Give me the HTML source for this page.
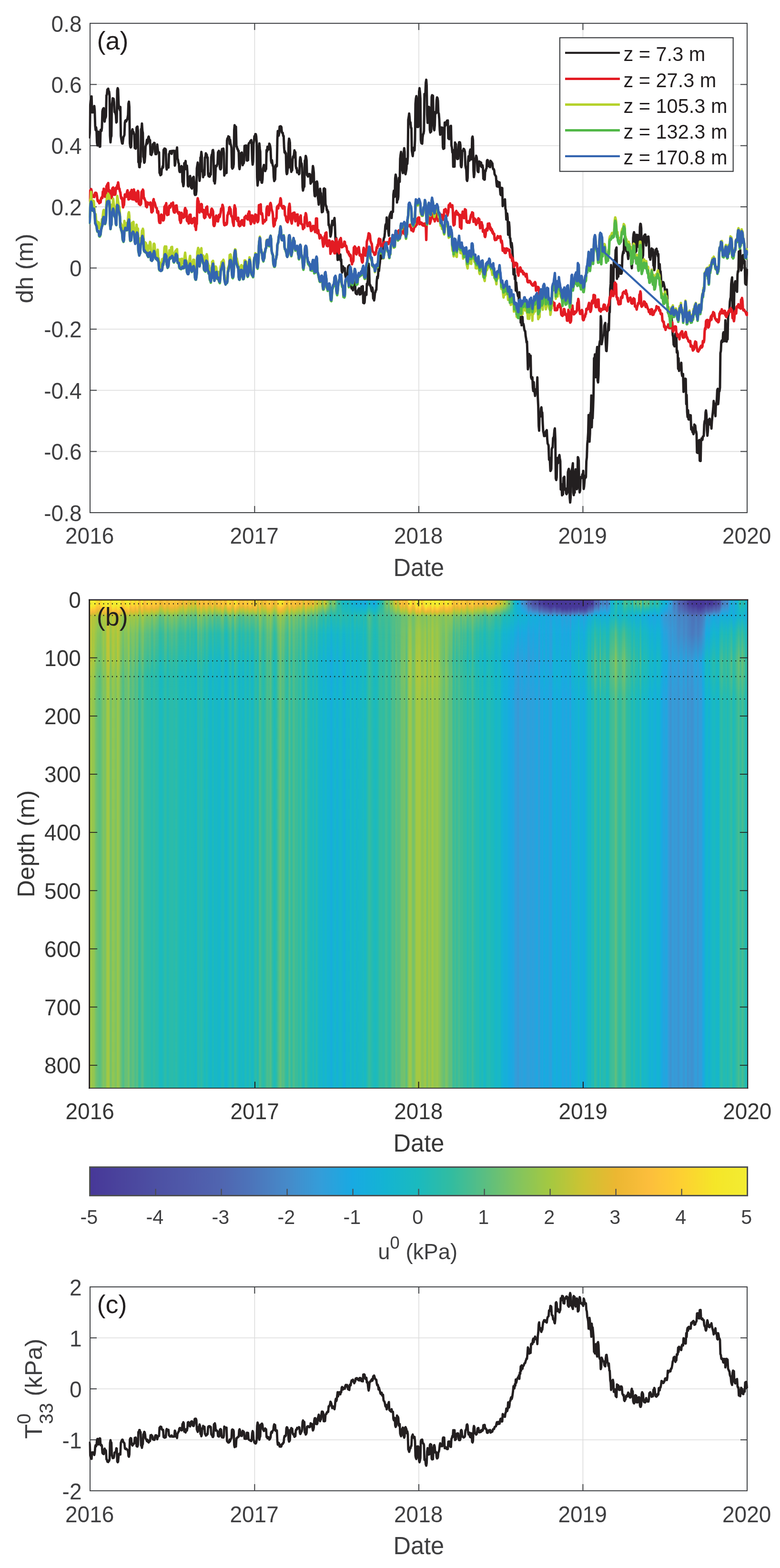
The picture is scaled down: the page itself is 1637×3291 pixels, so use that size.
<!DOCTYPE html><html><head><meta charset="utf-8"><title>Figure</title><style>
html,body{margin:0;padding:0;background:#fff}
#fig{position:relative;width:1637px;height:3291px;overflow:hidden;background:#fff;font-family:"Liberation Sans",sans-serif}
.hm{position:absolute;left:187.6px;top:1259.0px;width:1381.6px;height:1024.9px}
svg{position:absolute;left:0;top:0}
text{font-family:"Liberation Sans",sans-serif}
#h0{background:linear-gradient(90deg,#f3ea2f 0.07%,#f2ec32 0.14%,#f2ec32 0.22%,#f2ec32 0.29%,#f2ec32 0.36%,#f2ec32 0.43%,#f2ec32 0.51%,#f2ec32 0.58%,#f2ec32 0.65%,#f2ec32 0.72%,#f2ec31 0.80%,#f5e629 0.87%,#f6e429 0.94%,#f5e529 1.01%,#f9db2d 1.09%,#fdcf32 1.16%,#fbd430 1.23%,#f8de2c 1.30%,#f8dd2c 1.38%,#fcd131 1.45%,#fdcc34 1.52%,#fdcc34 1.59%,#f7e02b 1.66%,#f6e329 1.74%,#f7e22a 1.81%,#f5e628 1.88%,#f2ec32 1.95%,#f2ec32 2.03%,#f2ec32 2.10%,#f2ec32 2.17%,#f3e92d 2.24%,#f4e92d 2.32%,#f3ea2e 2.39%,#f3ea2f 2.46%,#f2ec32 2.53%,#f2ec32 2.61%,#f2ec32 2.68%,#f2ec32 2.75%,#f2ec32 2.82%,#f2ec32 2.90%,#f2ec32 2.97%,#f2ec32 3.04%,#f9db2d 3.11%,#fcd231 3.18%,#fad92e 3.26%,#f6e329 3.33%,#f2ec32 3.40%,#f2ec32 3.47%,#f2ec32 3.55%,#f2ec32 3.62%,#f2ec32 3.69%,#f2ec32 3.76%,#f2ec32 3.84%,#f2ec31 3.91%,#f3eb30 3.98%,#f4e92c 4.05%,#f4e82c 4.13%,#f2ec32 4.20%,#f2ec32 4.27%,#f2ec32 4.34%,#f2ec32 4.42%,#f2ec32 4.49%,#f2ec32 4.56%,#f2ec32 4.63%,#f3eb30 4.70%,#fad92e 4.78%,#fbd530 4.85%,#fdd132 4.92%,#fdd032 4.99%,#fcd331 5.07%,#fad82e 5.14%,#f9da2e 5.21%,#f9db2d 5.28%,#f4e72a 5.36%,#f4e92c 5.43%,#f4e92d 5.50%,#f4e82c 5.57%,#f4e92d 5.65%,#f3e92d 5.72%,#f3ea2f 5.79%,#f2ec32 5.86%,#f2ec32 5.94%,#f2ec32 6.01%,#f4e82c 6.08%,#fdce33 6.15%,#fdcc34 6.22%,#fdcc34 6.30%,#fbd72f 6.37%,#f7e02b 6.44%,#f6e329 6.51%,#f8df2b 6.59%,#f7e02b 6.66%,#f8de2c 6.73%,#f9dc2d 6.80%,#fdcb35 6.88%,#fdcd34 6.95%,#fdcb35 7.02%,#fcd430 7.09%,#f5e628 7.17%,#f5e629 7.24%,#f5e528 7.31%,#fdce33 7.38%,#f9bd3a 7.46%,#f6bb38 7.53%,#f3ba37 7.60%,#f7bc39 7.67%,#f9bd3a 7.74%,#f9db2d 7.82%,#f6e429 7.89%,#f4e72a 7.96%,#f6e22a 8.03%,#f8dd2c 8.11%,#fcc03b 8.18%,#fcbe3c 8.25%,#f8bc3a 8.32%,#fabd3b 8.40%,#fcc538 8.47%,#fdcd34 8.54%,#fdcf33 8.61%,#fcd331 8.69%,#fcd231 8.76%,#fcd231 8.83%,#fbd72f 8.90%,#fad92e 8.98%,#fbd72f 9.05%,#fcd331 9.12%,#fbd430 9.19%,#fcc439 9.26%,#fcc439 9.34%,#fcc339 9.41%,#fcc538 9.48%,#fdc737 9.55%,#fdce33 9.63%,#fdce33 9.70%,#fdd032 9.77%,#fdd032 9.84%,#fdcc34 9.92%,#fcc538 9.99%,#fcc439 10.06%,#fcc439 10.13%,#fcc638 10.21%,#fdcd34 10.28%,#fdcb35 10.35%,#fcc638 10.42%,#fcc638 10.50%,#fcc538 10.57%,#edb833 10.64%,#ecb732 10.71%,#eab732 10.78%,#ecb732 10.86%,#edb833 10.93%,#f1ba36 11.00%,#f2ba36 11.07%,#f3ba37 11.15%,#fcbf3c 11.22%,#fdc837 11.29%,#fdc936 11.36%,#fcc737 11.44%,#fdc936 11.51%,#fdc936 11.58%,#f6bc38 11.65%,#f1b935 11.73%,#f3ba37 11.80%,#f4bb37 11.87%,#f5bb38 11.94%,#f5bb38 12.02%,#fcc439 12.09%,#fcc538 12.16%,#fcc737 12.23%,#fcc737 12.30%,#fcc638 12.38%,#fcc439 12.45%,#fcc638 12.52%,#fdc737 12.59%,#fcc737 12.67%,#fdc737 12.74%,#fdc737 12.81%,#fcc637 12.88%,#f6bb38 12.96%,#f6bc39 13.03%,#fcc638 13.10%,#fdc837 13.17%,#fdc837 13.25%,#fdc836 13.32%,#fcbe3c 13.39%,#fabd3b 13.46%,#f7bc39 13.54%,#f3ba37 13.61%,#eeb834 13.68%,#eeb834 13.75%,#eeb834 13.82%,#f2ba36 13.90%,#f4bb37 13.97%,#f3ba37 14.04%,#e1bb32 14.11%,#dbbe32 14.19%,#d4c032 14.26%,#dabe32 14.33%,#f7bc39 14.40%,#f4bb37 14.48%,#f8bc3a 14.55%,#f7bc39 14.62%,#f2ba36 14.69%,#f4bb37 14.77%,#f1ba36 14.84%,#e2ba32 14.91%,#d5c032 14.98%,#d5c032 15.06%,#debc32 15.13%,#e5b932 15.20%,#e8b832 15.27%,#e1bb32 15.34%,#d3c032 15.42%,#d2c132 15.49%,#d0c232 15.56%,#d5c032 15.63%,#e5b932 15.71%,#e6b932 15.78%,#e4ba32 15.85%,#d5c032 15.92%,#c2c436 16.00%,#c1c537 16.07%,#c1c537 16.14%,#c6c435 16.21%,#e5b932 16.29%,#f4bb37 16.36%,#f7bc39 16.43%,#f5bb38 16.50%,#ecb733 16.57%,#eab732 16.65%,#dfbc32 16.72%,#e6b932 16.79%,#fcc03b 16.86%,#fcc13a 16.94%,#fcc538 17.01%,#fbbe3b 17.08%,#eeb834 17.15%,#ecb833 17.23%,#e8b832 17.30%,#edb833 17.37%,#edb833 17.44%,#f6bb38 17.52%,#fcc03b 17.59%,#fcc339 17.66%,#fcc339 17.73%,#fcc339 17.81%,#fcc03b 17.88%,#fcc03b 17.95%,#ebb732 18.02%,#e8b832 18.09%,#e8b832 18.17%,#e7b932 18.24%,#e9b832 18.31%,#ecb732 18.38%,#f1ba36 18.46%,#fcc13a 18.53%,#fcc339 18.60%,#fcc638 18.67%,#fdc836 18.75%,#fcc637 18.82%,#edb833 18.89%,#dfbc32 18.96%,#dbbe32 19.04%,#e1bb32 19.11%,#f3ba37 19.18%,#f4bb38 19.25%,#f4bb37 19.33%,#f6bb38 19.40%,#f9bd3a 19.47%,#fcc638 19.54%,#fcc737 19.61%,#fcc637 19.69%,#fcbe3c 19.76%,#f2ba36 19.83%,#f1b935 19.90%,#f1ba36 19.98%,#fcbf3b 20.05%,#fdc836 20.12%,#fdc836 20.19%,#fdc836 20.27%,#fdca36 20.34%,#fcc538 20.41%,#eab732 20.48%,#ecb732 20.56%,#ecb833 20.63%,#eeb834 20.70%,#eeb834 20.77%,#f6bb38 20.85%,#fbd530 20.92%,#fbd62f 20.99%,#fad82f 21.06%,#fad92e 21.13%,#fad82e 21.21%,#fcd331 21.28%,#fcd331 21.35%,#fdd132 21.42%,#fdce33 21.50%,#fdcb35 21.57%,#f5bb38 21.64%,#f1ba36 21.71%,#f2ba36 21.79%,#f3ba37 21.86%,#fbbe3c 21.93%,#f6e429 22.00%,#f5e729 22.08%,#f5e629 22.15%,#f5e629 22.22%,#f9db2d 22.29%,#fdcc34 22.37%,#fdcb35 22.44%,#fdc936 22.51%,#fdc837 22.58%,#fdc737 22.65%,#f7bc39 22.73%,#f1ba36 22.80%,#f4bb37 22.87%,#fcc339 22.94%,#fcc339 23.02%,#fcc538 23.09%,#fcc439 23.16%,#f8bc3a 23.23%,#f6bb38 23.31%,#f8bd3a 23.38%,#f8bc3a 23.45%,#fcc23a 23.52%,#fdcd34 23.60%,#fdcd34 23.67%,#fdcc34 23.74%,#fdcd34 23.81%,#fcc13a 23.89%,#fabd3b 23.96%,#fbbe3b 24.03%,#fbbd3b 24.10%,#fdce33 24.17%,#fdd032 24.25%,#fdd132 24.32%,#fdd131 24.39%,#fcd331 24.46%,#fcd231 24.54%,#fcd331 24.61%,#fdc936 24.68%,#f9bd3a 24.75%,#f7bc39 24.83%,#fcc638 24.90%,#fdd132 24.97%,#fad72f 25.04%,#fad82f 25.12%,#f9db2d 25.19%,#f8dd2c 25.26%,#f9da2d 25.33%,#fdd131 25.41%,#e7b932 25.48%,#d6bf32 25.55%,#ddbc32 25.62%,#ebb732 25.69%,#fdcc34 25.77%,#fdce33 25.84%,#fdc836 25.91%,#f8bc3a 25.98%,#e0bb32 26.06%,#debc32 26.13%,#dbbd32 26.20%,#dfbc32 26.27%,#edb833 26.35%,#f2ba36 26.42%,#f5bb38 26.49%,#f5bb38 26.56%,#f4bb37 26.64%,#efb934 26.71%,#f0b935 26.78%,#f3ba36 26.85%,#fdc837 26.93%,#fdc737 27.00%,#fdcb35 27.07%,#fdc936 27.14%,#fdc936 27.21%,#fdcc34 27.29%,#fdcf32 27.36%,#fdce33 27.43%,#fdca35 27.50%,#fcc03b 27.58%,#f8bc3a 27.65%,#fabd3b 27.72%,#f7bc39 27.79%,#f5bb38 27.87%,#f3ba37 27.94%,#e6b932 28.01%,#debc32 28.08%,#e0bb32 28.16%,#e6b932 28.23%,#f5bb38 28.30%,#f5bb38 28.37%,#f4bb37 28.45%,#fcc339 28.52%,#f9db2d 28.59%,#f7e02b 28.66%,#f8dd2c 28.73%,#f8dd2c 28.81%,#f5e529 28.88%,#f6e329 28.95%,#f5e628 29.02%,#f5e729 29.10%,#f5e628 29.17%,#f7df2b 29.24%,#f8de2b 29.31%,#f8de2c 29.39%,#f9da2d 29.46%,#fbd62f 29.53%,#fdc936 29.60%,#fcc638 29.68%,#fcc638 29.75%,#fcc439 29.82%,#f8bc39 29.89%,#ecb833 29.97%,#ecb733 30.04%,#efb935 30.11%,#f2ba36 30.18%,#fdcb35 30.25%,#fbd62f 30.33%,#fbd530 30.40%,#fdd132 30.47%,#f2ba36 30.54%,#f2ba36 30.62%,#eeb834 30.69%,#f2ba36 30.76%,#f3ba37 30.83%,#fcbf3c 30.91%,#fcc03b 30.98%,#fcc13a 31.05%,#fcc638 31.12%,#fcc638 31.20%,#fcc538 31.27%,#f9bd3a 31.34%,#f2ba36 31.41%,#f2ba36 31.49%,#eeb834 31.56%,#efb934 31.63%,#eeb834 31.70%,#edb833 31.77%,#ebb732 31.85%,#eeb834 31.92%,#fbbd3b 31.99%,#fcbf3b 32.06%,#fabd3b 32.14%,#f7bc39 32.21%,#f5bb38 32.28%,#e6b932 32.35%,#cfc232 32.43%,#cec332 32.50%,#d3c132 32.57%,#d4c032 32.64%,#f4bb37 32.72%,#fabd3b 32.79%,#fcc13a 32.86%,#fcc03b 32.93%,#fabd3b 33.01%,#eab832 33.08%,#ebb732 33.15%,#e7b932 33.22%,#e8b832 33.29%,#e9b832 33.37%,#ebb732 33.44%,#ebb732 33.51%,#e1bb32 33.58%,#dabe32 33.66%,#dcbd32 33.73%,#ddbd32 33.80%,#eab732 33.87%,#f3ba37 33.95%,#f2ba36 34.02%,#edb833 34.09%,#cdc332 34.16%,#bec538 34.24%,#bdc538 34.31%,#c5c435 34.38%,#dcbd32 34.45%,#dbbd32 34.53%,#dcbd32 34.60%,#d0c232 34.67%,#b8c63a 34.74%,#adc73e 34.81%,#acc73e 34.89%,#bfc537 34.96%,#cec332 35.03%,#c8c434 35.10%,#c5c435 35.18%,#aac73f 35.25%,#98c64d 35.32%,#99c74c 35.39%,#97c64d 35.47%,#a1c844 35.54%,#cfc232 35.61%,#cfc232 35.68%,#ccc333 35.76%,#c5c435 35.83%,#a8c840 35.90%,#a4c842 35.97%,#9fc746 36.05%,#9bc74a 36.12%,#97c64d 36.19%,#96c64e 36.26%,#82c45f 36.33%,#79c367 36.41%,#73c26c 36.48%,#6dc171 36.55%,#5cbe81 36.62%,#5dbf7f 36.70%,#67c076 36.77%,#77c268 36.84%,#81c460 36.91%,#7ac366 36.99%,#7fc362 37.06%,#7dc363 37.13%,#86c45c 37.20%,#82c45f 37.28%,#67c077 37.35%,#4fbd8a 37.42%,#52be88 37.49%,#51be88 37.57%,#3cbc99 37.64%,#29bbab 37.71%,#36bc9d 37.78%,#2fbca3 37.85%,#28bbad 37.93%,#2dbca6 38.00%,#28bbad 38.07%,#2dbca6 38.14%,#26bbb0 38.22%,#23bbb4 38.29%,#19b9c2 38.36%,#19b8c3 38.43%,#1bbabf 38.51%,#1bbabf 38.58%,#1ab9c1 38.65%,#1bbabf 38.72%,#1bbabe 38.80%,#19b8c5 38.87%,#17b7ca 38.94%,#18b7c7 39.01%,#18b8c5 39.09%,#17b6ca 39.16%,#18b7c6 39.23%,#1cbabd 39.30%,#1dbabb 39.37%,#1dbabb 39.45%,#1bbabf 39.52%,#17b6ca 39.59%,#17b7c8 39.66%,#16b5cd 39.74%,#15b2d5 39.81%,#15b1d7 39.88%,#15b1d7 39.95%,#16b0d8 40.03%,#15b2d5 40.10%,#14b3d4 40.17%,#15b4d0 40.24%,#14b3d3 40.32%,#15b3d4 40.39%,#16aedc 40.46%,#17addc 40.53%,#16afdb 40.61%,#17addd 40.68%,#16afda 40.75%,#16afda 40.82%,#16b0d9 40.89%,#16afd9 40.97%,#16afda 41.04%,#17addd 41.11%,#17addd 41.18%,#16aedc 41.26%,#15b1d7 41.33%,#15b2d6 41.40%,#15b2d6 41.47%,#15b2d5 41.55%,#1da8e0 41.62%,#1ea7e0 41.69%,#20a7e0 41.76%,#1ca8e1 41.84%,#17addd 41.91%,#16aedb 41.98%,#17addd 42.05%,#16afda 42.13%,#14b3d3 42.20%,#14b4d1 42.27%,#18b7c7 42.34%,#1ebaba 42.41%,#1bbabd 42.49%,#16b6cc 42.56%,#14b3d4 42.63%,#15b3d4 42.70%,#15b2d6 42.78%,#16b0d8 42.85%,#16afda 42.92%,#15b1d6 42.99%,#16b0d9 43.07%,#18aae1 43.14%,#18abe1 43.21%,#19a9e2 43.28%,#17acdf 43.36%,#16aedb 43.43%,#16afda 43.50%,#16b0d9 43.57%,#14b3d4 43.65%,#16b6cb 43.72%,#17b6cb 43.79%,#17b7c9 43.86%,#1bbabe 43.93%,#1ab9c1 44.01%,#1dbabb 44.08%,#22bbb4 44.15%,#2bbba9 44.22%,#2dbca7 44.30%,#29bbac 44.37%,#2bbba9 44.44%,#34bc9e 44.51%,#34bc9f 44.59%,#3cbc99 44.66%,#54be87 44.73%,#58be84 44.80%,#5fbf7d 44.88%,#6fc170 44.95%,#79c367 45.02%,#72c26d 45.09%,#85c45d 45.17%,#82c45f 45.24%,#7ec362 45.31%,#72c26d 45.38%,#64c079 45.45%,#60bf7d 45.53%,#8dc556 45.60%,#90c653 45.67%,#93c650 45.74%,#95c64e 45.82%,#92c651 45.89%,#8fc554 45.96%,#97c64d 46.03%,#97c64d 46.11%,#afc73d 46.18%,#c8c434 46.25%,#c0c537 46.32%,#bcc538 46.40%,#debc32 46.47%,#eab732 46.54%,#e6b932 46.61%,#dabe32 46.69%,#adc73e 46.76%,#b8c63a 46.83%,#b6c63b 46.90%,#c8c434 46.97%,#e3ba32 47.05%,#dfbc32 47.12%,#edb833 47.19%,#fcc03b 47.26%,#fcc438 47.34%,#fcc439 47.41%,#f7bc39 47.48%,#f0b935 47.55%,#edb833 47.63%,#f3ba37 47.70%,#fcc439 47.77%,#fdca35 47.84%,#fcc637 47.92%,#ecb833 47.99%,#ecb732 48.06%,#efb834 48.13%,#f3ba37 48.20%,#fabd3b 48.28%,#f9bd3a 48.35%,#fcd231 48.42%,#f3e92e 48.49%,#f3eb30 48.57%,#f3eb30 48.64%,#f4e82c 48.71%,#f4e82b 48.78%,#f5e629 48.86%,#f5e628 48.93%,#fdcb35 49.00%,#fcc438 49.07%,#fcc13a 49.15%,#fdc837 49.22%,#fdcb35 49.29%,#fdcb35 49.36%,#fdca35 49.44%,#f6e22a 49.51%,#f2ec32 49.58%,#f2ec32 49.65%,#f2ec32 49.72%,#f2ec31 49.80%,#f5e729 49.87%,#f5e629 49.94%,#f5e729 50.01%,#f2ec32 50.09%,#f2ec32 50.16%,#f2ec32 50.23%,#f2ec32 50.30%,#fbd72f 50.38%,#fdd032 50.45%,#fdd132 50.52%,#fdd132 50.59%,#fad92e 50.67%,#f8dd2c 50.74%,#f8df2b 50.81%,#f3ea2f 50.88%,#f2ec32 50.96%,#f2ec32 51.03%,#f2ec32 51.10%,#f2ec32 51.17%,#f2ec32 51.24%,#f2ec32 51.32%,#f4e92c 51.39%,#f4e92d 51.46%,#f2ec32 51.53%,#f2ec32 51.61%,#f2ec32 51.68%,#f6e32a 51.75%,#f7df2b 51.82%,#f7e12a 51.90%,#f4e82b 51.97%,#f2ec32 52.04%,#f2ec32 52.11%,#f2ec32 52.19%,#f2ec32 52.26%,#f5e629 52.33%,#f6e329 52.40%,#f5e628 52.48%,#f3eb30 52.55%,#f2ec31 52.62%,#f2ec31 52.69%,#f2ec32 52.76%,#f2ec32 52.84%,#f2ec32 52.91%,#f2ec32 52.98%,#f2ec32 53.05%,#f3eb30 53.13%,#f4e82c 53.20%,#f7e12a 53.27%,#f8dd2c 53.34%,#f6e22a 53.42%,#f5e528 53.49%,#f6e429 53.56%,#f6e529 53.63%,#fbd430 53.71%,#fdca35 53.78%,#fdcb35 53.85%,#fdca35 53.92%,#f5e729 54.00%,#f5e729 54.07%,#f4e82b 54.14%,#f4e82b 54.21%,#f4e72a 54.28%,#f4e92c 54.36%,#f4e82b 54.43%,#f5e729 54.50%,#fad82e 54.57%,#fad92e 54.65%,#fbd62f 54.72%,#f8de2c 54.79%,#f5e629 54.86%,#f5e729 54.94%,#fbd62f 55.01%,#fdcc34 55.08%,#fcc737 55.15%,#fdc837 55.23%,#f5bb38 55.30%,#f7bc39 55.37%,#f5bb38 55.44%,#f6bb38 55.52%,#fdd132 55.59%,#fdcf32 55.66%,#fdcb35 55.73%,#fcc03b 55.80%,#fcbf3b 55.88%,#fcbe3c 55.95%,#fcbf3c 56.02%,#fcc637 56.09%,#fdd032 56.17%,#fcd131 56.24%,#fdd131 56.31%,#fdce33 56.38%,#f8bc3a 56.46%,#f3ba37 56.53%,#f5bb38 56.60%,#fdc737 56.67%,#fcc737 56.75%,#fdc837 56.82%,#fdc936 56.89%,#fdc936 56.96%,#fdc837 57.04%,#fcc03b 57.11%,#f4bb37 57.18%,#f1ba36 57.25%,#e9b832 57.32%,#dfbc32 57.40%,#e2bb32 57.47%,#f4bb37 57.54%,#fcc03b 57.61%,#fcbf3c 57.69%,#fabd3b 57.76%,#fcc638 57.83%,#fdc936 57.90%,#fcc538 57.98%,#fcbe3c 58.05%,#fcc438 58.12%,#fad82e 58.19%,#fad82e 58.27%,#fdc737 58.34%,#ecb733 58.41%,#e9b832 58.48%,#f4bb37 58.56%,#fcbe3c 58.63%,#fcbf3c 58.70%,#fcc13a 58.77%,#fcc03b 58.84%,#fbbe3b 58.92%,#f0b935 58.99%,#eeb834 59.06%,#eeb834 59.13%,#f8bc3a 59.21%,#f9bd3a 59.28%,#f8bc3a 59.35%,#f8bc39 59.42%,#f5bb38 59.50%,#f6bc39 59.57%,#f3ba37 59.64%,#f4bb37 59.71%,#f4bb37 59.79%,#ebb732 59.86%,#e4ba32 59.93%,#e2bb32 60.00%,#e1bb32 60.08%,#edb833 60.15%,#efb834 60.22%,#f1b935 60.29%,#f2ba36 60.36%,#fabd3b 60.44%,#fbbd3b 60.51%,#fabd3b 60.58%,#f6bc38 60.65%,#f4bb37 60.73%,#f5bb38 60.80%,#f4bb37 60.87%,#f6bc38 60.94%,#f8bd3a 61.02%,#f8bc3a 61.09%,#f7bc39 61.16%,#f7bc39 61.23%,#f3ba37 61.31%,#f1b935 61.38%,#f1b935 61.45%,#f0b935 61.52%,#ecb732 61.60%,#eab732 61.67%,#e8b832 61.74%,#e6b932 61.81%,#dabe32 61.88%,#d7bf32 61.96%,#dbbe32 62.03%,#d7bf32 62.10%,#dbbe32 62.17%,#d5c032 62.25%,#d8bf32 62.32%,#d3c032 62.39%,#c6c435 62.46%,#c1c537 62.54%,#c1c537 62.61%,#cfc232 62.68%,#d1c232 62.75%,#a5c841 62.83%,#a7c840 62.90%,#acc73e 62.97%,#b3c63c 63.04%,#b1c73d 63.12%,#afc73d 63.19%,#9dc748 63.26%,#93c650 63.33%,#88c55a 63.40%,#8fc554 63.48%,#8ec555 63.55%,#70c16e 63.62%,#65c078 63.69%,#79c367 63.77%,#76c26a 63.84%,#5cbe80 63.91%,#56be85 63.98%,#47bd90 64.06%,#3ebd97 64.13%,#49bd8f 64.20%,#3ebd97 64.27%,#2dbca6 64.35%,#20bab8 64.42%,#19b8c5 64.49%,#1ab9c1 64.56%,#19b8c5 64.64%,#17b6ca 64.71%,#14b4d2 64.78%,#15b2d4 64.85%,#15b3d4 64.92%,#16afd9 65.00%,#16aedc 65.07%,#17acdf 65.14%,#17addd 65.21%,#1ba9e1 65.29%,#16aedb 65.36%,#27a3dd 65.43%,#25a4de 65.50%,#3b95d2 65.58%,#359cd8 65.65%,#3f91cf 65.72%,#3a96d3 65.79%,#3a96d3 65.87%,#3f91cf 65.94%,#4091ce 66.01%,#438dcc 66.08%,#468ac9 66.16%,#4689c8 66.23%,#4884c5 66.30%,#4980c2 66.37%,#4a7bbf 66.44%,#4a7bbf 66.52%,#4e6cb5 66.59%,#4f5fad 66.66%,#5061ae 66.73%,#5065b0 66.81%,#4f6bb4 66.88%,#5065b0 66.95%,#5065b0 67.02%,#5063af 67.10%,#4f59aa 67.17%,#4f59a9 67.24%,#4f59a9 67.31%,#4e56a7 67.39%,#4d52a4 67.46%,#4e55a7 67.53%,#4d52a5 67.60%,#4d50a3 67.68%,#4c4ea2 67.75%,#4d50a3 67.82%,#4d52a4 67.89%,#4d52a4 67.96%,#4e54a6 68.04%,#4e57a8 68.11%,#4c4ba0 68.18%,#49419c 68.25%,#473898 68.33%,#473898 68.40%,#493f9b 68.47%,#483d9a 68.54%,#49419c 68.62%,#4a449d 68.69%,#49429c 68.76%,#49419c 68.83%,#473999 68.91%,#473898 68.98%,#473898 69.05%,#473898 69.12%,#473898 69.20%,#473898 69.27%,#473898 69.34%,#473898 69.41%,#473898 69.48%,#473898 69.56%,#473898 69.63%,#473898 69.70%,#473898 69.77%,#473898 69.85%,#473898 69.92%,#473898 69.99%,#473898 70.06%,#473898 70.14%,#473898 70.21%,#473898 70.28%,#473898 70.35%,#473898 70.43%,#473898 70.50%,#473898 70.57%,#473898 70.64%,#473898 70.72%,#473898 70.79%,#473898 70.86%,#473898 70.93%,#473898 71.00%,#473898 71.08%,#473898 71.15%,#473898 71.22%,#473898 71.29%,#473898 71.37%,#473898 71.44%,#473898 71.51%,#473898 71.58%,#473898 71.66%,#473898 71.73%,#473898 71.80%,#473898 71.87%,#473898 71.95%,#473898 72.02%,#473898 72.09%,#473898 72.16%,#473898 72.24%,#473898 72.31%,#473898 72.38%,#473898 72.45%,#473898 72.52%,#473898 72.60%,#473898 72.67%,#473898 72.74%,#473898 72.81%,#473898 72.89%,#473898 72.96%,#473898 73.03%,#473898 73.10%,#473898 73.18%,#473898 73.25%,#473898 73.32%,#473898 73.39%,#473898 73.47%,#473898 73.54%,#473898 73.61%,#473898 73.68%,#473898 73.76%,#473898 73.83%,#473898 73.90%,#473898 73.97%,#473898 74.04%,#473898 74.12%,#473898 74.19%,#473898 74.26%,#473898 74.33%,#473898 74.41%,#473898 74.48%,#473898 74.55%,#473898 74.62%,#473898 74.70%,#473898 74.77%,#473898 74.84%,#473898 74.91%,#473898 74.99%,#473898 75.06%,#473898 75.13%,#473898 75.20%,#473898 75.28%,#473898 75.35%,#473898 75.42%,#473898 75.49%,#473898 75.56%,#473898 75.64%,#473898 75.71%,#473898 75.78%,#473898 75.85%,#483a99 75.93%,#473898 76.00%,#473898 76.07%,#483b99 76.14%,#49409b 76.22%,#4c4aa0 76.29%,#473a99 76.36%,#493e9b 76.43%,#483c9a 76.51%,#4a459e 76.58%,#4d51a3 76.65%,#4f68b2 76.72%,#5065b0 76.80%,#4f68b2 76.87%,#4f5cab 76.94%,#4f5fad 77.01%,#4e6cb5 77.08%,#4d72b8 77.16%,#5063af 77.23%,#4e57a8 77.30%,#4f5aaa 77.37%,#4f6bb4 77.45%,#4c77bc 77.52%,#4a7bbf 77.59%,#4b7abe 77.66%,#3899d5 77.74%,#3b96d3 77.81%,#4b78bc 77.88%,#4a7cbf 77.95%,#4980c2 78.03%,#4883c4 78.10%,#4884c5 78.17%,#4788c7 78.24%,#4090ce 78.31%,#3e92d0 78.39%,#4787c7 78.46%,#4c75ba 78.53%,#4d70b7 78.60%,#4c76bb 78.68%,#4883c4 78.75%,#4689c8 78.82%,#4091cf 78.89%,#458bca 78.97%,#329eda 79.04%,#2f9fdb 79.11%,#15b1d7 79.18%,#15b5cf 79.26%,#1ebaba 79.33%,#19b8c5 79.40%,#14b3d3 79.47%,#15b0d8 79.55%,#15b2d6 79.62%,#19b8c3 79.69%,#23bbb3 79.76%,#24bbb2 79.83%,#20bab8 79.91%,#2ebca5 79.98%,#3abc9a 80.05%,#3ebd97 80.12%,#17b7c8 80.20%,#17b7c9 80.27%,#18b7c8 80.34%,#17b7c8 80.41%,#1cbabd 80.49%,#1ebaba 80.56%,#1bbabe 80.63%,#1bbabe 80.70%,#19b8c4 80.78%,#19b8c4 80.85%,#19b8c4 80.92%,#22bbb5 80.99%,#2ebca5 81.07%,#32bca0 81.14%,#32bca1 81.21%,#4abd8e 81.28%,#56be85 81.35%,#4bbd8d 81.43%,#4dbd8c 81.50%,#3cbc99 81.57%,#35bc9e 81.64%,#36bc9d 81.72%,#38bc9c 81.79%,#2dbca7 81.86%,#2abbaa 81.93%,#2ebca5 82.01%,#32bca0 82.08%,#3ebd97 82.15%,#40bd95 82.22%,#3ebd97 82.30%,#29bbac 82.37%,#1cbabc 82.44%,#23bbb4 82.51%,#24bbb2 82.59%,#4fbd8a 82.66%,#61bf7c 82.73%,#65c078 82.80%,#5fbf7e 82.87%,#37bc9c 82.95%,#32bca0 83.02%,#34bc9e 83.09%,#41bd95 83.16%,#5ebf7e 83.24%,#5dbe7f 83.31%,#5dbe80 83.38%,#4dbd8c 83.45%,#3fbd96 83.53%,#41bd94 83.60%,#64c079 83.67%,#79c367 83.74%,#7bc365 83.82%,#71c16e 83.89%,#30bca2 83.96%,#27bbae 84.03%,#2bbbaa 84.11%,#30bca3 84.18%,#55be86 84.25%,#5cbe81 84.32%,#5bbe81 84.39%,#5fbf7d 84.47%,#58be83 84.54%,#48bd8f 84.61%,#4abd8e 84.68%,#53be88 84.76%,#58be84 84.83%,#57be84 84.90%,#59be83 84.97%,#4fbd8b 85.05%,#2ebca5 85.12%,#30bca3 85.19%,#27bbae 85.26%,#2cbca7 85.34%,#30bca3 85.41%,#3bbc99 85.48%,#33bc9f 85.55%,#32bca0 85.63%,#2fbca4 85.70%,#1ebaba 85.77%,#1bbabd 85.84%,#1bbabf 85.91%,#27bbae 85.99%,#34bc9e 86.06%,#36bc9d 86.13%,#39bc9b 86.20%,#31bca1 86.28%,#34bc9f 86.35%,#2dbca6 86.42%,#2fbca4 86.49%,#1ab9c0 86.57%,#1ebaba 86.64%,#1fbab9 86.71%,#19b9c3 86.78%,#19b8c5 86.86%,#15b5ce 86.93%,#15b2d5 87.00%,#14b4d2 87.07%,#14b3d3 87.15%,#14b4d2 87.22%,#14b4d1 87.29%,#14b3d3 87.36%,#15b2d5 87.43%,#16afda 87.51%,#16afd9 87.58%,#17aedc 87.65%,#16aedb 87.72%,#16b0d8 87.80%,#17abe0 87.87%,#2ea0db 87.94%,#27a3dd 88.01%,#2da0db 88.09%,#2ea0db 88.16%,#319fda 88.23%,#2f9fdb 88.30%,#329eda 88.38%,#379ad7 88.45%,#3998d5 88.52%,#3f91cf 88.59%,#4787c7 88.67%,#4882c3 88.74%,#4b79bd 88.81%,#4c77bc 88.88%,#4c75bb 88.95%,#4980c2 89.03%,#4785c6 89.10%,#4a7dc0 89.17%,#4a7ec0 89.24%,#4e6fb7 89.32%,#4d70b7 89.39%,#4f69b2 89.46%,#5063af 89.53%,#5063af 89.61%,#4f5fad 89.68%,#5060ad 89.75%,#5062ae 89.82%,#5062af 89.90%,#5064af 89.97%,#4f5eac 90.04%,#4f5bab 90.11%,#4f5baa 90.19%,#4f5cab 90.26%,#4d50a3 90.33%,#4d52a4 90.40%,#4d51a4 90.47%,#4e54a6 90.55%,#4f59a9 90.62%,#4e54a5 90.69%,#4b4aa0 90.76%,#4b489f 90.84%,#493f9b 90.91%,#49409b 90.98%,#493e9b 91.05%,#483b99 91.13%,#483c9a 91.20%,#493e9b 91.27%,#493e9b 91.34%,#493e9b 91.42%,#473898 91.49%,#473898 91.56%,#473898 91.63%,#473898 91.71%,#473898 91.78%,#473898 91.85%,#473898 91.92%,#473898 91.99%,#473898 92.07%,#473898 92.14%,#473898 92.21%,#473898 92.28%,#473898 92.36%,#473898 92.43%,#473898 92.50%,#473898 92.57%,#473898 92.65%,#473898 92.72%,#473898 92.79%,#473898 92.86%,#473898 92.94%,#473898 93.01%,#473898 93.08%,#473898 93.15%,#473898 93.23%,#473898 93.30%,#473898 93.37%,#473898 93.44%,#473998 93.51%,#473a99 93.59%,#493f9b 93.66%,#49429c 93.73%,#493f9b 93.80%,#473898 93.88%,#473898 93.95%,#473898 94.02%,#473998 94.09%,#483b99 94.17%,#483b99 94.24%,#483b99 94.31%,#473898 94.38%,#473898 94.46%,#473898 94.53%,#473898 94.60%,#483b99 94.67%,#493f9b 94.75%,#4a439c 94.82%,#4b489f 94.89%,#4b479e 94.96%,#4b479e 95.03%,#49419c 95.11%,#483e9a 95.18%,#4b479f 95.25%,#4b479e 95.32%,#4c4ba1 95.40%,#4d52a4 95.47%,#4d50a3 95.54%,#4b489f 95.61%,#4c4da1 95.69%,#4d51a4 95.76%,#4d52a4 95.83%,#4f5fad 95.90%,#4e6fb7 95.98%,#4c77bb 96.05%,#4a7cbf 96.12%,#4a7cbf 96.19%,#4a7bbf 96.27%,#4884c5 96.34%,#4787c7 96.41%,#4a7dc0 96.48%,#4883c4 96.55%,#4a7ec1 96.63%,#3c95d2 96.70%,#448ccb 96.77%,#4788c8 96.84%,#4a7ec1 96.92%,#4882c3 96.99%,#458bca 97.06%,#369bd8 97.13%,#319eda 97.21%,#2ea0db 97.28%,#22a5df 97.35%,#19aae2 97.42%,#18abe1 97.50%,#15b2d5 97.57%,#15b5ce 97.64%,#17b6ca 97.71%,#27a3dd 97.79%,#309fda 97.86%,#2ea0db 97.93%,#25a4de 98.00%,#14b3d4 98.07%,#15b4d0 98.15%,#14b4d1 98.22%,#15b1d7 98.29%,#16afd9 98.36%,#16afda 98.44%,#15b5d0 98.51%,#19b8c4 98.58%,#19b9c3 98.65%,#2cbca7 98.73%,#31bca2 98.80%,#32bca0 98.87%,#38bc9c 98.94%,#20bab7 99.02%,#1ab9c1 99.09%,#1abac0 99.16%,#1ebaba 99.23%,#2cbba8 99.31%,#2ebca6 99.38%,#2abbab 99.45%,#22bbb5 99.52%,#24bbb3 99.59%,#19b8c4 99.67%,#14b4d2 99.74%,#14b4d2 99.81%,#14b4d3 99.88%,#18b7c7 99.96%);}
#h1{background:linear-gradient(90deg,#f8de2b 0.07%,#f3e92d 0.22%,#f5e628 0.36%,#f6e329 0.51%,#f5e528 0.65%,#f7e22a 0.80%,#fdcf32 0.94%,#fdc936 1.09%,#fcc439 1.23%,#fdca36 1.38%,#fbbe3c 1.52%,#fdca35 1.66%,#fdcd34 1.81%,#f6e32a 1.95%,#f5e629 2.10%,#f9db2d 2.24%,#f9db2d 2.39%,#f4e82b 2.53%,#f2ec32 2.68%,#f2ec32 2.82%,#f2ec32 2.97%,#fdca36 3.11%,#fdc837 3.26%,#f4e82b 3.40%,#f3ea2f 3.55%,#f3e92d 3.69%,#f6e329 3.84%,#f7e12a 3.98%,#fad92e 4.13%,#f2ec32 4.27%,#f4e82c 4.42%,#f5e729 4.56%,#f8de2c 4.70%,#fcc439 4.85%,#fcc03b 4.99%,#fcc438 5.14%,#fdc836 5.28%,#fad82f 5.43%,#fbd62f 5.57%,#f9da2d 5.72%,#f6e22a 5.86%,#f4e82b 6.01%,#fcbf3b 6.15%,#fbbe3c 6.30%,#fdcc34 6.44%,#fdca35 6.59%,#fdcb35 6.73%,#fbbe3b 6.88%,#fabd3b 7.02%,#fdcf32 7.17%,#fdd032 7.31%,#eeb834 7.46%,#e4ba32 7.60%,#edb833 7.74%,#fdce33 7.89%,#fdcd34 8.03%,#f4bb37 8.18%,#ecb833 8.32%,#f5bb38 8.47%,#fcbe3c 8.61%,#fcc03b 8.76%,#fcc339 8.90%,#fcc339 9.05%,#fcc23a 9.19%,#f2ba36 9.34%,#f2ba36 9.48%,#fabd3b 9.63%,#fcbf3b 9.77%,#f9bd3a 9.92%,#f3ba37 10.06%,#f3ba37 10.21%,#f7bc39 10.35%,#f2ba36 10.50%,#d5c032 10.64%,#d2c132 10.78%,#d7bf32 10.93%,#e0bc32 11.07%,#ecb733 11.22%,#f6bb38 11.36%,#f7bc39 11.51%,#eab832 11.65%,#e1bb32 11.80%,#e2ba32 11.94%,#f2ba36 12.09%,#f4bb37 12.23%,#f4bb37 12.38%,#f4bb38 12.52%,#f5bb38 12.67%,#f4bb37 12.81%,#e5b932 12.96%,#f4bb37 13.10%,#f6bb38 13.25%,#edb833 13.39%,#e7b932 13.54%,#d9be32 13.68%,#d8bf32 13.82%,#e1bb32 13.97%,#cdc332 14.11%,#bfc537 14.26%,#e6b932 14.40%,#eab732 14.55%,#e0bc32 14.69%,#dcbd32 14.84%,#bdc538 14.98%,#c8c434 15.13%,#d3c132 15.27%,#bbc539 15.42%,#b7c63a 15.56%,#cfc232 15.71%,#cec232 15.85%,#acc73f 16.00%,#a8c840 16.14%,#cdc332 16.29%,#ebb732 16.43%,#dcbd32 16.57%,#cdc332 16.72%,#efb935 16.86%,#f4bb37 17.01%,#dbbd32 17.15%,#d4c032 17.30%,#d7bf32 17.44%,#edb833 17.59%,#f1b936 17.73%,#efb934 17.88%,#d5c032 18.02%,#d2c132 18.17%,#d1c132 18.31%,#dcbd32 18.46%,#f0b935 18.60%,#f4bb38 18.75%,#d4c032 18.89%,#c0c537 19.04%,#e0bc32 19.18%,#dfbc32 19.33%,#e5b932 19.47%,#f1ba36 19.61%,#ebb732 19.76%,#dcbd32 19.90%,#eeb834 20.05%,#f5bb38 20.19%,#f6bc39 20.34%,#d0c232 20.48%,#d3c132 20.63%,#d5c032 20.77%,#fabd3b 20.92%,#fcc03b 21.06%,#fcc23a 21.21%,#fcbf3b 21.35%,#f9bd3a 21.50%,#e2bb32 21.64%,#dbbd32 21.79%,#e9b832 21.93%,#fdce33 22.08%,#fdcc34 22.22%,#f7bc39 22.37%,#f4bb37 22.51%,#f1ba36 22.65%,#d9be32 22.80%,#eeb834 22.94%,#f0b935 23.09%,#e5b932 23.23%,#e4ba32 23.38%,#eeb834 23.52%,#f7bc39 23.67%,#f7bc39 23.81%,#e8b832 23.96%,#eab832 24.10%,#fabd3b 24.25%,#fabd3b 24.39%,#f9bd3a 24.54%,#f3ba37 24.68%,#e4ba32 24.83%,#f9bd3a 24.97%,#fcc03b 25.12%,#fcc538 25.26%,#fbbd3b 25.41%,#bec538 25.55%,#d5c032 25.69%,#fbbe3c 25.84%,#ecb732 25.98%,#ccc332 26.13%,#ccc332 26.27%,#debc32 26.42%,#e2ba32 26.56%,#dbbe32 26.71%,#e1bb32 26.85%,#f6bc38 27.00%,#f6bc39 27.14%,#f8bc3a 27.29%,#fbbe3b 27.43%,#f1ba36 27.58%,#ecb733 27.72%,#e4ba32 27.87%,#cec332 28.01%,#c9c434 28.16%,#e2bb32 28.30%,#e2ba32 28.45%,#fcc638 28.59%,#fdc737 28.73%,#fdcd34 28.88%,#fdd032 29.02%,#fdce33 29.17%,#fdc836 29.31%,#fcc638 29.46%,#f7bc39 29.60%,#f3ba37 29.75%,#e7b832 29.89%,#d5c032 30.04%,#dfbc32 30.18%,#fcc339 30.33%,#fcbf3b 30.47%,#debc32 30.62%,#debc32 30.76%,#efb834 30.91%,#f1b935 31.05%,#f3ba37 31.20%,#e9b832 31.34%,#e0bb32 31.49%,#ddbd32 31.63%,#d7bf32 31.77%,#d9be32 31.92%,#eeb834 32.06%,#e4ba32 32.21%,#cfc232 32.35%,#b4c63b 32.50%,#bbc539 32.64%,#ecb732 32.79%,#efb934 32.93%,#d3c132 33.08%,#cfc232 33.22%,#d1c132 33.37%,#d2c132 33.51%,#c0c537 33.66%,#c2c436 33.80%,#ddbd32 33.95%,#d6c032 34.09%,#a5c841 34.24%,#acc73e 34.38%,#c6c434 34.53%,#b4c63b 34.67%,#98c74c 34.81%,#a2c844 34.96%,#a9c73f 35.10%,#94c650 35.25%,#86c45b 35.39%,#89c559 35.54%,#adc73e 35.68%,#a8c840 35.83%,#90c653 35.97%,#84c45d 36.12%,#80c461 36.26%,#69c075 36.41%,#5ebf7e 36.55%,#4cbd8c 36.70%,#63bf7a 36.84%,#68c076 36.99%,#6ac074 37.13%,#6dc171 37.28%,#46bd91 37.42%,#48bd90 37.57%,#28bbad 37.71%,#2dbca7 37.85%,#2dbca6 38.00%,#2ebca5 38.14%,#25bbb1 38.29%,#1ab9c0 38.43%,#1cbabc 38.58%,#1cbabd 38.72%,#1ab9c1 38.87%,#19b9c3 39.01%,#18b8c6 39.16%,#1ebaba 39.30%,#1ebabb 39.45%,#18b8c6 39.59%,#17b7c9 39.74%,#14b3d3 39.88%,#15b3d4 40.03%,#15b5ce 40.17%,#16b6cc 40.32%,#15b3d4 40.46%,#15b2d5 40.61%,#15b3d4 40.75%,#14b4d2 40.89%,#14b3d4 41.04%,#15b1d6 41.18%,#14b4d2 41.33%,#14b4d1 41.47%,#16aedc 41.62%,#17addd 41.76%,#15b1d7 41.91%,#15b2d6 42.05%,#17b6ca 42.20%,#1bbabf 42.34%,#24bbb3 42.49%,#17b7c9 42.63%,#16b6cd 42.78%,#14b4d1 42.92%,#14b4d2 43.07%,#16b0d9 43.21%,#15b0d8 43.36%,#14b3d3 43.50%,#16b6cc 43.65%,#19b8c4 43.79%,#21bbb6 43.93%,#24bbb3 44.08%,#2fbca4 44.22%,#2cbba8 44.37%,#36bc9d 44.51%,#3cbd98 44.66%,#53be87 44.80%,#67c077 44.95%,#69c074 45.09%,#76c269 45.24%,#68c076 45.38%,#5abe82 45.53%,#83c45e 45.67%,#88c55a 45.82%,#83c45e 45.96%,#8bc558 46.11%,#afc73d 46.25%,#a6c841 46.40%,#d3c132 46.54%,#c2c436 46.69%,#a3c842 46.83%,#b2c63c 46.97%,#c8c434 47.12%,#edb833 47.26%,#f1ba36 47.41%,#ddbd32 47.55%,#e2bb32 47.70%,#f5bb38 47.84%,#d8bf32 47.99%,#dbbd32 48.13%,#ebb732 48.28%,#fcbf3c 48.42%,#f9da2d 48.57%,#fcd430 48.71%,#fdce33 48.86%,#f7bc39 49.00%,#efb934 49.15%,#f7bc39 49.29%,#f7bc39 49.44%,#f5e729 49.58%,#f4e82c 49.72%,#fdcf32 49.87%,#fdd032 50.01%,#f2eb31 50.16%,#f4e82c 50.30%,#fcbe3c 50.45%,#fcbe3c 50.59%,#fcc737 50.74%,#fad82e 50.88%,#f3e92e 51.03%,#f2ec32 51.17%,#f6e329 51.32%,#fbd530 51.46%,#f5e528 51.61%,#fdca35 51.75%,#fdca36 51.90%,#f3e92d 52.04%,#f3e92d 52.19%,#fdcf33 52.33%,#fdcd33 52.48%,#f8de2c 52.62%,#f4e72a 52.76%,#f4e92c 52.91%,#f8dd2c 53.05%,#fcd331 53.20%,#fdc837 53.34%,#fdcd34 53.49%,#fdcb35 53.63%,#f7bc39 53.78%,#f8bc3a 53.92%,#fdd032 54.07%,#fcd430 54.21%,#fcd430 54.36%,#fdcf32 54.50%,#fcc538 54.65%,#fdc936 54.79%,#fdcf32 54.94%,#fabd3b 55.08%,#f5bb38 55.23%,#e4ba32 55.37%,#e5b932 55.52%,#fbbe3b 55.66%,#eeb834 55.80%,#eeb834 55.95%,#f4bb37 56.09%,#fcbe3c 56.24%,#f8bc39 56.38%,#debc32 56.53%,#f4bb37 56.67%,#f4bb37 56.82%,#f5bb38 56.96%,#efb935 57.11%,#dfbc32 57.25%,#c8c434 57.40%,#dfbc32 57.54%,#ecb833 57.69%,#f2ba36 57.83%,#f2ba36 57.98%,#f2ba36 58.12%,#fcc23a 58.27%,#d6c032 58.41%,#e1bb32 58.56%,#ebb732 58.70%,#ecb833 58.84%,#dabe32 58.99%,#d8bf32 59.13%,#e6b932 59.28%,#e2ba32 59.42%,#e1bb32 59.57%,#dfbc32 59.71%,#d0c232 59.86%,#c6c435 60.00%,#d1c132 60.15%,#d9be32 60.29%,#e5b932 60.44%,#e7b932 60.58%,#dfbc32 60.73%,#debc32 60.87%,#e4ba32 61.02%,#e2bb32 61.16%,#dcbd32 61.31%,#d7bf32 61.45%,#cec332 61.60%,#c9c333 61.74%,#bac539 61.88%,#bcc538 62.03%,#bcc538 62.17%,#bac539 62.32%,#a8c840 62.46%,#a1c845 62.61%,#adc73e 62.75%,#8cc557 62.90%,#94c64f 63.04%,#90c653 63.19%,#7bc365 63.33%,#77c268 63.48%,#5dbe80 63.62%,#64c079 63.77%,#4abd8e 63.91%,#39bc9b 64.06%,#3abc9a 64.20%,#29bbac 64.35%,#18b8c6 64.49%,#18b8c6 64.64%,#14b4d1 64.78%,#14b3d3 64.92%,#16afda 65.07%,#16aedc 65.21%,#16b0d9 65.36%,#1ca8e1 65.50%,#2aa1dc 65.65%,#319eda 65.79%,#369bd7 65.94%,#3998d4 66.08%,#3d94d1 66.23%,#438dcb 66.37%,#4689c8 66.52%,#4e6db5 66.66%,#4d73b9 66.81%,#4d74ba 66.95%,#4d72b9 67.10%,#5065b0 67.24%,#5062ae 67.39%,#5061ae 67.53%,#4f5dac 67.68%,#4f5dac 67.82%,#4f5fac 67.96%,#5063af 68.11%,#4d52a4 68.25%,#4c4ba1 68.40%,#4d50a3 68.54%,#4e55a6 68.69%,#4d52a4 68.83%,#4b479f 68.98%,#4a449d 69.12%,#4a449d 69.27%,#4a459e 69.41%,#4a459e 69.56%,#493f9b 69.70%,#473898 69.85%,#473898 69.99%,#473898 70.14%,#483a99 70.28%,#483d9a 70.43%,#4a429c 70.57%,#4b489f 70.72%,#473898 70.86%,#473898 71.00%,#473898 71.15%,#473898 71.29%,#473898 71.44%,#473898 71.58%,#473898 71.73%,#473898 71.87%,#473898 72.02%,#473898 72.16%,#473898 72.31%,#473898 72.45%,#473898 72.60%,#473898 72.74%,#473898 72.89%,#473898 73.03%,#473898 73.18%,#473898 73.32%,#473898 73.47%,#473898 73.61%,#473898 73.76%,#473898 73.90%,#473898 74.04%,#473898 74.19%,#473898 74.33%,#473898 74.48%,#473898 74.62%,#473898 74.77%,#473898 74.91%,#473898 75.06%,#473898 75.20%,#473898 75.35%,#473898 75.49%,#473998 75.64%,#4a449d 75.78%,#4d4fa2 75.93%,#4a449d 76.07%,#4d52a4 76.22%,#4d4fa2 76.36%,#4d50a3 76.51%,#4f5fad 76.65%,#4b78bd 76.80%,#4f6bb4 76.94%,#4a7cbf 77.08%,#4d73b9 77.23%,#4f67b2 77.37%,#4786c6 77.52%,#468ac9 77.66%,#349dd9 77.81%,#4689c8 77.95%,#418fcd 78.10%,#3d93d1 78.24%,#369bd8 78.39%,#4883c4 78.53%,#4884c5 78.68%,#3e93d0 78.82%,#3b95d2 78.97%,#22a5df 79.11%,#16b5cd 79.26%,#19b8c4 79.40%,#15b2d5 79.55%,#19b8c3 79.69%,#23bbb3 79.83%,#2cbca7 79.98%,#32bca0 80.12%,#17b7c9 80.27%,#17b6ca 80.41%,#1ababf 80.56%,#1ab9c1 80.70%,#19b8c5 80.85%,#1fbab9 80.99%,#2dbca7 81.14%,#3dbd98 81.28%,#3cbc99 81.43%,#30bca2 81.57%,#2dbca7 81.72%,#25bbb1 81.86%,#27bbaf 82.01%,#2fbca4 82.15%,#2fbca4 82.30%,#1ab9c2 82.44%,#1dbabc 82.59%,#49bd8e 82.73%,#46bd91 82.87%,#27bbae 83.02%,#2dbca6 83.16%,#42bd94 83.31%,#34bc9f 83.45%,#30bca2 83.60%,#5fbf7d 83.74%,#51be89 83.89%,#1ebabb 84.03%,#25bbb1 84.18%,#42bd94 84.32%,#43bd93 84.47%,#31bca1 84.61%,#37bc9c 84.76%,#3abc9a 84.90%,#32bca1 85.05%,#22bbb4 85.19%,#20bab8 85.34%,#29bbac 85.48%,#23bbb3 85.63%,#19b8c4 85.77%,#18b7c8 85.91%,#25bbb1 86.06%,#28bbac 86.20%,#26bbb0 86.35%,#23bbb4 86.49%,#19b8c4 86.64%,#17b6cb 86.78%,#15b3d4 86.93%,#15b0d8 87.07%,#16b0d9 87.22%,#16afda 87.36%,#17abe0 87.51%,#18aae1 87.65%,#17acde 87.80%,#329eda 87.94%,#319eda 88.09%,#349dd9 88.23%,#359cd8 88.38%,#3a97d4 88.52%,#4689c9 88.67%,#4a7dc0 88.81%,#4b7bbe 88.95%,#4788c7 89.10%,#4980c2 89.24%,#4c74ba 89.39%,#4f68b2 89.53%,#5064af 89.68%,#4f68b2 89.82%,#4f6ab3 89.97%,#5061ae 90.11%,#5061ae 90.26%,#4f59a9 90.40%,#4f5bab 90.55%,#4f5baa 90.69%,#4d52a4 90.84%,#4c4ba1 90.98%,#4b479f 91.13%,#4b4aa0 91.27%,#4b49a0 91.42%,#49429c 91.56%,#493e9b 91.71%,#483e9a 91.85%,#4a439d 91.99%,#4a429c 92.14%,#493f9b 92.28%,#473898 92.43%,#473898 92.57%,#473a99 92.72%,#473898 92.86%,#483a99 93.01%,#483b99 93.15%,#483e9a 93.30%,#4a429c 93.44%,#4b4aa0 93.59%,#4d51a4 93.73%,#4b469e 93.88%,#4a449d 94.02%,#4c4ba0 94.17%,#4c4ca1 94.31%,#4c4aa0 94.46%,#4b4aa0 94.60%,#4d51a3 94.75%,#4e57a8 94.89%,#4e56a7 95.03%,#4d4fa3 95.18%,#4e55a7 95.32%,#4f5dac 95.47%,#4e56a7 95.61%,#4f5eac 95.76%,#4e6db5 95.90%,#4785c6 96.05%,#4689c9 96.19%,#418fcd 96.34%,#4689c8 96.48%,#458bca 96.63%,#3b96d3 96.77%,#468ac9 96.92%,#3d94d1 97.06%,#28a2dd 97.21%,#1ca8e1 97.35%,#17adde 97.50%,#15b5cf 97.64%,#23a5df 97.79%,#29a2dd 97.93%,#15b2d5 98.07%,#14b3d3 98.22%,#16b0d8 98.36%,#15b5d0 98.51%,#19b8c4 98.65%,#28bbad 98.80%,#2bbba9 98.94%,#19b9c3 99.09%,#1cbabd 99.23%,#25bbb1 99.38%,#1bbabe 99.52%,#17b7c9 99.67%,#14b3d4 99.81%,#16b6cb 99.96%);-webkit-mask-image:linear-gradient(180deg,transparent 9.2px,#000 14.3px);mask-image:linear-gradient(180deg,transparent 9.2px,#000 14.3px);}
#h2{background:linear-gradient(90deg,#fdc936 0.07%,#fad82e 0.22%,#fdcd34 0.36%,#fdcb35 0.51%,#fdcd33 0.65%,#fdca35 0.80%,#fcbf3c 0.94%,#f7bc39 1.09%,#f2ba36 1.23%,#f6bc39 1.38%,#edb833 1.52%,#f6bc39 1.66%,#f9bd3a 1.81%,#fdc936 1.95%,#fdce33 2.10%,#fcc638 2.24%,#fcc538 2.39%,#fcd331 2.53%,#f6e22a 2.68%,#f5e528 2.82%,#f7e02b 2.97%,#f9bd3a 3.11%,#f6bc39 3.26%,#fdd132 3.40%,#f9da2e 3.55%,#fbd62f 3.69%,#fdcc34 3.84%,#fdca35 3.98%,#fcc637 4.13%,#f6e429 4.27%,#fbd62f 4.42%,#fdd032 4.56%,#fdc737 4.70%,#f3ba37 4.85%,#efb934 4.99%,#f1ba36 5.14%,#f6bb38 5.28%,#fcc339 5.43%,#fcc13a 5.57%,#fcc538 5.72%,#fdca35 5.86%,#fdd032 6.01%,#efb934 6.15%,#eeb834 6.30%,#f9bd3a 6.44%,#f7bc39 6.59%,#f9bd3a 6.73%,#eeb834 6.88%,#ebb732 7.02%,#fbbd3b 7.17%,#fcbe3c 7.31%,#dbbd32 7.46%,#d0c232 7.60%,#d9be32 7.74%,#f9bd3b 7.89%,#f9bd3a 8.03%,#e7b832 8.18%,#d9be32 8.32%,#e4ba32 8.47%,#ebb732 8.61%,#ecb833 8.76%,#efb934 8.90%,#efb934 9.05%,#eeb834 9.19%,#ddbd32 9.34%,#dbbd32 9.48%,#e6b932 9.63%,#edb833 9.77%,#e9b832 9.92%,#debc32 10.06%,#debc32 10.21%,#e2bb32 10.35%,#dabe32 10.50%,#b7c63a 10.64%,#b5c63b 10.78%,#bbc539 10.93%,#c5c435 11.07%,#cfc232 11.22%,#e1bb32 11.36%,#e4ba32 11.51%,#d5c032 11.65%,#c8c434 11.80%,#c7c434 11.94%,#ddbc32 12.09%,#dfbc32 12.23%,#e1bb32 12.38%,#e1bb32 12.52%,#e2bb32 12.67%,#ddbc32 12.81%,#cdc332 12.96%,#e1bb32 13.10%,#e3ba32 13.25%,#d4c032 13.39%,#cdc332 13.54%,#bdc538 13.68%,#bbc539 13.82%,#c6c435 13.97%,#b3c63c 14.11%,#a7c840 14.26%,#cbc333 14.40%,#d2c132 14.55%,#c7c434 14.69%,#bec538 14.84%,#a3c843 14.98%,#adc73e 15.13%,#b9c539 15.27%,#a2c844 15.42%,#9ec747 15.56%,#b3c63c 15.71%,#b2c63c 15.85%,#97c64d 16.00%,#92c652 16.14%,#adc73e 16.29%,#d7bf32 16.43%,#c9c333 16.57%,#b4c63b 16.72%,#dabe32 16.86%,#e1bb32 17.01%,#c3c436 17.15%,#bcc538 17.30%,#bac539 17.44%,#d1c132 17.59%,#dabe32 17.73%,#d9be32 17.88%,#bbc539 18.02%,#b6c63b 18.17%,#b3c63c 18.31%,#bfc537 18.46%,#d7bf32 18.60%,#ddbc32 18.75%,#b3c63c 18.89%,#a2c844 19.04%,#c3c436 19.18%,#c1c436 19.33%,#c5c435 19.47%,#d5c032 19.61%,#cdc332 19.76%,#c1c537 19.90%,#d5c032 20.05%,#e0bc32 20.19%,#e1bb32 20.34%,#afc73d 20.48%,#b1c73d 20.63%,#b2c63c 20.77%,#dfbc32 20.92%,#e8b832 21.06%,#ebb732 21.21%,#eab732 21.35%,#e3ba32 21.50%,#c5c435 21.64%,#bbc539 21.79%,#cac333 21.93%,#f6bc39 22.08%,#f4bb37 22.22%,#debc32 22.37%,#d9be32 22.51%,#d4c032 22.65%,#b6c63b 22.80%,#d0c232 22.94%,#d4c032 23.09%,#c6c435 23.23%,#c2c436 23.38%,#d0c232 23.52%,#dfbc32 23.67%,#dfbc32 23.81%,#cac333 23.96%,#ccc332 24.10%,#e5b932 24.25%,#e2bb32 24.39%,#debc32 24.54%,#d9be32 24.68%,#c6c435 24.83%,#e0bb32 24.97%,#e7b832 25.12%,#eeb834 25.26%,#e4ba32 25.41%,#a3c843 25.55%,#bac539 25.69%,#ecb732 25.84%,#d7bf32 25.98%,#b5c63b 26.13%,#b3c63c 26.27%,#c1c537 26.42%,#c7c434 26.56%,#c0c537 26.71%,#c8c434 26.85%,#e4ba32 27.00%,#e4ba32 27.14%,#e4ba32 27.29%,#ecb732 27.43%,#dfbc32 27.58%,#d4c032 27.72%,#cbc333 27.87%,#aec73e 28.01%,#abc73f 28.16%,#c6c435 28.30%,#c9c333 28.45%,#f1b935 28.59%,#f2ba36 28.73%,#f7bc39 28.88%,#fbbe3b 29.02%,#f7bc39 29.17%,#f3ba36 29.31%,#f1ba36 29.46%,#e6b932 29.60%,#dcbd32 29.75%,#cec332 29.89%,#b9c539 30.04%,#c4c436 30.18%,#efb935 30.33%,#edb833 30.47%,#c3c436 30.62%,#c2c436 30.76%,#d8bf32 30.91%,#dbbd32 31.05%,#ddbd32 31.20%,#cfc232 31.34%,#c9c434 31.49%,#c5c435 31.63%,#bbc539 31.77%,#bdc538 31.92%,#d6bf32 32.06%,#c8c434 32.21%,#b1c73d 32.35%,#9bc74a 32.50%,#a0c745 32.64%,#d2c132 32.79%,#d8bf32 32.93%,#b6c63b 33.08%,#b0c73d 33.22%,#b3c63c 33.37%,#b4c63c 33.51%,#a1c844 33.66%,#a3c843 33.80%,#bec538 33.95%,#b6c63b 34.09%,#90c653 34.24%,#95c64f 34.38%,#adc73e 34.53%,#98c64c 34.67%,#84c45d 34.81%,#89c559 34.96%,#8ec555 35.10%,#7ec362 35.25%,#72c26d 35.39%,#6ec171 35.54%,#8dc556 35.68%,#8fc554 35.83%,#7cc364 35.97%,#6bc173 36.12%,#67c077 36.26%,#59be83 36.41%,#50bd8a 36.55%,#3bbc99 36.70%,#4fbd8a 36.84%,#56be85 36.99%,#57be84 37.13%,#58be83 37.28%,#3ebd97 37.42%,#3ebd97 37.57%,#26bbb0 37.71%,#2abbaa 37.85%,#2ebca6 38.00%,#2fbca4 38.14%,#27bbae 38.29%,#1cbabd 38.43%,#1ebaba 38.58%,#1ebaba 38.72%,#1cbabd 38.87%,#1bbabe 39.01%,#1ab9c1 39.16%,#20bab8 39.30%,#1ebaba 39.45%,#1ab9c1 39.59%,#19b8c4 39.74%,#15b5ce 39.88%,#15b5cf 40.03%,#18b7c7 40.17%,#19b8c4 40.32%,#16b6cc 40.46%,#15b5cf 40.61%,#16b5cd 40.75%,#17b6ca 40.89%,#16b6cc 41.04%,#15b5cf 41.18%,#16b6cb 41.33%,#16b6cb 41.47%,#14b4d2 41.62%,#15b3d4 41.76%,#15b5d0 41.91%,#16b5cd 42.05%,#1ab9c1 42.20%,#24bbb3 42.34%,#2cbba8 42.49%,#1cbabc 42.63%,#1ab9c2 42.78%,#18b8c6 42.92%,#17b7c9 43.07%,#15b5d0 43.21%,#15b5d0 43.36%,#16b6cb 43.50%,#19b8c4 43.65%,#1bbabe 43.79%,#28bbae 43.93%,#2abbaa 44.08%,#33bc9f 44.22%,#2fbca4 44.37%,#38bc9c 44.51%,#3cbd98 44.66%,#4ebd8b 44.80%,#5fbf7e 44.95%,#61bf7c 45.09%,#6ac074 45.24%,#5fbf7e 45.38%,#53be87 45.53%,#74c26b 45.67%,#7ac366 45.82%,#75c26a 45.96%,#7dc363 46.11%,#99c74c 46.25%,#92c651 46.40%,#b5c63b 46.54%,#a7c840 46.69%,#92c652 46.83%,#9dc748 46.97%,#acc73e 47.12%,#d1c132 47.26%,#d8be32 47.41%,#c4c435 47.55%,#cac333 47.70%,#debc32 47.84%,#bec538 47.99%,#c2c436 48.13%,#d2c132 48.28%,#ebb732 48.42%,#fcc13b 48.57%,#fbbd3b 48.71%,#f6bc39 48.86%,#e2bb32 49.00%,#d7bf32 49.15%,#e0bb32 49.29%,#e2ba32 49.44%,#fdca36 49.58%,#fdce33 49.72%,#f9bd3a 49.87%,#fabd3b 50.01%,#fbd530 50.16%,#fdcd33 50.30%,#ebb732 50.45%,#ebb732 50.59%,#f1ba36 50.74%,#fcbf3c 50.88%,#fdd032 51.03%,#fbd62f 51.17%,#fcc538 51.32%,#fcbe3c 51.46%,#fdc936 51.61%,#f4bb37 51.75%,#f4bb37 51.90%,#fcd131 52.04%,#fdd131 52.19%,#f8bc3a 52.33%,#f7bc39 52.48%,#fcc438 52.62%,#fdcd34 52.76%,#fdcf32 52.91%,#fcc339 53.05%,#fabd3b 53.20%,#f3ba37 53.34%,#f6bc38 53.49%,#f5bb38 53.63%,#e5b932 53.78%,#e7b932 53.92%,#f9bd3a 54.07%,#fcbe3c 54.21%,#fbbe3b 54.36%,#f8bc3a 54.50%,#f1ba36 54.65%,#f4bb37 54.79%,#f8bd3a 54.94%,#eab732 55.08%,#e1bb32 55.23%,#c7c434 55.37%,#cbc333 55.52%,#e8b832 55.66%,#d6c032 55.80%,#d6bf32 55.95%,#ddbc32 56.09%,#eab832 56.24%,#debc32 56.38%,#c0c537 56.53%,#ddbc32 56.67%,#dbbd32 56.82%,#ddbd32 56.96%,#d8be32 57.11%,#c6c435 57.25%,#abc73f 57.40%,#c1c436 57.54%,#d0c232 57.69%,#d7bf32 57.83%,#d8bf32 57.98%,#dbbd32 58.12%,#edb833 58.27%,#b9c539 58.41%,#c5c435 58.56%,#cec332 58.70%,#cec332 58.84%,#bbc539 58.99%,#bbc539 59.13%,#c7c434 59.28%,#c0c537 59.42%,#c1c537 59.57%,#c0c537 59.71%,#acc73e 59.86%,#a3c843 60.00%,#aac73f 60.15%,#b6c63b 60.29%,#c2c436 60.44%,#c7c434 60.58%,#c0c537 60.73%,#bdc538 60.87%,#c2c436 61.02%,#bfc537 61.16%,#b9c63a 61.31%,#b3c63c 61.45%,#a5c841 61.60%,#a2c844 61.74%,#97c64d 61.88%,#9bc74a 62.03%,#9bc74a 62.17%,#9ac74a 62.32%,#8ec555 62.46%,#84c45d 62.61%,#8cc557 62.75%,#6ec171 62.90%,#76c26a 63.04%,#71c16e 63.19%,#61bf7c 63.33%,#5ebf7e 63.48%,#49bd8f 63.62%,#4fbd8a 63.77%,#39bc9b 63.91%,#2dbca6 64.06%,#2ebca5 64.20%,#24bbb3 64.35%,#18b7c7 64.49%,#18b7c8 64.64%,#15b5d0 64.78%,#14b4d2 64.92%,#16b0d9 65.07%,#16aedb 65.21%,#15b1d7 65.36%,#17acdf 65.50%,#20a6df 65.65%,#25a4de 65.79%,#29a2dd 65.94%,#2da0db 66.08%,#319eda 66.23%,#3799d6 66.37%,#3b96d3 66.52%,#4a7ec1 66.66%,#4884c5 66.81%,#4785c6 66.95%,#4884c5 67.10%,#4c78bc 67.24%,#4d73b9 67.39%,#4d73b9 67.53%,#4e6fb7 67.68%,#4e6fb7 67.82%,#4d70b7 67.96%,#4c76bb 68.11%,#5061ae 68.25%,#4f5cab 68.40%,#5060ad 68.54%,#5065b0 68.69%,#5061ae 68.83%,#4f5aaa 68.98%,#4f59a9 69.12%,#4f58a8 69.27%,#4f58a8 69.41%,#4f58a9 69.56%,#4e54a6 69.70%,#4d50a3 69.85%,#4c4ba1 69.99%,#4b469e 70.14%,#4d51a3 70.28%,#4e54a6 70.43%,#4e56a7 70.57%,#4f5aaa 70.72%,#4d4ea2 70.86%,#4a449d 71.00%,#4c4ca1 71.15%,#4c4da2 71.29%,#4d50a3 71.44%,#4c4ca1 71.58%,#493f9b 71.73%,#483a99 71.87%,#483d9a 72.02%,#4a449d 72.16%,#483d9a 72.31%,#483c9a 72.45%,#483b99 72.60%,#4a449d 72.74%,#4b489f 72.89%,#473898 73.03%,#483b99 73.18%,#4b49a0 73.32%,#4c4ba1 73.47%,#483c9a 73.61%,#483e9a 73.76%,#4b499f 73.90%,#49409c 74.04%,#4a459d 74.19%,#4d52a4 74.33%,#49419c 74.48%,#49409b 74.62%,#4a459d 74.77%,#4b469e 74.91%,#4a459e 75.06%,#493e9b 75.20%,#4a459d 75.35%,#4b469e 75.49%,#4d51a4 75.64%,#4f59a9 75.78%,#5061ae 75.93%,#4f59a9 76.07%,#5062ae 76.22%,#5061ae 76.36%,#5062ae 76.51%,#4c75ba 76.65%,#428ecd 76.80%,#4981c2 76.94%,#438ecc 77.08%,#4788c7 77.23%,#4a7dc0 77.37%,#3c94d1 77.52%,#3898d5 77.66%,#2aa1dc 77.81%,#3b96d3 77.95%,#369bd7 78.10%,#319eda 78.24%,#29a2dd 78.39%,#4091cf 78.53%,#3f92cf 78.68%,#349dd9 78.82%,#309fda 78.97%,#18abe0 79.11%,#16b6cc 79.26%,#19b8c4 79.40%,#14b4d1 79.55%,#19b8c4 79.69%,#22bbb5 79.83%,#2bbbaa 79.98%,#2bbba9 80.12%,#17b7c9 80.27%,#16b6cb 80.41%,#19b8c4 80.56%,#19b8c4 80.70%,#18b8c6 80.85%,#1cbabd 80.99%,#27bbae 81.14%,#31bca2 81.28%,#2fbca4 81.43%,#29bbac 81.57%,#25bbb0 81.72%,#1ebaba 81.86%,#1fbab8 82.01%,#25bbb0 82.15%,#25bbb1 82.30%,#18b7c7 82.44%,#19b9c3 82.59%,#32bca0 82.73%,#2fbca4 82.87%,#1dbabc 83.02%,#20bab7 83.16%,#2cbba8 83.31%,#25bbb1 83.45%,#25bbb0 83.60%,#46bd91 83.74%,#32bca0 83.89%,#19b8c4 84.03%,#1bbabe 84.18%,#2cbba8 84.32%,#2cbba8 84.47%,#23bbb4 84.61%,#26bbb0 84.76%,#26bbb0 84.90%,#21bab7 85.05%,#19b8c3 85.19%,#19b8c5 85.34%,#1bbabe 85.48%,#19b8c4 85.63%,#16b5cd 85.77%,#14b4d1 85.91%,#1ab9c2 86.06%,#1bbabe 86.20%,#1ab9c0 86.35%,#1ab9c2 86.49%,#16b6cc 86.64%,#14b4d2 86.78%,#16afda 86.93%,#17addd 87.07%,#17acdf 87.22%,#18abe1 87.36%,#1da8e0 87.51%,#20a6df 87.65%,#1ca8e1 87.80%,#359cd8 87.94%,#359cd8 88.09%,#379ad7 88.23%,#3899d6 88.38%,#3a97d4 88.52%,#448cca 88.67%,#4882c3 88.81%,#4980c2 88.95%,#468ac9 89.10%,#4883c4 89.24%,#4b78bd 89.39%,#4e6fb6 89.53%,#4f6ab3 89.68%,#4e6fb7 89.82%,#4d70b7 89.97%,#4f69b3 90.11%,#4f67b2 90.26%,#5060ad 90.40%,#5062af 90.55%,#5062af 90.69%,#4f5aaa 90.84%,#4e56a7 90.98%,#4e53a5 91.13%,#4e54a6 91.27%,#4e53a5 91.42%,#4d4ea2 91.56%,#4c4ba1 91.71%,#4c4ba1 91.85%,#4d4fa3 91.99%,#4d50a3 92.14%,#4c4ca1 92.28%,#4a439c 92.43%,#4b469e 92.57%,#4b489f 92.72%,#49409b 92.86%,#4b49a0 93.01%,#4c4aa0 93.15%,#4c4ea2 93.30%,#4d51a4 93.44%,#4f58a8 93.59%,#4f5eac 93.73%,#4e57a8 93.88%,#4e55a7 94.02%,#4f59a9 94.17%,#4f5cab 94.31%,#4f5baa 94.46%,#4f5baa 94.60%,#5060ad 94.75%,#5065b0 94.89%,#5065b0 95.03%,#4f5eac 95.18%,#5063af 95.32%,#4f6bb4 95.47%,#5063af 95.61%,#4e6eb6 95.76%,#497fc1 95.90%,#3d93d1 96.05%,#3b96d3 96.19%,#379ad6 96.34%,#3b95d2 96.48%,#3a97d4 96.63%,#329eda 96.77%,#3c95d2 96.92%,#349dd9 97.06%,#20a6df 97.21%,#18abe1 97.35%,#16aedb 97.50%,#14b4d1 97.64%,#1fa7e0 97.79%,#24a5de 97.93%,#15b1d7 98.07%,#15b3d4 98.22%,#15b1d7 98.36%,#15b5d0 98.51%,#18b8c6 98.65%,#20bab8 98.80%,#20bab7 98.94%,#19b8c5 99.09%,#1ab9c0 99.23%,#1cbabd 99.38%,#19b8c4 99.52%,#16b5cd 99.67%,#15b2d6 99.81%,#15b5d0 99.96%);-webkit-mask-image:linear-gradient(180deg,transparent 14.3px,#000 19.4px);mask-image:linear-gradient(180deg,transparent 14.3px,#000 19.4px);}
#h3{background:linear-gradient(90deg,#f4bb37 0.07%,#fcc23a 0.22%,#f7bc39 0.36%,#f5bb38 0.51%,#f8bc39 0.65%,#f4bb37 0.80%,#edb833 0.94%,#e7b932 1.09%,#ddbd32 1.23%,#e2bb32 1.38%,#d7bf32 1.52%,#e0bb32 1.66%,#e6b932 1.81%,#f2ba36 1.95%,#f8bc39 2.10%,#f1ba36 2.24%,#f0b935 2.39%,#fbbe3c 2.53%,#fdc836 2.68%,#fdca35 2.82%,#fcc538 2.97%,#eab732 3.11%,#e5b932 3.26%,#f9bd3a 3.40%,#fcc23a 3.55%,#fcbf3b 3.69%,#f6bb38 3.84%,#f6bb38 3.98%,#f4bb37 4.13%,#fdc936 4.27%,#fcc03b 4.42%,#fabd3b 4.56%,#f1ba36 4.70%,#dfbc32 4.85%,#d8bf32 4.99%,#d8be32 5.14%,#e2bb32 5.28%,#eeb834 5.43%,#ecb833 5.57%,#f0b935 5.72%,#f3ba37 5.86%,#f7bc39 6.01%,#d9be32 6.15%,#d9be32 6.30%,#e7b932 6.44%,#e2ba32 6.59%,#e9b832 6.73%,#d9be32 6.88%,#d2c132 7.02%,#e8b832 7.17%,#ebb732 7.31%,#c5c435 7.46%,#b5c63b 7.60%,#c1c537 7.74%,#e6b932 7.89%,#e6b932 8.03%,#d5c032 8.18%,#c2c436 8.32%,#cbc333 8.47%,#cec332 8.61%,#d0c232 8.76%,#d3c132 8.90%,#d3c132 9.05%,#d3c132 9.19%,#bfc537 9.34%,#bac539 9.48%,#c6c435 9.63%,#d3c132 9.77%,#cdc332 9.92%,#c0c537 10.06%,#bfc537 10.21%,#c1c537 10.35%,#b6c63b 10.50%,#98c74c 10.64%,#97c64d 10.78%,#9ec747 10.93%,#a4c842 11.07%,#a9c840 11.22%,#c1c537 11.36%,#c7c434 11.51%,#bbc539 11.65%,#a7c840 11.80%,#a6c841 11.94%,#bfc537 12.09%,#c0c537 12.23%,#c4c436 12.38%,#c5c435 12.52%,#c5c435 12.67%,#bcc539 12.81%,#acc73e 12.96%,#c3c436 13.10%,#c5c435 13.25%,#b2c63c 13.39%,#abc73f 13.54%,#9ec747 13.68%,#9bc749 13.82%,#a4c842 13.97%,#9ac74a 14.11%,#92c652 14.26%,#a8c840 14.40%,#b4c63b 14.55%,#a8c840 14.69%,#9dc748 14.84%,#8cc557 14.98%,#94c650 15.13%,#9fc747 15.27%,#8bc557 15.42%,#88c55a 15.56%,#98c64d 15.71%,#97c64d 15.85%,#83c45e 16.00%,#7bc365 16.14%,#90c653 16.29%,#bfc537 16.43%,#b2c63c 16.57%,#9cc748 16.72%,#bdc538 16.86%,#c5c435 17.01%,#a7c840 17.15%,#a3c843 17.30%,#9cc749 17.44%,#abc73f 17.59%,#bbc539 17.73%,#bac539 17.88%,#9ec747 18.02%,#9ac74b 18.17%,#95c64f 18.31%,#9ec747 18.46%,#b4c63b 18.60%,#bbc539 18.75%,#93c651 18.89%,#87c55b 19.04%,#a1c844 19.18%,#9ec747 19.33%,#9ec747 19.47%,#acc73f 19.61%,#a5c841 19.76%,#a0c745 19.90%,#b4c63b 20.05%,#bfc537 20.19%,#c0c537 20.34%,#8fc654 20.48%,#90c653 20.63%,#90c653 20.77%,#b1c73d 20.92%,#c1c436 21.06%,#c6c434 21.21%,#c9c434 21.35%,#bfc537 21.50%,#a2c844 21.64%,#97c64d 21.79%,#a2c844 21.93%,#dabe32 22.08%,#d4c032 22.22%,#b7c63a 22.37%,#b1c63c 22.51%,#a9c840 22.65%,#92c651 22.80%,#a4c841 22.94%,#abc73f 23.09%,#9fc746 23.23%,#9ac74a 23.38%,#a7c840 23.52%,#b8c63a 23.67%,#b8c63a 23.81%,#a3c843 23.96%,#a6c841 24.10%,#c0c537 24.25%,#bac539 24.39%,#b2c63c 24.54%,#b1c73d 24.68%,#a1c845 24.83%,#b6c63b 24.97%,#bfc537 25.12%,#cac333 25.26%,#bec538 25.41%,#8cc557 25.55%,#9ec747 25.69%,#d0c232 25.84%,#bec537 25.98%,#9ec747 26.13%,#9bc749 26.27%,#9fc746 26.42%,#a4c842 26.56%,#a2c844 26.71%,#a8c840 26.85%,#c9c333 27.00%,#c7c434 27.14%,#c4c436 27.29%,#d1c232 27.43%,#c7c434 27.58%,#b5c63b 27.72%,#abc73f 27.87%,#90c653 28.01%,#8fc653 28.16%,#a3c843 28.30%,#a9c73f 28.45%,#d5c032 28.59%,#d8bf32 28.73%,#dfbc32 28.88%,#e8b832 29.02%,#debc32 29.17%,#d7bf32 29.31%,#d7bf32 29.46%,#cac333 29.60%,#bac539 29.75%,#abc73f 29.89%,#9cc749 30.04%,#a3c843 30.18%,#d5c032 30.33%,#d1c132 30.47%,#a3c843 30.62%,#a1c844 30.76%,#bac539 30.91%,#bec538 31.05%,#bcc538 31.20%,#acc73e 31.34%,#aac73f 31.49%,#a8c840 31.63%,#9cc749 31.77%,#9fc746 31.92%,#b6c63b 32.06%,#a4c842 32.21%,#94c64f 32.35%,#83c45e 32.50%,#88c55a 32.64%,#b2c63c 32.79%,#b8c63a 32.93%,#98c74c 33.08%,#93c650 33.22%,#95c64f 33.37%,#95c64e 33.51%,#86c45c 33.66%,#87c55b 33.80%,#9bc74a 33.95%,#96c64e 34.09%,#79c367 34.24%,#7ec362 34.38%,#96c64e 34.53%,#7dc363 34.67%,#6dc171 34.81%,#6cc172 34.96%,#71c16e 35.10%,#66c077 35.25%,#5dbe7f 35.39%,#52be88 35.54%,#6bc173 35.68%,#74c26b 35.83%,#66c078 35.97%,#51be89 36.12%,#4ebd8b 36.26%,#49bd8f 36.41%,#41bd95 36.55%,#2ebca6 36.70%,#3abc9a 36.84%,#44bd93 36.99%,#45bd92 37.13%,#44bd93 37.28%,#36bc9d 37.42%,#35bc9e 37.57%,#24bbb2 37.71%,#28bbad 37.85%,#2ebca5 38.00%,#30bca3 38.14%,#2abbab 38.29%,#1fbab8 38.43%,#20bab7 38.58%,#20bab7 38.72%,#20bab8 38.87%,#20bab8 39.01%,#1cbabd 39.16%,#22bbb5 39.30%,#1ebaba 39.45%,#1cbabd 39.59%,#1ab9c0 39.74%,#17b7ca 39.88%,#17b6ca 40.03%,#1ab9c1 40.17%,#1dbabc 40.32%,#19b9c2 40.46%,#18b7c8 40.61%,#18b8c6 40.75%,#1ab9c1 40.89%,#19b8c4 41.04%,#18b7c7 41.18%,#19b8c5 41.33%,#18b8c6 41.47%,#18b7c7 41.62%,#17b7c9 41.76%,#17b7c8 41.91%,#19b8c4 42.05%,#22bbb5 42.20%,#2dbca7 42.34%,#36bc9d 42.49%,#29bbab 42.63%,#22bbb5 42.78%,#1ebaba 42.92%,#1ab9c0 43.07%,#18b8c6 43.21%,#18b7c7 43.36%,#19b8c3 43.50%,#1dbabb 43.65%,#22bbb5 43.79%,#2ebca5 43.93%,#31bca2 44.08%,#3abc9a 44.22%,#32bca0 44.37%,#39bc9b 44.51%,#3dbd98 44.66%,#49bd8f 44.80%,#57be84 44.95%,#58be83 45.09%,#5ebf7e 45.24%,#55be86 45.38%,#4dbd8c 45.53%,#65c078 45.67%,#6bc173 45.82%,#67c077 45.96%,#6fc170 46.11%,#83c45e 46.25%,#7fc362 46.40%,#98c74c 46.54%,#8ec555 46.69%,#7fc461 46.83%,#8ac558 46.97%,#92c651 47.12%,#abc73f 47.26%,#b5c63b 47.41%,#a6c841 47.55%,#abc73f 47.70%,#bac539 47.84%,#a2c844 47.99%,#a4c842 48.13%,#b0c73d 48.28%,#ccc332 48.42%,#e6b932 48.57%,#e2bb32 48.71%,#dbbd32 48.86%,#c1c537 49.00%,#b5c63b 49.15%,#bec538 49.29%,#c2c436 49.44%,#eeb834 49.58%,#f1b935 49.72%,#e2ba32 49.87%,#e4ba32 50.01%,#f5bb38 50.16%,#f1b935 50.30%,#cec332 50.45%,#cdc332 50.59%,#d5c032 50.74%,#e3ba32 50.88%,#f3ba37 51.03%,#f2ba36 51.17%,#e9b832 51.32%,#e5b932 51.46%,#efb934 51.61%,#d8bf32 51.75%,#d9be32 51.90%,#f5bb38 52.04%,#f5bb38 52.19%,#e0bb32 52.33%,#dcbd32 52.48%,#ecb733 52.62%,#f2ba36 52.76%,#f3ba37 52.91%,#e9b832 53.05%,#e1bb32 53.20%,#d8be32 53.34%,#dcbd32 53.49%,#d8be32 53.63%,#c7c434 53.78%,#cbc333 53.92%,#e2bb32 54.07%,#e6b932 54.21%,#e2bb32 54.36%,#debc32 54.50%,#d7bf32 54.65%,#dcbd32 54.79%,#e0bb32 54.94%,#cfc232 55.08%,#c1c436 55.23%,#a2c844 55.37%,#a9c73f 55.52%,#c8c434 55.66%,#b4c63b 55.80%,#b7c63a 55.95%,#bdc538 56.09%,#c9c434 56.24%,#b5c63b 56.38%,#9dc748 56.53%,#bcc539 56.67%,#b7c63a 56.82%,#b8c63a 56.96%,#b9c539 57.11%,#a8c840 57.25%,#91c653 57.40%,#9ec747 57.54%,#abc73f 57.69%,#b0c73d 57.83%,#b3c63c 57.98%,#bac539 58.12%,#cdc332 58.27%,#9bc749 58.41%,#a3c843 58.56%,#a6c841 58.70%,#a5c841 58.84%,#9ac74b 58.99%,#9dc748 59.13%,#a0c745 59.28%,#99c74c 59.42%,#9bc74a 59.57%,#9cc749 59.71%,#8bc557 59.86%,#84c45d 60.00%,#86c45c 60.15%,#92c651 60.29%,#99c74b 60.44%,#a0c745 60.58%,#9cc748 60.73%,#99c74b 60.87%,#9ac74a 61.02%,#98c64c 61.16%,#93c650 61.31%,#8ec555 61.45%,#82c45f 61.60%,#7ec362 61.74%,#76c26a 61.88%,#7bc365 62.03%,#7cc365 62.17%,#7dc364 62.32%,#72c26d 62.46%,#64c079 62.61%,#68c075 62.75%,#4fbd8a 62.90%,#55be86 63.04%,#4fbd8a 63.19%,#47bd90 63.33%,#45bd91 63.48%,#35bc9e 63.62%,#3abc9a 63.77%,#2cbba8 63.91%,#25bbb1 64.06%,#25bbb1 64.20%,#1fbab9 64.35%,#17b7c8 64.49%,#17b7c9 64.64%,#15b5cf 64.78%,#14b4d1 64.92%,#15b0d8 65.07%,#16afda 65.21%,#15b2d5 65.36%,#16afda 65.50%,#18abe1 65.65%,#18aae2 65.79%,#1ba9e1 65.94%,#1da8e0 66.08%,#21a6df 66.23%,#27a3dd 66.37%,#2ca1db 66.52%,#4091cf 66.66%,#3b95d2 66.81%,#3a97d4 66.95%,#3a96d3 67.10%,#438dcc 67.24%,#468ac9 67.39%,#4689c8 67.53%,#4788c8 67.68%,#4688c8 67.82%,#4787c7 67.96%,#448dcb 68.11%,#4b79bd 68.25%,#4d71b8 68.40%,#4b78bd 68.54%,#497fc1 68.69%,#4c77bc 68.83%,#4d71b8 68.98%,#4d71b8 69.12%,#4e6eb6 69.27%,#4e6cb5 69.41%,#4e6eb6 69.56%,#4f69b3 69.70%,#5065b0 69.85%,#5060ad 69.99%,#4f5dac 70.14%,#5064b0 70.28%,#4f6ab3 70.43%,#4e6db5 70.57%,#4d71b8 70.72%,#5063af 70.86%,#4f5cab 71.00%,#5062ae 71.15%,#5063af 71.29%,#5065b0 71.44%,#5062ae 71.58%,#4f59a9 71.73%,#4e56a7 71.87%,#4f58a8 72.02%,#4f5dab 72.16%,#4f58a9 72.31%,#4e57a8 72.45%,#4e56a7 72.60%,#4f5bab 72.74%,#4f5eac 72.89%,#4e53a5 73.03%,#4e56a7 73.18%,#5061ae 73.32%,#5062ae 73.47%,#4f58a9 73.61%,#4f59a9 73.76%,#5060ad 73.90%,#4f5bab 74.04%,#4f5fad 74.19%,#4f6bb4 74.33%,#4f5bab 74.48%,#4f5aaa 74.62%,#4f5eac 74.77%,#4f5fac 74.91%,#4f5cab 75.06%,#4f58a9 75.20%,#4f5dac 75.35%,#4f5eac 75.49%,#4f68b2 75.64%,#4d71b8 75.78%,#4a7dc0 75.93%,#4d71b8 76.07%,#4a7bbf 76.22%,#4a7ec0 76.36%,#497ec1 76.51%,#3f91cf 76.65%,#2ba1dc 76.80%,#3997d4 76.94%,#329eda 77.08%,#359cd8 77.23%,#3d94d1 77.37%,#2ca1db 77.52%,#25a4de 77.66%,#20a6df 77.81%,#2ca1dc 77.95%,#26a4de 78.10%,#20a6df 78.24%,#1ba9e1 78.39%,#329eda 78.53%,#319eda 78.68%,#25a4de 78.82%,#20a6df 78.97%,#16b0d9 79.11%,#17b6ca 79.26%,#19b8c3 79.40%,#16b6cd 79.55%,#19b8c4 79.69%,#21bbb6 79.83%,#29bbac 79.98%,#24bbb3 80.12%,#17b7c9 80.27%,#16b6cc 80.41%,#18b7c8 80.56%,#18b7c7 80.70%,#18b7c7 80.85%,#1ab9c0 80.99%,#22bbb5 81.14%,#29bbac 81.28%,#26bbaf 81.43%,#22bbb5 81.57%,#1ebaba 81.72%,#1ab9c2 81.86%,#1ab9c0 82.01%,#1cbabd 82.15%,#1bbabe 82.30%,#16b6cd 82.44%,#17b7c9 82.59%,#25bbb1 82.73%,#21bab7 82.87%,#18b8c6 83.02%,#19b8c5 83.16%,#1cbabd 83.31%,#1ab9c2 83.45%,#1bbabe 83.60%,#2fbca4 83.74%,#20bab8 83.89%,#16b6cd 84.03%,#18b7c8 84.18%,#1dbabc 84.32%,#1cbabd 84.47%,#19b8c3 84.61%,#19b9c2 84.76%,#19b8c3 84.90%,#18b7c8 85.05%,#15b5cf 85.19%,#15b5d0 85.34%,#17b6ca 85.48%,#15b5d0 85.63%,#15b2d6 85.77%,#15b0d8 85.91%,#15b5cf 86.06%,#17b6ca 86.20%,#16b6cb 86.35%,#16b6cd 86.49%,#15b3d4 86.64%,#16b0d8 86.78%,#17acdf 86.93%,#18aae2 87.07%,#1ea7e0 87.22%,#22a5df 87.36%,#26a3dd 87.51%,#29a2dd 87.65%,#27a3dd 87.80%,#379ad6 87.94%,#379ad6 88.09%,#3997d4 88.23%,#3a97d4 88.38%,#3b96d3 88.52%,#428ecc 88.67%,#4786c6 88.81%,#4786c6 88.95%,#438dcb 89.10%,#4786c6 89.24%,#4a7dc0 89.39%,#4c75bb 89.53%,#4d72b8 89.68%,#4c77bb 89.82%,#4c78bc 89.97%,#4d73b9 90.11%,#4e70b7 90.26%,#4f69b2 90.40%,#4e6db5 90.55%,#4e6db5 90.69%,#5064af 90.84%,#5060ad 90.98%,#4f5dac 91.13%,#4f5eac 91.27%,#4f5cab 91.42%,#4f59a9 91.56%,#4e57a8 91.71%,#4e57a8 91.85%,#4f5aaa 91.99%,#4f5bab 92.14%,#4f59a9 92.28%,#4d52a4 92.43%,#4e54a6 92.57%,#4e56a7 92.72%,#4d51a4 92.86%,#4e57a8 93.01%,#4f58a9 93.15%,#4f5bab 93.30%,#4f5eac 93.44%,#5067b1 93.59%,#4e6fb7 93.73%,#4f69b3 93.88%,#5066b1 94.02%,#4f69b3 94.17%,#4e6fb7 94.31%,#4e6fb7 94.46%,#4d70b7 94.60%,#4c77bb 94.75%,#4a7dc0 94.89%,#4a7cc0 95.03%,#4d74b9 95.18%,#4b78bd 95.32%,#497fc1 95.47%,#4b78bc 95.61%,#4786c6 95.76%,#3d93d1 95.90%,#2ea0db 96.05%,#2ca1dc 96.19%,#29a2dc 96.34%,#2ea0db 96.48%,#2ca1dc 96.63%,#24a4de 96.77%,#309fda 96.92%,#28a3dd 97.06%,#18aae2 97.21%,#17addd 97.35%,#16b0d8 97.50%,#14b4d2 97.64%,#1aa9e1 97.79%,#1ea7e0 97.93%,#16b0d9 98.07%,#15b2d5 98.22%,#15b1d6 98.36%,#15b5d0 98.51%,#18b7c8 98.65%,#1ab9c1 98.80%,#19b9c3 98.94%,#18b8c6 99.09%,#1ab9c2 99.23%,#19b8c5 99.38%,#17b7c9 99.52%,#14b4d2 99.67%,#15b1d8 99.81%,#14b3d4 99.96%);-webkit-mask-image:linear-gradient(180deg,transparent 19.4px,#000 24.6px);mask-image:linear-gradient(180deg,transparent 19.4px,#000 24.6px);}
#h4{background:linear-gradient(90deg,#dbbd32 0.07%,#ecb733 0.22%,#ddbd32 0.36%,#dabe32 0.51%,#e0bc32 0.65%,#dabe32 0.80%,#d3c132 0.94%,#ccc332 1.09%,#bfc537 1.23%,#c2c436 1.38%,#b9c63a 1.52%,#bdc538 1.66%,#c7c434 1.81%,#d3c132 1.95%,#debc32 2.10%,#d6bf32 2.24%,#d2c132 2.39%,#e5b932 2.53%,#f1b935 2.68%,#f2ba36 2.82%,#edb833 2.97%,#d1c132 3.11%,#cbc333 3.26%,#e0bc32 3.40%,#ebb732 3.55%,#e6b932 3.69%,#ddbd32 3.84%,#debc32 3.98%,#debc32 4.13%,#f0b935 4.27%,#eab732 4.42%,#e3ba32 4.56%,#d4c032 4.70%,#c3c436 4.85%,#b8c63a 4.99%,#b4c63b 5.14%,#c3c436 5.28%,#cfc232 5.43%,#ccc333 5.57%,#d3c032 5.72%,#d7bf32 5.86%,#d9be32 6.01%,#bcc538 6.15%,#bdc538 6.30%,#c9c333 6.44%,#c2c436 6.59%,#cec332 6.73%,#bec538 6.88%,#b3c63c 7.02%,#c7c434 7.17%,#cdc332 7.31%,#aac73f 7.46%,#9bc74a 7.60%,#a4c842 7.74%,#c5c435 7.89%,#c7c434 8.03%,#bec538 8.18%,#a7c840 8.32%,#aac73f 8.47%,#a8c840 8.61%,#a8c840 8.76%,#abc73f 8.90%,#acc73e 9.05%,#adc73e 9.19%,#9dc748 9.34%,#96c64e 9.48%,#9dc748 9.63%,#b0c73d 9.77%,#a8c840 9.92%,#9ec747 10.06%,#9bc749 10.21%,#9ac74a 10.35%,#91c652 10.50%,#7bc366 10.64%,#7bc365 10.78%,#83c45e 10.93%,#88c55a 11.07%,#86c45c 11.22%,#9cc749 11.36%,#a3c842 11.51%,#a0c745 11.65%,#8ac558 11.80%,#88c55a 11.94%,#9dc748 12.09%,#9bc749 12.23%,#a1c845 12.38%,#a2c843 12.52%,#a2c844 12.67%,#96c64e 12.81%,#8ec554 12.96%,#a0c745 13.10%,#a1c844 13.25%,#91c652 13.39%,#8dc556 13.54%,#82c45f 13.68%,#7ec362 13.82%,#87c55b 13.97%,#83c45e 14.11%,#7cc364 14.26%,#8ac559 14.40%,#97c64d 14.55%,#8dc555 14.69%,#7dc363 14.84%,#73c26c 14.98%,#7bc365 15.13%,#86c55b 15.27%,#73c26c 15.42%,#6fc170 15.56%,#7ec363 15.71%,#7ec363 15.85%,#6dc172 16.00%,#62bf7b 16.14%,#72c26d 16.29%,#a3c843 16.43%,#9dc748 16.57%,#87c55b 16.72%,#9dc748 16.86%,#a3c843 17.01%,#8dc555 17.15%,#8cc557 17.30%,#80c461 17.44%,#88c55a 17.59%,#98c74c 17.73%,#9ac74b 17.88%,#84c45d 18.02%,#80c461 18.17%,#78c367 18.31%,#80c461 18.46%,#90c653 18.60%,#95c64f 18.75%,#72c26d 18.89%,#69c075 19.04%,#83c45e 19.18%,#7ec363 19.33%,#7ac366 19.47%,#84c45d 19.61%,#81c460 19.76%,#84c45d 19.90%,#92c651 20.05%,#9ac74a 20.19%,#9ac74b 20.34%,#6fc170 20.48%,#6ec170 20.63%,#6dc172 20.77%,#81c45f 20.92%,#93c650 21.06%,#99c74c 21.21%,#9ec747 21.35%,#97c64d 21.50%,#83c45e 21.64%,#75c26b 21.79%,#7ec363 21.93%,#adc73e 22.08%,#a4c842 22.22%,#8ec554 22.37%,#89c559 22.51%,#80c460 22.65%,#6ec171 22.80%,#7dc363 22.94%,#85c45d 23.09%,#7cc364 23.23%,#74c26b 23.38%,#81c460 23.52%,#8fc554 23.67%,#8ec554 23.81%,#80c460 23.96%,#84c45e 24.10%,#96c64e 24.25%,#8ec554 24.39%,#84c45d 24.54%,#89c559 24.68%,#7fc461 24.83%,#89c559 24.97%,#90c653 25.12%,#9bc74a 25.26%,#93c650 25.41%,#72c26d 25.55%,#84c45d 25.69%,#acc73e 25.84%,#a2c843 25.98%,#8ac558 26.13%,#86c45c 26.27%,#80c461 26.42%,#86c45c 26.56%,#87c55b 26.71%,#8cc556 26.85%,#a6c840 27.00%,#a3c843 27.14%,#9dc748 27.29%,#adc73e 27.43%,#a8c840 27.58%,#97c64d 27.72%,#8ec555 27.87%,#72c26d 28.01%,#73c26c 28.16%,#84c45d 28.30%,#8dc556 28.45%,#acc73e 28.59%,#b1c73d 28.73%,#b8c63a 28.88%,#c7c434 29.02%,#b6c63a 29.17%,#afc73d 29.31%,#b1c63c 29.46%,#a6c841 29.60%,#96c64e 29.75%,#8cc556 29.89%,#80c460 30.04%,#86c45b 30.18%,#afc73d 30.33%,#acc73e 30.47%,#86c45b 30.62%,#84c45d 30.76%,#9ac74a 30.91%,#9dc748 31.05%,#98c64d 31.20%,#8cc556 31.34%,#8fc554 31.49%,#8fc554 31.63%,#7fc461 31.77%,#83c45e 31.92%,#95c64f 32.06%,#84c45e 32.21%,#78c367 32.35%,#69c075 32.50%,#6ec171 32.64%,#92c651 32.79%,#97c64d 32.93%,#7dc364 33.08%,#76c26a 33.22%,#77c268 33.37%,#78c268 33.51%,#68c076 33.66%,#68c076 33.80%,#7ac366 33.95%,#77c269 34.09%,#60bf7c 34.24%,#65c078 34.38%,#7fc461 34.53%,#5fbf7e 34.67%,#57be85 34.81%,#4fbd8a 34.96%,#53be88 35.10%,#4ebd8b 35.25%,#48bd90 35.39%,#36bc9d 35.54%,#48bd90 35.68%,#58be84 35.83%,#4fbd8a 35.97%,#37bc9c 36.12%,#35bc9e 36.26%,#39bc9b 36.41%,#32bca0 36.55%,#24bbb3 36.70%,#2bbba9 36.84%,#32bca0 36.99%,#32bca0 37.13%,#30bca2 37.28%,#2fbca4 37.42%,#2ebca5 37.57%,#23bbb4 37.71%,#25bbb1 37.85%,#2ebca5 38.00%,#31bca2 38.14%,#2cbba8 38.29%,#23bbb4 38.43%,#22bbb5 38.58%,#23bbb4 38.72%,#24bbb3 38.87%,#25bbb1 39.01%,#21bbb6 39.16%,#23bbb3 39.30%,#1ebaba 39.45%,#21bab7 39.59%,#1ebaba 39.74%,#19b8c5 39.88%,#19b8c5 40.03%,#20bab8 40.17%,#26bbb0 40.32%,#21bab7 40.46%,#1ab9c1 40.61%,#1bbabe 40.75%,#21bbb6 40.89%,#1dbabc 41.04%,#1bbabf 41.18%,#1bbabf 41.33%,#1ab9c0 41.47%,#1fbab9 41.62%,#1bbabe 41.76%,#1ab9c0 41.91%,#1fbab9 42.05%,#2dbca7 42.20%,#39bc9b 42.34%,#44bd92 42.49%,#3abc9a 42.63%,#2ebca5 42.78%,#2bbba9 42.92%,#22bbb5 43.07%,#1ebaba 43.21%,#1cbabd 43.36%,#1fbab9 43.50%,#26bbb0 43.65%,#29bbab 43.79%,#36bc9d 43.93%,#3bbc99 44.08%,#41bd95 44.22%,#36bc9d 44.37%,#3bbc9a 44.51%,#3dbd98 44.66%,#44bd92 44.80%,#4fbd8a 44.95%,#50bd8a 45.09%,#52be88 45.24%,#4cbd8d 45.38%,#46bd91 45.53%,#56be85 45.67%,#5cbe81 45.82%,#59be83 45.96%,#60bf7d 46.11%,#6bc173 46.25%,#68c075 46.40%,#7cc364 46.54%,#74c26b 46.69%,#6bc173 46.83%,#76c26a 46.97%,#78c367 47.12%,#87c55a 47.26%,#90c653 47.41%,#8bc557 47.55%,#8fc554 47.70%,#92c651 47.84%,#88c55a 47.99%,#8ac558 48.13%,#90c653 48.28%,#a3c843 48.42%,#b9c63a 48.57%,#b7c63a 48.71%,#b0c73d 48.86%,#9ac74a 49.00%,#92c651 49.15%,#97c64d 49.29%,#9cc749 49.44%,#c0c537 49.58%,#c5c435 49.72%,#bdc538 49.87%,#bfc537 50.01%,#cdc332 50.16%,#c6c435 50.30%,#a7c840 50.45%,#a5c841 50.59%,#abc73f 50.74%,#b6c63b 50.88%,#c9c434 51.03%,#bbc539 51.17%,#b7c63a 51.32%,#bdc538 51.46%,#c8c434 51.61%,#adc73e 51.75%,#b1c63c 51.90%,#d1c132 52.04%,#d1c232 52.19%,#b8c63a 52.33%,#b3c63c 52.48%,#c4c435 52.62%,#ccc332 52.76%,#cec332 52.91%,#bcc538 53.05%,#b7c63a 53.20%,#b1c63c 53.34%,#b2c63c 53.49%,#adc73e 53.63%,#a2c843 53.78%,#a7c840 53.92%,#bbc539 54.07%,#c0c537 54.21%,#b8c63a 54.36%,#b4c63b 54.50%,#b2c63c 54.65%,#b6c63b 54.79%,#b8c63a 54.94%,#acc73e 55.08%,#9dc748 55.23%,#81c460 55.37%,#8bc557 55.52%,#a0c745 55.66%,#93c651 55.80%,#97c64d 55.95%,#98c74c 56.09%,#9fc746 56.24%,#8ac558 56.38%,#7dc363 56.53%,#96c64d 56.67%,#90c653 56.82%,#91c652 56.96%,#98c74c 57.11%,#8dc556 57.25%,#75c26a 57.40%,#7dc363 57.54%,#89c559 57.69%,#89c559 57.83%,#8ec555 57.98%,#97c64d 58.12%,#a1c745 58.27%,#80c461 58.41%,#85c45d 58.56%,#82c45f 58.70%,#80c461 58.84%,#7ac366 58.99%,#81c460 59.13%,#7dc363 59.28%,#73c26c 59.42%,#77c269 59.57%,#7ac366 59.71%,#68c076 59.86%,#61bf7c 60.00%,#5ebf7e 60.15%,#6ec170 60.29%,#71c26d 60.44%,#7cc364 60.58%,#7bc365 60.73%,#77c269 60.87%,#74c26b 61.02%,#71c26e 61.16%,#6ec171 61.31%,#68c076 61.45%,#5abe82 61.60%,#56be85 61.74%,#51be89 61.88%,#58be84 62.03%,#59be83 62.17%,#5cbe81 62.32%,#54be86 62.46%,#44bd93 62.61%,#44bd93 62.75%,#31bca2 62.90%,#34bc9f 63.04%,#2fbca4 63.19%,#2fbca4 63.33%,#2fbca4 63.48%,#28bbad 63.62%,#2bbbaa 63.77%,#22bbb5 63.91%,#1dbabc 64.06%,#1dbabc 64.20%,#1bbabf 64.35%,#17b7c9 64.49%,#17b6cb 64.64%,#15b5ce 64.78%,#15b5d0 64.92%,#15b1d6 65.07%,#16b0d9 65.21%,#14b4d3 65.36%,#15b2d5 65.50%,#16afdb 65.65%,#16aedb 65.79%,#16aedb 65.94%,#16aedc 66.08%,#17adde 66.23%,#18abe0 66.37%,#1aa9e2 66.52%,#2ba1dc 66.66%,#27a3dd 66.81%,#24a5de 66.95%,#24a5de 67.10%,#2ca1dc 67.24%,#309fda 67.39%,#319eda 67.53%,#2ea0db 67.68%,#2ea0db 67.82%,#329eda 67.96%,#2ca1db 68.11%,#3b96d3 68.25%,#428fcd 68.40%,#3a97d4 68.54%,#369bd8 68.69%,#3d94d1 68.83%,#3e93d0 68.98%,#3d94d1 69.12%,#4190ce 69.27%,#448cca 69.41%,#428ecc 69.56%,#448ccb 69.70%,#4689c8 69.85%,#4981c3 69.99%,#4a7dc0 70.14%,#4787c7 70.28%,#428ecd 70.43%,#418fcd 70.57%,#3e92d0 70.72%,#4785c6 70.86%,#4980c2 71.00%,#4884c5 71.15%,#4786c6 71.29%,#458bca 71.44%,#4786c6 71.58%,#4b79bd 71.73%,#4c75ba 71.87%,#4b78bc 72.02%,#4980c2 72.16%,#4b79bd 72.31%,#4c76bb 72.45%,#4c75ba 72.60%,#4b7bbe 72.74%,#4980c2 72.89%,#4e6fb7 73.03%,#4d73b9 73.18%,#4787c7 73.32%,#4786c7 73.47%,#4b7bbe 73.61%,#4a7dc0 73.76%,#4884c5 73.90%,#4980c2 74.04%,#4786c7 74.19%,#3c94d2 74.33%,#4981c2 74.48%,#4a7ec0 74.62%,#4882c3 74.77%,#4883c4 74.91%,#4a7cbf 75.06%,#4b79bd 75.20%,#4980c2 75.35%,#4883c4 75.49%,#428ecd 75.64%,#3b95d3 75.78%,#329eda 75.93%,#3c95d2 76.07%,#3799d6 76.22%,#309fda 76.36%,#319eda 76.51%,#1ea7e0 76.65%,#16aedb 76.80%,#1ca8e1 76.94%,#19aae2 77.08%,#19aae2 77.23%,#20a6df 77.37%,#18aae2 77.52%,#17addd 77.66%,#18abe1 77.81%,#1aa9e1 77.95%,#17abe0 78.10%,#17addd 78.24%,#16aedc 78.39%,#1ea7e0 78.53%,#1ea7e0 78.68%,#18abe1 78.82%,#17acde 78.97%,#14b4d2 79.11%,#17b7c9 79.26%,#19b9c3 79.40%,#17b7c9 79.55%,#19b8c5 79.69%,#20bab8 79.83%,#27bbae 79.98%,#1dbabc 80.12%,#17b7c9 80.27%,#16b5ce 80.41%,#16b6cc 80.56%,#17b6ca 80.70%,#18b7c8 80.85%,#19b9c3 80.99%,#1cbabc 81.14%,#21bbb6 81.28%,#1dbabb 81.43%,#1bbabf 81.57%,#1ab9c2 81.72%,#17b7c9 81.86%,#18b7c7 82.01%,#18b8c6 82.15%,#18b7c7 82.30%,#14b4d2 82.44%,#15b5cf 82.59%,#1ab9c1 82.73%,#18b8c6 82.87%,#15b5cf 83.02%,#15b4d0 83.16%,#17b6cb 83.31%,#15b5ce 83.45%,#18b7c8 83.60%,#20bab8 83.74%,#17b6ca 83.89%,#15b2d4 84.03%,#14b4d1 84.18%,#17b7c9 84.32%,#16b6cc 84.47%,#15b5cf 84.61%,#15b5d0 84.76%,#14b4d2 84.90%,#15b2d5 85.05%,#16afd9 85.19%,#16b0d9 85.34%,#15b2d5 85.48%,#16aedb 85.63%,#17addd 85.77%,#17acdf 85.91%,#16afda 86.06%,#15b2d5 86.20%,#15b2d6 86.35%,#15b1d7 86.49%,#16aedb 86.64%,#17acde 86.78%,#1ca8e1 86.93%,#22a6df 87.07%,#29a2dd 87.22%,#2ea0db 87.36%,#309fda 87.51%,#329eda 87.65%,#329eda 87.80%,#3997d4 87.94%,#3a97d4 88.09%,#3c95d2 88.23%,#3d94d1 88.38%,#3b95d3 88.52%,#4090ce 88.67%,#468ac9 88.81%,#458bca 88.95%,#418fcd 89.10%,#4788c8 89.24%,#4982c3 89.39%,#4a7dc0 89.53%,#4b7abe 89.68%,#497fc1 89.82%,#4980c2 89.97%,#497ec1 90.11%,#4b78bc 90.26%,#4c74ba 90.40%,#4b79bd 90.55%,#4b79bd 90.69%,#4d71b8 90.84%,#4e6db5 90.98%,#4f6ab3 91.13%,#4f6ab3 91.27%,#5067b1 91.42%,#5064b0 91.56%,#5062ae 91.71%,#5063af 91.85%,#5065b0 91.99%,#4f69b2 92.14%,#5065b0 92.28%,#5060ad 92.43%,#5061ae 92.57%,#5063af 92.72%,#5061ae 92.86%,#5065b0 93.01%,#5066b1 93.15%,#4e6db5 93.30%,#4e6fb7 93.44%,#4a7ec1 93.59%,#4787c7 93.73%,#4786c6 93.88%,#4882c3 94.02%,#4982c3 94.17%,#458bca 94.31%,#448dcb 94.46%,#428ecc 94.60%,#3d94d1 94.75%,#3998d5 94.89%,#3a97d4 95.03%,#4090ce 95.18%,#3f92d0 95.32%,#3c95d2 95.47%,#3f91cf 95.61%,#349dd9 95.76%,#26a3dd 95.90%,#1aa9e1 96.05%,#19aae2 96.19%,#1aa9e1 96.34%,#1ca8e1 96.48%,#1aa9e1 96.63%,#18abe1 96.77%,#20a6df 96.92%,#1aa9e1 97.06%,#17addd 97.21%,#16afda 97.35%,#15b2d6 97.50%,#14b3d3 97.64%,#18abe1 97.79%,#19aae2 97.93%,#16afdb 98.07%,#15b1d7 98.22%,#15b2d5 98.36%,#15b4d0 98.51%,#17b7ca 98.65%,#17b7c9 98.80%,#16b6cc 98.94%,#18b7c8 99.09%,#19b8c5 99.23%,#16b6cd 99.38%,#15b5cf 99.52%,#15b2d6 99.67%,#16afd9 99.81%,#15b1d7 99.96%);-webkit-mask-image:linear-gradient(180deg,transparent 24.6px,#000 29.7px);mask-image:linear-gradient(180deg,transparent 24.6px,#000 29.7px);}
#h5{background:linear-gradient(90deg,#b6c63b 0.07%,#c0c537 0.14%,#c9c434 0.22%,#c4c435 0.29%,#b4c63c 0.36%,#b9c63a 0.43%,#b2c63c 0.51%,#b9c63a 0.58%,#b9c539 0.65%,#b2c63c 0.72%,#b1c73d 0.80%,#adc73e 0.87%,#afc73d 0.94%,#acc73e 1.01%,#a9c840 1.09%,#a1c845 1.16%,#9dc748 1.23%,#9cc748 1.30%,#9dc748 1.38%,#9ac74b 1.45%,#99c74b 1.52%,#98c74c 1.59%,#97c64d 1.66%,#a0c746 1.74%,#a1c745 1.81%,#a7c840 1.88%,#a5c841 1.95%,#b3c63c 2.03%,#b5c63b 2.10%,#bac539 2.17%,#afc73d 2.24%,#a8c840 2.32%,#a7c840 2.39%,#adc73e 2.46%,#bec538 2.53%,#cbc333 2.61%,#cfc232 2.68%,#ccc333 2.75%,#d1c132 2.82%,#c4c435 2.90%,#c5c435 2.97%,#c5c435 3.04%,#b1c73d 3.11%,#a5c841 3.18%,#a8c840 3.26%,#abc73f 3.33%,#b5c63b 3.40%,#c0c537 3.47%,#c5c435 3.55%,#c7c434 3.62%,#bec538 3.69%,#b8c63a 3.76%,#b5c63b 3.84%,#b2c63c 3.91%,#b9c63a 3.98%,#b5c63b 4.05%,#bdc538 4.13%,#cec332 4.20%,#cdc332 4.27%,#cfc232 4.34%,#c6c434 4.42%,#c0c537 4.49%,#bdc538 4.56%,#b2c63c 4.63%,#aac73f 4.70%,#a3c842 4.78%,#a1c844 4.85%,#9ec747 4.92%,#97c64d 4.99%,#8dc555 5.07%,#90c653 5.14%,#90c653 5.21%,#9ec747 5.28%,#a5c841 5.36%,#a5c841 5.43%,#a2c843 5.50%,#a0c745 5.57%,#a9c73f 5.65%,#aac73f 5.72%,#abc73f 5.79%,#abc73f 5.86%,#a9c840 5.94%,#aac73f 6.01%,#a0c745 6.08%,#9cc749 6.15%,#a0c745 6.22%,#9ec747 6.30%,#a5c841 6.37%,#a3c843 6.44%,#9cc749 6.51%,#9cc749 6.59%,#a1c745 6.66%,#aac73f 6.73%,#a6c841 6.80%,#a0c745 6.88%,#96c64e 6.95%,#94c650 7.02%,#99c74c 7.09%,#9ec747 7.17%,#a3c842 7.24%,#a6c841 7.31%,#a3c843 7.38%,#92c651 7.46%,#86c45b 7.53%,#83c45e 7.60%,#85c45c 7.67%,#8bc557 7.74%,#8dc555 7.82%,#9dc748 7.89%,#a6c841 7.96%,#a0c745 8.03%,#abc73f 8.11%,#a5c841 8.18%,#92c652 8.25%,#8fc654 8.32%,#91c652 8.40%,#8dc556 8.47%,#87c55b 8.54%,#86c45c 8.61%,#84c45d 8.69%,#85c45c 8.76%,#84c45d 8.83%,#86c45c 8.90%,#87c55b 8.98%,#87c55b 9.05%,#89c559 9.12%,#89c559 9.19%,#8cc557 9.26%,#7dc364 9.34%,#76c269 9.41%,#73c26c 9.48%,#72c26d 9.55%,#78c268 9.63%,#8bc558 9.70%,#8ec555 9.77%,#8bc558 9.84%,#88c55a 9.92%,#82c45f 9.99%,#7ec362 10.06%,#7bc365 10.13%,#7ac366 10.21%,#73c26c 10.28%,#75c26a 10.35%,#72c26d 10.42%,#6bc173 10.50%,#5ebf7f 10.57%,#5abe82 10.64%,#57be84 10.71%,#5bbe81 10.78%,#65c079 10.86%,#64c079 10.93%,#64c079 11.00%,#68c076 11.07%,#62bf7b 11.15%,#5fbf7d 11.22%,#64bf7a 11.29%,#79c367 11.36%,#82c45f 11.44%,#84c45e 11.51%,#80c461 11.58%,#87c55a 11.65%,#6fc170 11.73%,#6bc173 11.80%,#65c078 11.87%,#67c077 11.94%,#6cc173 12.02%,#7dc363 12.09%,#7fc461 12.16%,#79c367 12.23%,#7ac366 12.30%,#82c45f 12.38%,#84c45e 12.45%,#83c45e 12.52%,#82c45f 12.59%,#83c45e 12.67%,#76c26a 12.74%,#72c26d 12.81%,#70c16f 12.88%,#6fc16f 12.96%,#7cc364 13.03%,#81c460 13.10%,#80c460 13.17%,#82c45f 13.25%,#7ac366 13.32%,#70c16f 13.39%,#6bc173 13.46%,#6cc172 13.54%,#6dc172 13.61%,#63bf7b 13.68%,#5ebf7f 13.75%,#5ebf7f 13.82%,#5abe82 13.90%,#66c078 13.97%,#6bc173 14.04%,#69c075 14.11%,#65c078 14.19%,#64bf7a 14.26%,#69c074 14.33%,#68c076 14.40%,#76c269 14.48%,#7ac366 14.55%,#74c26b 14.62%,#70c16f 14.69%,#69c075 14.77%,#5bbe82 14.84%,#59be83 14.91%,#59be83 14.98%,#56be85 15.06%,#60bf7d 15.13%,#6ac074 15.20%,#6bc173 15.27%,#68c076 15.34%,#59be83 15.42%,#5bbe81 15.49%,#55be86 15.56%,#5bbe81 15.63%,#61bf7c 15.71%,#62bf7b 15.78%,#61bf7c 15.85%,#62bf7b 15.92%,#56be85 16.00%,#4dbd8c 16.07%,#49bd8f 16.14%,#4cbd8d 16.21%,#52be88 16.29%,#75c26a 16.36%,#8bc557 16.43%,#8bc557 16.50%,#88c55a 16.57%,#72c26d 16.65%,#6fc170 16.72%,#73c26c 16.79%,#80c461 16.86%,#84c45d 16.94%,#85c45d 17.01%,#7cc364 17.08%,#72c26d 17.15%,#71c26d 17.23%,#73c26c 17.30%,#6bc173 17.37%,#60bf7c 17.44%,#61bf7c 17.52%,#61bf7c 17.59%,#6fc170 17.66%,#77c268 17.73%,#7ac366 17.81%,#7bc365 17.88%,#69c075 17.95%,#67c077 18.02%,#64c079 18.09%,#62bf7b 18.17%,#5bbe81 18.24%,#59be83 18.31%,#59be83 18.38%,#5ebf7f 18.46%,#65c078 18.53%,#6bc173 18.60%,#71c16e 18.67%,#6fc16f 18.75%,#5fbf7e 18.82%,#4ebd8b 18.89%,#4bbd8d 18.96%,#4abd8e 19.04%,#53be87 19.11%,#60bf7d 19.18%,#62bf7b 19.25%,#5abe82 19.33%,#53be87 19.40%,#52be88 19.47%,#53be88 19.54%,#58be83 19.61%,#58be83 19.69%,#59be83 19.76%,#5bbe81 19.83%,#63bf7a 19.90%,#6cc173 19.98%,#71c16e 20.05%,#70c16f 20.12%,#77c269 20.19%,#77c268 20.27%,#75c26a 20.34%,#5ebf7e 20.41%,#4cbd8c 20.48%,#4bbd8e 20.56%,#4bbd8d 20.63%,#4abd8e 20.70%,#47bd90 20.77%,#47bd90 20.85%,#4dbd8c 20.92%,#5bbe81 20.99%,#65c078 21.06%,#67c077 21.13%,#6dc172 21.21%,#77c268 21.28%,#77c269 21.35%,#77c268 21.42%,#6fc170 21.50%,#67c076 21.57%,#5fbf7d 21.64%,#56be85 21.71%,#4fbd8a 21.79%,#51be89 21.86%,#55be86 21.93%,#7bc365 22.00%,#81c460 22.08%,#7fc462 22.15%,#76c26a 22.22%,#66c078 22.29%,#64bf7a 22.37%,#61bf7c 22.44%,#5ebf7f 22.51%,#5fbf7e 22.58%,#53be87 22.65%,#4dbd8b 22.73%,#47bd90 22.80%,#4ebd8b 22.87%,#51be89 22.94%,#59be82 23.02%,#5abe82 23.09%,#5bbe81 23.16%,#55be86 23.23%,#4dbd8c 23.31%,#4bbd8d 23.38%,#4bbd8d 23.45%,#56be85 23.52%,#65c078 23.60%,#64c079 23.67%,#65c078 23.74%,#64bf7a 23.81%,#5dbe7f 23.89%,#59be83 23.96%,#56be85 24.03%,#5dbe7f 24.10%,#5fbf7d 24.17%,#6dc172 24.25%,#70c16e 24.32%,#61bf7c 24.39%,#5ebf7e 24.46%,#52be88 24.54%,#56be85 24.61%,#5dbf7f 24.68%,#5cbe80 24.75%,#5abe82 24.83%,#56be85 24.90%,#5abe82 24.97%,#5ebf7f 25.04%,#61bf7c 25.12%,#6dc172 25.19%,#6ec171 25.26%,#6ec170 25.33%,#68c076 25.41%,#5cbe81 25.48%,#57be84 25.55%,#5cbe80 25.62%,#67c077 25.69%,#88c55a 25.77%,#8ac558 25.84%,#8cc556 25.91%,#8ac558 25.98%,#7ec362 26.06%,#73c26c 26.13%,#73c26c 26.20%,#6dc171 26.27%,#60bf7d 26.35%,#5dbe7f 26.42%,#61bf7c 26.49%,#63bf7a 26.56%,#66c078 26.64%,#69c075 26.71%,#6cc172 26.78%,#6ec171 26.85%,#85c45c 26.93%,#88c55a 27.00%,#89c559 27.07%,#83c45e 27.14%,#78c368 27.21%,#78c367 27.29%,#82c45f 27.36%,#8cc556 27.43%,#90c653 27.50%,#8dc555 27.58%,#82c45f 27.65%,#79c367 27.72%,#75c26a 27.79%,#6fc16f 27.87%,#5bbe81 27.94%,#52be88 28.01%,#55be86 28.08%,#55be86 28.16%,#5fbf7e 28.23%,#61bf7c 28.30%,#65c078 28.37%,#6ec171 28.45%,#7fc462 28.52%,#85c45c 28.59%,#85c45c 28.66%,#8ac558 28.73%,#8fc554 28.81%,#8fc554 28.88%,#97c64d 28.95%,#9ec747 29.02%,#9cc749 29.10%,#8cc556 29.17%,#89c559 29.24%,#87c55b 29.31%,#86c55b 29.39%,#8bc557 29.46%,#8cc557 29.53%,#87c55b 29.60%,#7dc364 29.68%,#72c26d 29.75%,#70c16f 29.82%,#6bc173 29.89%,#65c078 29.97%,#62bf7b 30.04%,#61bf7c 30.11%,#66c078 30.18%,#7fc461 30.25%,#8bc557 30.33%,#90c653 30.40%,#8ac558 30.47%,#6cc172 30.54%,#66c077 30.62%,#62bf7b 30.69%,#63bf7a 30.76%,#6ec170 30.83%,#7cc364 30.91%,#7ec362 30.98%,#7fc462 31.05%,#7ec362 31.12%,#74c26b 31.20%,#6ac074 31.27%,#6ac074 31.34%,#6bc173 31.41%,#73c26d 31.49%,#73c26c 31.56%,#74c26b 31.63%,#5fbf7e 31.70%,#5fbf7d 31.77%,#5dbe7f 31.85%,#64bf79 31.92%,#73c26c 31.99%,#74c26b 32.06%,#6ec171 32.14%,#60bf7d 32.21%,#5dbf7f 32.28%,#5abe82 32.35%,#51be89 32.43%,#4ebd8b 32.50%,#51be89 32.57%,#52be88 32.64%,#69c075 32.72%,#72c26d 32.79%,#78c268 32.86%,#77c269 32.93%,#6ec170 33.01%,#5ebf7f 33.08%,#58be83 33.15%,#56be85 33.22%,#56be85 33.29%,#57be84 33.37%,#54be86 33.44%,#57be84 33.51%,#51be89 33.58%,#49bd8f 33.66%,#48bd90 33.73%,#48bd90 33.80%,#4dbd8c 33.87%,#55be86 33.95%,#56be85 34.02%,#55be86 34.09%,#4dbd8c 34.16%,#48bd90 34.24%,#42bd94 34.31%,#4cbd8d 34.38%,#64c079 34.45%,#66c078 34.53%,#5abe82 34.60%,#41bd95 34.67%,#43bd94 34.74%,#40bd96 34.81%,#39bc9b 34.89%,#32bca0 34.96%,#31bca1 35.03%,#34bc9f 35.10%,#34bc9f 35.18%,#36bc9d 35.25%,#34bc9e 35.32%,#33bc9f 35.39%,#28bbad 35.47%,#24bbb2 35.54%,#27bbaf 35.61%,#2abbaa 35.68%,#36bc9d 35.76%,#3bbc99 35.83%,#3dbd98 35.90%,#39bc9b 35.97%,#2fbca4 36.05%,#26bbb0 36.12%,#25bbb1 36.19%,#25bbb1 36.26%,#2abbab 36.33%,#2dbca7 36.41%,#2dbca7 36.48%,#29bbab 36.55%,#1bbabe 36.62%,#1bbabf 36.70%,#1bbabf 36.77%,#20bab8 36.84%,#29bbac 36.91%,#28bbad 36.99%,#2abbaa 37.06%,#27bbae 37.13%,#23bbb4 37.20%,#24bbb2 37.28%,#25bbb1 37.35%,#2abbaa 37.42%,#2dbca7 37.49%,#29bbac 37.57%,#26bbaf 37.64%,#21bbb6 37.71%,#21bab7 37.78%,#23bbb4 37.85%,#22bbb4 37.93%,#2fbca4 38.00%,#33bc9f 38.07%,#31bca1 38.14%,#32bca0 38.22%,#2ebca5 38.29%,#27bbaf 38.36%,#26bbb0 38.43%,#25bbb0 38.51%,#24bbb3 38.58%,#23bbb3 38.65%,#25bbb1 38.72%,#26bbb0 38.80%,#28bbad 38.87%,#29bbac 38.94%,#2abbaa 39.01%,#28bbad 39.09%,#26bbb0 39.16%,#25bbb1 39.23%,#25bbb1 39.30%,#22bbb5 39.37%,#1ebaba 39.45%,#21bbb6 39.52%,#26bbb0 39.59%,#27bbaf 39.66%,#24bbb3 39.74%,#1ebabb 39.81%,#1ab9c0 39.88%,#1ab9c1 39.95%,#1ab9c0 40.03%,#1bbabf 40.10%,#27bbae 40.17%,#2bbba9 40.24%,#2ebca5 40.32%,#2ebca6 40.39%,#2bbba9 40.46%,#23bbb4 40.53%,#20bab7 40.61%,#23bbb4 40.68%,#24bbb3 40.75%,#29bbac 40.82%,#2bbbaa 40.89%,#2abbab 40.97%,#26bbb0 41.04%,#24bbb3 41.11%,#24bbb3 41.18%,#25bbb2 41.26%,#22bbb5 41.33%,#1ebaba 41.40%,#1fbab8 41.47%,#21bab7 41.55%,#2cbba8 41.62%,#2dbca7 41.69%,#28bbad 41.76%,#26bbaf 41.84%,#22bbb5 41.91%,#23bbb4 41.98%,#29bbab 42.05%,#2fbca4 42.13%,#3bbc99 42.20%,#41bd95 42.27%,#49bd8f 42.34%,#50bd8a 42.41%,#53be87 42.49%,#54be86 42.56%,#51be88 42.63%,#44bd92 42.70%,#3fbd96 42.78%,#3bbc99 42.85%,#3bbc99 42.92%,#2dbca6 42.99%,#2cbca7 43.07%,#2bbbaa 43.14%,#2abbaa 43.21%,#29bbac 43.28%,#27bbaf 43.36%,#26bbaf 43.43%,#28bbad 43.50%,#2bbba9 43.57%,#2fbca4 43.65%,#2fbca3 43.72%,#31bca2 43.79%,#33bc9f 43.86%,#42bd94 43.93%,#47bd90 44.01%,#47bd90 44.08%,#45bd92 44.15%,#48bd90 44.22%,#3ebd97 44.30%,#3cbc99 44.37%,#3bbc99 44.44%,#3cbd98 44.51%,#3ebd97 44.59%,#3dbd98 44.66%,#3cbc99 44.73%,#3fbd96 44.80%,#44bd93 44.88%,#47bd90 44.95%,#47bd90 45.02%,#47bd90 45.09%,#46bd91 45.17%,#46bd91 45.24%,#43bd93 45.31%,#42bd94 45.38%,#3fbd96 45.45%,#3fbd96 45.53%,#40bd95 45.60%,#48bd90 45.67%,#48bd8f 45.74%,#4cbd8c 45.82%,#4bbd8d 45.89%,#4bbd8d 45.96%,#51be89 46.03%,#51be88 46.11%,#52be88 46.18%,#53be87 46.25%,#54be86 46.32%,#52be88 46.40%,#58be83 46.47%,#5dbf7f 46.54%,#60bf7d 46.61%,#58be83 46.69%,#59be82 46.76%,#57be84 46.83%,#60bf7d 46.90%,#60bf7c 46.97%,#61bf7c 47.05%,#5cbe80 47.12%,#5bbe81 47.19%,#60bf7c 47.26%,#67c076 47.34%,#6bc173 47.41%,#6cc172 47.48%,#6ec170 47.55%,#6ec171 47.63%,#72c26d 47.70%,#6bc173 47.77%,#6bc173 47.84%,#70c16f 47.92%,#6cc172 47.99%,#68c076 48.06%,#6dc172 48.13%,#6ec171 48.20%,#6fc16f 48.28%,#79c367 48.35%,#7ec362 48.42%,#83c45e 48.49%,#88c55a 48.57%,#89c559 48.64%,#89c559 48.71%,#86c55b 48.78%,#85c45d 48.86%,#7dc363 48.93%,#75c26a 49.00%,#70c16f 49.07%,#6fc16f 49.15%,#6dc171 49.22%,#70c16f 49.29%,#78c268 49.36%,#78c367 49.44%,#7fc362 49.51%,#88c55a 49.58%,#8bc557 49.65%,#8bc557 49.72%,#90c653 49.80%,#92c651 49.87%,#94c64f 49.94%,#95c64f 50.01%,#97c64d 50.09%,#8fc554 50.16%,#8cc556 50.23%,#8cc556 50.30%,#84c45d 50.38%,#84c45d 50.45%,#84c45e 50.52%,#81c460 50.59%,#81c460 50.67%,#83c45e 50.74%,#87c55b 50.81%,#86c45c 50.88%,#89c559 50.96%,#8ec555 51.03%,#8bc557 51.10%,#75c26a 51.17%,#77c269 51.24%,#81c460 51.32%,#85c45c 51.39%,#8fc654 51.46%,#95c64f 51.53%,#94c650 51.61%,#90c653 51.68%,#84c45e 51.75%,#85c45c 51.82%,#89c559 51.90%,#91c652 51.97%,#99c74b 52.04%,#9bc749 52.11%,#99c74b 52.19%,#93c651 52.26%,#8ec555 52.33%,#8bc557 52.40%,#88c55a 52.48%,#8cc556 52.55%,#93c650 52.62%,#95c64f 52.69%,#96c64e 52.76%,#95c64f 52.84%,#95c64e 52.91%,#8dc556 52.98%,#8ac558 53.05%,#88c55a 53.13%,#89c559 53.20%,#89c559 53.27%,#8ac558 53.34%,#87c55b 53.42%,#88c55a 53.49%,#85c45c 53.56%,#82c45f 53.63%,#80c461 53.71%,#81c460 53.78%,#81c460 53.85%,#87c55b 53.92%,#88c55a 54.00%,#91c653 54.07%,#95c64f 54.14%,#93c650 54.21%,#8dc555 54.28%,#8ac558 54.36%,#86c55b 54.43%,#88c55a 54.50%,#88c55a 54.57%,#8dc556 54.65%,#8ec555 54.72%,#8fc654 54.79%,#8fc554 54.86%,#8dc556 54.94%,#8dc555 55.01%,#8cc557 55.08%,#85c45d 55.15%,#7ac366 55.23%,#67c077 55.30%,#5cbe81 55.37%,#67c077 55.44%,#6bc173 55.52%,#77c268 55.59%,#7cc365 55.66%,#75c26b 55.73%,#71c16e 55.80%,#71c16e 55.88%,#78c268 55.95%,#76c269 56.02%,#75c26b 56.09%,#78c268 56.17%,#79c367 56.24%,#66c078 56.31%,#5dbe7f 56.38%,#61bf7c 56.46%,#5abe82 56.53%,#77c268 56.60%,#72c26d 56.67%,#75c26a 56.75%,#69c075 56.82%,#6ec170 56.89%,#6ac074 56.96%,#71c16e 57.04%,#78c368 57.11%,#76c26a 57.18%,#70c16f 57.25%,#60bf7c 57.32%,#58be83 57.40%,#56be85 57.47%,#59be83 57.54%,#61bf7b 57.61%,#63bf7a 57.69%,#62bf7b 57.76%,#60bf7d 57.83%,#60bf7c 57.90%,#67c076 57.98%,#68c076 58.05%,#74c26b 58.12%,#78c367 58.19%,#78c268 58.27%,#6ec171 58.34%,#61bf7c 58.41%,#63bf7a 58.48%,#63bf7a 58.56%,#65c079 58.63%,#5abe82 58.70%,#56be85 58.77%,#56be85 58.84%,#5ebf7f 58.92%,#57be85 58.99%,#5dbe7f 59.06%,#61bf7c 59.13%,#5dbe80 59.21%,#56be85 59.28%,#4bbd8d 59.35%,#4abd8e 59.42%,#4bbd8d 59.50%,#50bd8a 59.57%,#56be85 59.64%,#55be86 59.71%,#4cbd8d 59.79%,#43bd93 59.86%,#42bd94 59.93%,#3ebd97 60.00%,#35bc9e 60.08%,#36bc9d 60.15%,#3abc9a 60.22%,#48bd8f 60.29%,#4dbd8c 60.36%,#47bd91 60.44%,#49bd8f 60.51%,#54be87 60.58%,#55be86 60.65%,#56be85 60.73%,#55be86 60.80%,#51be89 60.87%,#4ebd8b 60.94%,#4bbd8d 61.02%,#49bd8f 61.09%,#48bd8f 61.16%,#41bd95 61.23%,#46bd91 61.31%,#42bd94 61.38%,#40bd95 61.45%,#3dbd98 61.52%,#32bca1 61.60%,#30bca2 61.67%,#30bca3 61.74%,#30bca3 61.81%,#2fbca4 61.88%,#35bc9e 61.96%,#35bc9e 62.03%,#35bc9d 62.10%,#36bc9d 62.17%,#38bc9b 62.25%,#3abc9a 62.32%,#39bc9b 62.39%,#37bc9c 62.46%,#30bca3 62.54%,#2abbab 62.61%,#2abbaa 62.68%,#27bbae 62.75%,#20bab7 62.83%,#1fbab9 62.90%,#1ebaba 62.97%,#20bab7 63.04%,#1dbabb 63.12%,#1cbabd 63.19%,#1ebabb 63.26%,#20bab8 63.33%,#21bbb6 63.40%,#20bab7 63.48%,#20bab8 63.55%,#1dbabc 63.62%,#1cbabd 63.69%,#1fbab9 63.77%,#1dbabb 63.84%,#1ab9c1 63.91%,#19b9c3 63.98%,#19b8c4 64.06%,#19b8c3 64.13%,#19b8c4 64.20%,#18b7c8 64.27%,#19b8c3 64.35%,#19b8c5 64.42%,#17b6ca 64.49%,#15b5cf 64.56%,#16b6cc 64.64%,#16b5cd 64.71%,#16b5ce 64.78%,#16b6cc 64.85%,#15b5cf 64.92%,#15b5cf 65.00%,#15b2d5 65.07%,#15b1d7 65.14%,#16b0d8 65.21%,#14b4d2 65.29%,#15b5d0 65.36%,#14b3d3 65.43%,#15b5cf 65.50%,#14b4d2 65.58%,#15b2d5 65.65%,#14b4d2 65.72%,#14b3d4 65.79%,#14b3d4 65.87%,#14b3d3 65.94%,#14b4d3 66.01%,#14b3d3 66.08%,#14b4d3 66.16%,#15b2d5 66.23%,#15b1d6 66.30%,#15b2d6 66.37%,#14b4d3 66.44%,#16b0d8 66.52%,#16aedb 66.59%,#17adde 66.66%,#17addd 66.73%,#17addd 66.81%,#17addc 66.88%,#16afda 66.95%,#16afd9 67.02%,#16afda 67.10%,#16afdb 67.17%,#16aedc 67.24%,#17adde 67.31%,#17addd 67.39%,#17addd 67.46%,#17adde 67.53%,#16b0d9 67.60%,#16afda 67.68%,#16aedb 67.75%,#16afd9 67.82%,#17adde 67.89%,#17addd 67.96%,#17addd 68.04%,#16aedb 68.11%,#17acdf 68.18%,#18abe0 68.25%,#18abe1 68.33%,#1ea7e0 68.40%,#18aae2 68.47%,#17acde 68.54%,#17addd 68.62%,#16aedc 68.69%,#17acdf 68.76%,#19a9e2 68.83%,#1da8e0 68.91%,#17acdf 68.98%,#17addc 69.05%,#17addc 69.12%,#17adde 69.20%,#18abe1 69.27%,#19aae2 69.34%,#1fa7e0 69.41%,#1fa7e0 69.48%,#1aa9e1 69.56%,#18abe1 69.63%,#19a9e2 69.70%,#19a9e2 69.77%,#1aa9e1 69.85%,#22a6df 69.92%,#25a4de 69.99%,#29a2dd 70.06%,#27a3dd 70.14%,#21a6df 70.21%,#20a6df 70.28%,#19aae2 70.35%,#17ace0 70.43%,#18abe0 70.50%,#18abe1 70.57%,#17acdf 70.64%,#18abe0 70.72%,#1ba9e1 70.79%,#20a6df 70.86%,#23a5df 70.93%,#20a6e0 71.00%,#1ea7e0 71.08%,#1fa7e0 71.15%,#1ba8e1 71.22%,#1ca8e1 71.29%,#18aae2 71.37%,#18abe1 71.44%,#1ba8e1 71.51%,#1ca8e1 71.58%,#20a6e0 71.66%,#29a2dd 71.73%,#2aa2dc 71.80%,#2ba1dc 71.87%,#2ca1dc 71.95%,#29a2dd 72.02%,#22a5df 72.09%,#1fa7e0 72.16%,#22a6df 72.24%,#27a3dd 72.31%,#2ba1dc 72.38%,#2ba1dc 72.45%,#2da0db 72.52%,#2ca0db 72.60%,#2ca1dc 72.67%,#2aa1dc 72.74%,#23a5df 72.81%,#23a5de 72.89%,#28a3dd 72.96%,#359cd8 73.03%,#369ad7 73.10%,#309fda 73.18%,#23a5df 73.25%,#18abe1 73.32%,#17abe0 73.39%,#1aa9e1 73.47%,#1fa7e0 73.54%,#21a6df 73.61%,#1ea7e0 73.68%,#1ea7e0 73.76%,#1aa9e1 73.83%,#1ba9e1 73.90%,#19a9e2 73.97%,#1ba9e1 74.04%,#1aa9e1 74.12%,#17acdf 74.19%,#16b0d9 74.26%,#15b1d6 74.33%,#16afdb 74.41%,#1aa9e1 74.48%,#1ea7e0 74.55%,#20a6e0 74.62%,#1ea7e0 74.70%,#1ca8e1 74.77%,#19aae2 74.84%,#1ba9e1 74.91%,#23a5df 74.99%,#29a2dd 75.06%,#2ba1dc 75.13%,#28a3dd 75.20%,#22a6df 75.28%,#20a6e0 75.35%,#1ca8e1 75.42%,#1ba8e1 75.49%,#17acdf 75.56%,#17adde 75.64%,#17addd 75.71%,#16afda 75.78%,#15b1d7 75.85%,#15b2d5 75.93%,#16b0d8 76.00%,#16aedb 76.07%,#17addd 76.14%,#17addc 76.22%,#16b0d8 76.29%,#14b3d4 76.36%,#14b4d2 76.43%,#15b2d5 76.51%,#15b1d6 76.58%,#16b5cd 76.65%,#17b7c8 76.72%,#18b7c7 76.80%,#17b7c9 76.87%,#14b4d1 76.94%,#14b3d4 77.01%,#15b2d4 77.08%,#14b3d4 77.16%,#14b4d2 77.23%,#14b3d3 77.30%,#14b3d4 77.37%,#15b1d7 77.45%,#15b2d6 77.52%,#14b4d3 77.59%,#14b4d1 77.66%,#16aedc 77.74%,#16aedb 77.81%,#16b0d9 77.88%,#16b0d8 77.95%,#16b0d9 78.03%,#15b1d6 78.10%,#14b3d4 78.17%,#14b3d3 78.24%,#14b4d3 78.31%,#15b3d4 78.39%,#15b1d7 78.46%,#16afda 78.53%,#16afda 78.60%,#16afda 78.68%,#16afd9 78.75%,#16b0d8 78.82%,#15b2d5 78.89%,#15b2d5 78.97%,#16b6cd 79.04%,#17b7c9 79.11%,#17b7c9 79.18%,#18b7c7 79.26%,#19b8c3 79.33%,#1ab9c2 79.40%,#19b9c3 79.47%,#19b8c5 79.55%,#18b8c6 79.62%,#19b8c5 79.69%,#19b8c3 79.76%,#1fbab9 79.83%,#26bbaf 79.91%,#25bbb1 79.98%,#24bbb3 80.05%,#19b9c2 80.12%,#18b7c7 80.20%,#17b7c8 80.27%,#17b7c9 80.34%,#15b5cf 80.41%,#15b5d0 80.49%,#15b5d0 80.56%,#15b5cf 80.63%,#16b5cd 80.70%,#16b5cd 80.78%,#17b7c9 80.85%,#18b8c6 80.92%,#19b8c5 80.99%,#19b8c3 81.07%,#1ab9c1 81.14%,#1bbabf 81.21%,#1bbabf 81.28%,#1bbabf 81.35%,#19b8c3 81.43%,#18b8c6 81.50%,#19b8c5 81.57%,#18b7c6 81.64%,#17b7c8 81.72%,#16b6cc 81.79%,#15b5cf 81.86%,#15b5cf 81.93%,#16b6cd 82.01%,#16b5cd 82.08%,#15b5ce 82.15%,#15b5cf 82.22%,#15b5cf 82.30%,#15b2d5 82.37%,#15b1d6 82.44%,#15b1d6 82.51%,#15b3d4 82.59%,#15b5cf 82.66%,#16b6cd 82.73%,#16b6cd 82.80%,#14b4d2 82.87%,#15b1d7 82.95%,#15b1d7 83.02%,#15b0d8 83.09%,#16afda 83.16%,#16b0d8 83.24%,#15b1d7 83.31%,#15b1d7 83.38%,#16b0d9 83.45%,#16b0d9 83.53%,#14b4d1 83.60%,#17b6ca 83.67%,#18b7c7 83.74%,#17b6ca 83.82%,#16b0d8 83.89%,#17addd 83.96%,#16aedb 84.03%,#16aedb 84.11%,#16b0d9 84.18%,#15b1d7 84.25%,#15b2d6 84.32%,#15b1d7 84.39%,#16b0d8 84.47%,#16afdb 84.54%,#16afd9 84.61%,#16b0d9 84.68%,#16aedb 84.76%,#17addd 84.83%,#17addd 84.90%,#17acdf 84.97%,#18aae1 85.05%,#18aae2 85.12%,#19a9e2 85.19%,#1ca8e1 85.26%,#18aae2 85.34%,#18abe0 85.41%,#17acdf 85.48%,#18abe0 85.55%,#1da7e0 85.63%,#1fa7e0 85.70%,#1ca8e1 85.77%,#1ea7e0 85.84%,#1fa7e0 85.91%,#1da8e0 85.99%,#1ba9e1 86.06%,#18aae2 86.13%,#17acdf 86.20%,#17acdf 86.28%,#17acdf 86.35%,#17acde 86.42%,#17acdf 86.49%,#17ace0 86.57%,#18aae2 86.64%,#1ba9e1 86.71%,#1ca8e1 86.78%,#23a5de 86.86%,#25a4de 86.93%,#28a3dd 87.00%,#2ba1dc 87.07%,#319fda 87.15%,#349dd9 87.22%,#359cd8 87.29%,#3899d6 87.36%,#3799d6 87.43%,#379ad6 87.51%,#3a97d4 87.58%,#3998d5 87.65%,#3898d5 87.72%,#3a97d4 87.80%,#3a97d4 87.87%,#3c95d2 87.94%,#3b95d2 88.01%,#3c94d2 88.09%,#3f92cf 88.16%,#3e92d0 88.23%,#4190ce 88.30%,#3f91cf 88.38%,#3b95d3 88.45%,#3c95d2 88.52%,#3a96d3 88.59%,#3e93d0 88.67%,#428fcd 88.74%,#428ecc 88.81%,#428ecd 88.88%,#4091cf 88.95%,#3f92d0 89.03%,#3f92d0 89.10%,#3f91cf 89.17%,#458bca 89.24%,#4689c8 89.32%,#4786c6 89.39%,#4787c7 89.46%,#4885c5 89.53%,#4884c5 89.61%,#4883c4 89.68%,#4785c6 89.75%,#4788c7 89.82%,#4689c8 89.90%,#4788c7 89.97%,#468ac9 90.04%,#468ac9 90.11%,#4884c5 90.19%,#4982c3 90.26%,#4882c3 90.33%,#4982c3 90.40%,#4883c4 90.47%,#4786c6 90.55%,#4788c8 90.62%,#4787c7 90.69%,#4883c4 90.76%,#4981c3 90.84%,#4980c2 90.91%,#497ec1 90.98%,#4a7dc0 91.05%,#4a7cbf 91.13%,#4a7bbf 91.20%,#4a7bbf 91.27%,#4a7cbf 91.34%,#4c76bb 91.42%,#4c77bc 91.49%,#4c75ba 91.56%,#4c76bb 91.63%,#4d73b9 91.71%,#4d72b8 91.78%,#4c75ba 91.85%,#4d73b9 91.92%,#4c77bb 91.99%,#4a7bbf 92.07%,#4a7dc0 92.14%,#4a7dc0 92.21%,#4b79bd 92.28%,#4c76bb 92.36%,#4d73b9 92.43%,#4d73b9 92.50%,#4d73b9 92.57%,#4c75bb 92.65%,#4c76bb 92.72%,#4c77bc 92.79%,#4b79bd 92.86%,#4b7bbe 92.94%,#4a7bbf 93.01%,#4a7bbf 93.08%,#4a7dc0 93.15%,#4981c3 93.23%,#4785c6 93.30%,#4786c6 93.37%,#4787c7 93.44%,#4090ce 93.51%,#3998d5 93.59%,#3899d5 93.66%,#319eda 93.73%,#2ca1dc 93.80%,#2ba1dc 93.88%,#29a2dc 93.95%,#319fda 94.02%,#359cd8 94.09%,#369bd8 94.17%,#309fda 94.24%,#26a4de 94.31%,#27a3dd 94.38%,#21a6df 94.46%,#20a6df 94.53%,#1ea7e0 94.60%,#1aa9e1 94.67%,#18aae2 94.75%,#18abe1 94.82%,#18abe1 94.89%,#17abe0 94.96%,#18abe1 95.03%,#1ca8e1 95.11%,#1fa7e0 95.18%,#20a6df 95.25%,#20a6df 95.32%,#21a6df 95.40%,#22a6df 95.47%,#21a6df 95.54%,#23a5df 95.61%,#1ea7e0 95.69%,#17acde 95.76%,#16aedb 95.83%,#16afda 95.90%,#16b0d8 95.98%,#15b1d8 96.05%,#15b1d6 96.12%,#15b0d8 96.19%,#16afda 96.27%,#16afda 96.34%,#16aedc 96.41%,#16afda 96.48%,#16b0d9 96.55%,#16b0d9 96.63%,#16afda 96.70%,#16afd9 96.77%,#17acde 96.84%,#17addd 96.92%,#17addd 96.99%,#16aedc 97.06%,#16b0d8 97.13%,#15b1d8 97.21%,#16b0d8 97.28%,#15b1d7 97.35%,#15b2d5 97.42%,#14b3d3 97.50%,#14b3d3 97.57%,#14b3d4 97.64%,#15b0d8 97.71%,#17acdf 97.79%,#17acde 97.86%,#17ace0 97.93%,#17acdf 98.00%,#17aedc 98.07%,#16b0d8 98.15%,#15b0d8 98.22%,#15b2d6 98.29%,#15b3d4 98.36%,#14b4d1 98.44%,#14b4d1 98.51%,#15b5ce 98.58%,#16b6cb 98.65%,#16b5cd 98.73%,#15b5d0 98.80%,#14b3d3 98.87%,#15b3d4 98.94%,#15b2d4 99.02%,#17b7ca 99.09%,#18b7c8 99.16%,#18b7c7 99.23%,#17b6cb 99.31%,#14b3d4 99.38%,#14b3d4 99.45%,#15b2d5 99.52%,#15b1d6 99.59%,#16afd9 99.67%,#16aedb 99.74%,#16aedb 99.81%,#16aedc 99.88%,#16aedb 99.96%);-webkit-mask-image:linear-gradient(180deg,transparent 29.7px,#000 34.8px);mask-image:linear-gradient(180deg,transparent 29.7px,#000 34.8px);}
#h6{background:linear-gradient(90deg,#a9c73f 0.07%,#c5c435 0.22%,#a9c840 0.36%,#a5c841 0.51%,#b3c63c 0.65%,#9ec747 0.80%,#9ac74a 0.94%,#90c653 1.09%,#87c55b 1.23%,#88c55a 1.38%,#83c45e 1.52%,#7dc363 1.66%,#88c55a 1.81%,#8fc654 1.95%,#a3c843 2.10%,#97c64d 2.24%,#91c652 2.39%,#abc73f 2.53%,#c4c435 2.68%,#c7c434 2.82%,#c1c537 2.97%,#98c74c 3.11%,#93c650 3.26%,#abc73f 3.40%,#b5c63b 3.55%,#b1c73d 3.69%,#a6c841 3.84%,#a0c745 3.98%,#a8c840 4.13%,#c0c537 4.27%,#b2c63c 4.42%,#a9c73f 4.56%,#8fc554 4.70%,#89c559 4.85%,#7cc364 4.99%,#73c26c 5.14%,#89c559 5.28%,#8cc557 5.43%,#83c45e 5.57%,#8ac558 5.72%,#97c64d 5.86%,#9bc749 6.01%,#78c268 6.15%,#74c26c 6.30%,#89c559 6.44%,#7fc461 6.59%,#87c55b 6.73%,#77c269 6.88%,#70c16f 7.02%,#86c45c 7.17%,#83c45e 7.31%,#65c078 7.46%,#53be87 7.60%,#69c075 7.74%,#75c26b 7.89%,#7dc364 8.03%,#80c460 8.18%,#5fbf7d 8.32%,#61bf7c 8.47%,#5dbf7f 8.61%,#59be83 8.76%,#58be83 8.90%,#5dbe80 9.05%,#64c079 9.19%,#4abd8e 9.34%,#48bd8f 9.48%,#47bd90 9.63%,#63bf7a 9.77%,#5abe82 9.92%,#50bd8a 10.06%,#4bbd8e 10.21%,#4ebd8b 10.35%,#3fbd96 10.50%,#31bca2 10.64%,#31bca1 10.78%,#31bca1 10.93%,#3cbc99 11.07%,#35bc9d 11.22%,#4fbd8a 11.36%,#59be83 11.51%,#5cbe81 11.65%,#3ebd97 11.80%,#32bca0 11.94%,#4dbd8b 12.09%,#47bd90 12.23%,#51be88 12.38%,#55be86 12.52%,#4fbd8a 12.67%,#44bd93 12.81%,#41bd95 12.96%,#53be87 13.10%,#55be86 13.25%,#41bd95 13.39%,#3bbc99 13.54%,#31bca1 13.68%,#38bc9c 13.82%,#33bc9f 13.97%,#39bc9b 14.11%,#37bc9c 14.26%,#3cbd98 14.40%,#4cbd8d 14.55%,#3dbd98 14.69%,#2fbca4 14.84%,#2cbba8 14.98%,#32bca0 15.13%,#42bd94 15.27%,#2fbca4 15.42%,#2cbba8 15.56%,#34bc9f 15.71%,#34bc9f 15.85%,#2abbab 16.00%,#24bbb2 16.14%,#2abbab 16.29%,#57be84 16.43%,#58be84 16.57%,#3fbd96 16.72%,#4dbd8c 16.86%,#56be85 17.01%,#44bd92 17.15%,#45bd92 17.30%,#31bca1 17.44%,#31bca1 17.59%,#44bd92 17.73%,#48bd8f 17.88%,#35bc9e 18.02%,#30bca3 18.17%,#27bbaf 18.31%,#26bbb0 18.46%,#2fbca3 18.60%,#3cbc99 18.75%,#28bbad 18.89%,#21bbb6 19.04%,#2fbca4 19.18%,#2abbaa 19.33%,#25bbb1 19.47%,#27bbaf 19.61%,#26bbb0 19.76%,#2dbca6 19.90%,#39bc9b 20.05%,#3dbd98 20.19%,#40bd96 20.34%,#24bbb2 20.48%,#1fbab8 20.63%,#1ebaba 20.77%,#1ebaba 20.92%,#2fbca4 21.06%,#34bc9e 21.21%,#47bd90 21.35%,#42bd94 21.50%,#2dbca6 21.64%,#23bbb3 21.79%,#2dbca7 21.93%,#52be88 22.08%,#4ebd8b 22.22%,#39bc9b 22.37%,#33bc9f 22.51%,#29bbab 22.65%,#20bab8 22.80%,#2bbba9 22.94%,#2fbca4 23.09%,#28bbad 23.23%,#23bbb4 23.38%,#2cbba8 23.52%,#38bc9c 23.67%,#36bc9d 23.81%,#28bbad 23.96%,#27bbae 24.10%,#38bc9b 24.25%,#3abc9a 24.39%,#29bbac 24.54%,#2abbab 24.68%,#26bbb0 24.83%,#2fbca3 24.97%,#3bbc99 25.12%,#47bd90 25.26%,#3dbd98 25.41%,#2dbca7 25.55%,#3dbd98 25.69%,#69c075 25.84%,#64c079 25.98%,#4ebd8b 26.13%,#43bd93 26.27%,#36bc9d 26.42%,#3ebd97 26.56%,#4abd8e 26.71%,#51be89 26.85%,#66c077 27.00%,#62bf7b 27.14%,#59be83 27.29%,#6cc172 27.43%,#6dc172 27.58%,#4ebd8b 27.72%,#46bd91 27.87%,#2dbca6 28.01%,#2ebca5 28.16%,#38bc9b 28.30%,#44bd93 28.45%,#60bf7d 28.59%,#69c074 28.73%,#72c26d 28.88%,#85c45c 29.02%,#6ec171 29.17%,#66c077 29.31%,#6dc172 29.46%,#64bf7a 29.60%,#4fbd8a 29.75%,#4abd8e 29.89%,#3ebd97 30.04%,#42bd94 30.18%,#6ec171 30.33%,#6cc172 30.47%,#44bd92 30.62%,#43bd93 30.76%,#5fbf7e 30.91%,#63bf7a 31.05%,#58be84 31.20%,#4cbd8c 31.34%,#51be89 31.49%,#51be88 31.63%,#3ebd97 31.77%,#42bd94 31.92%,#56be85 32.06%,#40bd95 32.21%,#36bc9d 32.35%,#2abbaa 32.50%,#2fbca3 32.64%,#53be87 32.79%,#56be85 32.93%,#3cbc99 33.08%,#31bca1 33.22%,#30bca2 33.37%,#2ebca5 33.51%,#28bbae 33.66%,#28bbad 33.80%,#32bca0 33.95%,#32bca0 34.09%,#25bbb1 34.24%,#29bbab 34.38%,#3ebd97 34.53%,#23bbb3 34.67%,#20bab8 34.81%,#1ab9c0 34.96%,#1ab9c0 35.10%,#1dbabb 35.25%,#1cbabd 35.39%,#16b6cc 35.54%,#18b8c6 35.68%,#21bbb6 35.83%,#1dbabc 35.97%,#17b6ca 36.12%,#16b6cc 36.26%,#18b8c6 36.41%,#17b7c9 36.55%,#15b1d7 36.70%,#14b4d2 36.84%,#17b7c9 36.99%,#18b7c8 37.13%,#19b8c3 37.28%,#1ab9c0 37.42%,#16b6cc 37.57%,#15b5cf 37.71%,#18b7c8 37.85%,#1ab9c1 38.00%,#1cbabc 38.14%,#1bbabf 38.29%,#17b7c9 38.43%,#15b5ce 38.58%,#14b4d1 38.72%,#18b7c8 38.87%,#1ab9c2 39.01%,#19b8c3 39.16%,#19b9c2 39.30%,#16b6cc 39.45%,#1ebabb 39.59%,#1cbabd 39.74%,#17b6ca 39.88%,#16b6cb 40.03%,#1ab9c1 40.17%,#20bab7 40.32%,#1cbabd 40.46%,#17b7c8 40.61%,#18b8c6 40.75%,#1bbabe 40.89%,#1ab9c0 41.04%,#1ab9c1 41.18%,#1ab9c1 41.33%,#1bbabe 41.47%,#23bbb4 41.62%,#1ab9c1 41.76%,#19b8c4 41.91%,#21bbb6 42.05%,#2abbaa 42.20%,#38bc9c 42.34%,#43bd93 42.49%,#43bd93 42.63%,#30bca2 42.78%,#2fbca4 42.92%,#24bbb2 43.07%,#22bbb4 43.21%,#1ebaba 43.36%,#1fbab9 43.50%,#25bbb1 43.65%,#24bbb2 43.79%,#34bc9f 43.93%,#3bbc99 44.08%,#3abc9a 44.22%,#3abc9a 44.37%,#34bc9f 44.51%,#31bca1 44.66%,#34bc9e 44.80%,#42bd94 44.95%,#47bd90 45.09%,#41bd95 45.24%,#39bc9b 45.38%,#32bca0 45.53%,#38bc9c 45.67%,#45bd92 45.82%,#4bbd8d 45.96%,#56be85 46.11%,#48bd8f 46.25%,#48bd8f 46.40%,#62bf7b 46.54%,#5cbe80 46.69%,#56be85 46.83%,#58be84 46.97%,#5abe82 47.12%,#63bf7a 47.26%,#74c26b 47.41%,#72c26d 47.55%,#76c26a 47.70%,#76c26a 47.84%,#74c26b 47.99%,#5fbf7e 48.13%,#6bc173 48.28%,#86c45c 48.42%,#9ac74a 48.57%,#9bc749 48.71%,#97c64d 48.86%,#7dc364 49.00%,#77c269 49.15%,#75c26a 49.29%,#7cc364 49.44%,#9bc749 49.58%,#9fc747 49.72%,#9fc746 49.87%,#a4c842 50.01%,#a2c844 50.16%,#9bc749 50.30%,#8ec555 50.45%,#8ac558 50.59%,#8ec555 50.74%,#95c64f 50.88%,#a2c844 51.03%,#8ac558 51.17%,#7dc363 51.32%,#94c650 51.46%,#9fc746 51.61%,#8cc556 51.75%,#8ec555 51.90%,#a8c840 52.04%,#a4c842 52.19%,#93c650 52.33%,#8cc557 52.48%,#9ac74a 52.62%,#9ac74b 52.76%,#9dc748 52.91%,#90c653 53.05%,#8ec555 53.20%,#82c45f 53.34%,#7fc462 53.49%,#76c26a 53.63%,#75c26a 53.78%,#70c16f 53.92%,#88c55a 54.07%,#8cc556 54.21%,#7fc462 54.36%,#7ac366 54.50%,#6ec170 54.65%,#70c16f 54.79%,#72c26d 54.94%,#70c16e 55.08%,#50bd8a 55.23%,#3cbc99 55.37%,#58be83 55.52%,#5bbe82 55.66%,#43bd93 55.80%,#54be87 55.95%,#53be87 56.09%,#5cbe80 56.24%,#42bd94 56.38%,#41bd95 56.53%,#4fbd8a 56.67%,#3ebd97 56.82%,#43bd93 56.96%,#4abd8e 57.11%,#47bd90 57.25%,#2ebca5 57.40%,#2fbca4 57.54%,#40bd96 57.69%,#38bc9c 57.83%,#3abc9a 57.98%,#53be87 58.12%,#56be85 58.27%,#3bbc99 58.41%,#39bc9b 58.56%,#30bca2 58.70%,#2cbca7 58.84%,#2dbca6 58.99%,#33bc9f 59.13%,#27bbae 59.28%,#26bbaf 59.42%,#28bbad 59.57%,#2ebca5 59.71%,#22bbb4 59.86%,#1dbabb 60.00%,#1dbabb 60.15%,#28bbae 60.29%,#26bbaf 60.44%,#2cbba8 60.58%,#2fbca4 60.73%,#2cbca7 60.87%,#29bbab 61.02%,#26bbaf 61.16%,#28bbad 61.31%,#24bbb2 61.45%,#1bbabf 61.60%,#1ab9c1 61.74%,#19b9c3 61.88%,#1cbabd 62.03%,#1ebabb 62.17%,#23bbb4 62.32%,#1dbabc 62.46%,#17b7c8 62.61%,#17b6cb 62.75%,#14b4d2 62.90%,#15b5d0 63.04%,#14b4d3 63.19%,#15b5ce 63.33%,#15b5d0 63.48%,#15b3d4 63.62%,#14b4d1 63.77%,#15b1d7 63.91%,#16aedb 64.06%,#16b0d9 64.20%,#15b2d6 64.35%,#16aedb 64.49%,#17ace0 64.64%,#18abe1 64.78%,#1ba8e1 64.92%,#22a5df 65.07%,#24a4de 65.21%,#17abe0 65.36%,#17acdf 65.50%,#1ea7e0 65.65%,#1ca8e1 65.79%,#18abe0 65.94%,#18abe1 66.08%,#18aae2 66.23%,#19aae2 66.37%,#20a6df 66.52%,#2ba1dc 66.66%,#27a3dd 66.81%,#20a6e0 66.95%,#1aa9e1 67.10%,#1fa7e0 67.24%,#23a5de 67.39%,#24a4de 67.53%,#18aae2 67.68%,#18aae2 67.82%,#19aae2 67.96%,#17acdf 68.11%,#2aa2dc 68.25%,#2ea0db 68.40%,#18aae2 68.54%,#17addd 68.69%,#21a6df 68.83%,#17acdf 68.98%,#16aedc 69.12%,#1ca8e1 69.27%,#25a4de 69.41%,#18aae2 69.56%,#18abe1 69.70%,#1fa7e0 69.85%,#28a3dd 69.99%,#2da0db 70.14%,#25a4de 70.28%,#16afda 70.43%,#16b0d9 70.57%,#15b1d7 70.72%,#17abe0 70.86%,#17acdf 71.00%,#18abe0 71.15%,#17acde 71.29%,#16afda 71.44%,#17adde 71.58%,#1da8e0 71.73%,#21a6df 71.87%,#1ca8e1 72.02%,#17acdf 72.16%,#1ba9e1 72.31%,#20a6df 72.45%,#19a9e2 72.60%,#17abe0 72.74%,#18abe0 72.89%,#29a2dd 73.03%,#1da7e0 73.18%,#15b3d4 73.32%,#16afda 73.47%,#16aedc 73.61%,#16b0d9 73.76%,#15b2d6 73.90%,#15b1d7 74.04%,#15b1d7 74.19%,#18b7c6 74.33%,#15b1d7 74.48%,#16afda 74.62%,#15b0d8 74.77%,#15b1d8 74.91%,#17acde 75.06%,#17acdf 75.20%,#15b1d7 75.35%,#15b2d5 75.49%,#16b6cb 75.64%,#19b8c4 75.78%,#1cbabd 75.93%,#17b7c9 76.07%,#18b8c5 76.22%,#20bab7 76.36%,#1cbabd 76.51%,#23bbb4 76.65%,#34bc9f 76.80%,#2cbba8 76.94%,#22bbb4 77.08%,#21bbb6 77.23%,#1bbabf 77.37%,#25bbb1 77.52%,#32bca0 77.66%,#19b8c5 77.81%,#1dbabb 77.95%,#22bbb4 78.10%,#25bbb0 78.24%,#25bbb1 78.39%,#1ab9c2 78.53%,#1ab9c0 78.68%,#1ab9c1 78.82%,#1fbab9 78.97%,#32bca0 79.11%,#36bc9d 79.26%,#3cbd98 79.40%,#3cbc99 79.55%,#3abc9a 79.69%,#51be89 79.83%,#5fbf7e 79.98%,#46bd91 80.12%,#3abc9a 80.27%,#2dbca6 80.41%,#2bbba9 80.56%,#2fbca3 80.70%,#33bc9f 80.85%,#41bd95 80.99%,#45bd92 81.14%,#4ebd8b 81.28%,#3bbc99 81.43%,#30bca3 81.57%,#2ebca6 81.72%,#27bbae 81.86%,#2cbba8 82.01%,#28bbad 82.15%,#24bbb2 82.30%,#1ab9c0 82.44%,#1ebaba 82.59%,#2abbaa 82.73%,#1fbab9 82.87%,#1bbabf 83.02%,#19b9c3 83.16%,#1bbabe 83.31%,#18b7c8 83.45%,#1fbab9 83.60%,#2fbca4 83.74%,#19b8c4 83.89%,#16b6cb 84.03%,#18b8c5 84.18%,#1ab9c1 84.32%,#18b8c5 84.47%,#18b8c6 84.61%,#17b6ca 84.76%,#16b6cb 84.90%,#14b4d2 85.05%,#15b2d6 85.19%,#14b3d4 85.34%,#16b5ce 85.48%,#15b1d6 85.63%,#15b2d5 85.77%,#16aedc 85.91%,#16b0d8 86.06%,#14b4d2 86.20%,#15b4d1 86.35%,#14b4d2 86.49%,#15b3d4 86.64%,#16b0d9 86.78%,#18abe0 86.93%,#1ba8e1 87.07%,#25a4de 87.22%,#2aa2dc 87.36%,#23a5de 87.51%,#27a3dd 87.65%,#2ba1dc 87.80%,#349dd9 87.94%,#369bd8 88.09%,#3a97d4 88.23%,#3d93d1 88.38%,#369bd7 88.52%,#379ad7 88.67%,#3c94d2 88.81%,#3a96d3 88.95%,#3997d4 89.10%,#3f91cf 89.24%,#448ccb 89.39%,#468ac9 89.53%,#458bca 89.68%,#428fcd 89.82%,#428ecd 89.97%,#418fcd 90.11%,#4786c6 90.26%,#4786c7 90.40%,#448cca 90.55%,#438dcb 90.69%,#4884c5 90.84%,#4883c4 90.98%,#4981c3 91.13%,#4981c2 91.27%,#4a7bbf 91.42%,#4b7abe 91.56%,#4b79bd 91.71%,#4a7dc0 91.85%,#497fc1 91.99%,#4785c6 92.14%,#4982c3 92.28%,#4a7bbf 92.43%,#4a7ec0 92.57%,#4882c3 92.72%,#4884c5 92.86%,#4787c7 93.01%,#438ecc 93.15%,#3c94d2 93.30%,#3899d5 93.44%,#1fa7e0 93.59%,#18abe1 93.73%,#17addd 93.88%,#18abe0 94.02%,#1ca8e1 94.17%,#15b1d7 94.31%,#15b2d5 94.46%,#14b4d2 94.60%,#16b6cd 94.75%,#17b6cb 94.89%,#17b6cb 95.03%,#14b4d2 95.18%,#14b4d2 95.32%,#15b2d5 95.47%,#14b3d3 95.61%,#1ab9c0 95.76%,#1ebaba 95.90%,#24bbb2 96.05%,#23bbb4 96.19%,#1bbabf 96.34%,#1bbabe 96.48%,#1dbabb 96.63%,#22bbb5 96.77%,#1ab9c2 96.92%,#1ab9c0 97.06%,#22bbb5 97.21%,#23bbb3 97.35%,#2cbca7 97.50%,#2bbba9 97.64%,#1ab9c1 97.79%,#1ab9c2 97.93%,#1cbabc 98.07%,#21bbb6 98.22%,#2bbba9 98.36%,#2fbca4 98.51%,#3dbd98 98.65%,#2fbca4 98.80%,#27bbaf 98.94%,#36bc9d 99.09%,#3dbd98 99.23%,#2abbab 99.38%,#28bbac 99.52%,#1cbabc 99.67%,#1ab9c0 99.81%,#1dbabb 99.96%);-webkit-mask-image:linear-gradient(180deg,transparent 34.8px,#000 70.3px);mask-image:linear-gradient(180deg,transparent 34.8px,#000 70.3px);}
#h7{background:linear-gradient(90deg,#a2c844 0.07%,#b6c63b 0.14%,#c3c436 0.22%,#b4c63b 0.29%,#a2c843 0.36%,#afc73d 0.43%,#9ec747 0.51%,#b1c63c 0.58%,#afc73d 0.65%,#a0c746 0.72%,#92c651 0.80%,#86c45c 0.87%,#8ec555 0.94%,#84c45d 1.01%,#80c461 1.09%,#77c269 1.16%,#78c368 1.23%,#77c269 1.30%,#7ac366 1.38%,#77c269 1.45%,#74c26b 1.52%,#72c26d 1.59%,#6cc172 1.66%,#79c367 1.74%,#76c269 1.81%,#86c45c 1.88%,#82c45f 1.95%,#90c653 2.03%,#99c74b 2.10%,#96c64d 2.17%,#89c559 2.24%,#84c45d 2.32%,#83c45e 2.39%,#8ac558 2.46%,#a0c745 2.53%,#b5c63b 2.61%,#bdc538 2.68%,#b3c63c 2.75%,#bfc537 2.82%,#b6c63a 2.90%,#bec537 2.97%,#b7c63a 3.04%,#8ac558 3.11%,#80c461 3.18%,#86c55b 3.26%,#94c64f 3.33%,#a5c841 3.40%,#a0c745 3.47%,#abc73f 3.55%,#b2c63c 3.62%,#a9c840 3.69%,#a4c842 3.76%,#9dc748 3.84%,#97c64d 3.91%,#93c651 3.98%,#87c55a 4.05%,#9cc749 4.13%,#bbc539 4.20%,#b7c63a 4.27%,#afc73d 4.34%,#a6c841 4.42%,#a3c843 4.49%,#9ec747 4.56%,#8cc556 4.63%,#7ec363 4.70%,#7cc364 4.78%,#79c366 4.85%,#71c16e 4.92%,#69c075 4.99%,#5dbe7f 5.07%,#61bf7c 5.14%,#61bf7c 5.21%,#7bc366 5.28%,#77c268 5.36%,#7bc365 5.43%,#74c26b 5.50%,#6fc16f 5.57%,#7dc364 5.65%,#75c26a 5.72%,#75c26a 5.79%,#8bc558 5.86%,#94c650 5.94%,#93c650 6.01%,#7ac366 6.08%,#5fbf7e 6.15%,#5abe82 6.22%,#56be85 6.30%,#64c079 6.37%,#78c368 6.44%,#6ec170 6.51%,#6bc173 6.59%,#7ec363 6.66%,#6ec170 6.73%,#70c16e 6.80%,#5abe82 6.88%,#54be87 6.95%,#58be84 7.02%,#66c078 7.09%,#75c26a 7.17%,#6ac074 7.24%,#6ac074 7.31%,#5fbf7d 7.38%,#47bd90 7.46%,#3ebd97 7.53%,#35bc9d 7.60%,#40bd96 7.67%,#52be88 7.74%,#54be86 7.82%,#59be83 7.89%,#68c075 7.96%,#64c079 8.03%,#6ec170 8.11%,#66c077 8.18%,#48bd90 8.25%,#40bd95 8.32%,#4cbd8d 8.40%,#44bd92 8.47%,#3ebd97 8.54%,#44bd92 8.61%,#41bd95 8.69%,#3dbd98 8.76%,#35bc9e 8.83%,#3cbc99 8.90%,#3dbd98 8.98%,#42bd94 9.05%,#46bd91 9.12%,#4cbd8c 9.19%,#49bd8e 9.26%,#2ebca5 9.34%,#35bc9e 9.41%,#2fbca4 9.48%,#29bbac 9.55%,#2dbca7 9.63%,#3abc9a 9.70%,#48bd90 9.77%,#47bd90 9.84%,#3ebd97 9.92%,#34bc9f 9.99%,#33bca0 10.06%,#2fbca4 10.13%,#2fbca4 10.21%,#2dbca6 10.28%,#36bc9d 10.35%,#2bbba9 10.42%,#2abbab 10.50%,#25bbb1 10.57%,#22bbb5 10.64%,#1bbabf 10.71%,#22bbb5 10.78%,#20bab7 10.86%,#1fbab9 10.93%,#22bbb5 11.00%,#28bbad 11.07%,#26bbaf 11.15%,#25bbb1 11.22%,#29bbac 11.29%,#36bc9d 11.36%,#40bd95 11.44%,#3ebd97 11.51%,#37bc9c 11.58%,#40bd96 11.65%,#2bbba9 11.73%,#29bbac 11.80%,#1dbabb 11.87%,#1fbab9 11.94%,#25bbb1 12.02%,#30bca2 12.09%,#33bc9f 12.16%,#2cbba8 12.23%,#2cbba8 12.30%,#33bc9f 12.38%,#36bc9d 12.45%,#38bc9b 12.52%,#32bca0 12.59%,#30bca3 12.67%,#29bbac 12.74%,#2cbba8 12.81%,#2bbba9 12.88%,#2abbaa 12.96%,#34bc9e 13.03%,#36bc9d 13.10%,#34bc9e 13.17%,#39bc9b 13.25%,#36bc9d 13.32%,#29bbab 13.39%,#25bbb1 13.46%,#26bbb0 13.54%,#25bbb1 13.61%,#1fbab9 13.68%,#23bbb4 13.75%,#28bbae 13.82%,#21bbb6 13.90%,#20bab7 13.97%,#27bbae 14.04%,#25bbb1 14.11%,#22bbb5 14.19%,#25bbb1 14.26%,#27bbae 14.33%,#28bbad 14.40%,#2dbca6 14.48%,#30bca3 14.55%,#2abbab 14.62%,#26bbaf 14.69%,#24bbb3 14.77%,#1ebaba 14.84%,#1bbabe 14.91%,#1bbabe 14.98%,#1bbabe 15.06%,#21bbb6 15.13%,#28bbad 15.20%,#2cbba8 15.27%,#23bbb3 15.34%,#1fbab9 15.42%,#24bbb3 15.49%,#1bbabd 15.56%,#24bbb3 15.63%,#23bbb4 15.71%,#26bbb0 15.78%,#22bbb4 15.85%,#23bbb4 15.92%,#1ab9c1 16.00%,#19b9c3 16.07%,#19b8c4 16.14%,#19b9c2 16.21%,#1ab9c0 16.29%,#2abbab 16.36%,#36bc9d 16.43%,#3cbd98 16.50%,#38bc9b 16.57%,#28bbad 16.65%,#28bbac 16.72%,#29bbab 16.79%,#2fbca4 16.86%,#39bc9a 16.94%,#39bc9b 17.01%,#2ebca5 17.08%,#2cbba8 17.15%,#2cbba8 17.23%,#2cbba8 17.30%,#25bbb1 17.37%,#20bab8 17.44%,#20bab8 17.52%,#20bab7 17.59%,#29bbac 17.66%,#2abbaa 17.73%,#2ebca5 17.81%,#2cbca7 17.88%,#21bab7 17.95%,#21bbb6 18.02%,#1dbabb 18.09%,#1dbabb 18.17%,#19b8c4 18.24%,#18b8c6 18.31%,#17b7ca 18.38%,#17b7c9 18.46%,#18b7c8 18.53%,#1abac0 18.60%,#24bbb2 18.67%,#25bbb1 18.75%,#23bbb4 18.82%,#1ab9c1 18.89%,#18b8c6 18.96%,#17b6ca 19.04%,#19b8c5 19.11%,#1cbabc 19.18%,#1cbabd 19.25%,#1ab9c2 19.33%,#19b8c5 19.40%,#18b8c6 19.47%,#18b8c6 19.54%,#18b8c6 19.61%,#17b6ca 19.69%,#18b7c7 19.76%,#18b7c6 19.83%,#1ab9c0 19.90%,#1ebaba 19.98%,#22bbb5 20.05%,#22bbb5 20.12%,#24bbb3 20.19%,#25bbb1 20.27%,#27bbaf 20.34%,#25bbb1 20.41%,#18b8c6 20.48%,#18b7c8 20.56%,#16b6cc 20.63%,#16b6cb 20.70%,#16b5cd 20.77%,#15b5cf 20.85%,#15b5cf 20.92%,#18b7c8 20.99%,#1bbabe 21.06%,#1dbabc 21.13%,#1fbab9 21.21%,#29bbac 21.28%,#2dbca7 21.35%,#2ebca5 21.42%,#2bbba9 21.50%,#26bbaf 21.57%,#1bbabf 21.64%,#17b7c8 21.71%,#17b7c8 21.79%,#1ab9c1 21.86%,#1dbabc 21.93%,#32bca0 22.00%,#35bc9e 22.08%,#39bc9a 22.15%,#35bc9e 22.22%,#2bbbaa 22.29%,#26bbaf 22.37%,#27bbaf 22.44%,#23bbb4 22.51%,#20bab8 22.58%,#1ab9c0 22.65%,#18b8c5 22.73%,#17b6cb 22.80%,#19b8c3 22.87%,#1cbabd 22.94%,#1ebabb 23.02%,#1fbab9 23.09%,#1dbabb 23.16%,#19b9c3 23.23%,#18b7c6 23.31%,#18b7c7 23.38%,#18b7c7 23.45%,#1bbabe 23.52%,#26bbb0 23.60%,#25bbb0 23.67%,#25bbb1 23.74%,#24bbb2 23.81%,#1ababf 23.89%,#19b8c4 23.96%,#18b8c6 24.03%,#18b7c7 24.10%,#19b8c3 24.17%,#23bbb4 24.25%,#2abbaa 24.32%,#28bbad 24.39%,#22bbb4 24.46%,#1ab9c1 24.54%,#1ab9c2 24.61%,#19b8c3 24.68%,#19b8c4 24.75%,#18b7c7 24.83%,#18b8c6 24.90%,#1fbab8 24.97%,#29bbac 25.04%,#2abbaa 25.12%,#2fbca4 25.19%,#30bca3 25.26%,#2fbca4 25.33%,#29bbac 25.41%,#1fbab9 25.48%,#1cbabd 25.55%,#23bbb4 25.62%,#29bbab 25.69%,#48bd8f 25.77%,#53be87 25.84%,#59be83 25.91%,#4cbd8c 25.98%,#3cbc99 26.06%,#37bc9d 26.13%,#32bca0 26.20%,#2dbca7 26.27%,#28bbad 26.35%,#26bbb0 26.42%,#28bbad 26.49%,#2bbba9 26.56%,#33bca0 26.64%,#37bc9d 26.71%,#3cbd98 26.78%,#3ebd97 26.85%,#51be89 26.93%,#51be89 27.00%,#52be88 27.07%,#4ebd8b 27.14%,#45bd92 27.21%,#45bd92 27.29%,#4cbd8c 27.36%,#57be84 27.43%,#5bbe81 27.50%,#57be84 27.58%,#40bd95 27.65%,#34bc9f 27.72%,#30bca2 27.79%,#2ebca5 27.87%,#24bbb2 27.94%,#1fbab9 28.01%,#1fbab9 28.08%,#1fbab9 28.16%,#21bab7 28.23%,#27bbaf 28.30%,#29bbac 28.37%,#2dbca7 28.45%,#36bc9d 28.52%,#48bd90 28.59%,#4bbd8d 28.66%,#55be86 28.73%,#5cbe80 28.81%,#5ebf7e 28.88%,#6bc173 28.95%,#74c26b 29.02%,#6ec170 29.10%,#5abe82 29.17%,#51be88 29.24%,#51be89 29.31%,#53be87 29.39%,#59be83 29.46%,#5bbe81 29.53%,#4dbd8b 29.60%,#3cbd98 29.68%,#39bc9b 29.75%,#38bc9c 29.82%,#35bc9e 29.89%,#2fbca4 29.97%,#2cbba8 30.04%,#2cbba8 30.11%,#2ebca5 30.18%,#49bd8e 30.25%,#5bbe81 30.33%,#5dbe80 30.40%,#59be83 30.47%,#35bc9d 30.54%,#30bca2 30.62%,#2ebca6 30.69%,#31bca2 30.76%,#3bbc9a 30.83%,#4cbd8c 30.91%,#52be88 30.98%,#52be88 31.05%,#50bd8a 31.12%,#46bd91 31.20%,#3abc9a 31.27%,#3abc9a 31.34%,#3bbc99 31.41%,#3bbc99 31.49%,#40bd95 31.56%,#3cbc99 31.63%,#31bca1 31.70%,#2dbca7 31.77%,#29bbac 31.85%,#2fbca4 31.92%,#44bd92 31.99%,#44bd93 32.06%,#3abc9a 32.14%,#2fbca4 32.21%,#2cbba8 32.28%,#28bbad 32.35%,#20bab7 32.43%,#1bbabe 32.50%,#1cbabc 32.57%,#22bbb5 32.64%,#32bca0 32.72%,#40bd96 32.79%,#40bd95 32.86%,#41bd95 32.93%,#3cbc99 33.01%,#2bbba9 33.08%,#29bbac 33.15%,#23bbb3 33.22%,#22bbb5 33.29%,#22bbb5 33.37%,#1ebaba 33.44%,#1fbab9 33.51%,#1cbabc 33.58%,#1ab9c0 33.66%,#1bbabf 33.73%,#1bbabf 33.80%,#20bab8 33.87%,#25bbb0 33.95%,#25bbb1 34.02%,#25bbb1 34.09%,#1ab9c2 34.16%,#19b9c3 34.24%,#19b8c4 34.31%,#1bbabe 34.38%,#28bbad 34.45%,#2abbaa 34.53%,#23bbb3 34.60%,#19b8c4 34.67%,#18b8c5 34.74%,#18b7c8 34.81%,#16b6cb 34.89%,#15b5ce 34.96%,#15b5d0 35.03%,#15b5cf 35.10%,#16b6cc 35.18%,#17b7c9 35.25%,#17b7c9 35.32%,#17b7ca 35.39%,#15b1d6 35.47%,#16b0d8 35.54%,#15b1d6 35.61%,#14b3d3 35.68%,#17b7ca 35.76%,#19b8c5 35.83%,#18b8c6 35.90%,#17b6ca 35.97%,#14b4d2 36.05%,#15b1d7 36.12%,#16b0d8 36.19%,#16b0d9 36.26%,#15b1d6 36.33%,#14b3d3 36.41%,#14b4d3 36.48%,#15b1d6 36.55%,#17acdf 36.62%,#1ba9e1 36.70%,#1ba9e1 36.77%,#17adde 36.84%,#15b0d8 36.91%,#15b2d6 36.99%,#15b3d4 37.06%,#14b3d4 37.13%,#15b5d0 37.20%,#16b6cb 37.28%,#17b6ca 37.35%,#17b6ca 37.42%,#15b3d4 37.49%,#16afdb 37.57%,#17addd 37.64%,#16afda 37.71%,#15b2d6 37.78%,#14b4d2 37.85%,#15b5ce 37.93%,#16b5cd 38.00%,#18b7c7 38.07%,#17b7c8 38.14%,#16b6cb 38.22%,#17b6cb 38.29%,#14b4d3 38.36%,#15b2d5 38.43%,#15b2d6 38.51%,#16afda 38.58%,#17acde 38.65%,#17acdf 38.72%,#17acde 38.80%,#15b3d4 38.87%,#15b5cf 38.94%,#16b5cd 39.01%,#15b5ce 39.09%,#16b6cc 39.16%,#17b6ca 39.23%,#17b6cb 39.30%,#14b4d2 39.37%,#15b2d5 39.45%,#15b5cf 39.52%,#1ab9c0 39.59%,#1bbabe 39.66%,#1ab9c1 39.74%,#17b7c8 39.81%,#15b5d0 39.88%,#14b4d2 39.95%,#14b4d2 40.03%,#15b5d0 40.10%,#17b7c9 40.17%,#18b8c5 40.24%,#1ab9c1 40.32%,#1ab9c1 40.39%,#18b8c6 40.46%,#16b6cc 40.53%,#14b4d2 40.61%,#15b5cf 40.68%,#15b5d0 40.75%,#17b6ca 40.82%,#18b7c7 40.89%,#18b7c7 40.97%,#18b7c8 41.04%,#18b8c6 41.11%,#18b7c7 41.18%,#18b8c6 41.26%,#18b8c6 41.33%,#18b7c6 41.40%,#1ab9c0 41.47%,#1bbabf 41.55%,#1dbabb 41.62%,#1ab9c2 41.69%,#17b6ca 41.76%,#16b6cc 41.84%,#16b6cb 41.91%,#17b7c8 41.98%,#1cbabd 42.05%,#1fbab9 42.13%,#22bbb5 42.20%,#28bbae 42.27%,#2fbca4 42.34%,#32bca0 42.41%,#39bc9b 42.49%,#3dbd98 42.56%,#3abc9a 42.63%,#2dbca6 42.70%,#2abbaa 42.78%,#27bbae 42.85%,#2abbab 42.92%,#1ebaba 42.99%,#1fbab8 43.07%,#1dbabc 43.14%,#1dbabb 43.21%,#1cbabd 43.28%,#1ab9c0 43.36%,#1ab9c2 43.43%,#1ab9c0 43.50%,#1cbabc 43.57%,#1fbab9 43.65%,#1ebaba 43.72%,#1cbabc 43.79%,#22bbb4 43.86%,#2ebca5 43.93%,#30bca3 44.01%,#34bc9f 44.08%,#39bc9a 44.15%,#32bca0 44.22%,#32bca0 44.30%,#39bc9b 44.37%,#32bca0 44.44%,#30bca3 44.51%,#2fbca3 44.59%,#2dbca6 44.66%,#2bbba9 44.73%,#2fbca4 44.80%,#35bc9e 44.88%,#3fbd96 44.95%,#41bd95 45.02%,#46bd91 45.09%,#42bd94 45.17%,#3dbd98 45.24%,#35bc9e 45.31%,#33bc9f 45.38%,#31bca1 45.45%,#2dbca6 45.53%,#2abbaa 45.60%,#30bca3 45.67%,#32bca1 45.74%,#41bd95 45.82%,#45bd92 45.89%,#4bbd8d 45.96%,#56be85 46.03%,#59be83 46.11%,#4dbd8b 46.18%,#41bd94 46.25%,#46bd91 46.32%,#42bd94 46.40%,#57be84 46.47%,#64c079 46.54%,#67c076 46.61%,#5fbf7e 46.69%,#59be83 46.76%,#55be86 46.83%,#51be88 46.90%,#52be88 46.97%,#55be85 47.05%,#58be84 47.12%,#56be85 47.19%,#65c078 47.26%,#77c268 47.34%,#79c367 47.41%,#71c16e 47.48%,#74c26b 47.55%,#77c269 47.63%,#78c367 47.70%,#78c368 47.77%,#7dc364 47.84%,#7bc365 47.92%,#79c367 47.99%,#5ebf7e 48.06%,#56be85 48.13%,#5ebf7e 48.20%,#68c075 48.28%,#82c45f 48.35%,#8bc557 48.42%,#98c74c 48.49%,#a6c841 48.57%,#a7c840 48.64%,#a7c840 48.71%,#a5c841 48.78%,#a3c843 48.86%,#9ac74b 48.93%,#82c45f 49.00%,#79c366 49.07%,#7bc365 49.15%,#77c268 49.22%,#78c367 49.29%,#85c45d 49.36%,#7ec362 49.44%,#8fc654 49.51%,#a8c840 49.58%,#acc73e 49.65%,#abc73f 49.72%,#adc73e 49.80%,#a7c840 49.87%,#abc73f 49.94%,#afc73d 50.01%,#b0c73d 50.09%,#afc73d 50.16%,#abc73f 50.23%,#a5c841 50.30%,#93c650 50.38%,#94c650 50.45%,#8ec555 50.52%,#8fc654 50.59%,#8fc654 50.67%,#95c64f 50.74%,#9dc747 50.81%,#9fc746 50.88%,#a7c840 50.96%,#afc73d 51.03%,#a7c840 51.10%,#96c64e 51.17%,#84c45e 51.24%,#7bc365 51.32%,#83c45e 51.39%,#96c64e 51.46%,#a5c841 51.53%,#a6c841 51.61%,#a0c745 51.68%,#91c652 51.75%,#8fc554 51.82%,#91c652 51.90%,#9fc746 51.97%,#b3c63c 52.04%,#b4c63c 52.11%,#acc73e 52.19%,#9fc746 52.26%,#96c64e 52.33%,#90c653 52.40%,#8ec555 52.48%,#9bc749 52.55%,#9fc746 52.62%,#98c74c 52.69%,#9cc748 52.76%,#a3c843 52.84%,#a2c843 52.91%,#a0c745 52.98%,#94c64f 53.05%,#8cc556 53.13%,#91c653 53.20%,#86c45b 53.27%,#7cc364 53.34%,#77c268 53.42%,#79c367 53.49%,#73c26c 53.56%,#6ec171 53.63%,#6fc16f 53.71%,#6dc171 53.78%,#65c078 53.85%,#61bf7c 53.92%,#65c078 54.00%,#82c45f 54.07%,#85c45d 54.14%,#88c55a 54.21%,#7ac366 54.28%,#77c269 54.36%,#74c26b 54.43%,#71c16e 54.50%,#5ebf7e 54.57%,#5abe82 54.65%,#5cbe80 54.72%,#5bbe81 54.79%,#61bf7c 54.86%,#60bf7d 54.94%,#60bf7c 55.01%,#5ebf7e 55.08%,#41bd95 55.15%,#35bc9d 55.23%,#34bc9e 55.30%,#2cbba8 55.37%,#46bd91 55.44%,#4dbd8c 55.52%,#46bd91 55.59%,#46bd91 55.66%,#30bca3 55.73%,#2cbba8 55.80%,#31bca2 55.88%,#3ebd97 55.95%,#3bbc99 56.02%,#3ebd97 56.09%,#46bd91 56.17%,#4abd8e 56.24%,#3ebd97 56.31%,#32bca0 56.38%,#3cbd98 56.46%,#31bca1 56.53%,#48bd90 56.60%,#3abc9a 56.67%,#31bca1 56.75%,#2abbab 56.82%,#30bca2 56.89%,#2ebca6 56.96%,#2ebca5 57.04%,#30bca3 57.11%,#2dbca7 57.18%,#2fbca3 57.25%,#28bbad 57.32%,#1ebaba 57.40%,#1bbabe 57.47%,#1fbab8 57.54%,#2bbba9 57.61%,#2dbca6 57.69%,#30bca3 57.76%,#27bbaf 57.83%,#21bbb6 57.90%,#26bbb0 57.98%,#24bbb2 58.05%,#3fbd96 58.12%,#3ebd97 58.19%,#40bd95 58.27%,#31bca1 58.34%,#29bbab 58.41%,#28bbad 58.48%,#27bbaf 58.56%,#2bbba9 58.63%,#21bab7 58.70%,#20bab7 58.77%,#1cbabc 58.84%,#24bbb2 58.92%,#1dbabb 58.99%,#1fbab8 59.06%,#22bbb5 59.13%,#1dbabb 59.21%,#19b8c4 59.28%,#18b8c5 59.35%,#1ab9c2 59.42%,#1ab9c2 59.50%,#1ab9c1 59.57%,#1ebabb 59.64%,#20bab8 59.71%,#1bbabe 59.79%,#18b8c5 59.86%,#18b7c8 59.93%,#17b6cb 60.00%,#15b5ce 60.08%,#17b7c9 60.15%,#17b7c8 60.22%,#1abac0 60.29%,#1dbabb 60.36%,#1ab9c1 60.44%,#1bbabf 60.51%,#1bbabd 60.58%,#20bab7 60.65%,#20bab7 60.73%,#1ebabb 60.80%,#1ebabb 60.87%,#1ebaba 60.94%,#1bbabe 61.02%,#1ababf 61.09%,#1ab9c2 61.16%,#18b8c6 61.23%,#1bbabe 61.31%,#1ab9c0 61.38%,#1ab9c2 61.45%,#18b7c6 61.52%,#16b6cb 61.60%,#16b6cb 61.67%,#16b5ce 61.74%,#15b5cf 61.81%,#14b4d1 61.88%,#18b7c8 61.96%,#17b6cb 62.03%,#17b6ca 62.10%,#18b7c8 62.17%,#19b8c5 62.25%,#1ab9c2 62.32%,#18b8c6 62.39%,#17b7c9 62.46%,#16b5ce 62.54%,#15b2d6 62.61%,#15b1d7 62.68%,#15b0d8 62.75%,#16b0d9 62.83%,#17addd 62.90%,#18abe0 62.97%,#16aedc 63.04%,#16aedb 63.12%,#17addd 63.19%,#16afda 63.26%,#16b0d9 63.33%,#16aedb 63.40%,#16aedb 63.48%,#17addd 63.55%,#18abe1 63.62%,#18abe1 63.69%,#17aedc 63.77%,#17abe0 63.84%,#1aa9e1 63.91%,#18aae2 63.98%,#22a5df 64.06%,#1ba8e1 64.13%,#1ca8e1 64.20%,#20a6e0 64.27%,#17abe0 64.35%,#17abe0 64.42%,#1ea7e0 64.49%,#2ca1db 64.56%,#27a3dd 64.64%,#29a2dc 64.71%,#2aa1dc 64.78%,#27a3dd 64.85%,#329eda 64.92%,#309fda 65.00%,#359cd8 65.07%,#369bd8 65.14%,#359bd8 65.21%,#25a4de 65.29%,#24a4de 65.36%,#349dd9 65.43%,#25a4de 65.50%,#2ba1dc 65.58%,#309fda 65.65%,#24a4de 65.72%,#2ea0db 65.79%,#2da0db 65.87%,#23a5de 65.94%,#21a6df 66.01%,#24a4de 66.08%,#20a6e0 66.16%,#27a3dd 66.23%,#2ba1dc 66.30%,#27a3dd 66.37%,#1ea7e0 66.44%,#2f9fda 66.52%,#319eda 66.59%,#3998d5 66.66%,#369bd7 66.73%,#369bd7 66.81%,#379ad6 66.88%,#2da0db 66.95%,#26a3dd 67.02%,#25a4de 67.10%,#27a3dd 67.17%,#2aa2dc 67.24%,#319eda 67.31%,#2f9fdb 67.39%,#2ea0db 67.46%,#309fda 67.53%,#1ea7e0 67.60%,#20a7e0 67.68%,#2da0db 67.75%,#22a5df 67.82%,#1ea7e0 67.89%,#1fa7e0 67.96%,#1da8e0 68.04%,#18aae2 68.11%,#2f9fda 68.18%,#369bd7 68.25%,#319eda 68.33%,#379ad6 68.40%,#2aa2dc 68.47%,#1ba9e1 68.54%,#19aae2 68.62%,#17adde 68.69%,#1fa7e0 68.76%,#26a3dd 68.83%,#2aa1dc 68.91%,#17acde 68.98%,#15b1d7 69.05%,#16aedb 69.12%,#17acde 69.20%,#20a6e0 69.27%,#26a4de 69.34%,#29a2dc 69.41%,#24a5de 69.48%,#18aae1 69.56%,#16afda 69.63%,#18abe0 69.70%,#1ca8e1 69.77%,#22a5df 69.85%,#29a2dd 69.92%,#29a2dc 69.99%,#329eda 70.06%,#319fda 70.14%,#25a4de 70.21%,#29a2dd 70.28%,#17abe0 70.35%,#15b2d6 70.43%,#15b1d6 70.50%,#14b3d4 70.57%,#14b4d2 70.64%,#15b4d0 70.72%,#14b3d3 70.79%,#16aedc 70.86%,#17acde 70.93%,#16afda 71.00%,#16b0d8 71.08%,#17addc 71.15%,#16afda 71.22%,#16afda 71.29%,#15b2d4 71.37%,#15b2d5 71.44%,#16aedc 71.51%,#16afd9 71.58%,#17acdf 71.66%,#18abe1 71.73%,#18abe0 71.80%,#1aa9e1 71.87%,#18aae2 71.95%,#17abe0 72.02%,#16afdb 72.09%,#16aedb 72.16%,#16aedc 72.24%,#17acdf 72.31%,#1da8e1 72.38%,#19a9e2 72.45%,#1da8e0 72.52%,#16aedc 72.60%,#16afda 72.67%,#16b0d8 72.74%,#17acde 72.81%,#16aedb 72.89%,#18aae1 72.96%,#21a6df 73.03%,#25a4de 73.10%,#17acde 73.18%,#14b4d1 73.25%,#16b6cb 73.32%,#16b6cc 73.39%,#14b3d4 73.47%,#15b2d6 73.54%,#15b2d5 73.61%,#14b4d1 73.68%,#14b4d1 73.76%,#17b6ca 73.83%,#16b6cc 73.90%,#17b7c9 73.97%,#15b5ce 74.04%,#14b4d2 74.12%,#14b4d1 74.19%,#1ebaba 74.26%,#1ebabb 74.33%,#1ab9c1 74.41%,#15b5cf 74.48%,#14b4d2 74.55%,#14b4d2 74.62%,#14b3d3 74.70%,#15b5cf 74.77%,#16b6cc 74.84%,#15b5d0 74.91%,#14b4d1 74.99%,#15b2d6 75.06%,#16b0d8 75.13%,#15b1d7 75.20%,#14b4d1 75.28%,#16b6cc 75.35%,#17b6ca 75.42%,#17b6cb 75.49%,#19b9c2 75.56%,#1bbabe 75.64%,#1dbabb 75.71%,#25bbb1 75.78%,#2dbca7 75.85%,#2ebca5 75.93%,#23bbb3 76.00%,#1ebaba 76.07%,#20bab7 76.14%,#25bbb1 76.22%,#32bca0 76.29%,#35bc9e 76.36%,#37bc9c 76.43%,#2dbca6 76.51%,#24bbb2 76.58%,#33bc9f 76.65%,#51be89 76.72%,#59be83 76.80%,#5bbe81 76.87%,#52be88 76.94%,#42bd94 77.01%,#3cbc99 77.08%,#3abc9a 77.16%,#35bc9e 77.23%,#2cbba8 77.30%,#29bbab 77.37%,#2dbca6 77.45%,#46bd91 77.52%,#5cbe80 77.59%,#63bf7a 77.66%,#29bbac 77.74%,#25bbb2 77.81%,#31bca1 77.88%,#32bca0 77.95%,#2fbca4 78.03%,#3ebd97 78.10%,#3fbd96 78.17%,#42bd94 78.24%,#47bd90 78.31%,#43bd93 78.39%,#35bc9e 78.46%,#29bbac 78.53%,#2abbab 78.60%,#2cbca7 78.68%,#2abbaa 78.75%,#29bbac 78.82%,#32bca0 78.89%,#33bca0 78.97%,#4fbd8a 79.04%,#59be83 79.11%,#5cbe80 79.18%,#5cbe80 79.26%,#5ebf7f 79.33%,#61bf7c 79.40%,#64bf7a 79.47%,#63bf7a 79.55%,#61bf7c 79.62%,#61bf7c 79.69%,#66c077 79.76%,#79c367 79.83%,#88c55a 79.91%,#88c55a 79.98%,#83c45e 80.05%,#71c26e 80.12%,#63bf7a 80.20%,#65c078 80.27%,#5abe82 80.34%,#53be88 80.41%,#50bd8a 80.49%,#4fbd8a 80.56%,#53be87 80.63%,#56be85 80.70%,#53be87 80.78%,#5abe82 80.85%,#68c076 80.92%,#6dc172 80.99%,#6cc173 81.07%,#6ec171 81.14%,#77c268 81.21%,#79c367 81.28%,#77c269 81.35%,#60bf7c 81.43%,#5abe82 81.50%,#4ebd8b 81.57%,#53be87 81.64%,#4bbd8d 81.72%,#49bd8f 81.79%,#41bd95 81.86%,#48bd8f 81.93%,#4bbd8d 82.01%,#46bd91 82.08%,#43bd93 82.15%,#3dbd98 82.22%,#39bc9b 82.30%,#2bbbaa 82.37%,#29bbab 82.44%,#29bbab 82.51%,#30bca3 82.59%,#40bd95 82.66%,#47bd90 82.73%,#47bd90 82.80%,#2fbca3 82.87%,#2dbca6 82.95%,#2dbca7 83.02%,#2bbba9 83.09%,#28bbad 83.16%,#2ebca5 83.24%,#2dbca6 83.31%,#27bbae 83.38%,#1ebabb 83.45%,#20bab8 83.53%,#2fbca4 83.60%,#46bd91 83.67%,#4dbd8c 83.74%,#3ebd97 83.82%,#24bbb3 83.89%,#1ab9c2 83.96%,#1abac0 84.03%,#1cbabd 84.11%,#21bbb6 84.18%,#27bbae 84.25%,#27bbae 84.32%,#24bbb2 84.39%,#21bbb6 84.47%,#1fbab9 84.54%,#22bbb5 84.61%,#22bbb5 84.68%,#1cbabd 84.76%,#1bbabf 84.83%,#1bbabe 84.90%,#1ab9c2 84.97%,#18b8c5 85.05%,#17b6cb 85.12%,#16b6cc 85.19%,#17b7c9 85.26%,#17b7c9 85.34%,#18b8c6 85.41%,#1ab9c0 85.48%,#19b8c3 85.55%,#16b6cb 85.63%,#15b5cf 85.70%,#17b7c9 85.77%,#15b5d0 85.84%,#15b2d5 85.91%,#14b3d3 85.99%,#15b5d0 86.06%,#17b6ca 86.13%,#18b7c6 86.20%,#18b7c7 86.28%,#19b8c4 86.35%,#1ab9c1 86.42%,#18b7c6 86.49%,#18b8c6 86.57%,#18b7c8 86.64%,#15b5cf 86.71%,#15b5cf 86.78%,#15b2d6 86.86%,#16b0d8 86.93%,#17adde 87.00%,#17addd 87.07%,#17adde 87.15%,#18aae2 87.22%,#1ca8e1 87.29%,#1ba9e1 87.36%,#18abe1 87.43%,#17aedc 87.51%,#17acde 87.58%,#17acdf 87.65%,#17acdf 87.72%,#18aae2 87.80%,#1aa9e1 87.87%,#27a3dd 87.94%,#2ea0db 88.01%,#2aa2dc 88.09%,#319fda 88.16%,#349dd9 88.23%,#3b96d3 88.30%,#3b96d3 88.38%,#2ea0db 88.45%,#28a2dd 88.52%,#2aa2dc 88.59%,#26a4de 88.67%,#27a3dd 88.74%,#2f9fda 88.81%,#329eda 88.88%,#2da0db 88.95%,#2da0db 89.03%,#2aa2dc 89.10%,#29a2dc 89.17%,#2da0db 89.24%,#309fda 89.32%,#369bd7 89.39%,#359cd8 89.46%,#3899d5 89.53%,#359cd8 89.61%,#2aa2dc 89.68%,#26a4de 89.75%,#28a3dd 89.82%,#24a4de 89.90%,#26a3dd 89.97%,#2ba1dc 90.04%,#2ca1dc 90.11%,#319eda 90.19%,#3898d5 90.26%,#369bd7 90.33%,#359cd8 90.40%,#369bd8 90.47%,#28a2dd 90.55%,#1ba9e1 90.62%,#22a6df 90.69%,#2ea0db 90.76%,#3b96d3 90.84%,#3a96d3 90.91%,#3899d6 90.98%,#369bd7 91.05%,#309fda 91.13%,#309fda 91.20%,#339dd9 91.27%,#379ad6 91.34%,#3898d5 91.42%,#3899d6 91.49%,#3a97d4 91.56%,#359cd8 91.63%,#359bd8 91.71%,#369bd8 91.78%,#2aa2dc 91.85%,#329eda 91.92%,#27a3dd 91.99%,#22a5df 92.07%,#24a5de 92.14%,#22a6df 92.21%,#2ca1dc 92.28%,#339dd9 92.36%,#369bd7 92.43%,#369bd8 92.50%,#2ba1dc 92.57%,#23a5de 92.65%,#24a5de 92.72%,#22a5df 92.79%,#2aa1dc 92.86%,#28a3dd 92.94%,#28a3dd 93.01%,#1ba8e1 93.08%,#17acde 93.15%,#17aedc 93.23%,#17addd 93.30%,#15b1d7 93.37%,#15b1d7 93.44%,#15b5cf 93.51%,#19b8c4 93.59%,#19b8c4 93.66%,#19b8c3 93.73%,#1ab9c0 93.80%,#1ab9c0 93.88%,#1bbabf 93.95%,#18b8c6 94.02%,#18b7c8 94.09%,#15b5cf 94.17%,#17b7c8 94.24%,#1ebaba 94.31%,#1ab9c1 94.38%,#1ebaba 94.46%,#1fbab9 94.53%,#24bbb2 94.60%,#27bbaf 94.67%,#28bbad 94.75%,#26bbaf 94.82%,#29bbab 94.89%,#2abbaa 94.96%,#29bbac 95.03%,#23bbb4 95.11%,#1dbabc 95.18%,#1cbabd 95.25%,#1cbabc 95.32%,#1cbabc 95.40%,#19b9c2 95.47%,#1bbabf 95.54%,#1bbabf 95.61%,#21bbb6 95.69%,#38bc9c 95.76%,#3fbd97 95.83%,#3fbd96 95.90%,#46bd91 95.98%,#4cbd8d 96.05%,#4bbd8d 96.12%,#48bd90 96.19%,#34bc9e 96.27%,#30bca2 96.34%,#31bca2 96.41%,#33bc9f 96.48%,#39bc9b 96.55%,#37bc9c 96.63%,#41bd95 96.70%,#45bd92 96.77%,#30bca3 96.84%,#2dbca6 96.92%,#2bbba9 96.99%,#2fbca4 97.06%,#3dbd98 97.13%,#40bd96 97.21%,#38bc9c 97.28%,#42bd94 97.35%,#50bd8a 97.42%,#56be85 97.50%,#56be85 97.57%,#54be87 97.64%,#39bc9b 97.71%,#30bca3 97.79%,#2ebca5 97.86%,#2ebca5 97.93%,#37bc9c 98.00%,#38bc9c 98.07%,#3dbd97 98.15%,#3ebd97 98.22%,#51be89 98.29%,#54be87 98.36%,#54be86 98.44%,#59be83 98.51%,#65c078 98.58%,#6ec171 98.65%,#6dc171 98.73%,#58be83 98.80%,#47bd90 98.87%,#48bd90 98.94%,#49bd8f 99.02%,#60bf7d 99.09%,#6cc172 99.16%,#68c076 99.23%,#67c076 99.31%,#4fbd8a 99.38%,#55be86 99.45%,#4dbd8c 99.52%,#45bd92 99.59%,#32bca0 99.67%,#2dbca7 99.74%,#2ebca5 99.81%,#31bca1 99.88%,#37bc9c 99.96%);-webkit-mask-image:linear-gradient(180deg,transparent 70.3px,#000 128.1px);mask-image:linear-gradient(180deg,transparent 70.3px,#000 128.1px);}
#h8{background:linear-gradient(90deg,#95c64f 0.07%,#aec73d 0.22%,#9ec747 0.36%,#9ac74b 0.51%,#9ec747 0.65%,#8ec554 0.80%,#7ac366 0.94%,#71c16e 1.09%,#68c076 1.23%,#66c078 1.38%,#5bbe81 1.52%,#5fbf7e 1.66%,#6fc16f 1.81%,#79c367 1.95%,#89c559 2.10%,#84c45d 2.24%,#7cc364 2.39%,#94c64f 2.53%,#adc73e 2.68%,#adc73e 2.82%,#aec73e 2.97%,#7bc365 3.11%,#77c269 3.26%,#92c651 3.40%,#9ac74a 3.55%,#96c64e 3.69%,#8dc556 3.84%,#7ec362 3.98%,#94c64f 4.13%,#a3c843 4.27%,#98c74c 4.42%,#91c652 4.56%,#71c26e 4.70%,#69c075 4.85%,#59be82 4.99%,#4ebd8b 5.14%,#64c079 5.28%,#70c16f 5.43%,#6ac074 5.57%,#6bc173 5.72%,#7ec362 5.86%,#82c45f 6.01%,#55be86 6.15%,#50be89 6.30%,#62bf7b 6.44%,#66c078 6.59%,#61bf7c 6.73%,#4ebd8b 6.88%,#4bbd8d 7.02%,#60bf7d 7.17%,#5cbe80 7.31%,#32bca0 7.46%,#2fbca4 7.60%,#3fbd96 7.74%,#4abd8e 7.89%,#5bbe81 8.03%,#51be89 8.18%,#34bc9e 8.32%,#32bca0 8.47%,#31bca1 8.61%,#2ebca5 8.76%,#2bbba8 8.90%,#30bca3 9.05%,#31bca1 9.19%,#26bbaf 9.34%,#26bbb0 9.48%,#29bbab 9.63%,#32bca0 9.77%,#2ebca5 9.92%,#29bbac 10.06%,#29bbac 10.21%,#28bbad 10.35%,#23bbb3 10.50%,#1ab9c1 10.64%,#1ab9c1 10.78%,#1ab9c1 10.93%,#1cbabd 11.07%,#20bab7 11.22%,#28bbad 11.36%,#2ebca5 11.51%,#2cbba8 11.65%,#1ebab9 11.80%,#1cbabc 11.94%,#27bbae 12.09%,#29bbab 12.23%,#2abbab 12.38%,#2cbba8 12.52%,#2bbba9 12.67%,#23bbb3 12.81%,#25bbb0 12.96%,#2fbca4 13.10%,#2ebca5 13.25%,#22bbb4 13.39%,#22bbb5 13.54%,#1bbabe 13.68%,#1bbabf 13.82%,#1bbabf 13.97%,#1dbabb 14.11%,#1bbabe 14.26%,#1cbabd 14.40%,#25bbb1 14.55%,#22bbb5 14.69%,#19b8c4 14.84%,#18b8c6 14.98%,#1bbabd 15.13%,#20bab7 15.27%,#1bbabf 15.42%,#19b8c3 15.56%,#1bbabe 15.71%,#1cbabc 15.85%,#18b8c5 16.00%,#16b5cd 16.14%,#18b7c7 16.29%,#2abbaa 16.43%,#2bbba9 16.57%,#1dbabb 16.72%,#2cbba8 16.86%,#2dbca6 17.01%,#27bbaf 17.15%,#21bbb6 17.30%,#1ab9c1 17.44%,#19b9c2 17.59%,#24bbb3 17.73%,#23bbb4 17.88%,#1ab9c2 18.02%,#19b8c4 18.17%,#15b5ce 18.31%,#15b5cf 18.46%,#19b8c5 18.60%,#1fbab8 18.75%,#18b8c5 18.89%,#16b6cd 19.04%,#19b8c5 19.18%,#19b8c4 19.33%,#16b6cc 19.47%,#16b6cc 19.61%,#14b4d1 19.76%,#18b7c8 19.90%,#1bbabf 20.05%,#1fbab9 20.19%,#1fbab9 20.34%,#17b6cb 20.48%,#14b4d2 20.63%,#14b4d1 20.77%,#14b4d1 20.92%,#19b8c3 21.06%,#1bbabe 21.21%,#26bbb0 21.35%,#26bbb0 21.50%,#19b8c5 21.64%,#16b6cb 21.79%,#1ab9c1 21.93%,#31bca1 22.08%,#2dbca6 22.22%,#20bab7 22.37%,#1dbabc 22.51%,#18b8c6 22.65%,#16b5cd 22.80%,#19b8c4 22.94%,#1ab9c2 23.09%,#17b7c9 23.23%,#16b6cc 23.38%,#19b8c3 23.52%,#22bbb5 23.67%,#1ebaba 23.81%,#18b7c7 23.96%,#17b7c8 24.10%,#21bab7 24.25%,#24bbb2 24.39%,#19b8c4 24.54%,#18b7c7 24.68%,#17b7c9 24.83%,#1dbabc 24.97%,#29bbac 25.12%,#2ebca5 25.26%,#29bbab 25.41%,#1bbabf 25.55%,#27bbaf 25.69%,#51be89 25.84%,#48bd90 25.98%,#34bc9e 26.13%,#2cbba8 26.27%,#25bbb1 26.42%,#29bbac 26.56%,#33bc9f 26.71%,#3ebd97 26.85%,#4ebd8b 27.00%,#4bbd8d 27.14%,#42bd94 27.29%,#55be86 27.43%,#56be85 27.58%,#32bca0 27.72%,#2ebca6 27.87%,#1fbab9 28.01%,#1dbabc 28.16%,#27bbae 28.30%,#2dbca6 28.45%,#46bd91 28.59%,#53be87 28.73%,#5fbf7e 28.88%,#72c26d 29.02%,#57be84 29.17%,#53be88 29.31%,#5abe82 29.46%,#50bd8a 29.60%,#39bc9b 29.75%,#32bca0 29.89%,#2cbba8 30.04%,#2ebca5 30.18%,#5abe82 30.33%,#56be85 30.47%,#30bca2 30.62%,#30bca2 30.76%,#4cbd8c 30.91%,#52be88 31.05%,#43bd93 31.20%,#38bc9b 31.34%,#3bbc99 31.49%,#3cbc99 31.63%,#2dbca7 31.77%,#2ebca5 31.92%,#42bd94 32.06%,#2ebca6 32.21%,#28bbad 32.35%,#1abac0 32.50%,#22bbb5 32.64%,#3cbc99 32.79%,#3fbd97 32.93%,#2abbab 33.08%,#21bbb6 33.22%,#21bbb6 33.37%,#1dbabb 33.51%,#1ab9c1 33.66%,#1ab9c1 33.80%,#25bbb1 33.95%,#24bbb2 34.09%,#19b8c4 34.24%,#1bbabf 34.38%,#29bbac 34.53%,#19b8c3 34.67%,#17b7c9 34.81%,#15b5ce 34.96%,#15b5cf 35.10%,#17b6ca 35.25%,#17b6cb 35.39%,#16b0d8 35.54%,#14b3d4 35.68%,#18b8c5 35.83%,#17b6cb 35.97%,#15b1d7 36.12%,#16b0d9 36.26%,#14b3d4 36.41%,#15b2d5 36.55%,#1aa9e1 36.70%,#17acdf 36.84%,#15b1d7 36.99%,#15b2d4 37.13%,#16b6cc 37.28%,#17b6ca 37.42%,#16aedb 37.57%,#16aedb 37.71%,#14b4d1 37.85%,#16b5ce 38.00%,#17b7c9 38.14%,#17b6ca 38.29%,#15b2d6 38.43%,#16aedb 38.58%,#17abe0 38.72%,#15b2d4 38.87%,#15b5cf 39.01%,#16b6cc 39.16%,#16b6cb 39.30%,#15b2d5 39.45%,#1ab9c0 39.59%,#1ab9c1 39.74%,#14b4d1 39.88%,#14b4d2 40.03%,#17b7c9 40.17%,#1ab9c0 40.32%,#18b8c6 40.46%,#14b3d3 40.61%,#14b4d1 40.75%,#18b7c7 40.89%,#17b7c9 41.04%,#18b7c7 41.18%,#18b7c6 41.33%,#1ab9c1 41.47%,#1cbabc 41.62%,#17b6ca 41.76%,#16b6cc 41.91%,#1cbabd 42.05%,#21bbb6 42.20%,#2ebca5 42.34%,#3abc9a 42.49%,#37bc9c 42.63%,#29bbab 42.78%,#28bbae 42.92%,#20bab8 43.07%,#1cbabc 43.21%,#1ab9c0 43.36%,#1abac0 43.50%,#1ebab9 43.65%,#1dbabb 43.79%,#2cbca7 43.93%,#35bc9e 44.08%,#34bc9f 44.22%,#38bc9b 44.37%,#32bca0 44.51%,#2dbca7 44.66%,#30bca2 44.80%,#40bd96 44.95%,#47bd90 45.09%,#3cbd98 45.24%,#34bc9e 45.38%,#2dbca6 45.53%,#30bca2 45.67%,#40bd96 45.82%,#4abd8e 45.96%,#57be84 46.11%,#42bd94 46.25%,#42bd94 46.40%,#66c077 46.54%,#60bf7d 46.69%,#56be85 46.83%,#56be85 46.97%,#5bbe81 47.12%,#66c078 47.26%,#79c367 47.41%,#73c26c 47.55%,#79c367 47.70%,#7ec363 47.84%,#77c269 47.99%,#57be84 48.13%,#6ac074 48.28%,#8cc557 48.42%,#a7c840 48.57%,#a8c840 48.71%,#a1c844 48.86%,#86c45c 49.00%,#7ac366 49.15%,#7bc365 49.29%,#80c461 49.44%,#a9c73f 49.58%,#acc73e 49.72%,#abc73f 49.87%,#afc73d 50.01%,#afc73d 50.16%,#a9c73f 50.30%,#95c64f 50.45%,#93c650 50.59%,#98c64c 50.74%,#a1c845 50.88%,#b0c73d 51.03%,#96c64d 51.17%,#7bc365 51.32%,#97c64d 51.46%,#a9c73f 51.61%,#92c651 51.75%,#92c651 51.90%,#b1c73d 52.04%,#afc73d 52.19%,#9ac74b 52.33%,#94c650 52.48%,#a2c843 52.62%,#a0c746 52.76%,#a3c843 52.91%,#91c652 53.05%,#92c651 53.20%,#84c45d 53.34%,#80c461 53.49%,#75c26a 53.63%,#6ec170 53.78%,#63bf7a 53.92%,#81c460 54.07%,#8ac558 54.21%,#7dc364 54.36%,#75c26b 54.50%,#5ebf7f 54.65%,#5fbf7e 54.79%,#6ac074 54.94%,#63bf7a 55.08%,#3fbd96 55.23%,#2fbca4 55.37%,#4bbd8d 55.52%,#4abd8e 55.66%,#33bc9f 55.80%,#3fbd96 55.95%,#48bd8f 56.09%,#4bbd8d 56.24%,#39bc9a 56.38%,#38bc9b 56.53%,#38bc9b 56.67%,#33bc9f 56.82%,#2cbca7 56.96%,#34bc9e 57.11%,#37bc9c 57.25%,#23bbb4 57.40%,#25bbb1 57.54%,#31bca1 57.69%,#2abbab 57.83%,#2dbca7 57.98%,#41bd95 58.12%,#40bd95 58.27%,#2dbca6 58.41%,#2abbab 58.56%,#25bbb1 58.70%,#20bab7 58.84%,#20bab7 58.99%,#29bbac 59.13%,#1bbabf 59.28%,#1dbabc 59.42%,#1dbabb 59.57%,#24bbb2 59.71%,#19b9c2 59.86%,#17b6ca 60.00%,#19b8c5 60.15%,#1cbabd 60.29%,#1fbab9 60.44%,#23bbb4 60.58%,#22bbb4 60.73%,#23bbb4 60.87%,#1cbabc 61.02%,#1bbabe 61.16%,#1bbabd 61.31%,#19b8c4 61.45%,#17b6ca 61.60%,#16b6cc 61.74%,#16b6cd 61.88%,#18b8c6 62.03%,#18b8c5 62.17%,#1bbabe 62.32%,#18b7c8 62.46%,#15b3d4 62.61%,#14b4d2 62.75%,#15b0d8 62.90%,#15b1d7 63.04%,#16b0d9 63.19%,#15b1d6 63.33%,#15b2d6 63.48%,#17addd 63.62%,#16aedc 63.77%,#1aa9e1 63.91%,#1ba9e1 64.06%,#17acdf 64.20%,#1aa9e1 64.35%,#18abe1 64.49%,#2ba1dc 64.64%,#2aa2dc 64.78%,#2ea0db 64.92%,#329eda 65.07%,#3899d6 65.21%,#2aa1dc 65.36%,#1fa7e0 65.50%,#2f9fdb 65.65%,#25a4de 65.79%,#26a3dd 65.94%,#19a9e2 66.08%,#21a6df 66.23%,#26a4de 66.37%,#26a3dd 66.52%,#2ea0db 66.66%,#2da0db 66.81%,#21a6df 66.95%,#23a5df 67.10%,#22a5df 67.24%,#2da0db 67.39%,#23a5df 67.53%,#1ea7e0 67.68%,#18aae1 67.82%,#18abe1 67.96%,#1aa9e1 68.11%,#329eda 68.25%,#2ca1dc 68.40%,#18abe0 68.54%,#17addd 68.69%,#19a9e2 68.83%,#16aedb 68.98%,#15b1d8 69.12%,#17acdf 69.27%,#1da7e0 69.41%,#17aedc 69.56%,#17adde 69.70%,#21a6df 69.85%,#20a6df 69.99%,#24a4de 70.14%,#20a6df 70.28%,#15b1d7 70.43%,#15b0d8 70.57%,#15b5d0 70.72%,#15b0d8 70.86%,#17aedc 71.00%,#15b2d6 71.15%,#15b1d7 71.29%,#14b3d4 71.44%,#16b0d9 71.58%,#17acdf 71.73%,#1ba9e1 71.87%,#18aae2 72.02%,#17addc 72.16%,#18abe1 72.31%,#19aae2 72.45%,#17acdf 72.60%,#15b1d7 72.74%,#17acde 72.89%,#26a3dd 73.03%,#19a9e2 73.18%,#16b6cd 73.32%,#15b1d7 73.47%,#15b2d5 73.61%,#15b5d0 73.76%,#15b5d0 73.90%,#14b4d3 74.04%,#14b3d3 74.19%,#1ab9c1 74.33%,#14b4d2 74.48%,#15b2d5 74.62%,#14b3d4 74.77%,#14b4d2 74.91%,#16afd9 75.06%,#16b0d8 75.20%,#15b5cf 75.35%,#16b6cd 75.49%,#1ab9c1 75.64%,#22bbb5 75.78%,#2abbaa 75.93%,#1ab9c0 76.07%,#21bab7 76.22%,#30bca2 76.36%,#2abbab 76.51%,#32bca0 76.65%,#55be86 76.80%,#4cbd8c 76.94%,#38bc9c 77.08%,#2ebca5 77.23%,#24bbb3 77.37%,#3bbc99 77.52%,#5dbe80 77.66%,#21bbb6 77.81%,#2fbca3 77.95%,#38bc9c 78.10%,#3cbc99 78.24%,#3dbd98 78.39%,#26bbb0 78.53%,#29bbac 78.68%,#26bbb0 78.82%,#30bca3 78.97%,#51be89 79.11%,#52be88 79.26%,#59be83 79.40%,#5bbe81 79.55%,#59be82 79.69%,#71c26e 79.83%,#81c460 79.98%,#69c075 80.12%,#5cbe80 80.27%,#4cbd8c 80.41%,#48bd90 80.56%,#4fbd8a 80.70%,#53be87 80.85%,#66c077 80.99%,#67c077 81.14%,#73c26c 81.28%,#5abe82 81.43%,#46bd91 81.57%,#42bd94 81.72%,#39bc9b 81.86%,#44bd92 82.01%,#3cbd98 82.15%,#31bca1 82.30%,#26bbb0 82.44%,#2bbba9 82.59%,#42bd94 82.73%,#2bbba9 82.87%,#29bbac 83.02%,#23bbb4 83.16%,#29bbac 83.31%,#1ab9c0 83.45%,#2bbbaa 83.60%,#44bd92 83.74%,#20bab8 83.89%,#19b8c3 84.03%,#1bbabd 84.18%,#22bbb4 84.32%,#1cbabd 84.47%,#1ebaba 84.61%,#1ab9c0 84.76%,#19b9c3 84.90%,#17b6ca 85.05%,#14b4d1 85.19%,#16b6cc 85.34%,#1ab9c2 85.48%,#15b5cf 85.63%,#16b6cc 85.77%,#16b0d8 85.91%,#14b3d4 86.06%,#17b6cb 86.20%,#18b7c7 86.35%,#17b6cb 86.49%,#16b6cb 86.64%,#14b3d4 86.78%,#16aedc 86.93%,#17acdf 87.07%,#1ba8e1 87.22%,#21a6df 87.36%,#17acdf 87.51%,#18abe1 87.65%,#1ea7e0 87.80%,#2da0db 87.94%,#309fda 88.09%,#3899d5 88.23%,#3e93d1 88.38%,#2ca1db 88.52%,#2ba1dc 88.67%,#349cd9 88.81%,#329eda 88.95%,#2ea0db 89.10%,#319eda 89.24%,#3a97d4 89.39%,#3c95d2 89.53%,#2ea0db 89.68%,#2ea0db 89.82%,#2ba1dc 89.97%,#309fda 90.11%,#3b96d3 90.26%,#379ad7 90.40%,#2aa2dc 90.55%,#26a3dd 90.69%,#3f91cf 90.84%,#3b96d3 90.98%,#349dd9 91.13%,#369bd8 91.27%,#3c94d2 91.42%,#3c94d1 91.56%,#3a97d4 91.71%,#309fda 91.85%,#2ba1dc 91.99%,#29a2dd 92.14%,#309fda 92.28%,#3998d5 92.43%,#309fda 92.57%,#28a3dd 92.72%,#309fda 92.86%,#2ca1dc 93.01%,#18aae2 93.15%,#17acdf 93.30%,#16b0d9 93.44%,#18b8c5 93.59%,#18b8c6 93.73%,#19b9c2 93.88%,#17b7c9 94.02%,#14b4d2 94.17%,#1ab9c0 94.31%,#1ab9c0 94.46%,#21bab7 94.60%,#24bbb3 94.75%,#25bbb2 94.89%,#26bbaf 95.03%,#1bbabe 95.18%,#1ab9c0 95.32%,#19b8c5 95.47%,#19b9c3 95.61%,#32bca0 95.76%,#39bc9b 95.90%,#47bd90 96.05%,#40bd96 96.19%,#2ebca5 96.34%,#2dbca7 96.48%,#30bca3 96.63%,#3ebd97 96.77%,#2bbba9 96.92%,#2bbba9 97.06%,#3abc9a 97.21%,#3fbd96 97.35%,#4ebd8b 97.50%,#4abd8e 97.64%,#2cbba8 97.79%,#2abbaa 97.93%,#32bca0 98.07%,#3abc9a 98.22%,#50be89 98.36%,#52be88 98.51%,#66c077 98.65%,#52be88 98.80%,#41bd95 98.94%,#57be84 99.09%,#63bf7a 99.23%,#4bbd8e 99.38%,#4abd8e 99.52%,#2ebca5 99.67%,#2bbba9 99.81%,#30bca3 99.96%);-webkit-mask-image:linear-gradient(180deg,transparent 128.1px,#000 161.0px);mask-image:linear-gradient(180deg,transparent 128.1px,#000 161.0px);}
#h9{background:linear-gradient(90deg,#94c650 0.07%,#9bc749 0.14%,#a2c844 0.22%,#9fc746 0.29%,#99c74b 0.36%,#94c650 0.43%,#93c650 0.51%,#94c64f 0.58%,#93c650 0.65%,#8fc554 0.72%,#85c45d 0.80%,#7cc364 0.87%,#74c26b 0.94%,#70c16e 1.01%,#6bc173 1.09%,#67c077 1.16%,#64c079 1.23%,#63bf7a 1.30%,#60bf7d 1.38%,#5cbe80 1.45%,#59be83 1.52%,#59be83 1.59%,#5ebf7f 1.66%,#64bf79 1.74%,#6ac074 1.81%,#6fc170 1.88%,#76c269 1.95%,#7dc363 2.03%,#83c45f 2.10%,#82c45f 2.17%,#7dc363 2.24%,#79c367 2.32%,#78c368 2.39%,#81c460 2.46%,#8dc556 2.53%,#9ac74b 2.61%,#a1c845 2.68%,#a3c843 2.75%,#a4c842 2.82%,#a4c842 2.90%,#a2c843 2.97%,#93c651 3.04%,#80c461 3.11%,#70c16f 3.18%,#71c16e 3.26%,#7dc364 3.33%,#87c55b 3.40%,#8fc554 3.47%,#92c651 3.55%,#92c651 3.62%,#8ec554 3.69%,#8ac558 3.76%,#86c45c 3.84%,#81c460 3.91%,#7ac366 3.98%,#7ec362 4.05%,#8ac558 4.13%,#97c64d 4.20%,#9bc749 4.27%,#97c64d 4.34%,#93c650 4.42%,#8ec555 4.49%,#88c55a 4.56%,#7dc363 4.63%,#72c26d 4.70%,#69c075 4.78%,#65c078 4.85%,#5fbf7e 4.92%,#57be84 4.99%,#50be89 5.07%,#4dbd8b 5.14%,#53be87 5.21%,#5cbe80 5.28%,#66c077 5.36%,#69c075 5.43%,#69c075 5.50%,#68c076 5.57%,#67c077 5.65%,#68c075 5.72%,#6ec170 5.79%,#75c26a 5.86%,#7bc365 5.94%,#76c26a 6.01%,#68c076 6.08%,#58be83 6.15%,#4fbd8a 6.22%,#51be89 6.30%,#57be85 6.37%,#5cbe80 6.44%,#60bf7d 6.51%,#61bf7c 6.59%,#60bf7d 6.66%,#5ebf7f 6.73%,#56be85 6.80%,#4fbd8a 6.88%,#49bd8f 6.95%,#4abd8e 7.02%,#51be89 7.09%,#58be83 7.17%,#5cbe80 7.24%,#54be86 7.31%,#45bd91 7.38%,#37bc9c 7.46%,#30bca2 7.53%,#30bca3 7.60%,#34bc9f 7.67%,#3cbc99 7.74%,#44bd93 7.82%,#4bbd8e 7.89%,#51be89 7.96%,#55be86 8.03%,#53be87 8.11%,#49bd8f 8.18%,#3ebd97 8.25%,#36bc9d 8.32%,#34bc9f 8.40%,#33bc9f 8.47%,#32bca0 8.54%,#31bca1 8.61%,#30bca2 8.69%,#2fbca4 8.76%,#2dbca6 8.83%,#2dbca7 8.90%,#2ebca6 8.98%,#2fbca4 9.05%,#31bca2 9.12%,#30bca2 9.19%,#2dbca6 9.26%,#2abbaa 9.34%,#27bbae 9.41%,#27bbae 9.48%,#28bbad 9.55%,#2bbba9 9.63%,#2fbca4 9.70%,#32bca0 9.77%,#31bca1 9.84%,#2fbca4 9.92%,#2cbba8 9.99%,#2abbaa 10.06%,#29bbab 10.13%,#29bbac 10.21%,#29bbac 10.28%,#28bbad 10.35%,#27bbaf 10.42%,#22bbb5 10.50%,#1ebaba 10.57%,#1bbabf 10.64%,#1bbabf 10.71%,#1bbabf 10.78%,#1bbabf 10.86%,#1bbabf 10.93%,#1bbabe 11.00%,#1ebabb 11.07%,#20bab7 11.15%,#22bbb4 11.22%,#25bbb1 11.29%,#29bbac 11.36%,#2cbca7 11.44%,#2ebca5 11.51%,#2ebca6 11.58%,#29bbab 11.65%,#25bbb1 11.73%,#20bab8 11.80%,#1ebaba 11.87%,#1fbab9 11.94%,#22bbb5 12.02%,#26bbb0 12.09%,#29bbab 12.16%,#2abbab 12.23%,#2abbaa 12.30%,#2abbaa 12.38%,#2bbba9 12.45%,#2cbba8 12.52%,#2cbba8 12.59%,#2abbaa 12.67%,#28bbad 12.74%,#26bbb0 12.81%,#26bbb0 12.88%,#27bbae 12.96%,#2abbaa 13.03%,#2ebca6 13.10%,#2fbca4 13.17%,#2ebca5 13.25%,#2abbaa 13.32%,#26bbaf 13.39%,#23bbb3 13.46%,#22bbb5 13.54%,#20bab7 13.61%,#1ebaba 13.68%,#1cbabc 13.75%,#1cbabd 13.82%,#1cbabd 13.90%,#1dbabc 13.97%,#1ebaba 14.04%,#1ebaba 14.11%,#1ebabb 14.19%,#1dbabb 14.26%,#1dbabb 14.33%,#20bab7 14.40%,#23bbb3 14.48%,#26bbaf 14.55%,#25bbb1 14.62%,#22bbb4 14.69%,#1dbabb 14.77%,#1ab9c0 14.84%,#19b9c3 14.91%,#19b8c3 14.98%,#1ab9c1 15.06%,#1cbabd 15.13%,#20bab8 15.20%,#20bab7 15.27%,#1fbab9 15.34%,#1cbabc 15.42%,#1bbabf 15.49%,#1ab9c0 15.56%,#1bbabf 15.63%,#1cbabc 15.71%,#1ebaba 15.78%,#1dbabb 15.85%,#1bbabf 15.92%,#19b8c3 16.00%,#18b7c7 16.07%,#17b7c9 16.14%,#18b7c8 16.21%,#1ab9c1 16.29%,#20bab7 16.36%,#29bbac 16.43%,#2cbba8 16.50%,#29bbac 16.57%,#24bbb2 16.65%,#22bbb5 16.72%,#25bbb1 16.79%,#2abbaa 16.86%,#2dbca6 16.94%,#2dbca7 17.01%,#2bbbaa 17.08%,#28bbae 17.15%,#25bbb1 17.23%,#22bbb5 17.30%,#1ebaba 17.37%,#1bbabe 17.44%,#1ab9c0 17.52%,#1bbabe 17.59%,#1fbab9 17.66%,#23bbb3 17.73%,#24bbb2 17.81%,#21bbb6 17.88%,#1dbabb 17.95%,#1ab9c0 18.02%,#1ab9c2 18.09%,#19b8c4 18.17%,#18b8c6 18.24%,#17b7ca 18.31%,#16b6cc 18.38%,#16b6cb 18.46%,#17b7c8 18.53%,#19b9c2 18.60%,#1cbabc 18.67%,#20bab8 18.75%,#1dbabc 18.82%,#19b9c2 18.89%,#18b7c8 18.96%,#17b7c8 19.04%,#18b8c6 19.11%,#19b9c3 19.18%,#1ab9c2 19.25%,#19b8c4 19.33%,#18b7c6 19.40%,#17b7c9 19.47%,#17b7c9 19.54%,#17b6ca 19.61%,#16b6cc 19.69%,#16b6cd 19.76%,#17b6ca 19.83%,#18b8c6 19.90%,#1ab9c1 19.98%,#1bbabe 20.05%,#1ebaba 20.12%,#20bab7 20.19%,#21bbb6 20.27%,#21bab7 20.34%,#1bbabf 20.41%,#18b8c5 20.48%,#16b6cc 20.56%,#15b5ce 20.63%,#15b5cf 20.70%,#15b5ce 20.77%,#15b5ce 20.85%,#16b6cc 20.92%,#18b7c8 20.99%,#19b9c3 21.06%,#1bbabf 21.13%,#1ebaba 21.21%,#22bbb5 21.28%,#26bbb0 21.35%,#27bbae 21.42%,#26bbb0 21.50%,#20bab8 21.57%,#1ab9c1 21.64%,#18b8c6 21.71%,#18b7c8 21.79%,#19b8c5 21.86%,#1dbabb 21.93%,#28bbad 22.00%,#31bca2 22.08%,#31bca1 22.15%,#2dbca7 22.22%,#27bbaf 22.29%,#22bbb5 22.37%,#20bab7 22.44%,#1fbab9 22.51%,#1bbabe 22.58%,#19b9c3 22.65%,#18b7c8 22.73%,#17b7c9 22.80%,#18b7c7 22.87%,#19b8c3 22.94%,#1ab9c0 23.02%,#1ab9c0 23.09%,#19b9c2 23.16%,#19b8c5 23.23%,#18b7c8 23.31%,#17b7c8 23.38%,#18b7c6 23.45%,#1ab9c1 23.52%,#1ebaba 23.60%,#22bbb5 23.67%,#22bbb5 23.74%,#1fbab9 23.81%,#1bbabf 23.89%,#19b8c4 23.96%,#18b8c6 24.03%,#19b8c5 24.10%,#1ab9c0 24.17%,#20bab7 24.25%,#25bbb1 24.32%,#24bbb2 24.39%,#1fbab9 24.46%,#1bbabf 24.54%,#19b8c3 24.61%,#19b8c4 24.68%,#18b8c5 24.75%,#18b8c5 24.83%,#1ab9c2 24.90%,#1ebaba 24.97%,#25bbb0 25.04%,#2abbaa 25.12%,#2cbca7 25.19%,#2ebca5 25.26%,#2dbca6 25.33%,#28bbad 25.41%,#21bbb6 25.48%,#1ebaba 25.55%,#22bbb5 25.62%,#2cbba8 25.69%,#3bbc99 25.77%,#4cbd8d 25.84%,#4dbd8c 25.91%,#45bd92 25.98%,#3bbc99 26.06%,#34bc9e 26.13%,#30bca2 26.20%,#2dbca7 26.27%,#29bbac 26.35%,#28bbae 26.42%,#28bbad 26.49%,#2cbba8 26.56%,#2fbca4 26.64%,#35bc9e 26.71%,#39bc9b 26.78%,#41bd95 26.85%,#46bd91 26.93%,#4cbd8c 27.00%,#4cbd8d 27.07%,#48bd8f 27.14%,#44bd92 27.21%,#44bd93 27.29%,#49bd8f 27.36%,#50be89 27.43%,#54be86 27.50%,#4ebd8b 27.58%,#42bd94 27.65%,#35bc9e 27.72%,#30bca3 27.79%,#2bbba9 27.87%,#26bbb0 27.94%,#21bbb6 28.01%,#1fbab8 28.08%,#1fbab8 28.16%,#23bbb4 28.23%,#27bbaf 28.30%,#2bbba9 28.37%,#2fbca4 28.45%,#37bc9c 28.52%,#41bd95 28.59%,#4abd8e 28.66%,#50be89 28.73%,#57be84 28.81%,#5ebf7f 28.88%,#64c079 28.95%,#69c075 29.02%,#63bf7a 29.10%,#59be82 29.17%,#51be88 29.24%,#50bd8a 29.31%,#52be88 29.39%,#55be86 29.46%,#54be86 29.53%,#4cbd8d 29.60%,#41bd95 29.68%,#39bc9b 29.75%,#36bc9d 29.82%,#32bca0 29.89%,#2fbca3 29.97%,#2ebca6 30.04%,#2dbca6 30.11%,#35bc9e 30.18%,#44bd93 30.25%,#52be88 30.33%,#56be85 30.40%,#4bbd8e 30.47%,#3dbd97 30.54%,#31bca2 30.62%,#2fbca3 30.69%,#31bca1 30.76%,#3cbc99 30.83%,#47bd90 30.91%,#4ebd8b 30.98%,#4ebd8b 31.05%,#49bd8e 31.12%,#42bd94 31.20%,#3bbc99 31.27%,#38bc9b 31.34%,#39bc9b 31.41%,#3cbc99 31.49%,#3cbd98 31.56%,#38bc9b 31.63%,#32bca0 31.70%,#2dbca7 31.77%,#2cbca7 31.85%,#30bca2 31.92%,#3abc9a 31.99%,#3ebd97 32.06%,#37bc9c 32.14%,#30bca3 32.21%,#2bbba8 32.28%,#27bbae 32.35%,#22bbb5 32.43%,#1ebaba 32.50%,#1fbab9 32.57%,#26bbb0 32.64%,#2ebca5 32.72%,#39bc9b 32.79%,#3ebd97 32.86%,#3dbd98 32.93%,#34bc9e 33.01%,#2ebca6 33.08%,#27bbae 33.15%,#24bbb2 33.22%,#22bbb4 33.29%,#22bbb5 33.37%,#21bab7 33.44%,#1fbab9 33.51%,#1cbabc 33.58%,#1bbabe 33.66%,#1bbabf 33.73%,#1cbabd 33.80%,#20bab8 33.87%,#24bbb3 33.95%,#26bbb0 34.02%,#20bab7 34.09%,#1cbabd 34.16%,#1ab9c2 34.24%,#1ab9c0 34.31%,#1fbab9 34.38%,#25bbb1 34.45%,#28bbae 34.53%,#22bbb5 34.60%,#1bbabf 34.67%,#19b8c4 34.74%,#18b8c6 34.81%,#17b7c9 34.89%,#17b6cb 34.96%,#16b6cc 35.03%,#16b6cb 35.10%,#17b7ca 35.18%,#17b7c8 35.25%,#18b7c8 35.32%,#16b6cb 35.39%,#15b5d0 35.47%,#15b3d4 35.54%,#14b3d4 35.61%,#15b5cf 35.68%,#17b7c9 35.76%,#18b8c5 35.83%,#18b8c5 35.90%,#17b7c9 35.97%,#15b5ce 36.05%,#14b3d3 36.12%,#15b2d5 36.19%,#15b2d5 36.26%,#14b3d3 36.33%,#14b4d1 36.41%,#14b4d1 36.48%,#15b2d5 36.55%,#16afda 36.62%,#17acde 36.70%,#17acde 36.77%,#16afda 36.84%,#15b1d6 36.91%,#14b3d4 36.99%,#14b4d3 37.06%,#15b4d0 37.13%,#16b5cd 37.20%,#17b6ca 37.28%,#17b7c8 37.35%,#16b6cb 37.42%,#14b4d1 37.49%,#15b1d6 37.57%,#16b0d9 37.64%,#15b1d7 37.71%,#14b3d3 37.78%,#15b5cf 37.85%,#16b6cc 37.93%,#17b6ca 38.00%,#18b7c8 38.07%,#18b7c7 38.14%,#18b7c7 38.22%,#17b6ca 38.29%,#15b5ce 38.36%,#14b4d2 38.43%,#15b2d5 38.51%,#15b1d7 38.58%,#16afda 38.65%,#16aedc 38.72%,#16b0d8 38.80%,#14b3d3 38.87%,#16b5cd 38.94%,#16b6cb 39.01%,#17b6cb 39.09%,#17b7ca 39.16%,#17b7c8 39.23%,#17b6cb 39.30%,#15b5ce 39.37%,#15b5cf 39.45%,#17b7c9 39.52%,#1ab9c2 39.59%,#1bbabe 39.66%,#1ab9c1 39.74%,#18b8c6 39.81%,#16b6cc 39.88%,#15b5cf 39.95%,#15b5cf 40.03%,#16b6cc 40.10%,#18b7c7 40.17%,#19b9c2 40.24%,#1ab9c0 40.32%,#1ab9c1 40.39%,#19b8c5 40.46%,#17b6ca 40.53%,#16b5cd 40.61%,#15b5ce 40.68%,#16b6cc 40.75%,#17b7c9 40.82%,#18b8c6 40.89%,#18b8c5 40.97%,#18b8c5 41.04%,#18b8c5 41.11%,#19b8c4 41.18%,#19b8c4 41.26%,#19b8c4 41.33%,#19b9c2 41.40%,#1ab9c0 41.47%,#1cbabd 41.55%,#1cbabd 41.62%,#1ab9c1 41.69%,#18b8c5 41.76%,#17b7c8 41.84%,#18b7c8 41.91%,#19b8c3 41.98%,#1bbabe 42.05%,#20bab7 42.13%,#24bbb3 42.20%,#28bbad 42.27%,#2ebca6 42.34%,#33bc9f 42.41%,#38bc9c 42.49%,#39bc9a 42.56%,#33bc9f 42.63%,#2ebca5 42.70%,#2abbab 42.78%,#29bbac 42.85%,#25bbb1 42.92%,#23bbb3 42.99%,#20bab7 43.07%,#20bab8 43.14%,#1ebaba 43.21%,#1dbabc 43.28%,#1bbabe 43.36%,#1bbabe 43.43%,#1bbabe 43.50%,#1ebabb 43.57%,#1fbab9 43.65%,#1fbab8 43.72%,#21bbb6 43.79%,#25bbb1 43.86%,#2bbba9 43.93%,#30bca2 44.01%,#34bc9f 44.08%,#35bc9d 44.15%,#34bc9e 44.22%,#34bc9e 44.30%,#35bc9e 44.37%,#35bc9d 44.44%,#32bca0 44.51%,#30bca3 44.59%,#2ebca5 44.66%,#2ebca5 44.73%,#30bca2 44.80%,#37bc9c 44.88%,#3dbd98 44.95%,#42bd94 45.02%,#42bd94 45.09%,#41bd95 45.17%,#3bbc99 45.24%,#37bc9c 45.31%,#34bc9e 45.38%,#31bca1 45.45%,#2ebca5 45.53%,#2ebca5 45.60%,#2fbca4 45.67%,#35bc9e 45.74%,#3cbc99 45.82%,#43bd93 45.89%,#4abd8e 45.96%,#50bd8a 46.03%,#51be89 46.11%,#4bbd8d 46.18%,#46bd91 46.25%,#42bd94 46.32%,#49bd8f 46.40%,#53be87 46.47%,#5ebf7f 46.54%,#60bf7c 46.61%,#5cbe80 46.69%,#57be84 46.76%,#53be88 46.83%,#52be88 46.90%,#52be88 46.97%,#55be86 47.05%,#55be85 47.12%,#5abe82 47.19%,#63bf7a 47.26%,#6dc171 47.34%,#71c16e 47.41%,#70c16f 47.48%,#6fc170 47.55%,#71c16e 47.63%,#72c26d 47.70%,#74c26b 47.77%,#75c26a 47.84%,#75c26a 47.92%,#6bc173 47.99%,#60bf7d 48.06%,#59be83 48.13%,#5dbe80 48.20%,#6ac074 48.28%,#78c367 48.35%,#87c55a 48.42%,#92c651 48.49%,#9bc749 48.57%,#a0c746 48.64%,#9ec747 48.71%,#9cc749 48.78%,#98c74c 48.86%,#8fc654 48.93%,#84c45e 49.00%,#79c367 49.07%,#73c26c 49.15%,#74c26c 49.22%,#77c269 49.29%,#7ac366 49.36%,#82c45f 49.44%,#8dc556 49.51%,#9bc74a 49.58%,#a3c843 49.65%,#a4c842 49.72%,#a3c843 49.80%,#a3c843 49.87%,#a3c843 49.94%,#a5c841 50.01%,#a6c841 50.09%,#a5c841 50.16%,#a3c843 50.23%,#9cc749 50.30%,#95c64f 50.38%,#8dc555 50.45%,#8cc556 50.52%,#8ac558 50.59%,#8dc556 50.67%,#90c653 50.74%,#96c64e 50.81%,#9bc74a 50.88%,#9fc746 50.96%,#a1c844 51.03%,#9cc749 51.10%,#8fc554 51.17%,#81c45f 51.24%,#7cc364 51.32%,#82c45f 51.39%,#8fc654 51.46%,#9ac74b 51.53%,#9dc748 51.61%,#97c64d 51.68%,#8fc654 51.75%,#8bc557 51.82%,#8fc654 51.90%,#99c74c 51.97%,#a2c843 52.04%,#a6c840 52.11%,#a2c843 52.19%,#9bc74a 52.26%,#94c650 52.33%,#90c653 52.40%,#91c653 52.48%,#94c64f 52.55%,#97c64d 52.62%,#98c74c 52.69%,#98c74c 52.76%,#9ac74b 52.84%,#9ac74b 52.91%,#94c64f 52.98%,#8fc554 53.05%,#8bc557 53.13%,#8ac558 53.20%,#86c45c 53.27%,#80c461 53.34%,#7bc365 53.42%,#78c268 53.49%,#75c26a 53.56%,#71c16e 53.63%,#6dc171 53.71%,#6ac074 53.78%,#65c079 53.85%,#65c079 53.92%,#6cc172 54.00%,#76c26a 54.07%,#7fc462 54.14%,#7ec363 54.21%,#7cc364 54.28%,#76c269 54.36%,#74c26c 54.43%,#6cc172 54.50%,#63bf7a 54.57%,#5ebf7f 54.65%,#5cbe80 54.72%,#5fbf7d 54.79%,#61bf7b 54.86%,#64bf7a 54.94%,#62bf7b 55.01%,#58be83 55.08%,#4cbd8c 55.15%,#40bd96 55.23%,#37bc9c 55.30%,#3abc9a 55.37%,#3fbd96 55.44%,#47bd90 55.52%,#48bd90 55.59%,#42bd94 55.66%,#3cbc99 55.73%,#36bc9d 55.80%,#38bc9b 55.88%,#3dbd98 55.95%,#42bd94 56.02%,#48bd8f 56.09%,#4bbd8d 56.17%,#47bd90 56.24%,#3fbd96 56.31%,#3bbc9a 56.38%,#39bc9a 56.46%,#3dbd97 56.53%,#3cbd98 56.60%,#3cbd98 56.67%,#36bc9d 56.75%,#33bc9f 56.82%,#30bca3 56.89%,#30bca3 56.96%,#31bca2 57.04%,#33bc9f 57.11%,#35bc9e 57.18%,#32bca0 57.25%,#2dbca6 57.32%,#27bbae 57.40%,#24bbb2 57.47%,#28bbae 57.54%,#2dbca7 57.61%,#30bca3 57.69%,#2fbca4 57.76%,#2cbba8 57.83%,#2bbba9 57.90%,#2bbba9 57.98%,#31bca1 58.05%,#39bc9b 58.12%,#41bd94 58.19%,#3dbd98 58.27%,#34bc9e 58.34%,#2ebca5 58.41%,#2cbba8 58.48%,#2bbba9 58.56%,#29bbab 58.63%,#27bbae 58.70%,#24bbb2 58.77%,#24bbb2 58.84%,#23bbb3 58.92%,#25bbb1 58.99%,#26bbaf 59.06%,#26bbaf 59.13%,#23bbb4 59.21%,#1dbabb 59.28%,#1cbabc 59.35%,#1dbabc 59.42%,#1ebaba 59.50%,#20bab7 59.57%,#23bbb3 59.64%,#24bbb2 59.71%,#20bab7 59.79%,#1bbabf 59.86%,#19b8c5 59.93%,#18b7c7 60.00%,#18b8c5 60.08%,#19b8c3 60.15%,#1abac0 60.22%,#1dbabb 60.29%,#20bab7 60.36%,#22bbb5 60.44%,#22bbb5 60.51%,#23bbb4 60.58%,#23bbb3 60.65%,#24bbb3 60.73%,#25bbb2 60.80%,#23bbb3 60.87%,#21bab7 60.94%,#1ebaba 61.02%,#1dbabb 61.09%,#1dbabc 61.16%,#1dbabc 61.23%,#1dbabb 61.31%,#1bbabe 61.38%,#1bbabf 61.45%,#19b8c3 61.52%,#19b8c5 61.60%,#18b7c8 61.67%,#17b7c8 61.74%,#17b7ca 61.81%,#17b7c8 61.88%,#18b7c7 61.96%,#19b8c5 62.03%,#19b8c5 62.10%,#19b8c4 62.17%,#1ab9c2 62.25%,#1ab9c1 62.32%,#19b9c3 62.39%,#18b7c8 62.46%,#15b5ce 62.54%,#14b4d2 62.61%,#14b3d4 62.68%,#15b3d4 62.75%,#15b2d6 62.83%,#16b0d9 62.90%,#16b0d9 62.97%,#16afda 63.04%,#16afd9 63.12%,#16afda 63.19%,#16afd9 63.26%,#16b0d9 63.33%,#16b0d8 63.40%,#16afda 63.48%,#17aedc 63.55%,#17acdf 63.62%,#17acdf 63.69%,#17acde 63.77%,#18abe0 63.84%,#18aae2 63.91%,#1da7e0 63.98%,#1aa9e1 64.06%,#1ba9e1 64.13%,#1ca8e1 64.20%,#20a6e0 64.27%,#21a6df 64.35%,#1fa7e0 64.42%,#21a6df 64.49%,#28a2dd 64.56%,#2f9fdb 64.64%,#329eda 64.71%,#319eda 64.78%,#329eda 64.85%,#359cd8 64.92%,#379ad7 65.00%,#3898d5 65.07%,#3a97d4 65.14%,#379ad6 65.21%,#359cd9 65.29%,#2da0db 65.36%,#2ca1dc 65.43%,#2ba1dc 65.50%,#2f9fdb 65.58%,#319fda 65.65%,#309fda 65.72%,#2da0db 65.79%,#2da0db 65.87%,#2ba1dc 65.94%,#28a3dd 66.01%,#25a4de 66.08%,#26a4de 66.16%,#28a2dd 66.23%,#2ba1dc 66.30%,#2ca1dc 66.37%,#2da0db 66.44%,#309fda 66.52%,#339dd9 66.59%,#339ed9 66.66%,#329eda 66.73%,#329eda 66.81%,#309fda 66.88%,#2da0db 66.95%,#29a2dc 67.02%,#2aa2dc 67.10%,#2aa1dc 67.17%,#2ca1db 67.24%,#309fda 67.31%,#309fda 67.39%,#2fa0db 67.46%,#2ba1dc 67.53%,#29a2dd 67.60%,#28a2dd 67.68%,#25a4de 67.75%,#23a5de 67.82%,#20a6e0 67.89%,#1ea7e0 67.96%,#1fa7e0 68.04%,#24a5de 68.11%,#2ea0db 68.18%,#349dd9 68.25%,#359cd8 68.33%,#319eda 68.40%,#29a2dc 68.47%,#20a6df 68.54%,#1aa9e1 68.62%,#1ea7e0 68.69%,#21a6df 68.76%,#25a4de 68.83%,#1fa7e0 68.91%,#1ba9e1 68.98%,#17acdf 69.05%,#17acdf 69.12%,#18abe0 69.20%,#1ba9e1 69.27%,#20a6df 69.34%,#20a6df 69.41%,#1da8e0 69.48%,#18aae2 69.56%,#18aae2 69.63%,#1ca8e1 69.70%,#21a6df 69.77%,#26a4de 69.85%,#28a2dd 69.92%,#2ba1dc 69.99%,#2da0db 70.06%,#2da0db 70.14%,#2aa2dc 70.21%,#20a6df 70.28%,#18aae2 70.35%,#17addd 70.43%,#17addd 70.50%,#16aedb 70.57%,#16afda 70.64%,#15b1d7 70.72%,#16b0d9 70.79%,#17addd 70.86%,#18aae1 70.93%,#18abe1 71.00%,#17acde 71.08%,#17addc 71.15%,#17addd 71.22%,#16aedb 71.29%,#16afda 71.37%,#16aedb 71.44%,#17addd 71.51%,#17acdf 71.58%,#18aae1 71.66%,#1ba9e1 71.73%,#1fa7e0 71.80%,#23a5de 71.87%,#25a4de 71.95%,#22a5df 72.02%,#1ca8e1 72.09%,#19aae2 72.16%,#1aa9e1 72.24%,#1fa7e0 72.31%,#23a5df 72.38%,#25a4de 72.45%,#21a6df 72.52%,#1ea7e0 72.60%,#18abe1 72.67%,#18abe0 72.74%,#18abe1 72.81%,#1ea7e0 72.89%,#25a4de 72.96%,#2aa1dc 73.03%,#29a2dd 73.10%,#1ea7e0 73.18%,#17addd 73.25%,#15b1d7 73.32%,#15b1d7 73.39%,#16afda 73.47%,#17aedc 73.54%,#16aedb 73.61%,#16b0d9 73.68%,#15b1d7 73.76%,#15b1d6 73.83%,#15b2d6 73.90%,#15b1d7 73.97%,#15b1d8 74.04%,#16b0d9 74.12%,#14b3d3 74.19%,#15b5ce 74.26%,#17b6ca 74.33%,#14b4d1 74.41%,#15b2d6 74.48%,#16afda 74.55%,#16aedb 74.62%,#16aedb 74.70%,#16afd9 74.77%,#16b0d8 74.84%,#16b0d8 74.91%,#16aedc 74.99%,#17acde 75.06%,#17acdf 75.13%,#17addd 75.20%,#16afd9 75.28%,#15b1d7 75.35%,#15b2d6 75.42%,#14b4d3 75.49%,#15b5ce 75.56%,#17b6cb 75.64%,#18b7c7 75.71%,#19b8c4 75.78%,#1bbabf 75.85%,#1bbabf 75.93%,#19b9c2 76.00%,#18b7c7 76.07%,#18b7c7 76.14%,#1ab9c2 76.22%,#1ebabb 76.29%,#22bbb5 76.36%,#21bbb6 76.43%,#1cbabc 76.51%,#1dbabb 76.58%,#24bbb2 76.65%,#30bca3 76.72%,#38bc9b 76.80%,#39bc9b 76.87%,#32bca0 76.94%,#2dbca6 77.01%,#29bbac 77.08%,#25bbb1 77.16%,#21bab7 77.23%,#1cbabd 77.30%,#1bbabf 77.37%,#1fbab9 77.45%,#29bbac 77.52%,#35bc9e 77.59%,#2fbca5 77.66%,#24bbb2 77.74%,#1bbabe 77.81%,#1ebaba 77.88%,#22bbb5 77.95%,#24bbb3 78.03%,#26bbb0 78.10%,#29bbac 78.17%,#2abbaa 78.24%,#2bbba9 78.31%,#29bbac 78.39%,#23bbb4 78.46%,#1dbabb 78.53%,#1bbabe 78.60%,#1bbabe 78.68%,#1bbabe 78.75%,#1dbabb 78.82%,#20bab7 78.89%,#28bbad 78.97%,#2ebca5 79.04%,#36bc9d 79.11%,#3abc9a 79.18%,#3bbc99 79.26%,#3cbd98 79.33%,#3fbd96 79.40%,#41bd95 79.47%,#41bd95 79.55%,#40bd96 79.62%,#42bd94 79.69%,#49bd8f 79.76%,#55be86 79.83%,#5fbf7d 79.91%,#62bf7b 79.98%,#5bbe81 80.05%,#50bd8a 80.12%,#46bd91 80.20%,#3fbd96 80.27%,#3abc9a 80.34%,#35bc9e 80.41%,#32bca0 80.49%,#31bca1 80.56%,#33bca0 80.63%,#34bc9e 80.70%,#37bc9c 80.78%,#3cbd98 80.85%,#44bd92 80.92%,#4abd8e 80.99%,#4cbd8d 81.07%,#4fbd8a 81.14%,#53be87 81.21%,#56be85 81.28%,#4fbd8a 81.35%,#46bd91 81.43%,#3abc9a 81.50%,#34bc9e 81.57%,#30bca3 81.64%,#2fbca4 81.72%,#2cbba8 81.79%,#2cbba8 81.86%,#2cbba8 81.93%,#2dbca6 82.01%,#2dbca7 82.08%,#2abbab 82.15%,#27bbae 82.22%,#22bbb5 82.30%,#1ebabb 82.37%,#1bbabf 82.44%,#1bbabe 82.51%,#20bab7 82.59%,#27bbae 82.66%,#2cbba8 82.73%,#28bbac 82.80%,#23bbb3 82.87%,#1ebaba 82.95%,#1dbabc 83.02%,#1bbabe 83.09%,#1bbabe 83.16%,#1bbabd 83.24%,#1bbabd 83.31%,#1ab9c2 83.38%,#18b8c6 83.45%,#19b8c4 83.53%,#1ebaba 83.60%,#28bbad 83.67%,#2bbba9 83.74%,#23bbb3 83.82%,#1ab9c2 83.89%,#17b6ca 83.96%,#16b6cc 84.03%,#17b6ca 84.11%,#18b7c7 84.18%,#19b8c4 84.25%,#19b9c3 84.32%,#19b8c4 84.39%,#18b8c6 84.47%,#18b7c7 84.54%,#18b8c6 84.61%,#18b7c7 84.68%,#17b7c9 84.76%,#16b6cb 84.83%,#16b5cd 84.90%,#15b5cf 84.97%,#14b3d3 85.05%,#15b2d5 85.12%,#15b1d7 85.19%,#15b2d6 85.26%,#14b3d4 85.34%,#15b5d0 85.41%,#15b5ce 85.48%,#14b4d1 85.55%,#15b2d5 85.63%,#15b2d6 85.70%,#15b1d7 85.77%,#16b0d9 85.84%,#16aedc 85.91%,#17aedc 85.99%,#16afd9 86.06%,#15b1d6 86.13%,#14b3d4 86.20%,#14b4d2 86.28%,#14b4d1 86.35%,#14b4d1 86.42%,#14b4d2 86.49%,#14b3d3 86.57%,#15b2d5 86.64%,#15b0d8 86.71%,#16aedb 86.78%,#17adde 86.86%,#18aae2 86.93%,#1ba9e1 87.00%,#1ea7e0 87.07%,#20a6e0 87.15%,#24a5de 87.22%,#27a3dd 87.29%,#27a3dd 87.36%,#23a5de 87.43%,#1fa7e0 87.51%,#1ea7e0 87.58%,#1fa7e0 87.65%,#22a5df 87.72%,#25a4de 87.80%,#2ca1dc 87.87%,#329eda 87.94%,#369bd8 88.01%,#3899d6 88.09%,#3997d4 88.16%,#3d93d1 88.23%,#3f91cf 88.30%,#3e93d0 88.38%,#3997d4 88.45%,#359cd8 88.52%,#349dd9 88.59%,#349dd9 88.67%,#359cd8 88.74%,#3899d6 88.81%,#3998d5 88.88%,#3899d5 88.95%,#369bd7 89.03%,#369bd8 89.10%,#369bd8 89.17%,#369ad7 89.24%,#3998d4 89.32%,#3b96d3 89.39%,#3d93d1 89.46%,#3d94d1 89.53%,#3b96d3 89.61%,#379ad7 89.68%,#349dd9 89.75%,#339dd9 89.82%,#339dd9 89.90%,#339ed9 89.97%,#349dd9 90.04%,#369bd7 90.11%,#3a97d4 90.19%,#3c95d2 90.26%,#3d94d1 90.33%,#3b95d3 90.40%,#3899d6 90.47%,#329eda 90.55%,#2da0db 90.62%,#309fda 90.69%,#3998d5 90.76%,#3f92cf 90.84%,#4190ce 90.91%,#3f92cf 90.98%,#3c95d2 91.05%,#3a97d4 91.13%,#3998d5 91.20%,#3a96d3 91.27%,#3d94d1 91.34%,#3f92cf 91.42%,#4091cf 91.49%,#3f92d0 91.56%,#3e92d0 91.63%,#3d93d1 91.71%,#3b96d3 91.78%,#3998d5 91.85%,#369bd8 91.92%,#349dd9 91.99%,#319fda 92.07%,#2fa0db 92.14%,#319eda 92.21%,#359cd8 92.28%,#3a97d4 92.36%,#3c95d2 92.43%,#3a97d4 92.50%,#369bd7 92.57%,#319eda 92.65%,#2fa0db 92.72%,#319eda 92.79%,#339dd9 92.86%,#359cd8 92.94%,#309fda 93.01%,#2aa2dc 93.08%,#22a5df 93.15%,#1ea7e0 93.23%,#19aae2 93.30%,#18abe1 93.37%,#17addd 93.44%,#15b1d7 93.51%,#14b4d2 93.59%,#15b5cf 93.66%,#15b5ce 93.73%,#16b6cd 93.80%,#16b6cb 93.88%,#16b5cd 93.95%,#15b5d0 94.02%,#15b3d4 94.09%,#15b2d5 94.17%,#14b4d2 94.24%,#15b5ce 94.31%,#17b6cb 94.38%,#17b6ca 94.46%,#18b7c7 94.53%,#19b8c4 94.60%,#1ab9c2 94.67%,#1ab9c1 94.75%,#1ab9c1 94.82%,#1ab9c0 94.89%,#1bbabf 94.96%,#1ab9c0 95.03%,#19b8c3 95.11%,#18b7c7 95.18%,#17b7c9 95.25%,#17b7c9 95.32%,#17b6cb 95.40%,#17b6cb 95.47%,#16b6cc 95.54%,#17b7c9 95.61%,#1ab9c2 95.69%,#20bab7 95.76%,#28bbad 95.83%,#2bbba9 95.90%,#2dbca7 95.98%,#2fbca4 96.05%,#2fbca4 96.12%,#2abbaa 96.19%,#26bbb0 96.27%,#22bbb6 96.34%,#21bab7 96.41%,#22bbb5 96.48%,#23bbb4 96.55%,#26bbaf 96.63%,#28bbac 96.70%,#27bbae 96.77%,#24bbb3 96.84%,#1fbab9 96.92%,#1ebab9 96.99%,#22bbb6 97.06%,#26bbb0 97.13%,#28bbad 97.21%,#29bbac 97.28%,#2cbba8 97.35%,#31bca1 97.42%,#35bc9e 97.50%,#34bc9e 97.57%,#2ebca5 97.64%,#27bbae 97.71%,#20bab7 97.79%,#1ebaba 97.86%,#20bab7 97.93%,#23bbb4 98.00%,#26bbaf 98.07%,#28bbae 98.15%,#2dbca7 98.22%,#31bca1 98.29%,#37bc9d 98.36%,#37bc9c 98.44%,#3dbd98 98.51%,#44bd93 98.58%,#4abd8e 98.65%,#45bd92 98.73%,#39bc9b 98.80%,#30bca3 98.87%,#2dbca6 98.94%,#31bca1 99.02%,#3cbc99 99.09%,#46bd91 99.16%,#49bd8f 99.23%,#41bd95 99.31%,#3bbc99 99.38%,#34bc9e 99.45%,#31bca1 99.52%,#2abbaa 99.59%,#24bbb3 99.67%,#1fbab8 99.74%,#1fbab9 99.81%,#21bbb6 99.88%,#22bbb4 99.96%);-webkit-mask-image:linear-gradient(180deg,transparent 161.0px,#000 208.1px);mask-image:linear-gradient(180deg,transparent 161.0px,#000 208.1px);}
</style></head><body><div id="fig">
<div class="hm" id="h0"></div>
<div class="hm" id="h1"></div>
<div class="hm" id="h2"></div>
<div class="hm" id="h3"></div>
<div class="hm" id="h4"></div>
<div class="hm" id="h5"></div>
<div class="hm" id="h6"></div>
<div class="hm" id="h7"></div>
<div class="hm" id="h8"></div>
<div class="hm" id="h9"></div>
<svg width="1637" height="3291" viewBox="0 0 1637 3291">
<g><line x1="189.0" y1="177.3" x2="1568.0" y2="177.3" stroke="#dcdcdc" stroke-width="1.6" /><line x1="189.0" y1="305.7" x2="1568.0" y2="305.7" stroke="#dcdcdc" stroke-width="1.6" /><line x1="189.0" y1="434.1" x2="1568.0" y2="434.1" stroke="#dcdcdc" stroke-width="1.6" /><line x1="189.0" y1="562.5" x2="1568.0" y2="562.5" stroke="#dcdcdc" stroke-width="1.6" /><line x1="189.0" y1="690.8" x2="1568.0" y2="690.8" stroke="#dcdcdc" stroke-width="1.6" /><line x1="189.0" y1="819.2" x2="1568.0" y2="819.2" stroke="#dcdcdc" stroke-width="1.6" /><line x1="189.0" y1="947.6" x2="1568.0" y2="947.6" stroke="#dcdcdc" stroke-width="1.6" /><line x1="534.4" y1="48.9" x2="534.4" y2="1076.0" stroke="#dcdcdc" stroke-width="1.6" /><line x1="879.0" y1="48.9" x2="879.0" y2="1076.0" stroke="#dcdcdc" stroke-width="1.6" /><line x1="1223.4" y1="48.9" x2="1223.4" y2="1076.0" stroke="#dcdcdc" stroke-width="1.6" /></g>
<rect x="189.0" y="48.9" width="1379.0" height="1027.1" fill="none" stroke="#3e4043" stroke-width="2.0"/><line x1="534.4" y1="1076.0" x2="534.4" y2="1062.0" stroke="#3e4043" stroke-width="2.0" /><line x1="534.4" y1="48.9" x2="534.4" y2="62.9" stroke="#3e4043" stroke-width="2.0" /><line x1="879.0" y1="1076.0" x2="879.0" y2="1062.0" stroke="#3e4043" stroke-width="2.0" /><line x1="879.0" y1="48.9" x2="879.0" y2="62.9" stroke="#3e4043" stroke-width="2.0" /><line x1="1223.4" y1="1076.0" x2="1223.4" y2="1062.0" stroke="#3e4043" stroke-width="2.0" /><line x1="1223.4" y1="48.9" x2="1223.4" y2="62.9" stroke="#3e4043" stroke-width="2.0" /><line x1="189.0" y1="177.3" x2="203.0" y2="177.3" stroke="#3e4043" stroke-width="2.0" /><line x1="1568.0" y1="177.3" x2="1554.0" y2="177.3" stroke="#3e4043" stroke-width="2.0" /><line x1="189.0" y1="305.7" x2="203.0" y2="305.7" stroke="#3e4043" stroke-width="2.0" /><line x1="1568.0" y1="305.7" x2="1554.0" y2="305.7" stroke="#3e4043" stroke-width="2.0" /><line x1="189.0" y1="434.1" x2="203.0" y2="434.1" stroke="#3e4043" stroke-width="2.0" /><line x1="1568.0" y1="434.1" x2="1554.0" y2="434.1" stroke="#3e4043" stroke-width="2.0" /><line x1="189.0" y1="562.5" x2="203.0" y2="562.5" stroke="#3e4043" stroke-width="2.0" /><line x1="1568.0" y1="562.5" x2="1554.0" y2="562.5" stroke="#3e4043" stroke-width="2.0" /><line x1="189.0" y1="690.8" x2="203.0" y2="690.8" stroke="#3e4043" stroke-width="2.0" /><line x1="1568.0" y1="690.8" x2="1554.0" y2="690.8" stroke="#3e4043" stroke-width="2.0" /><line x1="189.0" y1="819.2" x2="203.0" y2="819.2" stroke="#3e4043" stroke-width="2.0" /><line x1="1568.0" y1="819.2" x2="1554.0" y2="819.2" stroke="#3e4043" stroke-width="2.0" /><line x1="189.0" y1="947.6" x2="203.0" y2="947.6" stroke="#3e4043" stroke-width="2.0" /><line x1="1568.0" y1="947.6" x2="1554.0" y2="947.6" stroke="#3e4043" stroke-width="2.0" />
<defs><clipPath id="ca"><rect x="186.6" y="47.9" width="1383.4" height="1029.1"/></clipPath><clipPath id="cc"><rect x="186.6" y="2700.0" width="1383.4" height="429.9499999999998"/></clipPath></defs>
<g clip-path="url(#ca)" fill="none" stroke-linejoin="round" stroke-linecap="butt">
<path d="M187.5 290.5l0.9 -11.8 1 -58.1 0.9 -10 1 2.4 0.9 -10.7 1 33.6 0.9 -3.7 1 3.7 0.9 -6.9 0.9 4.1 1 -10.5 0.9 9.6 1 32.1 0.9 8.7 1 -5.7 0.9 7.2 0.9 24.8 1 6 0.9 -21.1 1 -7.7 0.9 6.7 1 22.2 0.9 2.6 1 -0.4 0.9 -34.8 0.9 -0.5 1 2.3 0.9 -6.5 1 -34.3 0.9 -4.2 1 -1.8 0.9 -0.7 1 20.8 0.9 7.3 0.9 -6.8 1 -1 0.9 -3.1 1 -43.9 0.9 -1.8 1 -10.5 0.9 0.6 0.9 -2.7 1 5.7 0.9 0.3 1 9.6 0.9 83 1 14.1 0.9 -10.5 1 -2.8 0.9 -64.3 0.9 -5.4 1 -9.4 0.9 0.9 1 0.1 0.9 7 1 20.9 0.9 0.2 1 2.6 0.9 4 0.9 15.2 1 -1.5 0.9 -66 1 -4.6 0.9 2.8 1 29.2 0.9 10.4 0.9 -1.4 1 5.4 0.9 -6.9 1 60.5 0.9 6.2 1 6.1 0.9 3.8 1 0 0.9 -7.9 0.9 -6.3 1 -1.2 0.9 -2.8 1 -25.4 0.9 -4.2 1 -0.9 0.9 2.3 1 -2.4 0.9 -1.6 0.9 -3.4 1 -6.2 0.9 -23.9 1 -3.9 0.9 11.3 1 76 0.9 6.6 0.9 2.2 1 -1.4 0.9 -27.1 1 -6.7 0.9 -3 1 8.8 0.9 -3.4 1 4.1 0.9 2 0.9 27.8 1 -4.3 0.9 5.7 1 -9.1 0.9 -34.9 1 -1.9 0.9 -0.4 1 8.9 0.9 65.8 0.9 -2.5 1 12.8 0.9 0.2 1 -12.6 0.9 1.4 1 -68.7 0.9 0.3 0.9 -12.1 1 15.2 0.9 4.5 1 50 0.9 2.6 1 10 0.9 -1.7 1 -12.1 0.9 -20.5 0.9 -2.5 1 -4.9 0.9 -6.2 1 7.7 0.9 -5.8 1 -7.1 0.9 -1.7 1 5.2 0.9 5.6 0.9 -3.4 1 30 0.9 -1.2 1 2.2 0.9 -3.3 1 -2.3 0.9 -16.7 0.9 2.9 1 -3.6 0.9 -2.3 1 0.5 0.9 17.1 1 6.1 0.9 -2.5 1 2.4 0.9 -5.4 0.9 -14.7 1 8.7 0.9 7.7 1 -0.4 0.9 0.3 1 43.1 0.9 1.6 1 3.5 0.9 -3.8 0.9 2.5 1 -12.3 0.9 -0.4 1 -5.1 0.9 3 1 -37.2 0.9 2.6 0.9 -5.4 1 8.5 0.9 -7.9 1 1.9 0.9 34.6 1 7 0.9 -6.1 1 0.1 0.9 -2.6 0.9 4.6 1 -28.5 0.9 -0.9 1 -4.7 0.9 -0.6 1 0.6 0.9 3.3 1 2 0.9 -6.4 0.9 0.2 1 0.8 0.9 -0.9 1 -0.4 0.9 2 1 29.4 0.9 -3.4 0.9 -24.9 1 -3.5 0.9 1 1 -7.5 0.9 23.1 1 2.7 0.9 6.4 1 1.8 0.9 14.6 0.9 2.9 1 0 0.9 -0.6 1 -10.2 0.9 -1.5 1 1.6 0.9 31.6 1 2.3 0.9 6.7 0.9 -5.2 1 -43 0.9 7.9 1 -8.3 0.9 -4.3 1 17.1 0.9 -5.1 0.9 -2 1 13.4 0.9 28.2 1 1.8 0.9 -2 1 -13.7 0.9 -3.8 1 -2.5 0.9 9.2 0.9 14.8 1 -0.2 0.9 2.7 1 -4.3 0.9 -18.5 1 -1.1 0.9 -0.7 1 10.8 0.9 24.6 0.9 2.5 1 -0.3 0.9 -0.1 1 -7.7 0.9 -47.6 1 -6.8 0.9 -5.5 0.9 8.2 1 17.5 0.9 -0.1 1 12.9 0.9 -7.6 1 -41.5 0.9 -0.8 1 -11 0.9 8.4 0.9 32.7 1 -1.2 0.9 13.3 1 -5.7 0.9 -8.8 1 9.8 0.9 -36.7 1 -1 0.9 -7.8 0.9 4.2 1 -1.4 0.9 6.5 1 -0.5 0.9 35 1 4.1 0.9 -0.4 0.9 1.7 1 -0.7 0.9 -6.5 1 2.7 0.9 -36 1 -5.7 0.9 -1.1 1 -8 0.9 -0.8 0.9 5.5 1 60 0.9 -1.1 1 5.9 0.9 -9.4 1 -27.8 0.9 0.1 1 1.1 0.9 -3 0.9 -2.5 1 -23.7 0.9 -1.8 1 -1.5 0.9 4 1 30.4 0.9 4.2 0.9 0.2 1 -2.8 0.9 -34.8 1 -5.1 0.9 3.1 1 -1.5 0.9 -2.4 1 9.7 0.9 46.9 0.9 -3.8 1 -1.1 0.9 -2.5 1 -2.4 0.9 4.4 1 -68.1 0.9 -4.5 1 1.4 0.9 -5.8 0.9 2.8 1 -1.4 0.9 14.6 1 -8.9 0.9 8.2 1 4 0.9 4.7 0.9 41 1 2.7 0.9 -1.1 1 -1.7 0.9 -6.6 1 -71 0.9 -10.6 1 3 0.9 0.3 0.9 0 1 41.5 0.9 0.1 1 5.1 0.9 0.1 1 4.2 0.9 -0.4 1 33.2 0.9 5.1 0.9 -6.5 1 -26.4 0.9 2.8 1 -3.6 0.9 -1.1 1 19.4 0.9 7.2 0.9 -7.6 1 3.8 0.9 -4.5 1 -32.2 0.9 0.6 1 -1.2 0.9 2.7 1 -2.7 0.9 31 0.9 0.4 1 -2 0.9 1 1 -33.3 0.9 -2.4 1 -0.9 0.9 -0.5 1 -2.9 0.9 2.5 0.9 -4.6 1 9.4 0.9 30.3 1 11.9 0.9 -6.8 1 -37.1 0.9 -4.6 0.9 -11 1 4.6 0.9 -9.2 1 0 0.9 4.3 1 14 0.9 72.2 1 17.4 0.9 -8.1 0.9 -4.3 1 -67.5 0.9 -8.5 1 11.8 0.9 5.3 1 60.2 0.9 -1.6 1 6.6 0.9 0.2 0.9 -6.7 1 -22.9 0.9 -3.1 1 -4.6 0.9 1.2 1 2.4 0.9 9.2 0.9 -3.3 1 -0.9 0.9 -39.7 1 3.3 0.9 -10.3 1 6.4 0.9 -0.7 1 -0.5 0.9 -11.9 0.9 1.8 1 3.6 0.9 6.4 1 24.3 0.9 4.3 1 -5.6 0.9 7.6 1 4.4 0.9 1.8 0.9 21.6 1 8.3 0.9 -2 1 -1.3 0.9 -29.5 1 -1 0.9 3.4 0.9 -1 1 -55.8 0.9 -17.6 1 2.1 0.9 7.6 1 -4.9 0.9 -14.1 1 8.1 0.9 -8.8 0.9 0.1 1 1.8 0.9 10.7 1 1.5 0.9 -0.4 1 6.9 0.9 -0.4 1 24.7 0.9 10.1 0.9 -2.8 1 5.3 0.9 -1.1 1 38.6 0.9 5.4 1 -1.8 0.9 -9 0.9 -2.5 1 -51.4 0.9 -9.8 1 3 0.9 5.7 1 51.9 0.9 1 1 8.2 0.9 -8.6 0.9 5.4 1 -24 0.9 -5.1 1 2.1 0.9 -7.1 1 -8.1 0.9 6.4 1 -2.5 0.9 29.3 0.9 4.9 1 -0.9 0.9 9.4 1 -3.9 0.9 3 1 0.2 0.9 4.4 0.9 -1.4 1 -27 0.9 -7.4 1 3.5 0.9 10.5 1 -1 0.9 8.4 1 41.1 0.9 7.6 0.9 -4.2 1 -5.3 0.9 1.3 1 -54.6 0.9 -0.6 1 -9.4 0.9 2.5 1 7.1 0.9 30.9 0.9 -3.2 1 6.1 0.9 -1.2 1 -0.1 0.9 -4 1 -0.1 0.9 3.2 0.9 17.1 1 -2.2 0.9 -1 1 -1.3 0.9 -19.6 1 -13 0.9 4.1 1 10.1 0.9 37.7 0.9 10.9 1 0.7 0.9 -3.3 1 -26.3 0.9 1.8 1 -3.2 0.9 3.9 1 28.4 0.9 7.4 0.9 9 1 -6.8 0.9 -21.1 1 -5.6 0.9 9.6 1 -0.1 0.9 26.9 0.9 13 1 -2.7 0.9 1.7 1 -7.1 0.9 -41 1 -0.9 0.9 5.3 1 -4.1 0.9 30.5 0.9 5.5 1 0.1 0.9 8.3 1 -0.5 0.9 6 1 -2.4 0.9 28.4 1 -1.7 0.9 6.4 0.9 4.3 1 15 0.9 -2.6 1 -7.4 0.9 -12.5 1 -10.7 0.9 9.2 0.9 -7 1 5.2 0.9 -8.3 1 -5 0.9 14.8 1 27.4 0.9 11 1 -11.1 0.9 6.4 0.9 21.2 1 18.4 0.9 -22.3 1 10.9 0.9 10.3 1 -8.3 0.9 8.5 1 -10.6 0.9 13.7 0.9 -3.1 1 23.6 0.9 3.7 1 -3.6 0.9 -9.5 1 8.8 0.9 -2 0.9 -2.8 1 -0.2 0.9 14.5 1 5.1 0.9 -5.5 1 -2.8 0.9 8.3 1 -6.1 0.9 -15.2 0.9 -2.3 1 0.5 0.9 -2.5 1 26.3 0.9 -3.8 1 0.6 0.9 18.2 1 7.5 0.9 -0.9 0.9 0.3 1 4.3 0.9 -11.1 1 0.8 0.9 -8 1 6.9 0.9 2 0.9 14.8 1 2 0.9 -4.5 1 5.5 0.9 -6.4 1 0.8 0.9 -4.4 1 5.8 0.9 -8.3 0.9 13.1 1 -2.9 0.9 2.4 1 -4 0.9 -12 1 1.4 0.9 -0.7 1 -1.8 0.9 35.2 0.9 -1.6 1 2.3 0.9 -2 1 -15.3 0.9 -6.1 1 3.7 0.9 2 0.9 -23.4 1 3.5 0.9 -10.5 1 -23.7 0.9 -11.3 1 13.1 0.9 28 1 5.1 0.9 -0.6 0.9 4.4 1 5.1 0.9 2.9 1 -7.8 0.9 3.7 1 19.3 0.9 -2.1 1 6.1 0.9 -5.5 0.9 -10.1 1 -1.9 0.9 -4 1 -0.7 0.9 -18.4 1 -9.3 0.9 3.5 0.9 -5.5 1 -20 0.9 10.2 1 -10.7 0.9 -6.6 1 -11.8 0.9 -3.5 1 6.2 0.9 -0.4 0.9 -14 1 -2.2 0.9 6.4 1 -28.5 0.9 -4.2 1 -2.2 0.9 -9.2 1 -13.8 0.9 -3.9 0.9 9.4 1 -23.3 0.9 8.6 1 2.2 0.9 10.7 1 10.3 0.9 6.3 0.9 -40.1 1 -2.6 0.9 -3.2 1 -2.2 0.9 -1.9 1 12.9 0.9 -12.8 1 -0.9 0.9 0.7 0.9 -36.2 1 -8.1 0.9 13 1 -0.8 0.9 -38.5 1 -7.6 0.9 4.9 1 13.5 0.9 40.3 0.9 -9.2 1 3.1 0.9 -6.7 1 -38.7 0.9 4.4 1 3.6 0.9 -48.4 0.9 -8.2 1 -6.2 0.9 5.7 1 28.9 0.9 4.9 1 4.9 0.9 -15.3 1 -29.2 0.9 -7.7 0.9 7.7 1 44.5 0.9 2.4 1 -5.5 0.9 -5.3 1 -21.2 0.9 10.3 1 -15.2 0.9 -77.6 0.9 -4.8 1 -8 0.9 8.1 1 13.4 0.9 -3 1 11.7 0.9 0.2 0.9 47.3 1 6.4 0.9 5.3 1 -11.5 0.9 -6 1 -0.5 0.9 6 1 -22.1 0.9 -75.3 0.9 -11.3 1 -5.3 0.9 6.6 1 58.1 0.9 -2.6 1 2.7 0.9 -3.2 1 -70.4 0.9 -7.8 0.9 7.4 1 14.6 0.9 86.6 1 6.8 0.9 -1.4 1 2.5 0.9 -13.5 0.9 -6.2 1 -1.5 0.9 -5.7 1 -77.4 0.9 2.9 1 -3.7 0.9 -23.2 1 -5.9 0.9 12.4 0.9 61.1 1 17 0.9 -5.7 1 -18.9 0.9 -9 1 2.2 0.9 46.1 1 5.5 0.9 -2.1 0.9 0.1 1 -72.5 0.9 -3.8 1 4.1 0.9 -2.9 1 58.2 0.9 11.6 0.9 2.5 1 -10 0.9 -28.1 1 3.1 0.9 -0.8 1 -27.2 0.9 -5.8 1 1.5 0.9 5.3 0.9 25 1 2.5 0.9 11.5 1 23 0.9 9.4 1 -5.4 0.9 -9.7 1 2.4 0.9 3.2 0.9 -5.3 1 41 0.9 3.5 1 -3.3 0.9 2.4 1 -54.3 0.9 7.5 0.9 -5.7 1 -2.6 0.9 5.1 1 -8.3 0.9 5.2 1 -5.6 0.9 37.6 1 -6.8 0.9 8.3 0.9 -0.8 1 -22.4 0.9 -4.2 1 -0.4 0.9 41.3 1 4.1 0.9 10.4 1 -5.2 0.9 35.3 0.9 -7.4 1 4.9 0.9 2.2 1 -50.6 0.9 3.1 1 0.2 0.9 28.3 0.9 -1.7 1 4.7 0.9 -2.9 1 2.4 0.9 -27.2 1 -7.4 0.9 -0.1 1 0.4 0.9 5.9 0.9 43.3 1 2.9 0.9 -4.3 1 -30.1 0.9 0.5 1 -0.6 0.9 -4.1 1 0.6 0.9 1.9 0.9 3.8 1 28.6 0.9 5.1 1 4 0.9 21 1 2.2 0.9 -5.9 0.9 -34.4 1 -11.3 0.9 4.8 1 4.5 0.9 -19.5 1 -3.9 0.9 5.4 1 15.2 0.9 -5.8 0.9 -39 1 -3.1 0.9 7.4 1 64.3 0.9 13.5 1 -6.5 0.9 -30.7 1 -1.6 0.9 -1.2 0.9 -4.9 1 2.9 0.9 7.1 1 21.3 0.9 2.3 1 0.6 0.9 -20.7 0.9 -1.4 1 2.4 0.9 -1.3 1 8.1 0.9 -6.9 1 9.1 0.9 -0.6 1 -3 0.9 4.9 0.9 23.4 1 -2.3 0.9 4.3 1 -0.3 0.9 -18.6 1 1.2 0.9 -4.9 1 -1.3 0.9 -15.9 0.9 -1.4 1 0.5 0.9 7.3 1 5.3 0.9 -2.4 1 2.1 0.9 2.2 0.9 -13.5 1 5.9 0.9 -3.9 1 4.8 0.9 -1.5 1 9.9 0.9 2.7 1 -0.4 0.9 2.1 0.9 8.3 1 2 0.9 1.5 1 1.2 0.9 12.4 1 8.6 0.9 -10.8 1 11.5 0.9 -9.8 0.9 4.9 1 5.7 0.9 -9.8 1 15 0.9 10.2 1 1.4 0.9 -0.6 0.9 -14.5 1 0.7 0.9 37.8 1 -3 0.9 -3.6 1 -6.3 0.9 2.6 1 -4 0.9 19.5 0.9 2.8 1 20.1 0.9 -4.7 1 -7.9 0.9 9.1 1 35.5 0.9 -8 1 -18.5 0.9 10.1 0.9 22.8 1 1.1 0.9 12.8 1 6.3 0.9 -9.3 1 8.1 0.9 15 0.9 16.4 1 26.4 0.9 -7.5 1 -4 0.9 21.7 1 -7.9 0.9 31.6 1 -17.1 0.9 9.9 0.9 10.2 1 3 0.9 5.8 1 -5.7 0.9 15.6 1 -18.1 0.9 32.2 1 -6.9 0.9 38.5 0.9 -22 1 27.5 0.9 -7.9 1 -9.7 0.9 16.6 1 -2 0.9 4 0.9 7.1 1 3.6 0.9 0.3 1 10.5 0.9 5.1 1 8.2 0.9 -1.9 1 28.2 0.9 30.4 0.9 -4.8 1 -8 0.9 -19.5 1 15.7 0.9 4.1 1 -16.2 0.9 44.9 1 3.3 0.9 1.3 0.9 -4.2 1 21.9 0.9 6.8 1 -18.5 0.9 18.5 1 3.3 0.9 7.1 0.9 -7.1 1 -6.9 0.9 1.1 1 -3.4 0.9 -22.6 1 42.1 0.9 17.9 1 42.2 0.9 9.7 0.9 -36.7 1 7.1 0.9 -0.3 1 -16.7 0.9 -2.6 1 10.8 0.9 0.3 1 23.4 0.9 16.2 0.9 3.5 1 6.3 0.9 -7.4 1 7 0.9 -1.2 1 -8.6 0.9 6.6 0.9 -9 1 19.1 0.9 9.4 1 1.5 0.9 2.9 1 29.2 0.9 -3.9 1 8.3 0.9 19.3 0.9 -1 1 -3.4 0.9 -41.3 1 -3.3 0.9 -0.3 1 -19.9 0.9 3.2 1 -9 0.9 -11 0.9 -3.4 1 23.1 0.9 82.1 1 3.2 0.9 -5.4 1 -40.9 0.9 6.9 0.9 3.9 1 -9.6 0.9 -3.1 1 -4.3 0.9 6.8 1 6.2 0.9 59.4 1 -11.3 0.9 6.3 0.9 17.3 1 -3.6 0.9 1.6 1 -34.9 0.9 3.4 1 -5.6 0.9 27.2 1 -0.3 0.9 -1.9 0.9 10 1 1.5 0.9 -1.7 1 -3.1 0.9 -41.5 1 -4.3 0.9 -2.3 0.9 5.3 1 55.6 0.9 9.6 1 -11 0.9 -51.7 1 -3.5 0.9 -3.7 1 -5.8 0.9 -6.7 0.9 61.4 1 5.6 0.9 -11.5 1 6.1 0.9 -41.3 1 -7.6 0.9 8.8 1 30.3 0.9 2.6 0.9 -13.3 1 -54 0.9 1.4 1 5.8 0.9 50.2 1 16.7 0.9 -3.5 0.9 -23.9 1 -4.9 0.9 2.3 1 -1 0.9 -7 1 3.5 0.9 -10.7 1 37.9 0.9 -5.2 0.9 -11.6 1 -10.6 0.9 4.3 1 -1.8 0.9 -33.1 1 -8.2 0.9 -27.8 1 -9.2 0.9 -14.5 0.9 -37.6 1 25.8 0.9 30.3 1 -17.1 0.9 -43.3 1 2.2 0.9 -38.9 0.9 67.1 1 -27.5 0.9 8.5 1 -24.4 0.9 -28 1 -73.8 0.9 9.1 1 -17.2 0.9 37.9 0.9 10.2 1 -43.5 0.9 -9.1 1 -10.9 0.9 70.7 1 3.6 0.9 -15.6 1 -57.5 0.9 -7 0.9 -6.5 1 3.2 0.9 -55.6 1 9.3 0.9 49.6 1 -5.4 0.9 -6.5 0.9 -5.8 1 -1.6 0.9 0.1 1 -19.9 0.9 -2.9 1 -2.7 0.9 40.6 1 18 0.9 0.4 0.9 -15.8 1 -23.2 0.9 -3 1 -15.4 0.9 13.6 1 -36.6 0.9 -0.9 1 -49.3 0.9 -10.8 0.9 -39.2 1 10.4 0.9 27.6 1 11.7 0.9 2.8 1 -14.9 0.9 -47.3 0.9 6.9 1 -7.4 0.9 14.1 1 -34.9 0.9 -2.4 1 -3.3 0.9 65.7 1 -5.6 0.9 -1.1 0.9 2.2 1 -19.4 0.9 -4.8 1 6.8 0.9 -6.2 1 17.5 0.9 -5 1 4.8 0.9 -4.7 0.9 -31.6 1 -5.6 0.9 -4.8 1 3.5 0.9 -27.8 1 -3.5 0.9 10.6 0.9 -3 1 14 0.9 6 1 -0.9 0.9 -4 1 12.7 0.9 8.1 1 -8.3 0.9 0.8 0.9 -14.1 1 -4.2 0.9 0.4 1 3.3 0.9 32.7 1 8.9 0.9 -15.4 1 2.6 0.9 -51 0.9 -8.2 1 -3.5 0.9 3.7 1 33.4 0.9 5.4 1 -2 0.9 -1.1 0.9 -34.1 1 2.2 0.9 -1.6 1 3.1 0.9 21.9 1 1.3 0.9 -4.2 1 -39 0.9 -6.7 0.9 0.5 1 9.6 0.9 56.7 1 8.4 0.9 -4.5 1 -4.6 0.9 -33.4 1 -7.5 0.9 2.9 0.9 -5.4 1 -0.1 0.9 15.8 1 7.2 0.9 -10.7 1 -3 0.9 -4.5 0.9 3.5 1 -4.1 0.9 12.3 1 31.3 0.9 -8.4 1 13.4 0.9 -7.3 1 -4.4 0.9 -12 0.9 6.7 1 3.4 0.9 -8.1 1 33.9 0.9 0.3 1 9.4 0.9 -6.4 1 -28 0.9 -8.3 0.9 3.2 1 -5.5 0.9 11 1 -5.9 0.9 10.5 1 -4.4 0.9 32.8 0.9 -7.6 1 -3.9 0.9 16 1 -0.6 0.9 12.6 1 20.5 0.9 -7.1 1 -0.4 0.9 4.2 0.9 -7.8 1 2.5 0.9 5.1 1 3.7 0.9 11.5 1 -5.9 0.9 8.1 1 -3.3 0.9 -5.9 0.9 13.3 1 34.1 0.9 -10.9 1 7.9 0.9 0.6 1 3.4 0.9 0.4 0.9 -4.8 1 13.7 0.9 -0.4 1 7.6 0.9 12.6 1 18.2 0.9 3.4 1 16.8 0.9 0.8 0.9 2.6 1 -17.4 0.9 -9.1 1 14.4 0.9 -6.8 1 31.8 0.9 -4.1 1 4.5 0.9 33.9 0.9 -22.4 1 26.7 0.9 -2.2 1 -5.7 0.9 -5.7 1 1.7 0.9 -5.2 0.9 21.7 1 6.1 0.9 -0.6 1 -3.6 0.9 37.6 1 -5.3 0.9 2.6 1 -5.2 0.9 -19.9 0.9 0.4 1 53.1 0.9 -19.6 1 36.4 0.9 10.1 1 -14.2 0.9 19.1 1 0.4 0.9 -3.3 0.9 -5.9 1 0.8 0.9 -0.4 1 29.6 0.9 -5.7 1 7 0.9 4.5 0.9 -1.1 1 5.3 0.9 -3.1 1 -17.3 0.9 5.9 1 -3.7 0.9 10.4 1 2.2 0.9 5.9 0.9 38.3 1 -4.9 0.9 5.8 1 -25.5 0.9 -0.3 1 -1.4 0.9 43.2 1 0.8 0.9 0 0.9 -41.1 1 -6.2 0.9 3 1 -0.1 0.9 -6.8 1 -0.7 0.9 -0.9 0.9 -23.7 1 -7.5 0.9 1.3 1 -19.8 0.9 -3.7 1 9.6 0.9 32.6 1 11 0.9 -8.6 0.9 -17.8 1 -7.3 0.9 2 1 -4 0.9 11.6 1 1.3 0.9 -5.4 1 13.1 0.9 -14.4 0.9 -9.8 1 -9.1 0.9 -9.4 1 -15.2 0.9 9.5 1 -2.2 0.9 17.4 0.9 7.2 1 -26.6 0.9 2.9 1 -11.5 0.9 -19.7 1 -2.5 0.9 32.1 1 -10.2 0.9 -17.9 0.9 1 1 -7.5 0.9 -72.6 1 -4.4 0.9 -19.2 1 -2.8 0.9 1.9 1 0.9 0.9 -17.6 0.9 -2.5 1 18.3 0.9 -11.5 1 12.2 0.9 -44 1 16.7 0.9 0 0.9 27.9 1 -14.1 0.9 9.4 1 -46.7 0.9 -4.4 1 -7.3 0.9 -1 1 -19.4 0.9 -6.4 0.9 -2.6 1 -28.5 0.9 -7.8 1 -5.9 0.9 62.7 1 11.3 0.9 -2.2 1 -1.1 0.9 -53.2 0.9 -6.2 1 -3.3 0.9 10.6 1 8.8 0.9 0.5 1 2.4 0.9 -36.2 0.9 -7.3 1 1 0.9 -42.1 1 4 0.9 -2.9 1 -4.5 0.9 30.3 1 12.8 0.9 -2.4 0.9 -3.8 1 -22.8 0.9 -2.9 1 -0.3 0.9 17 1 -0.6 0.9 -3.8 1 46.6 0.9 2.1 0.9 -3 1 3.8 0.9 -27.8 1 -5.4" stroke="#231f20" stroke-width="5.0"/>
<path d="M187.5 423.9l0.9 -0.9 1 -23.6 0.9 7.7 1 -10.3 0.9 3.4 1 14 0.9 -3.3 1 1.4 0.9 -0.2 0.9 -2.2 1 3.6 0.9 -5.9 1 -3 0.9 3.2 1 -3 0.9 1.6 0.9 4.8 1 8.4 0.9 3 1 -2 0.9 2 1 3.9 0.9 -2.9 1 1.6 0.9 -0.4 0.9 -7.7 1 -2.1 0.9 -1.4 1 1.8 0.9 -13.1 1 4.7 0.9 -10.8 1 6.4 0.9 7.3 0.9 3.1 1 -2.2 0.9 -4.9 1 -15.1 0.9 -0.1 1 -3.7 0.9 3 0.9 -5.8 1 18.6 0.9 0.1 1 -3.7 0.9 3.5 1 10.2 0.9 -1.1 1 3.3 0.9 0.7 0.9 -19.9 1 -1.6 0.9 -0.7 1 2.3 0.9 12.8 1 -3.7 0.9 3.7 1 -1.7 0.9 -13 0.9 2.7 1 -0.2 0.9 -7.7 1 0 0.9 -5.9 1 6.1 0.9 7.9 0.9 -1 1 6 0.9 1.7 1 8.1 0.9 4.9 1 -2 0.9 2.3 1 10.4 0.9 7.8 0.9 -8.4 1 4 0.9 -13.9 1 -8.7 0.9 3.6 1 -0.3 0.9 1.7 1 -6.5 0.9 -4.7 0.9 -2.5 1 8 0.9 11.3 1 -3.1 0.9 2.3 1 -1.1 0.9 -12.2 0.9 -2.1 1 2.7 0.9 -6.6 1 19.5 0.9 -0.4 1 -1.3 0.9 2.3 1 -21.1 0.9 7.2 0.9 -1.6 1 11.4 0.9 6 1 -2.5 0.9 4.8 1 -15.4 0.9 -4.9 1 -1.7 0.9 2.1 0.9 24.3 1 1.2 0.9 0.9 1 0.7 0.9 -0.7 1 -2.1 0.9 -23.9 0.9 -2.1 1 6.3 0.9 -9.6 1 2.3 0.9 16 1 -0.8 0.9 3 1 2.1 0.9 2.2 0.9 10.4 1 -3.2 0.9 5 1 -10.1 0.9 3.8 1 -1.2 0.9 -1.5 1 3.1 0.9 -2 0.9 3 1 -5.1 0.9 7 1 13.4 0.9 0.3 1 -3.5 0.9 1.2 0.9 -22.4 1 -3 0.9 9.1 1 -2.7 0.9 3 1 4.1 0.9 3.8 1 1 0.9 0.8 0.9 9.2 1 0.4 0.9 -3.3 1 8 0.9 13.1 1 3.1 0.9 -4 1 4.4 0.9 -15 0.9 -2.7 1 4.8 0.9 -3.2 1 6.2 0.9 4.6 1 -0.4 0.9 -3.4 0.9 -25.1 1 2.2 0.9 -5 1 2.9 0.9 -7.6 1 22.7 0.9 2.2 1 -1.7 0.9 -1 0.9 1.8 1 -16.3 0.9 -2.2 1 3.4 0.9 0.3 1 -2.8 0.9 -5.6 1 2.2 0.9 0.5 0.9 -0.7 1 -4 0.9 16.7 1 3.4 0.9 0.9 1 0.1 0.9 -9.1 0.9 -5.4 1 0.4 0.9 -0.9 1 8.3 0.9 5.4 1 1.6 0.9 2 1 -2.4 0.9 -0.6 0.9 16.3 1 2.2 0.9 3.9 1 -2.9 0.9 -18.4 1 3 0.9 0.4 1 3.6 0.9 3.5 0.9 -5.5 1 4.1 0.9 -15.2 1 -3.9 0.9 2.7 1 3.5 0.9 -0.8 0.9 20.7 1 1.8 0.9 -2.4 1 1.7 0.9 5.2 1 -14.7 0.9 -3.4 1 2.1 0.9 -2.5 0.9 16.9 1 -0.9 0.9 2.1 1 -1.1 0.9 -8.1 1 0.8 0.9 -1.7 1 -1 0.9 0.3 0.9 17.5 1 -3.1 0.9 10.4 1 -12.8 0.9 0.2 1 -48.1 0.9 -5.7 0.9 5 1 1.6 0.9 20.1 1 3 0.9 -4.9 1 -11.8 0.9 0.1 1 -1.1 0.9 1.1 0.9 15.3 1 -0.2 0.9 1.2 1 -4.9 0.9 15.3 1 1.7 0.9 -1.2 1 -0.6 0.9 -14.5 0.9 -6.3 1 0.8 0.9 -2.4 1 14.5 0.9 2.4 1 -0.4 0.9 2.9 0.9 1.6 1 2.3 0.9 -3.5 1 -1.9 0.9 -11.1 1 -2.3 0.9 1.1 1 2 0.9 2.5 0.9 28 1 2.7 0.9 -0.2 1 -3.9 0.9 -7 1 -8.7 0.9 -2 1 6.3 0.9 5.1 0.9 0.2 1 0.7 0.9 -5.1 1 -8.5 0.9 5 1 -1.4 0.9 -5.3 0.9 -3.1 1 -8.4 0.9 0.3 1 1.3 0.9 -9.8 1 3.3 0.9 3.7 1 29.5 0.9 6.1 0.9 0.3 1 -4.3 0.9 1.1 1 2.1 0.9 -0.6 1 -2.8 0.9 -16.2 1 -1.7 0.9 -4.9 0.9 2.9 1 -12.8 0.9 -0.7 1 6.1 0.9 -2.1 1 12.2 0.9 3 0.9 0.2 1 3.7 0.9 8.2 1 3.9 0.9 4 1 -34.7 0.9 -8.3 1 4.9 0.9 1.6 0.9 22.2 1 -1.4 0.9 -0.2 1 5.8 0.9 -1.2 1 -5.7 0.9 15.7 1 -1.9 0.9 3.9 0.9 -3.2 1 2.1 0.9 -9.2 1 0.2 0.9 -2.2 1 -0.3 0.9 8 0.9 2.1 1 -0.1 0.9 1.6 1 -17.5 0.9 -0.9 1 2.5 0.9 -4.8 1 5.1 0.9 -2.5 0.9 1.8 1 3.2 0.9 -12 1 2 0.9 -6.8 1 0.6 0.9 18.8 1 -2.8 0.9 9.9 0.9 -3.2 1 -15 0.9 1.8 1 -1.4 0.9 3.3 1 7.5 0.9 3.3 0.9 1.8 1 -5.3 0.9 -13 1 3.3 0.9 -2.3 1 4.3 0.9 7.4 1 3.5 0.9 -1.3 0.9 -3.9 1 -30.4 0.9 0.4 1 1.1 0.9 -2.5 1 -0.7 0.9 20.3 1 0.2 0.9 -1.8 0.9 5.5 1 16 0.9 -4 1 -2.4 0.9 -0.7 1 3 0.9 -2.7 0.9 -1.3 1 0.7 0.9 -22.9 1 -4.5 0.9 -1.3 1 2.1 0.9 12.9 1 3.6 0.9 -5.5 0.9 -12.8 1 -5.8 0.9 -1.6 1 4.4 0.9 7.3 1 4.6 0.9 2.2 1 5.8 0.9 18 0.9 6.9 1 -4.4 0.9 1.4 1 -12.7 0.9 3.7 1 -5.1 0.9 0.1 0.9 -21.9 1 -3.4 0.9 1.4 1 3.1 0.9 -7.2 1 -1.5 0.9 1.9 1 -8.4 0.9 -6.1 0.9 2.5 1 14.5 0.9 -0.1 1 2.7 0.9 2 1 -4.8 0.9 -0.4 1 2.1 0.9 -0.2 0.9 17.1 1 1.8 0.9 1.4 1 8.2 0.9 0.9 1 2.1 0.9 0.5 0.9 -6.6 1 -21.3 0.9 -5.4 1 -5.4 0.9 7.2 1 23 0.9 4.3 1 3.4 0.9 3.6 0.9 -7.8 1 -13.4 0.9 0.3 1 -1.5 0.9 0.3 1 -0.9 0.9 14.9 1 3.3 0.9 -3.3 0.9 0.4 1 -11.2 0.9 5 1 -5.2 0.9 23 1 -4.7 0.9 0.1 0.9 -2.4 1 -10.4 0.9 -0.1 1 -3.3 0.9 17.5 1 0.2 0.9 0.9 1 1.6 0.9 8.3 0.9 -6 1 -1.2 0.9 4.3 1 -22.7 0.9 0.1 1 -7.8 0.9 2.3 1 7.9 0.9 11.1 0.9 5.7 1 -1.6 0.9 0.7 1 -5.3 0.9 6.1 1 -7.8 0.9 2.6 0.9 9.5 1 6 0.9 -1.6 1 0.3 0.9 -2.3 1 -6.9 0.9 0.1 1 2 0.9 -1.9 0.9 5.9 1 6.8 0.9 -4.9 1 -23.6 0.9 0 1 0 0.9 30.5 1 -3.4 0.9 -2.8 0.9 6.6 1 4.9 0.9 6 1 -2.5 0.9 -4.6 1 5.1 0.9 -1.2 0.9 1.8 1 1.6 0.9 10.2 1 6.8 0.9 -3.6 1 -1.6 0.9 -16.7 1 1.3 0.9 -7.8 0.9 6.3 1 -7.6 0.9 27.8 1 -0.8 0.9 1.8 1 -3.2 0.9 -8.7 1 -0.2 0.9 0.5 0.9 3.8 1 23.8 0.9 -5.2 1 1.1 0.9 -5.4 1 -16.7 0.9 7.5 0.9 -6.5 1 3 0.9 17.4 1 3.7 0.9 -2.1 1 2 0.9 -24.5 1 -6 0.9 5.5 0.9 1.9 1 17 0.9 3.1 1 -1.1 0.9 4.3 1 -25.7 0.9 -3.4 1 2.7 0.9 -5.7 0.9 6.9 1 12.5 0.9 -1.9 1 1.1 0.9 -0.9 1 -2.2 0.9 -3.8 0.9 -4.1 1 0.4 0.9 8.8 1 0.7 0.9 -1.2 1 3.4 0.9 6.5 1 3.9 0.9 -0.9 0.9 -0.8 1 6.4 0.9 -2 1 5.1 0.9 -0.6 1 -1.3 0.9 12.5 1 -1 0.9 7.6 0.9 -6 1 0.8 0.9 -2.3 1 -27.5 0.9 0.2 1 -2.6 0.9 1.5 0.9 1.1 1 12.9 0.9 1.2 1 -3.1 0.9 -1.1 1 -7.9 0.9 -1.4 1 -1.7 0.9 7 0.9 10 1 0.8 0.9 -2.7 1 1.2 0.9 7.8 1 6.1 0.9 2 1 -2.6 0.9 -23.3 0.9 -4.9 1 2.9 0.9 1 1 11.5 0.9 1 1 -4.4 0.9 -1.9 0.9 -23.3 1 -3.1 0.9 -2.6 1 -5.9 0.9 -5.8 1 3 0.9 -1.7 1 3.5 0.9 10.5 0.9 2.6 1 3.1 0.9 1.1 1 12.8 0.9 3.1 1 1.5 0.9 0.9 1 1.2 0.9 3.7 0.9 -0.3 1 -0.8 0.9 -3.9 1 -4.8 0.9 -6.5 1 2 0.9 -6.7 0.9 2.9 1 -12.9 0.9 -3 1 3.7 0.9 4.5 1 -6.9 0.9 11.4 1 7.3 0.9 -2.1 0.9 -2.7 1 -3 0.9 -0.8 1 -1.8 0.9 3.3 1 -6.1 0.9 1.8 1 -0.4 0.9 0.3 0.9 3.2 1 -0.6 0.9 -3.7 1 1.4 0.9 -0.4 1 2.8 0.9 -2.7 0.9 -3.1 1 -5.8 0.9 0 1 1.8 0.9 1.4 1 5.9 0.9 -1.8 1 -1.8 0.9 1.8 0.9 -11.6 1 -2.1 0.9 1.6 1 0.6 0.9 1.4 1 -0.6 0.9 -1.7 1 5.7 0.9 -4.4 0.9 3.9 1 -14.9 0.9 0.3 1 -2.6 0.9 10.2 1 -0.5 0.9 1.6 0.9 -1.8 1 0 0.9 -6.8 1 -2.5 0.9 -1 1 3 0.9 -6.1 1 10 0.9 1.4 0.9 -7.2 1 4 0.9 -4.8 1 -11.8 0.9 2.3 1 2.8 0.9 0.6 1 -2.8 0.9 -1.3 0.9 1.2 1 -0.6 0.9 0.4 1 -2 0.9 5 1 0.5 0.9 6.1 0.9 -3.3 1 3.6 0.9 1 1 1 0.9 -2.9 1 -4.1 0.9 -4.1 1 0.6 0.9 0.3 0.9 -2.8 1 -1.5 0.9 0.6 1 -12.4 0.9 0.3 1 -2.6 0.9 2.4 1 -2.9 0.9 14 0.9 -1.5 1 -2.6 0.9 2.9 1 1 0.9 -2.8 1 4.6 0.9 -0.8 0.9 2 1 -3.5 0.9 3.4 1 0.8 0.9 -4.8 1 0.4 0.9 -0.8 1 34.7 0.9 -37.4 0.9 -5 1 -1.6 0.9 -5 1 -0.3 0.9 2.3 1 2.9 0.9 10.2 1 -2.8 0.9 -3.9 0.9 -4.4 1 -3.4 0.9 -2.2 1 -3.2 0.9 5.8 1 -1.7 0.9 6.6 0.9 -3.3 1 7.5 0.9 -3.2 1 -10.4 0.9 -2.8 1 0.9 0.9 4.6 1 -1.2 0.9 11.3 0.9 -1.8 1 -1.2 0.9 0.8 1 -2.4 0.9 -9.8 1 1.5 0.9 2.6 1 -2.8 0.9 4.8 0.9 -1.6 1 7.7 0.9 -8.1 1 -0.3 0.9 -12.9 1 3.7 0.9 -0.6 0.9 -4.6 1 3.4 0.9 2.1 1 2.8 0.9 5.5 1 -4 0.9 -3.3 1 -14.6 0.9 1.8 0.9 -3.3 1 -2.2 0.9 7 1 -0.1 0.9 -0.9 1 2 0.9 -4.2 1 10.7 0.9 24.8 0.9 6.7 1 -1.2 0.9 -0.5 1 -19 0.9 -6.2 1 -1.8 0.9 -1.4 0.9 7.3 1 -2.4 0.9 -1.2 1 2.9 0.9 2.2 1 -1.4 0.9 0.2 1 26.1 0.9 -1.3 0.9 0 1 4.4 0.9 -28.8 1 1.6 0.9 -8.3 1 10.2 0.9 -2.7 1 6.1 0.9 -7.2 0.9 -11.4 1 1 0.9 0.7 1 19.2 0.9 5.9 1 0.7 0.9 0.6 0.9 -1.2 1 -1.8 0.9 0.1 1 3.1 0.9 -4.9 1 -4.1 0.9 -5.2 1 -3 0.9 4 0.9 -8.6 1 2.4 0.9 -1.2 1 18.8 0.9 -3.6 1 -3.7 0.9 1.9 1 -0.1 0.9 8.4 0.9 3.2 1 -5 0.9 -3.3 1 4.5 0.9 -7.2 1 -2.6 0.9 1.6 0.9 0.5 1 12.6 0.9 6.1 1 -1.7 0.9 -2.5 1 -8.4 0.9 4.3 1 2.4 0.9 13.2 0.9 -3.4 1 0 0.9 4.6 1 8.7 0.9 1.2 1 -4.5 0.9 -11.1 1 -1.8 0.9 3.7 0.9 -0.1 1 -14 0.9 2.4 1 -0.2 0.9 -2.8 1 2.5 0.9 9.6 0.9 -3.9 1 6.2 0.9 -3.1 1 1.3 0.9 6.8 1 -2.6 0.9 5.2 1 -0.1 0.9 -0.2 0.9 10.9 1 2.3 0.9 -0.6 1 -1.3 0.9 1.2 1 -3.1 0.9 -2.1 1 -2.4 0.9 3.9 0.9 -2.8 1 2.2 0.9 -1.8 1 -1.3 0.9 0.1 1 10.6 0.9 2.6 0.9 -3.8 1 7.6 0.9 13.4 1 -2.2 0.9 -1.7 1 -1 0.9 8.6 1 0.9 0.9 -1.3 0.9 1 1 -9.2 0.9 0.5 1 1.4 0.9 -1.1 1 3.7 0.9 0.2 1 -1 0.9 -0.8 0.9 10.3 1 5.5 0.9 -5.4 1 3.6 0.9 1.2 1 8.4 0.9 -6.2 0.9 4.1 1 5.7 0.9 8.9 1 -8.8 0.9 4.2 1 -4 0.9 5.1 1 -5.1 0.9 3 0.9 -1.3 1 18.4 0.9 2.6 1 4.1 0.9 -10.8 1 -2.9 0.9 -2.2 1 -1.4 0.9 1.5 0.9 7.4 1 -0.5 0.9 0.3 1 -1.6 0.9 4.8 1 2.5 0.9 -3.3 0.9 1.3 1 1.8 0.9 0.9 1 3.9 0.9 -1.2 1 -4.2 0.9 7.8 1 8.3 0.9 1.3 0.9 -1.6 1 1.4 0.9 -2.7 1 -0.1 0.9 2.5 1 -0.1 0.9 3.7 1 0 0.9 2.6 0.9 0.8 1 0.7 0.9 0 1 -0.5 0.9 -5 1 4.1 0.9 -6.1 0.9 2.7 1 15.5 0.9 -2.2 1 -0.7 0.9 0.8 1 -5.8 0.9 0.2 1 1.6 0.9 12.2 0.9 1.9 1 -2.8 0.9 -1.5 1 -3 0.9 3 1 -1 0.9 10.8 1 1 0.9 -1.8 0.9 -0.1 1 -4.8 0.9 0.9 1 0.9 0.9 -1.3 1 10.1 0.9 3.4 0.9 0.2 1 1.5 0.9 -2.7 1 1.4 0.9 -9 1 3.9 0.9 10.7 1 3 0.9 0.3 0.9 -2.1 1 -4 0.9 -3.9 1 0.2 0.9 2 1 0.5 0.9 6.9 1 -5.2 0.9 0.3 0.9 15.2 1 -4.4 0.9 4.2 1 0.1 0.9 -2.2 1 1.8 0.9 -5.6 0.9 -3.9 1 3.6 0.9 -2.8 1 -4.2 0.9 3 1 4.5 0.9 -1.3 1 15.7 0.9 2 0.9 -1.3 1 2.5 0.9 -1.3 1 -4.8 0.9 -8.2 1 0.2 0.9 5 1 6.8 0.9 -2.3 0.9 2.8 1 2.1 0.9 9.9 1 0 0.9 -1.5 1 -21.5 0.9 4.7 0.9 0.7 1 18.2 0.9 3.4 1 -1.1 0.9 -2.9 1 -24.9 0.9 -2.8 1 -4 0.9 9.7 0.9 3.4 1 5.3 0.9 -5.8 1 4.6 0.9 -4.5 1 2.3 0.9 -1.7 1 -0.6 0.9 -3.9 0.9 -14.5 1 1.3 0.9 -9.5 1 5.1 0.9 18 1 2.7 0.9 5.5 0.9 0.1 1 -6.4 0.9 2.9 1 -4.7 0.9 1.8 1 17.3 0.9 2.2 1 -0.2 0.9 -3.3 0.9 -5.6 1 1.9 0.9 -6.1 1 0.3 0.9 -10.6 1 2 0.9 -3.1 1 1.8 0.9 -6.3 0.9 -3.5 1 -3.5 0.9 5 1 5.3 0.9 8.4 1 -1.9 0.9 -4.9 0.9 -13.7 1 -2.9 0.9 5.9 1 -4.4 0.9 -13.5 1 0 0.9 1.3 1 -0.2 0.9 21.7 0.9 2.5 1 -3.7 0.9 3.8 1 -10.9 0.9 -4.7 1 0.7 0.9 -0.9 1 19.4 0.9 3.9 0.9 -2 1 -1.9 0.9 5.9 1 -5.5 0.9 2 1 -0.4 0.9 0 0.9 -0.3 1 -7.9 0.9 -2.8 1 3.3 0.9 -2.4 1 9.3 0.9 -1.8 1 2.3 0.9 -2.4 0.9 5.2 1 -6.5 0.9 -3 1 -3.8 0.9 1.2 1 -10.5 0.9 -6.4 1 3 0.9 -4 0.9 -9.9 1 -2.8 0.9 3.5 1 2.4 0.9 5.2 1 0 0.9 -5.3 0.9 1 1 -22.5 0.9 -1.1 1 4.4 0.9 -1.3 1 27.1 0.9 0.3 1 5.3 0.9 -3.3 0.9 11.1 1 2 0.9 -0.4 1 0.2 0.9 -6.5 1 5.9 0.9 -13.8 1 1.8 0.9 -4.3 0.9 3.5 1 -10.5 0.9 0.1 1 -2.5 0.9 2 1 -1.4 0.9 1.3 0.9 2.6 1 -7.4 0.9 6.3 1 0.9 0.9 8.1 1 3.9 0.9 4.5 1 -2.8 0.9 -4.2 0.9 3.1 1 -1.1 0.9 -3.5 1 3 0.9 8.6 1 0.9 0.9 0.4 1 -1.6 0.9 -7.6 0.9 -2.2 1 1 0.9 0.6 1 15.8 0.9 -0.6 1 -0.1 0.9 3.6 0.9 3.4 1 -6.5 0.9 -2.1 1 -4.9 0.9 1.1 1 -0.1 0.9 -18.8 1 0.6 0.9 -7.4 0.9 3.7 1 26.4 0.9 2.1 1 -3.8 0.9 1.6 1 -3.3 0.9 0 1 -5.7 0.9 3.6 0.9 -2.5 1 8.4 0.9 2.3 1 -6.7 0.9 2.6 1 2.6 0.9 2.9 0.9 2.9 1 0.7 0.9 5.3 1 -3.9 0.9 1.9 1 6.4 0.9 -8 1 -2 0.9 1.4 0.9 -1.1 1 11.5 0.9 -1.3 1 0.9 0.9 -3.2 1 -1.4 0.9 -3.5 1 -1.1 0.9 0.4 0.9 -2.8 1 -6.2 0.9 3.7 1 0.2 0.9 -0.1 1 -1.9 0.9 1 0.9 6.2 1 -0.3 0.9 -0.4 1 7.3 0.9 1 1 0.1 0.9 -1.2 1 15.1 0.9 0.3 0.9 2.6 1 -0.9 0.9 11 1 -3.1 0.9 4.9 1 4.1 0.9 -5.6 1 -0.1 0.9 0.4 0.9 -1.3 1 -0.3 0.9 -4.5 1 1.9 0.9 5.9 1 -3.5 0.9 -0.3 0.9 4.1 1 -12.9 0.9 6.6 1 -1.1 0.9 -5.1 1 15.2 0.9 4.1 1 -3.3 0.9 -0.8 0.9 -4.2 1 -2.6 0.9 0.6 1 0.2 0.9 12.4 1 1.5 0.9 5.8 1 -3.9 0.9 3 0.9 3.3 1 0 0.9 4.3 1 -9.6 0.9 -2.3 1 -1.7 0.9 2.7 0.9 -5.9 1 0 0.9 11.5 1 1.8 0.9 -0.4 1 0.2 0.9 -2.5 1 -5.1 0.9 -2.9 0.9 -1.1 1 6.1 0.9 5.8 1 -0.8 0.9 3.6 1 0.9 0.9 4 1 -0.3 0.9 1.9 0.9 -1.3 1 -0.8 0.9 11.5 1 -3.4 0.9 3.7 1 -1.7 0.9 6.6 0.9 3.2 1 -8.6 0.9 6.6 1 -3.5 0.9 -9.3 1 -4.2 0.9 0.7 1 0.7 0.9 9.3 0.9 3.7 1 5.6 0.9 -1.1 1 2.2 0.9 -3.8 1 0.1 0.9 -1.1 1 -4.4 0.9 -1.2 0.9 -1.7 1 3.7 0.9 -0.6 1 -2 0.9 -11.1 1 0 0.9 2.8 0.9 -4.6 1 -19.6 0.9 -5.7 1 2.2 0.9 -16.8 1 -1.7 0.9 0.6 1 -1.5 0.9 8.6 0.9 7.2 1 -0.8 0.9 -4.1 1 -10.5 0.9 1.8 1 -5.2 0.9 -4.6 1 7.1 0.9 -9.5 0.9 2.1 1 -4.7 0.9 -3.9 1 5.9 0.9 -4.2 1 5.6 0.9 5.7 0.9 0.8 1 2.6 0.9 0.4 1 2 0.9 -3.1 1 1.9 0.9 3.9 1 -0.8 0.9 -4.4 0.9 -13.4 1 2 0.9 -6.1 1 0.7 0.9 1.2 1 -6.6 0.9 8.3 1 -4.8 0.9 0.4 0.9 4.8 1 -3.2 0.9 -2.4 1 0.3 0.9 9.5 1 -2.6 0.9 6 0.9 -1.3 1 -7.4 0.9 3.5 1 -4.2 0.9 -3.3 1 1 0.9 -3.2 1 0.4 0.9 3.4 0.9 -7.7 1 2 0.9 2.3 1 0.4 0.9 16.4 1 -2.2 0.9 3.2 1 5.4 0.9 -6 0.9 -12 1 -3.8 0.9 2.7 1 2.9 0.9 -13.6 1 -1.5 0.9 1.6 0.9 -1.5 1 -4.3 0.9 6.7 1 -3.2 0.9 0.6 1 4.3 0.9 0.8 1 -18.8 0.9 1.1 0.9 -4.7 1 6.3 0.9 16.4 1 3 0.9 -1.3 1 0.4 0.9 2.8 1 0.6 0.9 1.2 0.9 2.7 1 2.9 0.9 0.7 1 -6.6" stroke="#e31b23" stroke-width="5.3"/>
<path d="M187.5 451.6l0.9 3.4 1 -35.2 0.9 -3.3 1 -13.6 0.9 21 1 12.3 0.9 -15 1 17.9 0.9 -17.7 0.9 1.4 1 12.6 0.9 10.4 1 17.8 0.9 -14.3 1 12.4 0.9 2.1 0.9 4.9 1 10.2 0.9 -12.8 1 12.5 0.9 -12 1 9.8 0.9 -0.9 1 2.6 0.9 4.8 0.9 -12.5 1 3.3 0.9 -13.6 1 5.6 0.9 -13.1 1 -9.3 0.9 -2.6 1 15.7 0.9 3.5 0.9 6.5 1 -7.4 0.9 -4.5 1 -32.2 0.9 -6.2 1 -6.7 0.9 14.2 0.9 -17.2 1 12.7 0.9 -9.2 1 7.3 0.9 39.5 1 9.8 0.9 -5.1 1 -10 0.9 -21.7 0.9 8.3 1 -5.7 0.9 -15.2 1 8.3 0.9 6.2 1 1.9 0.9 8.4 1 3.7 0.9 4.3 0.9 11.6 1 -25.5 0.9 -25 1 5.8 0.9 6.3 1 7.7 0.9 2.5 0.9 2 1 15.2 0.9 16.8 1 1.1 0.9 2 1 1.7 0.9 12.8 1 -0.7 0.9 16.9 0.9 -14.6 1 6.5 0.9 -29.4 1 11.3 0.9 -5.6 1 6.8 0.9 3.4 1 -11.3 0.9 6 0.9 3.7 1 -19.4 0.9 -9.9 1 -3.2 0.9 8.2 1 41 0.9 -3.5 0.9 10.3 1 -2.5 0.9 -15.9 1 -15.3 0.9 16.7 1 -1.6 0.9 -17.3 1 15.7 0.9 -2.7 0.9 17.8 1 6 0.9 -2.5 1 -7.8 0.9 -20.5 1 10.5 0.9 4.4 1 -6.6 0.9 28.1 0.9 8 1 6.7 0.9 6.7 1 -15.8 0.9 -13.7 1 2.2 0.9 -4.8 0.9 -13.1 1 4.7 0.9 -8.7 1 4.1 0.9 25.9 1 10.2 0.9 -11.6 1 -0.1 0.9 17.8 0.9 -16.2 1 10.2 0.9 -5.9 1 11.5 0.9 2.1 1 -9.8 0.9 3.5 1 -6.3 0.9 -2.5 0.9 -5.3 1 2.8 0.9 25.2 1 -9.3 0.9 5.4 1 11.4 0.9 -3.1 0.9 -11.9 1 -15.9 0.9 -0.9 1 2.2 0.9 13.2 1 2.1 0.9 0.4 1 6.9 0.9 -3.5 0.9 4.4 1 -12.9 0.9 16.3 1 1 0.9 7 1 3.1 0.9 13.5 1 -12.9 0.9 1.5 0.9 3 1 1.3 0.9 -14.2 1 -0.2 0.9 5.6 1 -1.8 0.9 -8.9 0.9 -18.6 1 -2.8 0.9 3.2 1 6.2 0.9 -9.2 1 23.3 0.9 1.8 1 16.4 0.9 -1.1 0.9 -7.1 1 -16.8 0.9 -8.5 1 12.5 0.9 1 1 -2.1 0.9 -17.6 1 14.4 0.9 -15.3 0.9 17.8 1 -5.1 0.9 14.9 1 -9 0.9 3.2 1 1 0.9 -13.5 0.9 -1.2 1 1.7 0.9 -3.9 1 -1.1 0.9 16.2 1 9.1 0.9 0.8 1 -5.3 0.9 10.1 0.9 5.7 1 -14.5 0.9 -1.1 1 13.3 0.9 -3.8 1 -10.4 0.9 6.4 1 2.9 0.9 -4.4 0.9 -3.4 1 -0.3 0.9 -6.9 1 -7 0.9 9.5 1 6.3 0.9 0.7 0.9 8.2 1 5.6 0.9 3.9 1 -2.9 0.9 0.6 1 -12.8 0.9 -7.2 1 -5.2 0.9 15.5 0.9 4.5 1 -7.5 0.9 12.2 1 -12 0.9 2.1 1 -6.8 0.9 8.6 1 -8.3 0.9 19.6 0.9 5.1 1 -0.2 0.9 6.1 1 -12.3 0.9 2.2 1 -36.9 0.9 -3.9 0.9 -4.8 1 4.8 0.9 21.3 1 -3.5 0.9 -0.9 1 -7.2 0.9 -10.9 1 -2.9 0.9 13.9 0.9 1.9 1 3.4 0.9 -4.1 1 4.6 0.9 14.8 1 0.7 0.9 -1.6 1 0.8 0.9 -18.1 0.9 4.3 1 -7.9 0.9 4.2 1 17.4 0.9 -2.3 1 6.5 0.9 -2 0.9 13.8 1 2.7 0.9 7.3 1 -0.8 0.9 -2.3 1 -0.4 0.9 -28.2 1 -1 0.9 -1.2 0.9 5.6 1 20.7 0.9 1.2 1 8.1 0.9 -10.6 1 -13.1 0.9 2 1 6.7 0.9 5 0.9 2 1 1.9 0.9 -6.2 1 14.5 0.9 -9.1 1 1.7 0.9 -3.9 0.9 -15.6 1 -0.5 0.9 -8 1 4.2 0.9 -5.8 1 0 0.9 -3.1 1 3.7 0.9 27 0.9 2 1 7.5 0.9 -1.6 1 3.2 0.9 2.2 1 1.6 0.9 -3.2 1 -24.9 0.9 -1.8 0.9 -2.2 1 -3.6 0.9 -19.8 1 2.2 0.9 -3.5 1 6.6 0.9 7.1 0.9 18.3 1 13.9 0.9 -0.7 1 -11.4 0.9 -3.3 1 -34.1 0.9 -2.1 1 -5 0.9 0.9 0.9 8.8 1 16.6 0.9 -7.2 1 6.3 0.9 3.8 1 5 0.9 12.4 1 5.4 0.9 9.4 0.9 -15.9 1 -7.6 0.9 -2.6 1 -2 0.9 1.1 1 11.4 0.9 6.7 0.9 1.2 1 2.4 0.9 -6.8 1 -25.9 0.9 1.6 1 -1.4 0.9 3 1 -0.4 0.9 21.6 0.9 2.3 1 2.6 0.9 0.4 1 -5.7 0.9 -19.3 1 -11.1 0.9 2.6 1 6.1 0.9 17.8 0.9 1.5 1 3 0.9 -1.1 1 5.7 0.9 3.7 1 -9.5 0.9 -24.5 0.9 -5.1 1 0.8 0.9 -9.7 1 1.1 0.9 1.3 1 9 0.9 13.8 1 4.3 0.9 -9 0.9 -4.8 1 -34.1 0.9 -8.6 1 -7.7 0.9 3.4 1 20.3 0.9 2.5 1 5.7 0.9 0.9 0.9 12 1 2.7 0.9 3.1 1 -4.6 0.9 -3.9 1 -10.8 0.9 -2.4 0.9 -4.4 1 -0.6 0.9 -16.5 1 0.8 0.9 -1.8 1 0.4 0.9 10.8 1 -0.4 0.9 0.4 0.9 -13.2 1 -3.4 0.9 -3.4 1 6.8 0.9 23.2 1 4.7 0.9 3.3 1 2.7 0.9 14.9 0.9 6.4 1 0.6 0.9 -0.1 1 -0.7 0.9 -10.4 1 -1.5 0.9 -6.6 0.9 -2.5 1 -22 0.9 -2.6 1 -3.5 0.9 -9.9 1 -3.4 0.9 -0.9 1 -12.6 0.9 -5.4 0.9 6.1 1 16.9 0.9 6 1 0.2 0.9 -1.3 1 -4 0.9 -4.7 1 7.9 0.9 17.6 0.9 4.1 1 0.2 0.9 1.7 1 3.2 0.9 7.9 1 2.3 0.9 -1.8 0.9 -3.1 1 -29.1 0.9 -10.1 1 -0.2 0.9 3.3 1 28.5 0.9 5.2 1 4.5 0.9 -3.7 0.9 -5.1 1 -17.5 0.9 -5.1 1 -3.5 0.9 4.1 1 0 0.9 14.1 1 5.9 0.9 -3.3 0.9 -0.3 1 0.1 0.9 -4.9 1 5 0.9 9.3 1 5.6 0.9 6.7 0.9 -6.2 1 -22.4 0.9 -1.3 1 4.2 0.9 15.1 1 2.8 0.9 4.8 1 6.9 0.9 12.8 0.9 3 1 -4.3 0.9 -9.4 1 -25.2 0.9 -7 1 0.5 0.9 -0.8 1 4.3 0.9 17.4 0.9 2.3 1 8.6 0.9 3.7 1 -2.9 0.9 6.1 1 2.4 0.9 -4.4 0.9 11.8 1 -2.2 0.9 -0.9 1 1.7 0.9 -12.8 1 -6.2 0.9 1.9 1 -0.3 0.9 22.8 0.9 -0.3 1 1.8 0.9 -6.4 1 -20.3 0.9 -5.5 1 2.6 0.9 28.2 1 2.3 0.9 3.7 0.9 4.2 1 5.4 0.9 3.9 1 1.8 0.9 -2.6 1 -5 0.9 -5.4 0.9 2.3 1 0.2 0.9 22.3 1 4.6 0.9 -3.9 1 -3.5 0.9 -17 1 -11 0.9 0.8 0.9 5.1 1 8.5 0.9 16.8 1 1.2 0.9 4 1 -0.5 0.9 -7.6 1 -4.2 0.9 -0.9 0.9 8.9 1 17.3 0.9 8.8 1 0.6 0.9 -10.9 1 -13.5 0.9 -3.2 0.9 -4.5 1 0.8 0.9 -4.1 1 -12.8 0.9 0.8 1 -4.4 0.9 4.5 1 24.5 0.9 5.8 0.9 3 1 -7 0.9 -9.5 1 -6.2 0.9 -6 1 -1.5 0.9 -10.4 1 0.9 0.9 7.5 0.9 -7 1 16.3 0.9 4.9 1 2.6 0.9 0.3 1 19.2 0.9 -2.8 0.9 4.4 1 -4.6 0.9 -26.7 1 -3.3 0.9 -2.3 1 2.2 0.9 -2.9 1 -3.5 0.9 0 0.9 11.4 1 9.5 0.9 -6.1 1 -29.8 0.9 -5.5 1 2.9 0.9 6.1 1 16.5 0.9 8.7 0.9 -0.4 1 -1 0.9 -3.9 1 -13.5 0.9 -3.1 1 -8.1 0.9 1.9 0.9 6.8 1 10.1 0.9 10.4 1 -6.5 0.9 4.9 1 -9.4 0.9 -5.4 1 -4.2 0.9 5.6 0.9 -4.1 1 -0.5 0.9 3.7 1 -6.8 0.9 4 1 -0.6 0.9 -11.7 1 -0.1 0.9 -5.3 0.9 10 1 13.6 0.9 3 1 -0.9 0.9 -0.6 1 -21.4 0.9 -4.4 0.9 -4 1 -4.3 0.9 -11.9 1 -7.5 0.9 -2 1 -7.1 0.9 -1.3 1 4.3 0.9 14.9 0.9 1.3 1 4.7 0.9 -3.9 1 17.1 0.9 -2.8 1 4.7 0.9 -1.7 1 2.1 0.9 3 0.9 7.5 1 -5.3 0.9 -1.2 1 -8.3 0.9 0.2 1 2.8 0.9 1.6 0.9 -12.5 1 -16.3 0.9 0.3 1 -4.7 0.9 -4.3 1 5.9 0.9 1.4 1 -7.6 0.9 5.5 0.9 3.5 1 1.4 0.9 -0.5 1 9.5 0.9 -7.3 1 -3.6 0.9 -8.5 1 -7.4 0.9 2.1 0.9 -6.7 1 6.6 0.9 3.2 1 6.7 0.9 1.1 1 2.2 0.9 4.8 0.9 6.1 1 -8.9 0.9 1.2 1 -15.7 0.9 -2.8 1 -4.1 0.9 -6.4 1 -10.8 0.9 6.8 0.9 10.1 1 8.8 0.9 -10 1 8.2 0.9 -22.7 1 -8.1 0.9 -1.5 1 7 0.9 4.9 0.9 2.5 1 3.6 0.9 -0.2 1 -1.5 0.9 -5.4 1 5 0.9 -4.3 0.9 -21.3 1 -6.2 0.9 2.1 1 9.1 0.9 -8.2 1 0.2 0.9 -1.6 1 0.6 0.9 -3.9 0.9 1.6 1 0.5 0.9 21.9 1 9 0.9 -7.7 1 -1.4 0.9 -25.1 1 -9.8 0.9 -3.4 0.9 -23 1 -0.6 0.9 -1.6 1 1.5 0.9 2.5 1 0.9 0.9 10.4 0.9 23.7 1 3.7 0.9 -2 1 3.5 0.9 0.3 1 -12.8 0.9 9.1 1 -10.5 0.9 -27.3 0.9 -8.4 1 5.6 0.9 -6.1 1 4.7 0.9 3.7 1 -7 0.9 -1.3 1 -1 0.9 1.6 0.9 3.8 1 5 0.9 16.6 1 -1.4 0.9 5.7 1 -1.5 0.9 0.9 0.9 -3.9 1 -9.8 0.9 -1.5 1 -0.5 0.9 -16.1 1 4.5 0.9 8.5 1 20.1 0.9 13.2 0.9 3.5 1 -9.4 0.9 -19.1 1 -12 0.9 0.4 1 5.7 0.9 13.5 1 2.6 0.9 -0.2 0.9 -9.8 1 -20.9 0.9 -4 1 5.9 0.9 5.5 1 17.7 0.9 -2.4 0.9 11.2 1 -3.7 0.9 -15.9 1 2.2 0.9 6.6 1 -5.7 0.9 -5.6 1 0.7 0.9 1.4 0.9 10.6 1 9.9 0.9 -7.3 1 9.1 0.9 9.1 1 7.2 0.9 -2.5 1 0.4 0.9 8.8 0.9 0.1 1 -2.1 0.9 3.7 1 6.9 0.9 2.8 1 -5 0.9 -25 0.9 -0.3 1 -3.4 0.9 12.2 1 2.1 0.9 3.3 1 -2.8 0.9 17.2 1 8.8 0.9 -5.9 0.9 4.1 1 -2.8 0.9 -6.2 1 5.8 0.9 -3.5 1 3.6 0.9 28.7 1 4.5 0.9 0.2 0.9 10.5 1 -24.8 0.9 -6.3 1 7 0.9 -5.1 1 21.4 0.9 8.1 0.9 0.7 1 -20.1 0.9 2.3 1 1 0.9 -4.1 1 -8.6 0.9 0.4 1 13.8 0.9 7.3 0.9 -11.8 1 12.3 0.9 -20.7 1 12.4 0.9 5.9 1 13.7 0.9 -12 1 4.2 0.9 2 0.9 -7.2 1 8.3 0.9 -3.1 1 -3.9 0.9 23.6 1 5 0.9 3.5 0.9 -10 1 -18.5 0.9 1.7 1 -3.9 0.9 13.6 1 7 0.9 -7.1 1 7.8 0.9 -35.7 0.9 2.6 1 -5.4 0.9 8.9 1 19.3 0.9 -4.4 1 10.2 0.9 -7.4 1 -3.8 0.9 24.7 0.9 -11.9 1 12.5 0.9 -17.4 1 15.1 0.9 -5.6 1 -3.4 0.9 6.6 0.9 13.5 1 2.7 0.9 -5.9 1 -0.7 0.9 1.1 1 -6.4 0.9 -11 1 7.5 0.9 4.6 0.9 17.3 1 -5.4 0.9 10.2 1 3.5 0.9 -12 1 1 0.9 -15.1 1 -5.1 0.9 8.3 0.9 -2.5 1 -1.6 0.9 -8 1 -1.2 0.9 4.6 1 1.5 0.9 -3 0.9 1.7 1 7.7 0.9 -2.7 1 7.5 0.9 6 1 -19.3 0.9 10 1 0.7 0.9 8.5 0.9 7.2 1 -0.2 0.9 3.8 1 1.8 0.9 7.3 1 -19.3 0.9 4.4 1 3 0.9 -7.9 0.9 3.9 1 -14.5 0.9 4.5 1 6.5 0.9 5.4 1 6.9 0.9 16.7 0.9 -1.5 1 2 0.9 1.5 1 9.4 0.9 6.8 1 -9 0.9 -3.2 1 6.6 0.9 -4.2 0.9 -9.5 1 9.6 0.9 -3 1 4.4 0.9 1.8 1 11.5 0.9 -6.7 1 -9.8 0.9 13.5 0.9 4.4 1 -4.6 0.9 13.7 1 -8.4 0.9 0.6 1 6.1 0.9 -14.9 0.9 -1.2 1 4 0.9 27.6 1 -6.7 0.9 -3.5 1 9.1 0.9 -6.8 1 -1.4 0.9 20.5 0.9 -13.7 1 15.3 0.9 -4.1 1 0.6 0.9 -21.7 1 0.8 0.9 18.8 1 -19.2 0.9 6.6 0.9 12.2 1 -21.5 0.9 10.8 1 9.2 0.9 -18.3 1 -0.4 0.9 -4.2 0.9 9.9 1 -15 0.9 20.8 1 -3.2 0.9 -4.8 1 -10.3 0.9 23.4 1 0 0.9 12 0.9 -4.6 1 -1.7 0.9 6.4 1 -13.2 0.9 -14.2 1 7.4 0.9 -16.7 1 27.9 0.9 -23.3 0.9 36.2 1 -30.9 0.9 16.7 1 -4 0.9 -25.7 1 8.4 0.9 16.1 0.9 -15.2 1 -4.2 0.9 1.1 1 -0.2 0.9 -13.4 1 28.1 0.9 19.9 1 -18.9 0.9 15.5 0.9 -1.4 1 -34.4 0.9 0.1 1 -3.6 0.9 -12.4 1 29 0.9 0.4 1 5.8 0.9 -33.7 0.9 -12.4 1 9.2 0.9 6 1 16.7 0.9 6.4 1 6.9 0.9 -5.2 0.9 -8.2 1 -26.5 0.9 7.1 1 16.2 0.9 -0.7 1 13.2 0.9 4 1 -1.6 0.9 13.5 0.9 -5.4 1 -14.2 0.9 6.1 1 -24.1 0.9 -20.8 1 1.8 0.9 -4.5 1 -4.5 0.9 -2.6 0.9 -1.4 1 15.4 0.9 20.5 1 -15.2 0.9 -1 1 -5.2 0.9 16.5 0.9 -16 1 6.9 0.9 -16.4 1 5.7 0.9 13.6 1 -6.3 0.9 11.5 1 3.8 0.9 -2.9 0.9 8.8 1 -2.9 0.9 0.2 1 -15.9 0.9 1.1 1 -0.5 0.9 4.7 1 7.5 0.9 12.4 0.9 -12.5 1 11.7 0.9 -26.8 1 0.7 0.9 -3.6 1 13.6 0.9 -7 0.9 11.4 1 11.8 0.9 8.9 1 -17.1 0.9 -31.6 1 -9.8 0.9 -8.8 1 15.6 0.9 9.3 0.9 -1.9 1 -0.5 0.9 -10.5 1 3.5 0.9 -14.5 1 6.4 0.9 -5.7 1 8.3 0.9 5.8 0.9 2.8 1 -39.6 0.9 0.8 1 1.3 0.9 27.9 1 8.8 0.9 -1.8 0.9 2 1 0.8 0.9 -12.1 1 -1.1 0.9 10.7 1 -1.3 0.9 12.3 1 2 0.9 -3.5 0.9 -11.3 1 -8.3 0.9 -2.5 1 2.5 0.9 -13.5 1 -9.3 0.9 0.7 1 -11.4 0.9 -9.3 0.9 -11.7 1 10.5 0.9 18.7 1 -1.8 0.9 -3.8 1 -8.9 0.9 -19.4 0.9 2.3 1 -2.8 0.9 11.9 1 12.2 0.9 -18.9 1 -25.1 0.9 -7.1 1 -2.8 0.9 4.1 0.9 14.4 1 7 0.9 1.8 1 1.8 0.9 6.2 1 13.9 0.9 -4.1 1 -5.5 0.9 -28.5 0.9 -14 1 -2.9 0.1 57.9 0.9 -5.4 1 8 0.9 -21.2 1 0.5 0.9 4.8 1 -14.4 0.9 -0.6 1 -1.4 0.9 -5.6 0.9 1.5 1 7 0.9 18 1 8.4 0.9 -11.1 1 2.8 0.9 3 0.9 0.9 1 -17.9 0.9 5.6 1 -28.8 0.9 -4.1 1 -2.2 0.9 -0.1 1 -1 0.9 -2.6 0.9 -2.4 1 0.3 0.9 1.7 1 -0.4 0.9 1.5 1 -12.3 0.9 -17.7 1 -5.8 0.9 3.1 0.9 5.5 1 17.9 0.9 9 1 -4.8 0.9 10.9 1 5.3 0.9 2 0.9 1 1 -2.9 0.9 -4.2 1 4.1 0.9 -2.6 1 -13.6 0.9 -4 1 -3.3 0.9 5.7 0.9 -8.7 1 -6.5 0.9 1.7 1 2.1 0.9 23.2 1 -0.5 0.9 11.6 1 -6 0.9 6.4 0.9 1.6 1 7.4 0.9 -5.3 1 -5.1 0.9 6.1 1 -1.7 0.9 11 0.9 -4.5 1 12.5 0.9 18.1 1 -12.4 0.9 8.8 1 -18.4 0.9 -11.7 1 -3.6 0.9 0.7 0.9 22.7 1 1.4 0.9 0.5 1 1.3 0.9 7.6 1 -10.8 0.9 0.3 1 3.5 0.9 17.8 0.9 5 1 -13.3 0.9 -28.3 1 -12.6 0.9 0.1 1 18.1 0.9 33.1 0.9 12.3 1 -7.1 0.9 -2.6 1 -8.4 0.9 -7.6 1 -0.8 0.9 4 1 3.9 0.9 5.3 0.9 -3.5 1 -6.1 0.9 11.5 1 3.5 0.9 3.1 1 -6 0.9 14.7 1 -0.7 0.9 12.1 0.9 -0.4 1 -5.7 0.9 1 1 -5.9 0.9 -9.1 1 4.1 0.9 11.6 0.9 11.4 1 -16.1 0.9 10.2 1 13.3 0.9 0.6 1 -7.8 0.9 -4.5 1 -13.2 0.9 0.4 0.9 1.3 1 -7.6 0.9 -2.4 1 10.4 0.9 -2.4 1 2.9 0.9 11.1 1 -0.2 0.9 13.3 0.9 3.3 1 13.3 0.9 -2.3 1 -0.1 0.9 6.8 1 8.6 0.9 1 0.9 -3.7 1 -7 0.9 -10.3 1 11.4 0.9 -2.9 1 1.1 0.9 6.7 1 1.7 0.9 15.3 0.9 8.2 1 -6.2 0.9 8.9 1 1 0.9 12.2 1 9.7 1 -23.6 1 -10.8 0.9 5.9 1 -5.2 0.9 -4.5 1 9.1 0.9 9 1 -1.2 0.9 -8.3 0.9 3.4 1 -5.4 0.9 0.1 1 5.3 0.9 2.8 1 8.1 0.9 -1.9 0.9 5.9 1 -3 0.9 -14.9 1 -7.4 0.9 3.2 1 0.2 0.9 -10.2 1 18 0.9 -8.2 0.9 8.6 1 3.8 0.9 14.6 1 -10.9 0.9 0.2 1 1.4 0.9 -17.7 1 -14.5 0.9 7.1 0.9 12.7 1 22.1 0.9 0.5 1 -7.5 0.9 4 1 -15.7 0.9 3.5 0.9 -5.7 1 13.5 0.9 0.6 1 3.5 0.9 -3.2 1 6.4 0.9 -12.6 1 3.1 0.9 -0.2 0.9 -14.5 1 9.7 0.9 -12.3 1 -6.8 0.9 3.6 1 -7.1 0.9 11 1 12.6 0.9 0.8 0.9 7.9 1 -9.3 0.9 -15.7 1 -3.8 0.9 2.8 1 -3.2 0.9 12.8 0.9 -6.5 1 1.4 0.9 -15.3 1 -11.2 0.9 -4.5 1 3.4 0.9 -14.6 1 3.5 0.9 -9.1 0.9 -25.9 1 -2.3 0.9 2.3 1 -4.9 0.9 -4.8 1 3.4 0.9 -4.7 1 17.5 0.9 -1.2 0.9 14.6 1 -15.7 0.9 -20.1 1 9.8 0.9 -9.4 1 1 0.9 -8.7 0.9 -3 1 -4.7 0.9 5.2 1 -3.1 0.9 -5.4 1 4.3 0.9 -0.8 1 15 0.9 4.3 0.9 -0.4 1 -1.2 0.9 0.4 1 10.3 0.9 -7.6 1 1.3 0.9 -8.4 1 -30.2 0.9 -6.6 0.9 0.6 1 -4.1 0.9 -8.9 1 5.1 0.9 -6 1 12.6 0.9 17.2 0.9 -6.6 1 3.9 0.9 -5.7 1 -4 0.9 2.8 1 -9.8 0.9 -2.1 1 18.8 0.9 3 0.9 3.4 1 -3.6 0.9 -13.1 1 -8.4 0.9 13.8 1 -8.9 0.9 -6.1 1 -16.9 0.9 7.9 0.9 -6 1 6.5 0.9 28 1 0 0.9 2.6 1 0.4 0.9 -10.6 0.9 0.1 1 -4.8 0.9 1.6 1 -17.1 0.9 -2.5 1 -0.4 0.9 -0.6 1 -10 0.9 -9.1 0.9 -3.1 1 4.3 0.9 26.6 1 4.4 0.9 -3.5 1 0.4 0.9 -24.3 1 -5.6 0.9 4.6 0.9 0 1 19.8 0.9 -5.4 1 6.5 0.9 4.7 1 14.6 0.9 11.7 0.9 -3.7 1 2.4 0.9 -13.1 1 4 0.9 3.3" stroke="#b5d22c" stroke-width="5.2"/>
<path d="M187.5 470.5l0.9 -8 1 -27.4 0.9 -9.1 1 -3.2 0.9 4.4 1 12.9 0.9 2.2 1 -0.1 0.9 -2.5 0.9 -2.1 1 7.7 0.9 4.1 1 19.3 0.9 1.3 1 2.8 0.9 2.7 0.9 6.8 1 4 0.9 -1.7 1 1.1 0.9 2.8 1 7.5 0.9 0.4 1 -1.5 0.9 -2.5 0.9 -9.2 1 -3.9 0.9 -3.7 1 -2.9 0.9 -12.5 1 -1.9 0.9 -2.7 1 3.3 0.9 10.9 0.9 0.4 1 -3.3 0.9 -6.5 1 -23.9 0.9 -7.3 1 -5.9 0.9 2 0.9 -0.8 1 -1.7 0.9 1.3 1 6.7 0.9 38.8 1 11.3 0.9 -7.6 1 -1.4 0.9 -21.7 0.9 -3.7 1 -3.8 0.9 -3.3 1 2.2 0.9 8.2 1 4.6 0.9 -0.7 1 5.8 0.9 10.8 0.9 2.1 1 -30.1 0.9 -11.3 1 2.6 0.9 -0.1 1 9.8 0.9 2.3 0.9 2.9 1 6.7 0.9 22.1 1 1.3 0.9 5.5 1 1.6 0.9 4.7 1 12.8 0.9 2.4 0.9 2 1 -4.3 0.9 -19.2 1 -1.3 0.9 -4.6 1 2.5 0.9 2.8 1 -1.2 0.9 0.8 0.9 -2 1 -12.8 0.9 -3.9 1 -2.9 0.9 7.8 1 28.1 0.9 8.3 0.9 -0.6 1 -0.6 0.9 -12.7 1 -1.9 0.9 -0.7 1 -2.6 0.9 1.3 1 3.8 0.9 2.2 0.9 12.9 1 4.3 0.9 -1.8 1 -0.9 0.9 -15.5 1 -4.1 0.9 3.7 1 7.2 0.9 27.8 0.9 3.9 1 4.9 0.9 -3.3 1 -1.6 0.9 -16.8 1 -2.5 0.9 -2.6 0.9 -9.1 1 -4.2 0.9 3.4 1 2.6 0.9 21.8 1 3.8 0.9 -0.9 1 2.3 0.9 0.3 0.9 0.7 1 1.3 0.9 0.8 1 4.1 0.9 1 1 2.1 0.9 -1.8 1 -6.2 0.9 0.7 0.9 -1.5 1 2.8 0.9 12.8 1 0.3 0.9 0.7 1 -1.5 0.9 -0.9 0.9 -12 1 -1.9 0.9 -4 1 3.6 0.9 9.1 1 1 0.9 2.8 1 0.5 0.9 -1.3 0.9 3.4 1 -3.5 0.9 4.9 1 3.2 0.9 14.3 1 2.6 0.9 0.2 1 -1.1 0.9 1.6 0.9 -1.7 1 1.2 0.9 -2.5 1 -10.4 0.9 2.1 1 -4.1 0.9 -3.5 0.9 -8.4 1 -5.6 0.9 -1.1 1 3 0.9 0.7 1 17.3 0.9 2 1 5 0.9 -1.6 0.9 -2.1 1 -12.7 0.9 -2.5 1 -2.5 0.9 2.4 1 -1.4 0.9 -1.7 1 0.7 0.9 -3.6 0.9 2.3 1 0.2 0.9 9.3 1 1.7 0.9 -1.9 1 -1.7 0.9 -4.3 0.9 -8.6 1 -2 0.9 2.2 1 2 0.9 14.9 1 1.1 0.9 -0.3 1 1.2 0.9 8.4 0.9 1.6 1 -0.1 0.9 0.7 1 0.9 0.9 -2.4 1 -1.9 0.9 -1.6 1 3.5 0.9 -0.1 0.9 -1 1 1.3 0.9 -14.4 1 -0.4 0.9 -0.8 1 3.6 0.9 4.8 0.9 15.8 1 2.1 0.9 1.9 1 -0.3 0.9 -3.2 1 -15.2 0.9 0.7 1 -3 0.9 4.9 0.9 4.3 1 4.8 0.9 2.4 1 -2.9 0.9 -5.4 1 -2.5 0.9 -0.6 1 4.1 0.9 5.4 0.9 14.6 1 3.6 0.9 0.1 1 -5.2 0.9 -8.8 1 -29.6 0.9 -3.7 0.9 -2.2 1 2.5 0.9 15.2 1 3.7 0.9 -6.5 1 -14.2 0.9 -2.4 1 -0.3 0.9 5.1 0.9 3 1 5.6 0.9 4 1 1.1 0.9 11.8 1 1.6 0.9 0.7 1 1.5 0.9 -17.4 0.9 -3.2 1 1.2 0.9 1 1 14.6 0.9 2.6 1 5.4 0.9 -2.6 0.9 5.6 1 10.7 0.9 0.9 1 4.4 0.9 -7.3 1 -2.2 0.9 -21.9 1 -3.3 0.9 -4.5 0.9 6.3 1 20.5 0.9 8.3 1 -3.3 0.9 -10 1 -3 0.9 -1 1 0.1 0.9 11.1 0.9 2.5 1 -1.8 0.9 0.4 1 5.3 0.9 3 1 1.7 0.9 -9.2 0.9 -13.3 1 -5.1 0.9 -3.1 1 -3.1 0.9 -4.7 1 -3.5 0.9 5.1 1 4 0.9 22.3 0.9 7 1 4.2 0.9 2.4 1 -3.4 0.9 -0.5 1 0.8 0.9 -3.3 1 -19.7 0.9 -1.1 0.9 -5.9 1 -2.5 0.9 -13.3 1 -2.6 0.9 -0.2 1 1.7 0.9 8.6 0.9 19.2 1 8 0.9 0.9 1 -2.4 0.9 -9.9 1 -32.9 0.9 -6.1 1 -6.8 0.9 3.2 0.9 19.4 1 5.4 0.9 1.7 1 3.5 0.9 1.4 1 -0.2 0.9 20.5 1 5.9 0.9 0.8 0.9 -4.1 1 -11 0.9 -4.9 1 1.4 0.9 -0.2 1 12.2 0.9 -2.2 0.9 7.5 1 -0.3 0.9 -5.2 1 -23 0.9 -1.6 1 -6.3 0.9 6.2 1 2.4 0.9 14.4 0.9 6.3 1 2.1 0.9 -2 1 -6.9 0.9 -18.1 1 -8.4 0.9 3.1 1 5.3 0.9 16.8 0.9 3.1 1 3.4 0.9 -2.6 1 5.4 0.9 1.7 1 -8.9 0.9 -23 0.9 -7.7 1 0.8 0.9 -7.8 1 0.3 0.9 -1.6 1 8.5 0.9 18.8 1 2.7 0.9 -7.3 0.9 -5.6 1 -34.5 0.9 -10.3 1 -5.8 0.9 4.3 1 18.8 0.9 1.4 1 5.8 0.9 0 0.9 11.8 1 3.6 0.9 2.5 1 -5.2 0.9 -1 1 -11.7 0.9 -2.1 0.9 -6.8 1 -0.7 0.9 -12.7 1 -1.7 0.9 -1.9 1 1.1 0.9 9.2 1 1.2 0.9 0.5 0.9 -13.6 1 -4.2 0.9 -3 1 6.1 0.9 22.1 1 6.9 0.9 3 1 1.8 0.9 16.9 0.9 3.7 1 3.4 0.9 0.2 1 -2.5 0.9 -12.2 1 -2.1 0.9 -6.1 0.9 -2.8 1 -19.8 0.9 -2.6 1 -3.4 0.9 -9.9 1 -5.2 0.9 -0.6 1 -11.8 0.9 -4.2 0.9 5.5 1 17.6 0.9 3.5 1 -0.6 0.9 1.4 1 -7 0.9 -3.4 1 6.2 0.9 18.2 0.9 4.8 1 1.2 0.9 4 1 2 0.9 6.5 1 1.9 0.9 -2.3 0.9 -1.9 1 -29.6 0.9 -9.5 1 1.2 0.9 3.8 1 26 0.9 4.6 1 6.8 0.9 -4.5 0.9 -4.9 1 -18.4 0.9 -6 1 -3.1 0.9 5.7 1 1 0.9 14.6 1 3.8 0.9 -2.4 0.9 -0.3 1 -1.6 0.9 -3.9 1 4 0.9 11 1 3.7 0.9 7.8 0.9 -6.4 1 -19.8 0.9 -2.5 1 2.4 0.9 15.8 1 5.1 0.9 1.7 1 6.6 0.9 15.1 0.9 3.9 1 -8.5 0.9 -7.8 1 -22.8 0.9 -6.4 1 -3.7 0.9 2.3 1 3.1 0.9 18.3 0.9 4 1 8.5 0.9 1.8 1 -3.2 0.9 4.7 1 2.4 0.9 -0.2 0.9 8.7 1 -0.3 0.9 -1.7 1 2.7 0.9 -14.5 1 -7 0.9 3 1 -0.4 0.9 24.3 0.9 -2.1 1 1.3 0.9 -6.3 1 -23.2 0.9 -1.7 1 3.3 0.9 24.7 1 4.2 0.9 4 0.9 4.1 1 4 0.9 5 1 0.7 0.9 -3.2 1 -3.8 0.9 -2.5 0.9 -0.6 1 1.4 0.9 18.8 1 6.3 0.9 -0.4 1 -6.8 0.9 -15.3 1 -11.4 0.9 1.4 0.9 5 1 6.7 0.9 17.3 1 0.8 0.9 5.3 1 -2.2 0.9 -8.4 1 -2 0.9 -1.1 0.9 5.7 1 20 0.9 7.9 1 1.5 0.9 -9.3 1 -17 0.9 0.3 0.9 -3.9 1 -0.5 0.9 -4.4 1 -13 0.9 2.4 1 -6.2 0.9 3.5 1 24.8 0.9 7.4 0.9 3.6 1 -6.8 0.9 -11.5 1 -8 0.9 -2 1 -3.4 0.9 -8.9 1 1.4 0.9 3.9 0.9 -7.6 1 18.8 0.9 6.6 1 1 0.9 1.1 1 19.1 0.9 -2.8 0.9 3.9 1 -2.9 0.9 -29.5 1 -4 0.9 1.5 1 0.1 0.9 -5.3 1 -0.7 0.9 -0.9 0.9 11.7 1 7.8 0.9 -5.5 1 -31.1 0.9 -1.9 1 1 0.9 7 1 15.9 0.9 9.3 0.9 1.5 1 -4.1 0.9 -2.6 1 -15.2 0.9 -3 1 -8.8 0.9 3.7 0.9 7.2 1 11.8 0.9 10.6 1 -8.1 0.9 6.7 1 -11.6 0.9 -7 1 -2.9 0.9 6.1 0.9 -2.4 1 -2.4 0.9 1.5 1 -5.3 0.9 5 1 -1.9 0.9 -10.2 1 -0.1 0.9 -5.5 0.9 7.8 1 13.7 0.9 3.2 1 0.3 0.9 -2.8 1 -19.5 0.9 -5.6 0.9 -1.7 1 -4 0.9 -13.4 1 -6.4 0.9 -3.6 1 -8.2 0.9 2.5 1 4.1 0.9 16.4 0.9 -1.2 1 5.1 0.9 -2.3 1 13.3 0.9 -2.6 1 3.7 0.9 1.4 1 1.6 0.9 1.8 0.9 5.8 1 -4.3 0.9 -0.4 1 -5.8 0.9 -2.7 1 3.6 0.9 -0.7 0.9 -10.3 1 -13.9 0.9 -3.2 1 -4.7 0.9 -2.5 1 3.8 0.9 2.6 1 -6.6 0.9 1.5 0.9 3 1 2.9 0.9 2.3 1 7.4 0.9 -5.2 1 -7.8 0.9 -4.8 1 -8.7 0.9 1.7 0.9 -6 1 8.4 0.9 2.8 1 5.8 0.9 0.4 1 0.8 0.9 7.4 0.9 5.3 1 -10 0.9 2.5 1 -14.1 0.9 -4.7 1 -2.3 0.9 -7 1 -10.4 0.9 6.8 0.9 9.6 1 6.9 0.9 -8.7 1 8.4 0.9 -23.7 1 -9.1 0.9 1.3 1 4.8 0.9 6.7 0.9 0.9 1 5.5 0.9 -4.9 1 2.4 0.9 -8.4 1 6.6 0.9 -4.5 0.9 -18.9 1 -7 0.9 2.1 1 7.6 0.9 -5.3 1 -1.5 0.9 -1.8 1 3.1 0.9 -7.3 0.9 1.9 1 3.5 0.9 21.2 1 6.7 0.9 -7.5 1 -1.1 0.9 -27.3 1 -6.8 0.9 -6.2 0.9 -19.8 1 -4.1 0.9 -0.9 1 4.4 0.9 2.9 1 1.4 0.9 5.8 0.9 22.5 1 7.4 0.9 -0.7 1 4.3 0.9 -3.9 1 -10.7 0.9 7.9 1 -11.1 0.9 -25.1 0.9 -11.7 1 8.6 0.9 -7.4 1 3.1 0.9 4.7 1 -5.7 0.9 0.5 1 -4.2 0.9 4.9 0.9 0.7 1 3.3 0.9 16.6 1 1.6 0.9 4.1 1 -3.2 0.9 5 0.9 -6.4 1 -9 0.9 -1.6 1 -0.6 0.9 -14.5 1 4.1 0.9 8.9 1 19.1 0.9 14.5 0.9 4.2 1 -14.1 0.9 -14.7 1 -13.5 0.9 -1.2 1 7.9 0.9 13.2 1 1.4 0.9 1 0.9 -11.6 1 -16.4 0.9 -4.7 1 3.2 0.9 4.3 1 18 0.9 -4 0.9 8.5 1 -1.6 0.9 -11.5 1 -2.1 0.9 5.8 1 -3.1 0.9 -3 1 0.6 0.9 2.3 0.9 14 1 -0.2 0.9 -1.5 1 2.4 0.9 8.2 1 9.9 0.9 -4.4 1 2.6 0.9 5.7 0.9 2.9 1 0.6 0.9 5.8 1 3.3 0.9 4.9 1 -11.9 0.9 -14.2 0.9 -1.2 1 -6.9 0.9 11.3 1 0.8 0.9 2.7 1 0.2 0.9 14.6 1 10.2 0.9 -5.4 0.9 -1 1 7.1 0.9 -19.2 1 10.8 0.9 -1.5 1 3.9 0.9 25.5 1 3.3 0.9 4.4 0.9 10.3 1 -23.4 0.9 -1.6 1 4.4 0.9 -7.3 1 17.4 0.9 4.9 0.9 0.8 1 -11.3 0.9 1.5 1 -6.2 0.9 -3.3 1 -11.9 0.9 16.6 1 9.3 0.9 -0.4 0.9 -2.5 1 3.7 0.9 -12.3 1 11.9 0.9 0.5 1 3.7 0.9 1.5 1 9.7 0.9 -8.4 0.9 -5.3 1 5.1 0.9 -3.9 1 -4.5 0.9 24.4 1 6.3 0.9 0.3 0.9 -8.2 1 -11.9 0.9 -3.8 1 2.6 0.9 9.4 1 1.9 0.9 -7.4 1 6.6 0.9 -24.4 0.9 -6.1 1 2.1 0.9 11.2 1 8.8 0.9 4.9 1 3.5 0.9 -2.5 1 -1.2 0.9 13.9 0.9 -2.3 1 5.2 0.9 -10.7 1 10.9 0.9 -11.2 1 -2.6 0.9 11.6 0.9 9.4 1 4.3 0.9 -8.7 1 3.1 0.9 0.9 1 -12.2 0.9 -0.3 1 -3.4 0.9 11 0.9 19.4 1 3.7 0.9 1.9 1 -4.3 0.9 -6.9 1 -1.9 0.9 -9.6 1 -6.7 0.9 3.1 0.9 -2.2 1 -4.1 0.9 5.4 1 -3.8 0.9 -1.6 1 -5.1 0.9 14.4 0.9 -2.8 1 6.6 0.9 -0.4 1 -0.7 0.9 0.1 1 -1.3 0.9 -0.3 1 12.9 0.9 -6.2 0.9 14.9 1 -1.6 0.9 4.4 1 -1.5 0.9 5.2 1 -13.2 0.9 0.2 1 -1.1 0.9 -1 0.9 0.4 1 -7.9 0.9 -8 1 15.5 0.9 5.8 1 8.7 0.9 13.9 0.9 -5.3 1 -1.3 0.9 7 1 3.8 0.9 7.3 1 -10.7 0.9 8.3 1 -4.2 0.9 3.9 0.9 -11.5 1 10 0.9 -13.7 1 13.5 0.9 7.6 1 0.2 0.9 -0.5 1 -2.5 0.9 -6.6 0.9 27.5 1 -14.6 0.9 10.6 1 -13.8 0.9 3.2 1 13.5 0.9 -2.5 0.9 -6.9 1 -1.7 0.9 9 1 17.6 0.9 -0.2 1 -1.6 0.9 2.3 1 -6.7 0.9 16.3 0.9 -0.1 1 -2.2 0.9 7.9 1 2.3 0.9 -26.7 1 8.2 0.9 -9.7 1 -4.4 0.9 7.9 0.9 15.6 1 -16.4 0.9 2.9 1 -4.8 0.9 4.1 1 -0.4 0.9 -13.3 0.9 -2.6 1 9.1 0.9 1.7 1 1.2 0.9 4.7 1 -3.1 0.9 2.8 1 10.6 0.9 -1 0.9 -11.7 1 8.8 0.9 4.4 1 -15.6 0.9 -5.1 1 6 0.9 -2.1 1 3.4 0.9 -5.2 0.9 18.2 1 -4.4 0.9 -11.6 1 1.1 0.9 -2.4 1 -3.2 0.9 4.2 0.9 -13.2 1 1.6 0.9 -0.9 1 -7.7 0.9 9.2 1 10.6 0.9 20.8 1 -3.2 0.9 -6.8 0.9 4.4 1 -27.7 0.9 -3.7 1 -9.2 0.9 7.7 1 20.6 0.9 -15.8 1 12.1 0.9 -27.5 0.9 2.5 1 -6.4 0.9 5.4 1 8.6 0.9 3.8 1 14.6 0.9 -18.8 0.9 -2.8 1 -2.7 0.9 3.2 1 2.3 0.9 16.7 1 2.5 0.9 -5.2 1 5.3 0.9 11.8 0.9 -10.5 1 -3.1 0.9 0 1 -31.2 0.9 0 1 -3.4 0.9 6.4 1 -13.6 0.9 0 0.9 -12 1 12.8 0.9 25.8 1 -0.6 0.9 -10.2 1 -11.9 0.9 5.1 0.9 1.1 1 -0.8 0.9 -12.2 1 7.4 0.9 9.5 1 -1 0.9 4.8 1 9.2 0.9 -0.7 0.9 6.1 1 14.1 0.9 -10.8 1 -9.4 0.9 -2.8 1 -6.1 0.9 4.9 1 12.1 0.9 9.7 0.9 -15.8 1 14.4 0.9 -20.6 1 -3.4 0.9 -10.6 1 13.7 0.9 1.9 0.9 14.4 1 11.6 0.9 -4.5 1 -3.3 0.9 -30.8 1 -16 0.9 -10.5 1 18.6 0.9 11.2 0.9 -6.1 1 -4.7 0.9 -5.6 1 -2.9 0.9 -1.9 1 2.8 0.9 -4.4 1 9.6 0.9 -1.2 0.9 4.5 1 -43.4 0.9 9.6 1 4.2 0.9 22.4 1 5 0.9 3.2 0.9 -0.8 1 7.3 0.9 -16 1 -3.3 0.9 11 1 2 0.9 11.5 1 0.3 0.9 -6.4 0.9 -11.9 1 -4.8 0.9 1.1 1 -2.2 0.9 -17.6 1 -5.9 0.9 6.8 1 -19.1 0.9 -0.4 0.9 -13.4 1 2.2 0.9 21 1 6.4 0.9 -7.7 1 -9.7 0.9 -18.2 0.9 -1.2 1 2.4 0.9 7.2 1 12.4 0.9 -23.3 1 -19.6 0.9 -10.1 1 -0.1 0.9 4.2 0.9 10.6 1 7.5 0.9 3.7 1 3.5 0.9 9.4 1 11.7 0.9 -2.2 1 -5.1 0.9 -29.1 0.9 -13.4 1 -8.1 0.1 57.2 0.9 -5.3 1 9.1 0.9 -21.3 1 -0.2 0.9 4.9 1 -13.2 0.9 -0.2 1 -2.5 0.9 -2.8 0.9 -1.3 1 8.1 0.9 16.8 1 8.5 0.9 -10.3 1 3 0.9 2.1 0.9 1 1 -19.1 0.9 5.7 1 -26.4 0.9 -3.6 1 -1.9 0.9 1.2 1 -1.9 0.9 -3.2 0.9 -2.2 1 -0.3 0.9 3.3 1 -1.1 0.9 -1 1 -10.6 0.9 -17.1 1 -5.6 0.9 2.9 0.9 6 1 16.8 0.9 8.9 1 -3.5 0.9 10.5 1 3.3 0.9 2.2 0.9 1.5 1 -0.8 0.9 -6.2 1 3.4 0.9 -2.2 1 -12.4 0.9 -6.1 1 -2 0.9 5.3 0.9 -9 1 -6.6 0.9 1.9 1 2.7 0.9 21.5 1 -1.8 0.9 14.9 1 -4.7 0.9 6.2 0.9 -0.4 1 8.8 0.9 -5.7 1 -5.3 0.9 5.4 1 -1.5 0.9 10.6 0.9 -1.8 1 10.3 0.9 17.8 1 -12.6 0.9 10.8 1 -18.4 0.9 -13.7 1 -4.6 0.9 1.7 0.9 24.1 1 -0.9 0.9 1.7 1 0.9 0.9 9.7 1 -12.3 0.9 0.3 1 4.3 0.9 17.7 0.9 5.2 1 -13.4 0.9 -29.1 1 -10.5 0.9 -0.8 1 18.1 0.9 31.5 0.9 11 1 -4.6 0.9 -2.1 1 -6.9 0.9 -8.6 1 -1.4 0.9 4.6 1 4.6 0.9 2.1 0.9 -1.7 1 -8.3 0.9 11.2 1 5.1 0.9 4.6 1 -6.3 0.9 16 1 -2 0.9 12.1 0.9 0 1 -4.9 0.9 -3.2 1 -7.5 0.9 -9.3 1 7.2 0.9 12.9 0.9 8.9 1 -15.1 0.9 9.4 1 15.8 0.9 -0.5 1 -5.3 0.9 -6.4 1 -13.6 0.9 1.7 0.9 0 1 -8.6 0.9 0.9 1 8.4 0.9 -1.8 1 1.7 0.9 14.1 1 0 0.9 9.6 0.9 5.2 1 12.2 0.9 -4.1 1 2 0.9 5 1 8.6 0.9 1.2 0.9 -0.3 1 -9.9 0.9 -9.8 1 9.6 0.9 -2.9 1 3.1 0.9 8.5 1 1.3 0.9 14.6 0.9 5.7 1 -3 0.9 9.1 1 1.8 0.9 9.8 1 9.1 1 -23.4 1 -11.6 0.9 5.9 1 -3 0.9 -4.9 1 8.5 0.9 9.4 1 -0.8 0.9 -9.9 0.9 3.9 1 -6.6 0.9 3.1 1 1.7 0.9 2.5 1 11.1 0.9 -4.9 0.9 10 1 -5.3 0.9 -14.9 1 -6.7 0.9 5.6 1 -1.9 0.9 -8.3 1 11.4 0.9 -5.8 0.9 9.8 1 2.3 0.9 15.6 1 -11.6 0.9 -0.7 1 -0.7 0.9 -17.3 1 -10.8 0.9 6.8 0.9 15.7 1 21.7 0.9 -0.2 1 -8.6 0.9 2.7 1 -17 0.9 6.3 0.9 -6.1 1 10.8 0.9 3.2 1 5.7 0.9 -4.9 1 4.4 0.9 -9.7 1 4.6 0.9 -1.3 0.9 -15.5 1 5.7 0.9 -9.7 1 -6 0.9 4.9 1 -10.8 0.9 11.6 1 13.7 0.9 1.6 0.9 7.3 1 -10.9 0.9 -12.7 1 -8 0.9 7.1 1 -6.1 0.9 16.5 0.9 -7.8 1 -0.1 0.9 -13.6 1 -9.8 0.9 -6.7 1 2.7 0.9 -15.4 1 3 0.9 -7.2 0.9 -30.6 1 0.9 0.9 4.1 1 -5.5 0.9 -7.1 1 5.3 0.9 -5.8 1 19.8 0.9 -2.8 0.9 14.9 1 -14.2 0.9 -18.9 1 8.5 0.9 -7 1 -3.1 0.9 -8.2 0.9 -0.9 1 -5.7 0.9 6 1 -4.1 0.9 -2.6 1 -0.7 0.9 -0.1 1 13.5 0.9 4.8 0.9 0.8 1 0.5 0.9 -2.6 1 11.3 0.9 -8.3 1 3.8 0.9 -10 1 -29.1 0.9 -9.4 0.9 4 1 -7.4 0.9 -7.2 1 4.1 0.9 -3.3 1 13.8 0.9 13.3 0.9 -6 1 7.2 0.9 -5 1 -7.2 0.9 5.9 1 -14.6 0.9 0.6 1 18 0.9 0.8 0.9 3.6 1 -1 0.9 -14.7 1 -7.8 0.9 13.8 1 -10.3 0.9 -8 1 -12.4 0.9 8.7 0.9 -6.7 1 9.2 0.9 26.5 1 -1.8 0.9 4.7 1 -2.2 0.9 -12.1 0.9 1.5 1 -4.9 0.9 0 1 -18.5 0.9 -1.7 1 1.2 0.9 2.1 1 -13.2 0.9 -8.8 0.9 1.6 1 1.7 0.9 25.1 1 7.7 0.9 -7.1 1 0.9 0.9 -21.1 1 -7.7 0.9 2.5 0.9 2 1 18.1 0.9 -5.5 1 4.5 0.9 8 1 16.1 0.9 9.4 0.9 -4.1 1 4.5 0.9 -12.5 1 4.8 0.9 1.5" stroke="#52b848" stroke-width="5.4"/>
<path d="M187.5 469.5l0.9 -7.6 1 -26.2 0.9 -8.4 1 -3.8 0.9 3.8 1 12.7 0.9 1.5 1 0.3 0.9 -2 0.9 -1.4 1 6.4 0.9 4 1 19.6 0.9 1.9 1 2.4 0.9 1.6 0.9 6.1 1 4.8 0.9 -1.1 1 0.9 0.9 2.2 1 7.6 0.9 -0.4 1 -1.2 0.9 -2 0.9 -8.7 1 -3.4 0.9 -3.4 1 -2.9 0.9 -12.6 1 -2 0.9 -2.8 1 3.4 0.9 10.2 0.9 0.3 1 -3.9 0.9 -5.6 1 -24.2 0.9 -7 1 -5.7 0.9 2.7 0.9 -1.4 1 -2.4 0.9 1.2 1 7.3 0.9 38.7 1 11.5 0.9 -6.8 1 -1.7 0.9 -22.7 0.9 -4.2 1 -3.8 0.9 -3.5 1 3.1 0.9 7.7 1 5.1 0.9 -0.6 1 5.7 0.9 11.5 0.9 1.5 1 -30.1 0.9 -11.5 1 2.6 0.9 -0.8 1 10.6 0.9 2.2 0.9 2.9 1 6.8 0.9 22.4 1 1.1 0.9 5.1 1 1.1 0.9 4.8 1 12.5 0.9 2.7 0.9 2.3 1 -3.6 0.9 -18.5 1 -1 0.9 -5 1 2.3 0.9 1.9 1 -1.6 0.9 1.6 0.9 -1.2 1 -13.5 0.9 -4.1 1 -3.1 0.9 8.8 1 27.9 0.9 7.3 0.9 -0.3 1 -0.7 0.9 -12.7 1 -1.8 0.9 -0.9 1 -2 0.9 0.7 1 3.2 0.9 2.4 0.9 13.6 1 5.7 0.9 -2.2 1 -2.2 0.9 -15.7 1 -3.9 0.9 2.2 1 7.5 0.9 27.9 0.9 4.7 1 6.1 0.9 -2.8 1 -2.3 0.9 -18 1 -2.3 0.9 -2 0.9 -9.7 1 -4.1 0.9 4.1 1 3 0.9 21.7 1 2.6 0.9 -1.1 1 2.9 0.9 1.4 0.9 -0.2 1 0.7 0.9 0.4 1 4.8 0.9 1.5 1 2 0.9 -2.3 1 -5.9 0.9 0.7 0.9 -2 1 2.8 0.9 13.5 1 0.9 0.9 0.8 1 -1.5 0.9 -1.3 0.9 -12.7 1 -1.1 0.9 -3.8 1 3.8 0.9 8.1 1 1.1 0.9 3.2 1 0.1 0.9 -1.5 0.9 4.1 1 -2.7 0.9 4.4 1 3 0.9 13.8 1 1.6 0.9 1.3 1 -0.1 0.9 1.5 0.9 -2.4 1 1.2 0.9 -2.3 1 -11.3 0.9 1.6 1 -5.2 0.9 -4 0.9 -7.1 1 -5.5 0.9 -0.1 1 2.1 0.9 1.1 1 17.6 0.9 3.1 1 3.8 0.9 -1.1 0.9 -2.7 1 -12.5 0.9 -1.7 1 -2.6 0.9 1.5 1 -1.4 0.9 -1.6 1 0.5 0.9 -2.5 0.9 2.5 1 0.9 0.9 7.4 1 1.5 0.9 -0.6 1 -1.8 0.9 -3.7 0.9 -8.4 1 -1.9 0.9 1.9 1 0.7 0.9 14.2 1 1.3 0.9 -0.2 1 0.8 0.9 7.9 0.9 2.1 1 1.2 0.9 1 1 -0.1 0.9 -1.4 1 -0.8 0.9 -1.5 1 3.1 0.9 -0.3 0.9 -2.7 1 0.9 0.9 -14.3 1 0.8 0.9 -0.7 1 3.6 0.9 3.9 0.9 15.8 1 3.2 0.9 1.8 1 0.1 0.9 -3 1 -15.4 0.9 -0.3 1 -3.6 0.9 5.1 0.9 4.8 1 5.5 0.9 1.4 1 -2.9 0.9 -5.4 1 -2.4 0.9 -0.7 1 4.2 0.9 5.8 0.9 14.5 1 3.3 0.9 0.5 1 -6 0.9 -8.9 1 -30.7 0.9 -3.4 0.9 -1.2 1 3.4 0.9 15.9 1 3 0.9 -7.1 1 -14.3 0.9 -2.5 1 0.5 0.9 4 0.9 4.1 1 4.2 0.9 3.3 1 1 0.9 12.9 1 2.1 0.9 0.7 1 0.6 0.9 -16.9 0.9 -4.5 1 1 0.9 1.2 1 16.3 0.9 2.7 1 4.8 0.9 -2.3 0.9 5.2 1 10.1 0.9 0.3 1 4.7 0.9 -6.7 1 -0.3 0.9 -22.3 1 -3.6 0.9 -4.8 0.9 6.6 1 20.6 0.9 9 1 -3.8 0.9 -10.4 1 -3.3 0.9 -0.9 1 -0.4 0.9 11.2 0.9 2.3 1 -1.9 0.9 1.3 1 4.8 0.9 2.5 1 0.9 0.9 -8 0.9 -13.9 1 -4.1 0.9 -3.1 1 -2.5 0.9 -4.4 1 -3.9 0.9 4.5 1 5 0.9 22.1 0.9 5.9 1 4.5 0.9 3 1 -3.3 0.9 -1 1 0.6 0.9 -3.7 1 -19.9 0.9 -1 0.9 -5.7 1 -2.2 0.9 -13 1 -1.4 0.9 0.1 1 1.1 0.9 7.9 0.9 19 1 6.8 0.9 0.5 1 -1.5 0.9 -9.3 1 -32.4 0.9 -6.7 1 -6.3 0.9 2.2 0.9 19.2 1 5.3 0.9 2.4 1 4 0.9 3.2 1 -0.7 0.9 20.2 1 5.5 0.9 -0.9 0.9 -4.5 1 -11 0.9 -3.9 1 -0.1 0.9 0.5 1 12.9 0.9 -1 0.9 7 1 -1.8 0.9 -4.2 1 -22.6 0.9 -1 1 -6.9 0.9 6.7 1 2.3 0.9 13.8 0.9 4.9 1 2.5 0.9 -1.8 1 -5.8 0.9 -18.9 1 -7.9 0.9 3.4 1 4.5 0.9 15.9 0.9 3 1 3.7 0.9 -2.6 1 5.4 0.9 1.7 1 -7.6 0.9 -23.5 0.9 -7.8 1 1.6 0.9 -8.5 1 0.8 0.9 -0.8 1 9.1 0.9 16.9 1 1.4 0.9 -7.6 0.9 -5.1 1 -33.8 0.9 -9.8 1 -6.4 0.9 3.3 1 20.2 0.9 1.5 1 7 0.9 0.2 0.9 10.6 1 3.6 0.9 1.6 1 -3.9 0.9 -2.1 1 -11.8 0.9 -2.7 0.9 -5.4 1 -0.7 0.9 -13.9 1 -1.9 0.9 -1.1 1 0.7 0.9 9.7 1 1.2 0.9 -0.5 0.9 -13.7 1 -3.3 0.9 -2.6 1 6.7 0.9 22.3 1 6.6 0.9 1.8 1 2.4 0.9 16.9 0.9 4.2 1 2.8 0.9 0 1 -1.9 0.9 -11.8 1 -1.6 0.9 -5.6 0.9 -3.2 1 -20.3 0.9 -3.8 1 -2 0.9 -10.2 1 -5.5 0.9 -0.8 1 -12.2 0.9 -4.6 0.9 4.9 1 19 0.9 4.9 1 0 0.9 0.3 1 -6.3 0.9 -3.2 1 6 0.9 17.6 0.9 4.5 1 0 0.9 3.3 1 3.6 0.9 7.2 1 2.3 0.9 -3.5 0.9 -2.8 1 -29.1 0.9 -9.8 1 -0.5 0.9 4.2 1 27.2 0.9 5 1 6.1 0.9 -5.2 0.9 -4.6 1 -17.2 0.9 -4.9 1 -4.7 0.9 5.8 1 0.6 0.9 14.3 1 3.6 0.9 -2.4 0.9 0.5 1 -0.2 0.9 -5.9 1 4.7 0.9 11.3 1 4 0.9 6.6 0.9 -6.8 1 -20.7 0.9 -1.1 1 2.4 0.9 16.2 1 3.6 0.9 3.7 1 5.8 0.9 14.2 0.9 3.4 1 -6 0.9 -7.4 1 -25.3 0.9 -6.8 1 -1.9 0.9 0.6 1 4.6 0.9 18 0.9 1.6 1 8.9 0.9 1.5 1 -0.7 0.9 4.1 1 3.1 0.9 -2.9 0.9 11.3 1 -2.7 0.9 -0.9 1 1.9 0.9 -13.8 1 -4.6 0.9 1.9 1 -1.7 0.9 23.5 0.9 -1.3 1 3 0.9 -7.6 1 -21 0.9 -3.9 1 2.9 0.9 26.8 1 4 0.9 2.6 0.9 3 1 7.3 0.9 2.5 1 2.8 0.9 -3.9 1 -4.8 0.9 -3.1 0.9 -0.3 1 2.3 0.9 20.1 1 6.1 0.9 -2.8 1 -6 0.9 -16.3 1 -9.9 0.9 -1 0.9 6.9 1 8.3 0.9 16.1 1 1.1 0.9 4.4 1 -1.5 0.9 -6.8 1 -4.6 0.9 0.8 0.9 6.4 1 19.8 0.9 7 1 0.8 0.9 -9.8 1 -15.8 0.9 -2.8 0.9 -3.3 1 -0.7 0.9 -2.4 1 -12.9 0.9 0 1 -3.1 0.9 4 1 23.8 0.9 7.1 0.9 2.4 1 -6 0.9 -12 1 -5.2 0.9 -4.6 1 -2.8 0.9 -8.9 1 -0.3 0.9 6.3 0.9 -6.3 1 17 0.9 4.2 1 1.7 0.9 2.4 1 17.2 0.9 -0.9 0.9 3.3 1 -3.2 0.9 -27.7 1 -4.7 0.9 -0.8 1 1.3 0.9 -2.1 1 -2.2 0.9 -1.3 0.9 12.1 1 7.3 0.9 -5.6 1 -30 0.9 -4.6 1 1.7 0.9 6.3 1 17.8 0.9 8.3 0.9 0.5 1 -1.4 0.9 -2.8 1 -15.5 0.9 -2 1 -8.3 0.9 2 0.9 5.4 1 11.8 0.9 9.4 1 -5.2 0.9 4.6 1 -10.8 0.9 -4.7 1 -3.9 0.9 6.1 0.9 -3.5 1 -0.4 0.9 1.2 1 -6.4 0.9 3.8 1 -0.1 0.9 -9.9 1 -2.1 0.9 -3.7 0.9 7.5 1 13.6 0.9 3 1 0.7 0.9 -1.2 1 -19.6 0.9 -7.1 0.9 -3.4 1 -3 0.9 -12.5 1 -6.6 0.9 -3.3 1 -8.3 0.9 1 1 5 0.9 14.8 0.9 0 1 3.5 0.9 -1.2 1 15.6 0.9 -2.5 1 3.8 0.9 -1.6 1 2.2 0.9 3.4 0.9 7.4 1 -4 0.9 -2.4 1 -7.6 0.9 -0.2 1 2.2 0.9 0.9 0.9 -12.2 1 -14.8 0.9 -1.8 1 -3.6 0.9 -3.1 1 4.3 0.9 0.7 1 -6.7 0.9 4.7 0.9 3.4 1 1.4 0.9 2 1 8.7 0.9 -6.9 1 -6.1 0.9 -7.5 1 -8.2 0.9 3.3 0.9 -5.8 1 7.2 0.9 2 1 6.2 0.9 0.8 1 1.3 0.9 7.7 0.9 5 1 -10.6 0.9 2.5 1 -16.2 0.9 -3.4 1 -2.9 0.9 -7.5 1 -8.7 0.9 5.1 0.9 11.4 1 7.2 0.9 -8.5 1 7 0.9 -23.1 1 -8.2 0.9 0.5 1 4.4 0.9 8.4 0.9 1.1 1 3.8 0.9 -2.5 1 -0.1 0.9 -6.1 1 6.4 0.9 -3.6 0.9 -20.7 1 -6.6 0.9 1.3 1 7.5 0.9 -7.2 1 -0.7 0.9 -1.2 1 1.6 0.9 -4.5 0.9 1.5 1 1.9 0.9 20.4 1 7.2 0.9 -6.4 1 -2.4 0.9 -25.6 1 -5.7 0.9 -6.3 0.9 -21.8 1 -2.9 0.9 -0.3 1 2.6 0.9 3.6 1 1.2 0.9 7.3 0.9 22.6 1 6.3 0.9 -1.5 1 4.4 0.9 -2.9 1 -9.8 0.9 7 1 -10.5 0.9 -26 0.9 -11.4 1 7.8 0.9 -6.3 1 2.9 0.9 3.7 1 -5 0.9 -0.5 1 -3.5 0.9 2.6 0.9 2.9 1 3.6 0.9 17.6 1 1.8 0.9 4.1 1 -3.7 0.9 4.3 0.9 -6.9 1 -8.6 0.9 0.1 1 -3.1 0.9 -12.4 1 3.4 0.9 8.7 1 20 0.9 13 0.9 3.5 1 -13.4 0.9 -15.6 1 -11.9 0.9 -2 1 7.3 0.9 13.2 1 0.3 0.9 4.3 0.9 -12.4 1 -17.8 0.9 -5.4 1 5.9 0.9 4.5 1 17.9 0.9 -2.3 0.9 6 1 -0.6 0.9 -14.4 1 1 0.9 3.3 1 -4.7 0.9 -3.1 1 3.3 0.9 2.1 0.9 11.1 1 1.9 0.9 -0.8 1 3.9 0.9 6.8 1 10.7 0.9 -5.1 1 0.6 0.9 7.5 0.9 2 1 1 0.9 4.7 1 4.6 0.9 4.8 1 -11.5 0.9 -16.1 0.9 -1.4 1 -5.8 0.9 10.5 1 1.7 0.9 0.3 1 3.3 0.9 11.3 1 14.5 0.9 -5.9 0.9 -2.4 1 5.5 0.9 -15.8 1 8.7 0.9 -2.1 1 6.9 0.9 23.7 1 2.4 0.9 2.1 0.9 8.6 1 -21.7 0.9 -3.6 1 5.7 0.9 -4.2 1 17.6 0.9 3.8 0.9 2.3 1 -11.2 0.9 -1.9 1 -4.8 0.9 -5.3 1 -8 0.9 12.6 1 11.1 0.9 1 0.9 -1.7 1 2.3 0.9 -11.1 1 10.5 0.9 -1.8 1 10.3 0.9 1 1 3.9 0.9 -5.5 0.9 -6.9 1 3.5 0.9 -2.9 1 -1.8 0.9 24.3 1 2.9 0.9 3.1 0.9 -8.7 1 -10.5 0.9 -3.7 1 -0.8 0.9 9.8 1 1.8 0.9 -4.5 1 5.8 0.9 -27.5 0.9 -0.5 1 1.2 0.9 10.8 1 8.9 0.9 3.2 1 -0.3 0.9 1.2 1 -1.2 0.9 12.8 0.9 -0.7 1 1.9 0.9 -6.2 1 10.8 0.9 -12 1 -3.3 0.9 8.7 0.9 10.5 1 4.4 0.9 -6 1 4.7 0.9 -1.6 1 -11.1 0.9 0.6 1 -1.3 0.9 9.7 0.9 14.8 1 2 0.9 2 1 0.4 0.9 -6.7 1 -6.5 0.9 -9.1 1 -1.2 0.9 2.7 0.9 -5.1 1 -0.2 0.9 2.1 1 -4.8 0.9 -4 1 1.5 0.9 9.7 0.9 0 1 5 0.9 -0.3 1 0.9 0.9 2.5 1 -6.6 0.9 -3.1 1 13.2 0.9 -2.7 0.9 13 1 -0.8 0.9 5.2 1 1.1 0.9 -0.4 1 -10.5 0.9 -1.1 1 2.2 0.9 -1.5 0.9 0.7 1 -7.9 0.9 -6.5 1 12.1 0.9 3.8 1 13.3 0.9 6.6 0.9 -0.5 1 -2.9 0.9 6.8 1 1.7 0.9 6.7 1 -3.4 0.9 0.6 1 -1.2 0.9 -2.1 0.9 -6.3 1 6 0.9 -8.1 1 11.4 0.9 6.1 1 5 0.9 -5.8 1 -2.8 0.9 -1.7 0.9 21.4 1 -11.7 0.9 9.4 1 -12.3 0.9 8.5 1 3 0.9 -1.5 0.9 0.1 1 -0.7 0.9 9.9 1 10.1 0.9 -1 1 -1.7 0.9 4.5 1 -3.9 0.9 9.5 0.9 3 1 0.6 0.9 5.6 1 0.4 0.9 -24.9 1 5.5 0.9 -1 1 -6.2 0.9 10.6 0.9 3.8 1 -10.8 0.9 7.2 1 -3.8 0.9 -4.5 1 3 0.9 -5.6 0.9 -4.2 1 -0.1 0.9 5.8 1 2.6 0.9 -2.7 1 -0.2 0.9 2.3 1 12.7 0.9 -1.3 0.9 -4.3 1 0.3 0.9 4.6 1 -15.6 0.9 -0.8 1 -0.1 0.9 -2.4 1 10.2 0.9 -4 0.9 17.1 1 -9.2 0.9 -4.9 1 -2 0.9 -9.8 1 7.8 0.9 -0.2 0.9 -6.7 1 -4.7 0.9 4.5 1 -7.8 0.9 3.8 1 5.5 0.9 22.7 1 -4.4 0.9 2.8 0.9 0.1 1 -33 0.9 3.6 1 -9.2 0.9 1 1 18.9 0.9 -6.6 1 3.3 0.9 -23.7 0.9 -1.9 1 -2.2 0.9 3 1 16.7 0.9 4.3 1 4.7 0.9 -9.4 0.9 -6.4 1 -4.8 0.9 4.2 1 -3 0.9 23.4 1 -3.7 0.9 3.6 1 -0.1 0.9 9.5 0.9 -0.9 1 -7.3 0.9 -4.9 1 -22.8 0.9 -3.8 1 -3.4 0.9 1 1 -9.3 0.9 -6.5 0.9 -7 1 18.6 0.9 22.3 1 -5.7 0.9 -2.3 1 -15.9 0.9 10.2 0.9 -9.7 1 11.4 0.9 -20.4 1 9 0.9 4.4 1 7.9 0.9 1.7 1 7.5 0.9 -0.9 0.9 11.1 1 3.7 0.9 -3.5 1 -15 0.9 -0.8 1 -3.1 0.9 5.9 1 10.7 0.9 10.8 0.9 -11.2 1 7.5 0.9 -26.3 1 3.3 0.9 -5.3 1 12.8 0.9 0.9 0.9 10.7 1 7.4 0.9 5.6 1 -13.4 0.9 -28.2 1 -16.4 0.9 -1.5 1 10.8 0.9 14.6 0.9 -10.4 1 4 0.9 -9.2 1 -0.7 0.9 -9.9 1 0.6 0.9 -4.7 1 13.8 0.9 4.4 0.9 -0.3 1 -37.6 0.9 2.4 1 1.1 0.9 29.7 1 4 0.9 2.5 0.9 -0.2 1 2.2 0.9 -14.9 1 1.7 0.9 9.9 1 -0.9 0.9 14.3 1 -2.2 0.9 -0.4 0.9 -11.7 1 -8 0.9 -3.5 1 1.3 0.9 -12.1 1 -8.8 0.9 -1.1 1 -10.8 0.9 -6.5 0.9 -11.5 1 9.2 0.9 20.1 1 -1 0.9 -6.6 1 -6.8 0.9 -20.1 0.9 2 1 -1.9 0.9 10 1 13.5 0.9 -19.8 1 -24.9 0.9 -5.7 1 -3.3 0.9 4.2 0.9 13.6 1 8.3 0.9 2.9 1 -0.3 0.9 6.5 1 16.5 0.9 -5.3 1 -5.9 0.9 -28.7 0.9 -12.1 1 -4.5 0.9 3.8 1 -1.8 0.9 4.8 1 3.1 0.9 29.1 0.9 -1.3 1 1.7 0.9 -4.8 1 -4.1" stroke="#3465b0" stroke-width="5.2"/>
<path d="M1268.4 519.1L1268.7 530 1407.4 657.5" stroke="#3465b0" stroke-width="4.3" stroke-linecap="round"/>
<path d="M1407.4 657.5l0.9 1 1 -11 0.9 6.4 1 -5.9 0.9 -3.7 1 10 0.9 6.9 1 0 0.9 -7.9 0.9 1.9 1 -4.5 0.9 1.3 1 2 0.9 3.7 1 9.1 0.9 -2.4 0.9 7.4 1 -5.6 0.9 -12.9 1 -6.5 0.9 2.9 1 -0.4 0.9 -9.1 1 14.8 0.9 -5.3 0.9 8.3 1 1.5 0.9 14.7 1 -10.6 0.9 -0.1 1 1.4 0.9 -18.3 1 -13.7 0.9 8.5 0.9 12.7 1 23.1 0.9 -1 1 -6.8 0.9 3 1 -15.9 0.9 5.6 0.9 -6.8 1 11.7 0.9 0.9 1 5.4 0.9 -5.6 1 5.8 0.9 -10.3 1 3.8 0.9 -1 0.9 -13.3 1 6.2 0.9 -11.1 1 -5.7 0.9 2.2 1 -7.1 0.9 11.6 1 11.5 0.9 1.9 0.9 8.5 1 -10.9 0.9 -13 1 -6.3 0.9 3.8 1 -4.1 0.9 15.7 0.9 -7.1 1 0.3 0.9 -14.9 1 -10.9 0.9 -6.1 1 3.6 0.9 -12.2 1 2.4 0.9 -10.3 0.9 -27 1 0.5 0.9 1.9 1 -7.2 0.9 -3.6 1 3 0.9 -4.9 1 17.3 0.9 0.3 0.9 14.1 1 -14.8 0.9 -19 1 7.1 0.9 -7.5 1 -1.1 0.9 -8.2 0.9 -2 1 -4 0.9 5.5 1 -3.4 0.9 -4.8 1 2.1 0.9 -1.3 1 14.2 0.9 4.1 0.9 1.1 1 0.6 0.9 -2.5 1 11.7 0.9 -7.1 1 0.5 0.9 -8.9 1 -29 0.9 -8.7 0.9 4.2 1 -7.1 0.9 -9.3 1 5.5 0.9 -3.7 1 12.9 0.9 13.9 0.9 -5.2 1 6.2 0.9 -5.7 1 -6.1 0.9 3.7 1 -9.9 0.9 -1.5 1 18.9 0.9 1.5 0.9 1.8 1 -0.2 0.9 -14.8 1 -7.4 0.9 11.2 1 -9 0.9 -6.1 1 -13.7 0.9 7.5 0.9 -6.2 1 6.4 0.9 27.4 1 -0.8 0.9 3.2 1 -0.9 0.9 -9.9 0.9 1.5 1 -5.1 0.9 -0.5 1 -17.1 0.9 -1.9 1 0.8 0.9 0.8 1 -12.5 0.9 -8.8 0.9 -0.7 1 1.5 0.9 26.5 1 7 0.9 -6.7 1 1.2 0.9 -23.1 1 -4.1 0.9 2.8 0.9 0.5 1 20 0.9 -7.5 1 7 0.9 7 1 15.1 0.9 10.7 0.9 -5.6 1 5.4 0.9 -13.8 1 4.2 0.9 1.3" stroke="#3465b0" stroke-width="5.2"/>
</g>
<text transform="translate(171.5 66.5) scale(1 1.025)" font-size="46" text-anchor="end" fill="#3f3f41" >0.8</text>
<text transform="translate(171.5 194.9) scale(1 1.025)" font-size="46" text-anchor="end" fill="#3f3f41" >0.6</text>
<text transform="translate(171.5 323.3) scale(1 1.025)" font-size="46" text-anchor="end" fill="#3f3f41" >0.4</text>
<text transform="translate(171.5 451.7) scale(1 1.025)" font-size="46" text-anchor="end" fill="#3f3f41" >0.2</text>
<text transform="translate(171.5 580.1) scale(1 1.025)" font-size="46" text-anchor="end" fill="#3f3f41" >0</text>
<text transform="translate(171.5 708.4) scale(1 1.025)" font-size="46" text-anchor="end" fill="#3f3f41" >-0.2</text>
<text transform="translate(171.5 836.8) scale(1 1.025)" font-size="46" text-anchor="end" fill="#3f3f41" >-0.4</text>
<text transform="translate(171.5 965.2) scale(1 1.025)" font-size="46" text-anchor="end" fill="#3f3f41" >-0.6</text>
<text transform="translate(171.5 1093.6) scale(1 1.025)" font-size="46" text-anchor="end" fill="#3f3f41" >-0.8</text>
<text transform="translate(188.2 1141.3) scale(1 1.025)" font-size="46" text-anchor="middle" fill="#3f3f41" >2016</text>
<text transform="translate(533.6 1141.3) scale(1 1.025)" font-size="46" text-anchor="middle" fill="#3f3f41" >2017</text>
<text transform="translate(878.2 1141.3) scale(1 1.025)" font-size="46" text-anchor="middle" fill="#3f3f41" >2018</text>
<text transform="translate(1222.6 1141.3) scale(1 1.025)" font-size="46" text-anchor="middle" fill="#3f3f41" >2019</text>
<text transform="translate(1567.2 1141.3) scale(1 1.025)" font-size="46" text-anchor="middle" fill="#3f3f41" >2020</text>
<text transform="translate(878.8 1208.8) scale(1 1.025)" font-size="50.6" text-anchor="middle" fill="#3f3f41" >Date</text>
<text transform="translate(69.2 563.5) rotate(-90)" font-size="50.6" text-anchor="middle" fill="#3f3f41">dh (m)</text>
<text x="203.5" y="103.5" font-size="54" fill="#231f20">(a)</text>
<rect x="1174.9" y="79.2" width="363.8" height="280.5" fill="#fff" stroke="#3e4043" stroke-width="2.2"/>
<line x1="1186.0" y1="110.9" x2="1300.9" y2="110.9" stroke="#231f20" stroke-width="4.4" />
<text transform="translate(1308.5 127.9) scale(1 1.025)" font-size="41.5" text-anchor="start" fill="#231f20" >z = 7.3 m</text>
<line x1="1186.0" y1="165.6" x2="1300.9" y2="165.6" stroke="#e31b23" stroke-width="5" />
<text transform="translate(1308.5 182.6) scale(1 1.025)" font-size="41.5" text-anchor="start" fill="#231f20" >z = 27.3 m</text>
<line x1="1186.0" y1="219.5" x2="1300.9" y2="219.5" stroke="#b5d22c" stroke-width="5" />
<text transform="translate(1308.5 236.5) scale(1 1.025)" font-size="41.5" text-anchor="start" fill="#231f20" >z = 105.3 m</text>
<line x1="1186.0" y1="273.5" x2="1300.9" y2="273.5" stroke="#52b848" stroke-width="5.1" />
<text transform="translate(1308.5 290.5) scale(1 1.025)" font-size="41.5" text-anchor="start" fill="#231f20" >z = 132.3 m</text>
<line x1="1186.0" y1="327.9" x2="1300.9" y2="327.9" stroke="#3465b0" stroke-width="4.2" />
<text transform="translate(1308.5 344.9) scale(1 1.025)" font-size="41.5" text-anchor="start" fill="#231f20" >z = 170.8 m</text>
<line x1="190.6" y1="1267.3" x2="1569.2" y2="1267.3" stroke="#1a1a1a" stroke-width="2.4" stroke-dasharray="1.9 7.25" stroke-dashoffset="1.5"/>
<line x1="190.6" y1="1291.8" x2="1569.2" y2="1291.8" stroke="#1a1a1a" stroke-width="2.4" stroke-dasharray="1.9 7.25" stroke-dashoffset="1.5"/>
<line x1="190.6" y1="1387.1" x2="1569.2" y2="1387.1" stroke="#1a1a1a" stroke-width="2.4" stroke-dasharray="1.9 7.25" stroke-dashoffset="1.5"/>
<line x1="190.6" y1="1420.0" x2="1569.2" y2="1420.0" stroke="#1a1a1a" stroke-width="2.4" stroke-dasharray="1.9 7.25" stroke-dashoffset="1.5"/>
<line x1="190.6" y1="1467.1" x2="1569.2" y2="1467.1" stroke="#1a1a1a" stroke-width="2.4" stroke-dasharray="1.9 7.25" stroke-dashoffset="1.5"/>
<line x1="187.6" y1="1257.8" x2="187.6" y2="2284.9" stroke="#231f20" stroke-width="2.8" /><line x1="1569.2" y1="1257.8" x2="1569.2" y2="2284.9" stroke="#231f20" stroke-width="2.1" /><line x1="186.2" y1="1259.0" x2="1570.2" y2="1259.0" stroke="#231f20" stroke-width="2.4" /><line x1="186.2" y1="2283.9" x2="1570.2" y2="2283.9" stroke="#231f20" stroke-width="1.9" />
<line x1="535.0" y1="2283.9" x2="535.0" y2="2270.3" stroke="#231f20" stroke-width="2.1" /><line x1="535.0" y1="1259.0" x2="535.0" y2="1272.4" stroke="#231f20" stroke-width="2.1" />
<line x1="878.6" y1="2283.9" x2="878.6" y2="2270.3" stroke="#231f20" stroke-width="2.1" /><line x1="878.6" y1="1259.0" x2="878.6" y2="1272.4" stroke="#231f20" stroke-width="2.1" />
<line x1="1223.9" y1="2283.9" x2="1223.9" y2="2270.3" stroke="#231f20" stroke-width="2.1" /><line x1="1223.9" y1="1259.0" x2="1223.9" y2="1272.4" stroke="#231f20" stroke-width="2.1" />
<line x1="187.6" y1="1380.6" x2="204.2" y2="1380.6" stroke="#231f20" stroke-width="1.7" /><line x1="1569.2" y1="1380.6" x2="1552.8" y2="1380.6" stroke="#231f20" stroke-width="1.7" />
<line x1="187.6" y1="1502.8" x2="204.2" y2="1502.8" stroke="#231f20" stroke-width="1.7" /><line x1="1569.2" y1="1502.8" x2="1552.8" y2="1502.8" stroke="#231f20" stroke-width="1.7" />
<line x1="187.6" y1="1624.9" x2="204.2" y2="1624.9" stroke="#231f20" stroke-width="1.7" /><line x1="1569.2" y1="1624.9" x2="1552.8" y2="1624.9" stroke="#231f20" stroke-width="1.7" />
<line x1="187.6" y1="1747.1" x2="204.2" y2="1747.1" stroke="#231f20" stroke-width="1.7" /><line x1="1569.2" y1="1747.1" x2="1552.8" y2="1747.1" stroke="#231f20" stroke-width="1.7" />
<line x1="187.6" y1="1869.3" x2="204.2" y2="1869.3" stroke="#231f20" stroke-width="1.7" /><line x1="1569.2" y1="1869.3" x2="1552.8" y2="1869.3" stroke="#231f20" stroke-width="1.7" />
<line x1="187.6" y1="1991.5" x2="204.2" y2="1991.5" stroke="#231f20" stroke-width="1.7" /><line x1="1569.2" y1="1991.5" x2="1552.8" y2="1991.5" stroke="#231f20" stroke-width="1.7" />
<line x1="187.6" y1="2113.6" x2="204.2" y2="2113.6" stroke="#231f20" stroke-width="1.7" /><line x1="1569.2" y1="2113.6" x2="1552.8" y2="2113.6" stroke="#231f20" stroke-width="1.7" />
<line x1="187.6" y1="2235.8" x2="204.2" y2="2235.8" stroke="#231f20" stroke-width="1.7" /><line x1="1569.2" y1="2235.8" x2="1552.8" y2="2235.8" stroke="#231f20" stroke-width="1.7" />
<text transform="translate(169.8 1275.6) scale(1 1.025)" font-size="46" text-anchor="end" fill="#363636">0</text>
<text transform="translate(169.8 1397.8) scale(1 1.025)" font-size="46" text-anchor="end" fill="#363636">100</text>
<text transform="translate(169.8 1520.0) scale(1 1.025)" font-size="46" text-anchor="end" fill="#363636">200</text>
<text transform="translate(169.8 1642.1) scale(1 1.025)" font-size="46" text-anchor="end" fill="#363636">300</text>
<text transform="translate(169.8 1764.3) scale(1 1.025)" font-size="46" text-anchor="end" fill="#363636">400</text>
<text transform="translate(169.8 1886.5) scale(1 1.025)" font-size="46" text-anchor="end" fill="#363636">500</text>
<text transform="translate(169.8 2008.7) scale(1 1.025)" font-size="46" text-anchor="end" fill="#363636">600</text>
<text transform="translate(169.8 2130.8) scale(1 1.025)" font-size="46" text-anchor="end" fill="#363636">700</text>
<text transform="translate(169.8 2253.0) scale(1 1.025)" font-size="46" text-anchor="end" fill="#363636">800</text>
<text transform="translate(188.7 2349.3) scale(1 1.025)" font-size="46" text-anchor="middle" fill="#363636">2016</text>
<text transform="translate(534.7 2349.3) scale(1 1.025)" font-size="46" text-anchor="middle" fill="#363636">2017</text>
<text transform="translate(878.3 2349.3) scale(1 1.025)" font-size="46" text-anchor="middle" fill="#363636">2018</text>
<text transform="translate(1223.6 2349.3) scale(1 1.025)" font-size="46" text-anchor="middle" fill="#363636">2019</text>
<text transform="translate(1568.3 2349.3) scale(1 1.025)" font-size="46" text-anchor="middle" fill="#363636">2020</text>
<text transform="translate(879.0 2416.5) scale(1 1.025)" font-size="50.6" text-anchor="middle" fill="#363636">Date</text>
<text transform="translate(72.3 1771) rotate(-90)" font-size="50.6" text-anchor="middle" fill="#363636">Depth (m)</text>
<text transform="translate(202.8 1312.5)" font-size="54" fill="#231f20">(b)</text>
<defs><linearGradient id="cb" x1="0" x2="1" y1="0" y2="0"><stop offset="0.000" stop-color="#473898"/><stop offset="0.050" stop-color="#4a449d"/><stop offset="0.100" stop-color="#4d50a3"/><stop offset="0.150" stop-color="#4f5aaa"/><stop offset="0.200" stop-color="#5065b0"/><stop offset="0.250" stop-color="#4c76bb"/><stop offset="0.300" stop-color="#468ac9"/><stop offset="0.350" stop-color="#349dd9"/><stop offset="0.400" stop-color="#18aae2"/><stop offset="0.450" stop-color="#14b4d2"/><stop offset="0.500" stop-color="#1bbabe"/><stop offset="0.550" stop-color="#32bca0"/><stop offset="0.600" stop-color="#5abe82"/><stop offset="0.650" stop-color="#82c45f"/><stop offset="0.700" stop-color="#a5c841"/><stop offset="0.750" stop-color="#cdc332"/><stop offset="0.800" stop-color="#ebb732"/><stop offset="0.850" stop-color="#fcbe3c"/><stop offset="0.900" stop-color="#fdd032"/><stop offset="0.950" stop-color="#f5e628"/><stop offset="1.000" stop-color="#f2ec32"/></linearGradient></defs>
<rect x="188.57" y="2449.55" width="1380.0" height="59.84999999999991" fill="url(#cb)" stroke="#4b4d4e" stroke-width="2.95"/>
<text transform="translate(186.8 2568.8) scale(1 1.025)" font-size="41.4" text-anchor="middle" fill="#3f3f41" >-5</text>
<line x1="326.6" y1="2509.4" x2="326.6" y2="2495.2" stroke="#4b4d4e" stroke-width="2.2" />
<text transform="translate(324.8 2568.8) scale(1 1.025)" font-size="41.4" text-anchor="middle" fill="#3f3f41" >-4</text>
<line x1="464.6" y1="2509.4" x2="464.6" y2="2495.2" stroke="#4b4d4e" stroke-width="2.2" />
<text transform="translate(462.8 2568.8) scale(1 1.025)" font-size="41.4" text-anchor="middle" fill="#3f3f41" >-3</text>
<line x1="602.6" y1="2509.4" x2="602.6" y2="2495.2" stroke="#4b4d4e" stroke-width="2.2" />
<text transform="translate(600.8 2568.8) scale(1 1.025)" font-size="41.4" text-anchor="middle" fill="#3f3f41" >-2</text>
<line x1="740.6" y1="2509.4" x2="740.6" y2="2495.2" stroke="#4b4d4e" stroke-width="2.2" />
<text transform="translate(738.8 2568.8) scale(1 1.025)" font-size="41.4" text-anchor="middle" fill="#3f3f41" >-1</text>
<line x1="878.6" y1="2509.4" x2="878.6" y2="2495.2" stroke="#4b4d4e" stroke-width="2.2" />
<text transform="translate(876.8 2568.8) scale(1 1.025)" font-size="41.4" text-anchor="middle" fill="#3f3f41" >0</text>
<line x1="1016.6" y1="2509.4" x2="1016.6" y2="2495.2" stroke="#4b4d4e" stroke-width="2.2" />
<text transform="translate(1014.8 2568.8) scale(1 1.025)" font-size="41.4" text-anchor="middle" fill="#3f3f41" >1</text>
<line x1="1154.6" y1="2509.4" x2="1154.6" y2="2495.2" stroke="#4b4d4e" stroke-width="2.2" />
<text transform="translate(1152.8 2568.8) scale(1 1.025)" font-size="41.4" text-anchor="middle" fill="#3f3f41" >2</text>
<line x1="1292.6" y1="2509.4" x2="1292.6" y2="2495.2" stroke="#4b4d4e" stroke-width="2.2" />
<text transform="translate(1290.8 2568.8) scale(1 1.025)" font-size="41.4" text-anchor="middle" fill="#3f3f41" >3</text>
<line x1="1430.6" y1="2509.4" x2="1430.6" y2="2495.2" stroke="#4b4d4e" stroke-width="2.2" />
<text transform="translate(1428.8 2568.8) scale(1 1.025)" font-size="41.4" text-anchor="middle" fill="#3f3f41" >4</text>
<text transform="translate(1566.8 2568.8) scale(1 1.025)" font-size="41.4" text-anchor="middle" fill="#3f3f41" >5</text>
<text transform="translate(793.2 2642.5) scale(1 1.025)" font-size="45.5" fill="#3f3f41">u<tspan dy="-21" font-size="36.4">0</tspan><tspan dy="21"> (kPa)</tspan></text>
<g><line x1="189.0" y1="3022.0" x2="1568.0" y2="3022.0" stroke="#dcdcdc" stroke-width="1.6" /><line x1="189.0" y1="2915.0" x2="1568.0" y2="2915.0" stroke="#dcdcdc" stroke-width="1.6" /><line x1="189.0" y1="2808.0" x2="1568.0" y2="2808.0" stroke="#dcdcdc" stroke-width="1.6" /><line x1="534.4" y1="2701.0" x2="534.4" y2="3128.9" stroke="#dcdcdc" stroke-width="1.6" /><line x1="879.0" y1="2701.0" x2="879.0" y2="3128.9" stroke="#dcdcdc" stroke-width="1.6" /><line x1="1223.4" y1="2701.0" x2="1223.4" y2="3128.9" stroke="#dcdcdc" stroke-width="1.6" /></g>
<rect x="189.0" y="2701.0" width="1379.0" height="427.9" fill="none" stroke="#3e4043" stroke-width="2.0"/><line x1="534.4" y1="3128.9" x2="534.4" y2="3114.9" stroke="#3e4043" stroke-width="2.0" /><line x1="534.4" y1="2701.0" x2="534.4" y2="2715.0" stroke="#3e4043" stroke-width="2.0" /><line x1="879.0" y1="3128.9" x2="879.0" y2="3114.9" stroke="#3e4043" stroke-width="2.0" /><line x1="879.0" y1="2701.0" x2="879.0" y2="2715.0" stroke="#3e4043" stroke-width="2.0" /><line x1="1223.4" y1="3128.9" x2="1223.4" y2="3114.9" stroke="#3e4043" stroke-width="2.0" /><line x1="1223.4" y1="2701.0" x2="1223.4" y2="2715.0" stroke="#3e4043" stroke-width="2.0" /><line x1="189.0" y1="3022.0" x2="203.0" y2="3022.0" stroke="#3e4043" stroke-width="2.0" /><line x1="1568.0" y1="3022.0" x2="1554.0" y2="3022.0" stroke="#3e4043" stroke-width="2.0" /><line x1="189.0" y1="2915.0" x2="203.0" y2="2915.0" stroke="#3e4043" stroke-width="2.0" /><line x1="1568.0" y1="2915.0" x2="1554.0" y2="2915.0" stroke="#3e4043" stroke-width="2.0" /><line x1="189.0" y1="2808.0" x2="203.0" y2="2808.0" stroke="#3e4043" stroke-width="2.0" /><line x1="1568.0" y1="2808.0" x2="1554.0" y2="2808.0" stroke="#3e4043" stroke-width="2.0" />
<g clip-path="url(#cc)" fill="none" stroke-linejoin="round">
<path d="M187.5 3026.0l0.9 4.8 1 23.8 0.9 4 1 -0.9 0.9 4.3 1 -13.7 0.9 1.5 1 -1.5 0.9 2.8 0.9 -1.6 1 4.3 0.9 -4 1 -13.1 0.9 -3.5 1 2.3 0.9 -3 0.9 -10.1 1 -2.4 0.9 8.6 1 3.1 0.9 -2.7 1 -9.1 0.9 -1.1 1 0.2 0.9 14.3 0.9 0.1 1 -0.9 0.9 2.6 1 14.1 0.9 1.7 1 0.7 0.9 0.3 1 -8.5 0.9 -3 0.9 2.8 1 0.4 0.9 1.3 1 17.9 0.9 0.7 1 4.3 0.9 -0.2 0.9 1.1 1 -2.3 0.9 -0.2 1 -3.9 0.9 -33.9 1 -5.8 0.9 4.3 1 1.2 0.9 26.3 0.9 2.1 1 3.9 0.9 -0.4 1 0 0.9 -2.9 1 -8.5 0.9 -0.1 1 -1 0.9 -1.7 0.9 -6.2 1 0.6 0.9 27 1 1.9 0.9 -1.2 1 -11.9 0.9 -4.3 0.9 0.6 1 -2.2 0.9 2.8 1 -24.7 0.9 -2.5 1 -2.5 0.9 -1.6 1 0 0.9 3.3 0.9 2.5 1 0.5 0.9 1.2 1 10.3 0.9 1.8 1 0.3 0.9 -0.9 1 1 0.9 0.6 0.9 1.4 1 2.5 0.9 9.8 1 1.6 0.9 -4.6 1 -31.1 0.9 -2.7 0.9 -0.8 1 0.5 0.9 11.1 1 2.7 0.9 1.3 1 -3.7 0.9 1.4 1 -1.6 0.9 -0.8 0.9 -11.4 1 1.7 0.9 -2.3 1 3.7 0.9 14.3 1 0.8 0.9 0.2 1 -3.7 0.9 -26.9 0.9 1 1 -5.2 0.9 -0.1 1 5.2 0.9 -0.6 1 28.1 0.9 -0.1 0.9 4.9 1 -6.2 0.9 -1.8 1 -20.5 0.9 -1 1 -4.1 0.9 0.7 1 4.9 0.9 8.4 0.9 1 1 2 0.9 2.5 1 -3.1 0.9 2.3 1 3 0.9 0.7 1 -2.2 0.9 -2.3 0.9 1.4 1 -12.2 0.9 0.5 1 -0.9 0.9 1.3 1 1 0.9 6.8 0.9 -1.2 1 1.5 0.9 0.9 1 -0.2 0.9 -7 1 -2.5 0.9 1 1 -0.9 0.9 2.2 0.9 6 1 -3.6 0.9 -3.1 1 0.1 0.9 -0.1 1 -17.6 0.9 -0.6 1 -1.5 0.9 1.6 0.9 -1.1 1 5.1 0.9 0.2 1 2 0.9 -1.2 1 15.2 0.9 -1.1 0.9 2.3 1 -3.5 0.9 3.2 1 -0.8 0.9 -14.1 1 -2.9 0.9 2.5 1 0 0.9 1 0.9 -1.8 1 11.6 0.9 0.4 1 1.9 0.9 0.2 1 -0.2 0.9 -1.4 1 -0.8 0.9 2.6 0.9 0 1 -0.4 0.9 0.4 1 0.1 0.9 -0.8 1 -12 0.9 1.4 0.9 10.2 1 1.4 0.9 -0.4 1 3.1 0.9 -9.5 1 -1.1 0.9 -2.6 1 -0.7 0.9 -6 0.9 -1.2 1 0 0.9 0.3 1 4.2 0.9 0.5 1 -0.6 0.9 -12.9 1 -0.9 0.9 -2.8 0.9 2.1 1 17.6 0.9 -3.2 1 3.4 0.9 1.7 1 -7 0.9 2.1 0.9 0.9 1 -5.5 0.9 -11.6 1 -0.7 0.9 0.9 1 5.6 0.9 1.5 1 1 0.9 -3.8 0.9 -6 1 0.1 0.9 -1.1 1 1.7 0.9 7.6 1 0.4 0.9 0.3 1 -4.4 0.9 -10 0.9 -1 1 0.1 0.9 0 1 3.2 0.9 19.4 1 2.8 0.9 2.2 0.9 -3.3 1 -7.2 0.9 0.1 1 -5.3 0.9 3.1 1 16.9 0.9 0.4 1 4.5 0.9 -3.5 0.9 -13.3 1 0.5 0.9 -5.5 1 2.4 0.9 3.6 1 -4 0.9 15 1 0.4 0.9 3.1 0.9 -1.7 1 0.6 0.9 -2.6 1 0.2 0.9 -14.4 1 -1.6 0.9 0.1 0.9 -0.6 1 0.3 0.9 2.6 1 -1.1 0.9 14.7 1 2.3 0.9 0.5 1 3.2 0.9 0.4 0.9 -2.3 1 -24.5 0.9 0.4 1 -2.4 0.9 3.9 1 11.4 0.9 -0.1 1 -0.5 0.9 1.3 0.9 1 1 9.7 0.9 0.7 1 0.6 0.9 -1.6 1 -12.4 0.9 -1.7 0.9 -0.1 1 1.1 0.9 14.3 1 2 0.9 -1.2 1 0.6 0.9 1 1 -4 0.9 -19.2 0.9 1.6 1 0.4 0.9 1.1 1 0.9 0.9 -1.8 1 27.9 0.9 1.8 1 -0.6 0.9 2.4 0.9 -1.1 1 0.5 0.9 -5.9 1 3.6 0.9 -3.3 1 -1.7 0.9 -1.9 0.9 -16.7 1 -1.1 0.9 0.4 1 0.7 0.9 2.7 1 29 0.9 4.3 1 -1.2 0.9 -0.1 0.9 0 1 -17 0.9 0 1 -2.1 0.9 0 1 -1.8 0.9 0.2 1 -13.6 0.9 -2 0.9 2.6 1 10.8 0.9 -1.1 1 1.4 0.9 0.5 1 -7.9 0.9 -3 0.9 3.1 1 -1.6 0.9 1.9 1 13.2 0.9 -0.3 1 0.5 0.9 -1.1 1 1.1 0.9 -12.7 0.9 -0.1 1 0.8 0.9 -0.4 1 13.6 0.9 1 1 0.3 0.9 0.2 1 1.2 0.9 -1 0.9 1.9 1 -3.9 0.9 -12.3 1 -4.9 0.9 2.8 1 15.1 0.9 1.9 0.9 4.5 1 -1.9 0.9 3.8 1 0 0.9 -1.8 1 -5.7 0.9 -29.5 1 -7.1 0.9 3.3 0.9 1.8 1 27.6 0.9 3.4 1 -4.8 0.9 -2.2 1 -24.6 0.9 0.7 1 -2.7 0.9 -0.1 0.9 2.7 1 9.4 0.9 1.3 1 1.9 0.9 -0.5 1 -1 0.9 -3.8 0.9 1.3 1 0.5 0.9 16.2 1 -1.4 0.9 4.2 1 -2.6 0.9 0.3 1 0.2 0.9 4.8 0.9 -0.7 1 -1.5 0.9 -2.6 1 -9.9 0.9 -1.8 1 2.3 0.9 -3.1 1 -1.8 0.9 -0.7 0.9 -8.8 1 -3.4 0.9 0.8 1 0.5 0.9 12.1 1 0.4 0.9 -1.4 0.9 0.4 1 22.8 0.9 7.2 1 -0.9 0.9 -3.1 1 2 0.9 5.8 1 -3.3 0.9 3.6 0.9 0 1 -0.8 0.9 -4.4 1 -0.6 0.9 0.2 1 -2.8 0.9 0.1 1 -10.1 0.9 -4.1 0.9 1.2 1 -2.2 0.9 0.4 1 -15.7 0.9 -2.2 1 0.7 0.9 3.7 0.9 1 1 21 0.9 4 1 -1.2 0.9 -2.4 1 -21.2 0.9 -0.4 1 -3.3 0.9 3.5 0.9 -2.2 1 9.8 0.9 2.1 1 -0.9 0.9 2.9 1 3.3 0.9 -2.6 1 1 0.9 -11.9 0.9 -2.1 1 0.4 0.9 -3.8 1 1.6 0.9 -1.2 1 -0.1 0.9 -1.8 0.9 0.5 1 11.1 0.9 3 1 -1.4 0.9 -4.3 1 0.4 0.9 -3.5 1 -16.7 0.9 -3.1 0.9 1.7 1 2.2 0.9 -0.6 1 22.3 0.9 0.3 1 3.8 0.9 -1 1 -2.9 0.9 -12.7 0.9 1.4 1 -2.5 0.9 0.4 1 0.1 0.9 1.6 1 0.1 0.9 -1.3 0.9 -7 1 0.9 0.9 0.4 1 0.5 0.9 8 1 5.3 0.9 -1.6 1 -4.2 0.9 -15.4 0.9 -4.4 1 -0.3 0.9 1.4 1 10.7 0.9 -0.8 1 1.4 0.9 -1.6 1 -11.6 0.9 -3.1 0.9 -3.6 1 2.7 0.9 8.7 1 2.3 0.9 -4 1 0.1 0.9 -11 0.9 -5.3 1 1.1 0.9 -0.7 1 2.9 0.9 16.8 1 0.3 0.9 -2.2 1 1.7 0.9 -12.5 0.9 -2.2 1 0 0.9 -3.4 1 0.2 0.9 -2.5 1 1 0.9 -11.6 1 0.7 0.9 -2.6 0.9 -1.8 1 -6.1 0.9 1.1 1 3 0.9 5.1 1 4.4 0.9 -3.8 0.9 2.9 1 -2.2 0.9 3.4 1 2.1 0.9 -6.1 1 -11.2 0.9 -4.5 1 4.6 0.9 -2.6 0.9 -8.7 1 -7.5 0.9 9.1 1 -4.5 0.9 -4.2 1 3.4 0.9 -3.5 1 4.4 0.9 -5.6 0.9 1.2 1 -9.6 0.9 -1.5 1 1.5 0.9 3.8 1 -3.5 0.9 0.8 0.9 1.1 1 0.1 0.9 -6 1 -2 0.9 2.2 1 1.2 0.9 -3.4 1 2.5 0.9 6.2 0.9 0.9 1 -0.2 0.9 1.1 1 -10.8 0.9 1.6 1 -0.3 0.9 -7.4 1 -3.1 0.9 0.4 0.9 -0.2 1 -1.7 0.9 4.5 1 -0.3 0.9 3.3 1 -2.8 0.9 -0.9 0.9 -6 1 -0.8 0.9 1.8 1 -2.2 0.9 2.6 1 -0.4 0.9 1.9 1 -2.4 0.9 3.4 0.9 -5.4 1 1.2 0.9 -1 1 1.7 0.9 4.8 1 -0.5 0.9 0.3 1 0.7 0.9 -14.4 0.9 0.7 1 -1 0.9 0.9 1 6.2 0.9 2.5 1 -1.5 0.9 -0.8 0.9 9.5 1 -1.4 0.9 4.3 1 9.7 0.9 4.6 1 -5.3 0.9 -11.5 1 -2.1 0.9 0.3 0.9 -1.8 1 -2.1 0.9 -1.2 1 3.2 0.9 -1.5 1 -7.9 0.9 0.8 1 -2.5 0.9 2.3 0.9 4.1 1 0.8 0.9 1.6 1 0.3 0.9 7.5 1 3.8 0.9 -1.4 0.9 2.3 1 8.1 0.9 -4.1 1 4.3 0.9 2.7 1 4.9 0.9 1.4 1 -2.5 0.9 0.1 0.9 5.7 1 0.9 0.9 -2.6 1 11.7 0.9 1.7 1 0.9 0.9 3.7 1 5.7 0.9 1.6 0.9 -3.9 1 9.5 0.9 -3.5 1 -0.9 0.9 -4.3 1 -4.3 0.9 -2.5 0.9 16.4 1 1 0.9 1.3 1 0.9 0.9 0.8 1 -5.3 0.9 5.3 1 0.3 0.9 -0.2 0.9 14.7 1 3.3 0.9 -5.3 1 0.3 0.9 15.8 1 3.1 0.9 -2 1 -5.5 0.9 -16.5 0.9 3.8 1 -1.3 0.9 2.8 1 15.7 0.9 -1.7 1 -1.5 0.9 19.8 0.9 3.3 1 2.5 0.9 -2.3 1 -11.8 0.9 -2 1 -2 0.9 6.2 1 12 0.9 3.1 0.9 -3.1 1 -18.2 0.9 -1 1 2.3 0.9 2.2 1 8.6 0.9 -4.2 1 6.2 0.9 31.7 0.9 2 1 3.2 0.9 -3.3 1 -5.5 0.9 1.3 1 -4.8 0.9 -0.1 0.9 -19.3 1 -2.6 0.9 -2.2 1 4.7 0.9 2.5 1 0.2 0.9 -2.5 1 9 0.9 30.8 0.9 4.6 1 2.2 0.9 -2.7 1 -23.7 0.9 1 1 -1.1 0.9 1.3 1 28.8 0.9 3.2 0.9 -3.1 1 -5.9 0.9 -35.4 1 -2.8 0.9 0.6 1 -1 0.9 5.5 0.9 2.5 1 0.6 0.9 2.4 1 31.6 0.9 -1.2 1 1.5 0.9 9.5 1 2.4 0.9 -5.1 0.9 -24.9 1 -7 0.9 2.4 1 7.7 0.9 3.6 1 -0.8 0.9 -18.9 1 -2.3 0.9 0.9 0.9 0 1 29.6 0.9 1.6 1 -1.7 0.9 1.2 1 -23.8 0.9 -4.7 0.9 -1.1 1 4.1 0.9 11.5 1 -1.3 0.9 0.4 1 11.1 0.9 2.3 1 -0.6 0.9 -2.1 0.9 -10.3 1 -1 0.9 -4.7 1 -9.4 0.9 -3.8 1 2.2 0.9 4 1 -1 0.9 -1.3 0.9 2.1 1 -16.7 0.9 -1.5 1 1.4 0.9 -1 1 22.2 0.9 -3.1 0.9 2.4 1 1 0.9 -2 1 3.4 0.9 -2.2 1 2.3 0.9 -15.4 1 2.8 0.9 -3.4 0.9 0.4 1 9.1 0.9 1.7 1 0.2 0.9 -16.9 1 -1.6 0.9 -4.3 1 2.1 0.9 -14.4 0.9 3 1 -2 0.9 -0.9 1 20.7 0.9 -1.3 1 -0.1 0.9 -11.5 0.9 0.7 1 -1.9 0.9 1.1 1 -0.9 0.9 11.1 1 3 0.9 0 1 -0.1 0.9 -2.4 0.9 -17.7 1 -1.2 0.9 1.7 1 12.4 0.9 -0.3 1 0.3 0.9 1.7 1 -0.3 0.9 -0.8 0.9 -1.5 1 -11.7 0.9 -2.1 1 -1.6 0.9 -8.6 1 -0.9 0.9 2.4 0.9 14.1 1 4.6 0.9 -2 1 -1.8 0.9 8 1 1.5 0.9 -2.2 1 -6.2 0.9 2.4 0.9 15.9 1 1.3 0.9 -3 1 -26.3 0.9 -5.5 1 2.6 0.9 12.6 1 0.6 0.9 0.5 0.9 2 1 -1.1 0.9 -3 1 -8.7 0.9 -0.9 1 -0.2 0.9 8.4 0.9 0.6 1 -1 0.9 0.6 1 -3.4 0.9 2.8 1 -3.7 0.9 0.3 1 1.2 0.9 -2 0.9 -9.6 1 1 0.9 -1.8 1 0.1 0.9 7.7 1 -0.5 0.9 1.9 1 0.6 0.9 6.5 0.9 0.5 1 -0.2 0.9 -2.9 1 -2.2 0.9 1 1 -0.9 0.9 -0.9 0.9 5.6 1 -2.5 0.9 1.6 1 -1.9 0.9 0.6 1 -4.1 0.9 -1.1 1 0.2 0.9 -0.8 0.9 -3.5 1 -0.8 0.9 -0.6 1 -0.5 0.9 -5.1 1 -3.5 0.9 4.4 1 -4.6 0.9 4 0.9 -2 1 -2.4 0.9 4 1 -6.1 0.9 -4.1 1 -0.6 0.9 0.2 0.9 5.9 1 -0.2 0.9 -15.5 1 1.2 0.9 1.5 1 2.6 0.9 -1.1 1 1.6 0.9 -7.9 0.9 -1.1 1 -8.3 0.9 1.9 1 3.3 0.9 -3.8 1 -14.5 0.9 3.3 1 7.6 0.9 -4.1 0.9 -9.4 1 -0.4 0.9 -5.3 1 -2.5 0.9 3.8 1 -3.3 0.9 -6.1 0.9 -6.8 1 -10.8 0.9 3.1 1 1.7 0.9 -8.9 1 3.2 0.9 -12.9 1 7 0.9 -4 0.9 -4.2 1 -1.2 0.9 -2.4 1 2.3 0.9 -6.4 1 7.4 0.9 -13.1 1 2.8 0.9 -15.7 0.9 9 1 -11.3 0.9 3.2 1 4 0.9 -6.8 1 0.9 0.9 -1.7 0.9 -2.9 1 -1.5 0.9 -0.1 1 -4.3 0.9 -2.1 1 -3.3 0.9 0.8 1 -11.5 0.9 -12.5 0.9 2 1 3.3 0.9 7.9 1 -6.4 0.9 -1.7 1 6.7 0.9 -18.4 1 -1.3 0.9 -0.6 0.9 1.8 1 -9 0.9 -2.8 1 7.6 0.9 -7.6 1 -1.3 0.9 -2.9 0.9 2.9 1 2.8 0.9 -0.4 1 1.3 0.9 9.3 1 -17.2 0.9 -7.3 1 -17.3 0.9 -3.9 0.9 14.9 1 -2.9 0.9 0.1 1 6.9 0.9 1.1 1 -4.5 0.9 -0.1 1 -9.5 0.9 -6.7 0.9 -1.4 1 -2.6 0.9 3 1 -2.8 0.9 0.5 1 3.5 0.9 -2.7 0.9 3.7 1 -7.8 0.9 -3.9 1 -0.6 0.9 -1.2 1 -11.9 0.9 1.6 1 -3.4 0.9 -7.9 0.9 0.4 1 1.4 0.9 16.9 1 1.3 0.9 0.2 1 8.1 0.9 -1.3 1 3.6 0.9 4.5 0.9 1.5 1 -9.5 0.9 -33.5 1 -1.3 0.9 2.2 1 16.7 0.9 -2.8 0.9 -1.6 1 3.9 0.9 1.2 1 1.8 0.9 -2.8 1 -2.5 0.9 -24.3 1 4.7 0.9 -2.6 0.9 -7.1 1 1.5 0.9 -0.7 1 14.3 0.9 -1.4 1 2.3 0.9 -11.1 1 0.1 0.9 0.8 0.9 -4.1 1 -0.6 0.9 0.7 1 1.2 0.9 17 1 1.7 0.9 1 0.9 -2.2 1 -22.7 0.9 -3.9 1 4.5 0.9 21.1 1 1.4 0.9 1.5 1 2.4 0.9 2.7 0.9 -25.1 1 -2.2 0.9 4.6 1 -2.4 0.9 16.9 1 3.1 0.9 -3.6 1 -12.4 0.9 -1.1 0.9 5.4 1 22.1 0.9 -0.5 1 -2.4 0.9 -20.6 1 -6.8 0.9 1.5 0.9 9.7 1 2 0.9 -0.9 1 0.4 0.9 2.9 1 -1.5 0.9 4.4 1 -15.5 0.9 2.1 0.9 4.8 1 4.3 0.9 -1.8 1 0.8 0.9 13.5 1 3.4 0.9 11.3 1 3.8 0.9 5.9 0.9 15.4 1 -10.6 0.9 -12.3 1 6.9 0.9 17.7 1 -0.9 0.9 15.9 0.9 -27.4 1 11.2 0.9 -3.4 1 9.9 0.9 11.5 1 30.1 0.9 -3.7 1 7 0.9 -15.4 0.9 -4.2 1 17.8 0.9 3.7 1 4.4 0.9 -28.9 1 -1.4 0.9 6.4 1 23.5 0.9 2.8 0.9 2.6 1 -1.3 0.9 22.8 1 -3.8 0.9 -20.3 1 2.2 0.9 2.7 0.9 2.3 1 0.7 0.9 0 1 8.1 0.9 1.2 1 1.1 0.9 -16.6 1 -7.4 0.9 -0.1 0.9 6.4 1 9.5 0.9 1.2 1 6.3 0.9 -5.5 1 14.9 0.9 0.4 1 20.1 0.9 4.4 0.9 16 1 -4.2 0.9 -11.3 1 -4.8 0.9 -1.1 1 6.1 0.9 19.3 0.9 -2.8 1 3 0.9 -5.8 1 14.3 0.9 1 1 1.3 0.9 -26.8 1 2.3 0.9 0.4 0.9 -0.8 1 7.9 0.9 1.9 1 -2.8 0.9 2.6 1 -7.2 0.9 2.1 1 -2 0.9 1.9 0.9 13 1 2.2 0.9 2 1 -1.4 0.9 11.3 1 1.5 0.9 -4.4 0.9 1.2 1 -5.7 0.9 -2.4 1 0.3 0.9 1.7 1 -5.2 0.9 -3.3 1 3.4 0.9 -0.3 0.9 5.7 1 1.7 0.9 -0.1 1 -1.4 0.9 -13.3 1 -3.7 0.9 6.3 1 -1.1 0.9 20.9 0.9 3.3 1 1.4 0.9 -1.5 1 -13.6 0.9 -2.2 1 0.8 0.9 0.5 0.9 13.9 1 -0.9 0.9 0.7 1 -1.3 0.9 -9 1 -0.5 0.9 1.7 1 15.9 0.9 2.8 0.9 -0.2 1 -3.9 0.9 -23.2 1 -3.5 0.9 1.9 1 1.9 0.9 13.6 1 3.1 0.9 -1.2 0.9 2.2 1 0 0.9 -6.4 1 -2.9 0.9 4.3 1 1.3 0.9 1.8 0.9 -1.4 1 1.6 0.9 -5 1 -12.8 0.9 3.5 1 -5.5 0.9 3 1 1.8 0.9 4.9 0.9 -2.8 1 -1.4 0.9 3.3 1 -13.8 0.9 -0.1 1 -3.9 0.9 2.6 1 11.5 0.9 3.4 0.9 -1.3 1 2.2 0.9 -4.5 1 2.4 0.9 -4.2 1 1.8 0.9 -13.4 0.9 3.1 1 1.5 0.9 -6.5 1 0.2 0.9 -5.1 1 -8.4 0.9 2.9 1 0.2 0.9 -1.7 0.9 3.2 1 -1.1 0.9 -2 1 -1.5 0.9 -4.8 1 2.5 0.9 -3.4 1 1.4 0.9 2.4 0.9 -5.4 1 -14 0.9 4.5 1 -3.3 0.9 -0.2 1 -1.4 0.9 -0.2 0.9 2 1 -5.6 0.9 0.2 1 -3.1 0.9 -5.2 1 -7.4 0.9 -1.4 1 -6.8 0.9 -0.4 0.9 -1 1 7.1 0.9 3.7 1 -5.9 0.9 2.8 1 -13 0.9 1.7 1 -1.9 0.9 -13.8 0.9 9.1 1 -10.9 0.9 0.9 1 2.3 0.9 2.4 1 -0.7 0.9 2.1 0.9 -8.9 1 -2.4 0.9 0.2 1 1.5 0.9 -15.4 1 2.2 0.9 -1.1 1 2.1 0.9 8.2 0.9 -0.2 1 -21.7 0.9 8 1 -14.9 0.9 -4.1 1 5.8 0.9 -7.8 1 -0.2 0.9 1.4 0.9 2.4 1 -0.3 0.9 0.2 1 -12.1 0.9 2.3 1 -2.9 0.9 -1.8 0.9 0.4 1 -2.1 0.9 1.2 1 7.1 0.9 -2.4 1 1.5 0.9 -4.3 1 -0.8 0.9 -2.5 0.9 -15.6 1 2 0.9 -2.4 1 10.4 0.9 0.2 1 0.5 0.9 -17.6 1 -0.3 0.9 0 0.9 16.7 1 2.6 0.9 -1.3 1 0.1 0.9 2.8 1 0.3 0.9 0.3 0.9 9.7 1 3.1 0.9 -0.5 1 8 0.9 1.5 1 -3.9 0.9 -13.3 1 -4.5 0.9 3.5 0.9 7.3 1 3 0.9 -0.8 1 1.6 0.9 -4.8 1 -0.5 0.9 2.2 1 -5.3 0.9 5.9 0.9 4 1 3.7 0.9 3.8 1 6.2 0.9 -3.8 1 0.9 0.9 -7.1 0.9 -3 1 10.9 0.9 -1.2 1 4.7 0.9 8 1 1.1 0.9 -13.2 1 4.2 0.9 7.3 0.9 -0.4 1 3.1 0.9 29.6 1 1.9 0.9 7.8 1 1.1 0.9 -0.8 1 -0.3 0.9 7.2 0.9 1 1 -7.5 0.9 4.7 1 -4.9 0.9 17.9 1 -6.8 0.9 0 0.9 -11.4 1 5.8 0.9 -3.9 1 19.1 0.9 1.8 1 3 0.9 0.4 1 7.9 0.9 2.6 0.9 1.1 1 11.6 0.9 3.2 1 2.4 0.9 -25.6 1 -4.6 0.9 0.9 1 0.4 0.9 21.8 0.9 2.5 1 1.3 0.9 -4.3 1 -3.6 0.9 -0.2 1 -1 0.9 14.8 0.9 3 1 -0.4 0.9 17.2 1 -1.6 0.9 1.2 1 1.8 0.9 -12.4 1 -5.2 0.9 1 0.9 1.5 1 9.3 0.9 1.2 1 0.2 0.9 -7 1 0.2 0.9 1.6 1 -19.1 0.9 -0.8 0.9 1.2 1 -1.5 0.9 11.3 1 2.2" stroke="#231f20" stroke-width="4.8"/>
</g>
<text transform="translate(171.5 2718.6) scale(1 1.025)" font-size="46" text-anchor="end" fill="#3f3f41" >2</text>
<text transform="translate(171.5 2825.6) scale(1 1.025)" font-size="46" text-anchor="end" fill="#3f3f41" >1</text>
<text transform="translate(171.5 2932.6) scale(1 1.025)" font-size="46" text-anchor="end" fill="#3f3f41" >0</text>
<text transform="translate(171.5 3039.6) scale(1 1.025)" font-size="46" text-anchor="end" fill="#3f3f41" >-1</text>
<text transform="translate(171.5 3146.5) scale(1 1.025)" font-size="46" text-anchor="end" fill="#3f3f41" >-2</text>
<text transform="translate(188.2 3194.8) scale(1 1.025)" font-size="46" text-anchor="middle" fill="#3f3f41" >2016</text>
<text transform="translate(533.6 3194.8) scale(1 1.025)" font-size="46" text-anchor="middle" fill="#3f3f41" >2017</text>
<text transform="translate(878.2 3194.8) scale(1 1.025)" font-size="46" text-anchor="middle" fill="#3f3f41" >2018</text>
<text transform="translate(1222.6 3194.8) scale(1 1.025)" font-size="46" text-anchor="middle" fill="#3f3f41" >2019</text>
<text transform="translate(1567.2 3194.8) scale(1 1.025)" font-size="46" text-anchor="middle" fill="#3f3f41" >2020</text>
<text transform="translate(878.8 3262.0) scale(1 1.025)" font-size="50.6" text-anchor="middle" fill="#3f3f41" >Date</text>
<text transform="translate(87.8 3020) rotate(-90)" font-size="50.6" fill="#3f3f41">T<tspan dy="-23.4" font-size="40">0</tspan><tspan dx="-22.2" dy="46.8" font-size="40">33</tspan><tspan dy="-23.4"> (kPa)</tspan></text>
<text x="203.5" y="2755.7" font-size="54" fill="#231f20">(c)</text>
</svg>
</div></body></html>
